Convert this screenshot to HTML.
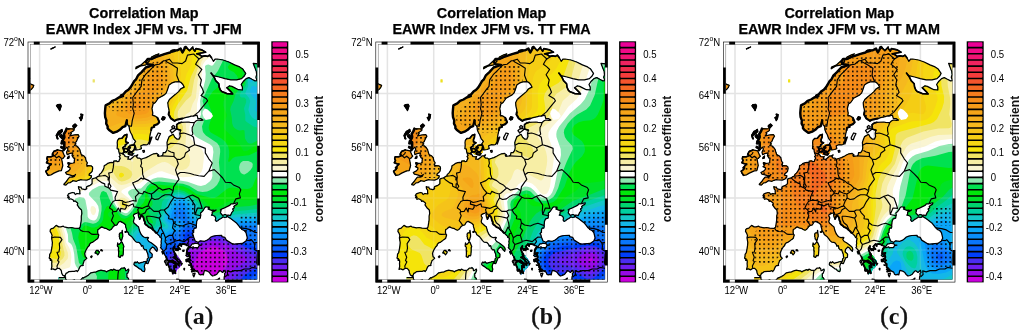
<!DOCTYPE html>
<html><head><meta charset="utf-8"><style>html,body{margin:0;padding:0;background:#fff;overflow:hidden}svg{display:block;will-change:transform}</style></head>
<body><svg width="1024" height="332" viewBox="0 0 1024 332">
<defs><clipPath id="fr"><rect x="28.5" y="42.5" width="230.6" height="239.1"/></clipPath><path id="land" d="M267.5 289.2l0-212.6-3.9-7.8-1.9-4.5-3.9-.4-4.6-.6 1.1 2.9 2 5.2 .4 3.3-.8 2.6 1.1 3.3-1.9 .3-3.1-1.6-3.1-1.7-2.7 1-2.7 2.6-2.3 3.3 1.2 2.6 0 2.9-3.9-.3-2.7-1.3-3.9-2-2.3-.6-2.7 1.9 3.9 3.9 1.9 2.3-5.8-.3-5-2-1.5-1.6-1.2-2.9-.4-3.3-3.1-3.2-1.5-3.3-3.1-4.2 2.3 2.6 5.8 1.3 5.8 1.6 5.8 1.3 5.8 0 5-1.3 2.7-2.6 1.4-2.6-2.9-4.3-3.1-2.2-5.1-2-5.8-2.9-5.7-2-5.8-1-2 0-1.9 2.3-1.9-3.6-2-2.6-1.9 1.3-2.7-.6-3.1 .6-1.9-1.6-3.1-1 8.9-1.6-3.9-2.3-5.8-1.3-1.1 2.6-2.7-3.6 .7-.5-3.4 3.5-3.1-3-.8-.7-3.1 5.6-1.9-3.9-3.1 1.6-4.7 .4-2.7 1.9-5 1.3-5.8 2-3.8 1.3-3.9 1.9-3.9 0-1.9 2.7 1.9 2.6 5.4 .6-7.3 2.6-4.2 4.6-3.5 3.2-2 4-1.9 1.9-1.9 3.3-1.6 2.6-2.3 2.6-2.7 1.9-2.3 2.7-2.7 1.3 2.3 .6-4.2 1.3-3.1 2-3.5 1.3-2.7 2.6-3.9 1.9-.4 3.9-.3 4 .3 3.9 1.2 3.2-.2 3.3 1.4 2.6 0 2 1.5 1.9 4.1 2.8 3.6-1.2 3.1-1.9 2.7-2.6 2.7-1 1.6-5.9 .8 4.6 1.1 1 .4 1 .4 3.2 1.1 2.6 1.2 2 1.4 3.9 2.3 2.8-1.6 2.4 1 1.6 1.1 3-.7 1.4 1.3 .1 2.5-.4 2.2-.8-.6-2.9 2.5-1.1 2.9 .1 1.5-.3 1.6-3 .4-4.2 .5-3 1-4.2 .4-2.3 2.7-.9-.4-1.4 3.5-1.3 1.9-1.9-.7-2-1.2-2.6-2.3-1.6-2.7-.9 .4-2-.8-4.7 1.1-4.5 2.2-1.5 2.1-3 .8-1.3 6.1-3.3 2-2 1.5-4.2 1.2-3.6 2.5-1.9 3.3-1.3 4.4-.2 1.6 .6 2.1 2.2 1.3 2.6-2.1 1-1.5 .9-2 2.6-3.4 3-2.4 1.9-3.4 3-1.6 3.2 .4 3.9 .8 3.3 0 2.4-.4 2.2 1.2 1.9 1.1 2 3.7 2.5 2.1-1.2 5.6-1.1 2.9-.9 4.6-1 1.2-.6 2.3 0 3.7-1 .9 3.3 3.1 .3 2 1.4-2 .2-3.1-.3-1.9 1-1.7 1.6-4.1-.3-1.9-.3-6.8 .3-2.7 .8-2.1 1.5 0 1.9 0 2.5 3.9 1.2-.8 3.2 .4 3.2-1.2 2.6-1.9 0-2.3-1.9-1.6-3-4 2.3-1.4 3.3-.8 2.6 .2 2.8 .2 2.4-.5 2.6-1.6 2.3-2.1 0-.4 2.3-1.2 1-3.6 .4-.4-.9 1-.5-1.8-1.5-3.1 .4-2.7 1.2-1.7 1-3.2 1.6-3 .9-2.1 .8-1.4-1.2-1.9 0-1.2-1.3 1.2-1.9-1.6 1-1.9 0-1.5 1.7-2.5 1.9-1.8-.7-.6 .3 1-2.6-1.1 .3-2.6-.3-.5-1.3-2.2-1.6 1.8-1.3-.8-3.3-.6-1.3 1.4-1 1.3-.9-.2-1 2.9-2-2.5-1 0-2.2 1-2.5 0-.8 .2-1.9-2.5 .9-2.5 3-2.7 .2-1.6 1.7-.4 2.3 .2 2.6-.3 3.5 1.5 .6 .2 2.1 .4 1.6 1.1 2.6-1.1 1 1.1 1.6-.8 1.5-.7 1.8-1.6 .3-.7-.9-2.8 .3 0 1.9-1.1-.3-.4-.3-2.3 .3-2.7 1-.4 .5-1.2 .8-1.3 .6-.4 2.3-.3 .9-.2 .6-1 1.8-.6 .8-.8 1.1-1.5 1.3-.4 1.4-.4 .3-1.6 .8-1.3 .9-.8 .2-1.9 .6-1.1 .6 .1 1 0 2.4 0 1-.9 .9-1.1 .8-2.7 1.1-.7 .4-.4 1.4 .5 .5-.6 .4-1.2 .5-2-.5-1.1-.2-.9-1.4 .1-.5-1.4 .2-1.3-.5 .4 2.1 1 1.3 0 2.3 .3 1.4-1.9-.1-1.2-.2-1.7 1-1.1-1.7-1.6-.3-2.1 .7-1.9 .6-1.1 2 1.4 .2-.7 .6 1.1 .7-1.6 .4 .9 .2 .5 1.3 1.7-.4 2.1 .9 1 1.6 1.2-.4 2.3 1.8 .4 1.1-.6 1 1.9 2.9 2.4 2.3 .4 3.4-.6 2.8 0 3.6-.4 2.9-.6 3.6-.3 1.1-.9 .7-.9 .3-3.9-.2-3-.7-2.7 .4-4.5-1-.8-.7-2.5 .7-2.1 0-2.5-1.5-2.1 2-.6 .7-1.9 .5-1.2 .9-.3 1.8 1.1 1.8 .9 2.4-.5 2.4 .2 1.1 .6 3.6-.3 3.3-.5 3.2-.7 3.6-1.2 1.6-.1 2.3-.4 1.4 .4 .6 1 .1-.3 1.7 1.3-.5 .3 1.9-.2 1.6 .2 3-.7 3.1 1.2-.5 .6-.1 2.3 .9 1.1-.9 1-.4 1.7-.2 1.5 1.3 .8 1.3 .2 1.8 1 2.3 1.7 1.1 1-.8 .7-1.9 1.1-.5 1.8-1.3 3.4-.2 2-.1 2.2-.6 .9 .8 1.2-1.7 1.2-2.8 1.2-1.3 1.2 0 1-.2-.3-1.4 .4-.8 .5-1.5 .3-1 1.3-1.2 1.4-1.2-.5-.8-1-.8-.6-3.1 .4-1.5 .8-1.9 .8-1.5 1.1-1.8 1.5-1.5 .1-1 1.4-1.6 2.1-.8 1.4-1 1.7-1.5 .8-.4 1.2-1.2 .3-1.3 .5-1.7-.7-.8-.4-1.7 0-1.3 .2-1.7 1.6-.8 .7-.8 1.6-1 1.5 .7 1.4 .6 1.9 .4 .8 .6 1.4 .7 .9 .3 1.3-.7 .6-.7 1-1.2 .4-.7 1-.9 .9-.6 1.1-.2 1-.4 1.7-2.8 1.7-.6 1.8 1 1.7 .9 1.6 1.5 .2 2.1 .8 2.3 0 1.8 1.7 1.5 .6 1.9 2.7 2 1.6 1.9 1.6 2.3 1.6 1.5 2.1 .2 1.2 .6 1.4 1.8 .4 1.5 1.5-.5 .6 2.7 1.4 1.5 1.4-.3 .7 2.4 .9 2.2 .2 2.4 .4 1-1.4 1.5 .3 1.2-.7 1.2-.3 1 .1 .9 1.5 .2 .8-2 1.1-2.9 .2-.9 1.9-.5 .1-1.2 .1-2-2.5-2.4 .4-2.3 2.4-2.4 1.8 1.1 1.1 1.7 1.5 1.6 .5-2.3-.6-1.6-1.5-1.6-2.5-2-1.7-1.2-2.3-1.2-1.4-2 1.1-1.8-.8-.3-2.3 .2-1.6-.6-1.1-.7-1.1-1.5-.7-.8-1.4-3.2-.3-1.5-.7-2.4-.4-.4-1.1-.7-1.2-1.3-1.3-.9-.7-.9-.4-1.4 1-3.5-1-1.8 .2-1.3 1.4-.8 .7-.3 1.9-.6 .6-.7 .9 .9-.1 .7-.6 .1-.2 .7 .3 1.3 .1 1 .8 1.3 .2 .7 1-2 .6-1.7 .5 0 1 1.1 .8 1.1 .6 3 .9 1.5-.2 1.2 .8 1.3 1.8 1.3 1.3 1.3 .7 .2 1 .4 1.3 .9 1.6 1.6 1 .6 1.5 2 1.7 1.3 1.2 1.1 1 1.2 .4 1.1 1.5 .8-.5 3.2 .2 2.1-.4 1.3 .3 2.1-.7 .5 .4 .6 1.3 1.3 1 1.5 .8 1.8 .2 .6 .5 1.5 1.4 2.1 .6 1.7 .7 1.9 1.3 .2 1.3 .3 2.5-.7 2.3 1.8-.3 1.4-3.3-2-1.2-.3-.1 .3-1.3 .6-1 1.5 .8 1.8 1.2 2.6 0 2.2 .2 .6 .9 .1 .6-1.5 1.1 2.2 .4 2.1 .3-2.4 .7-.4 1.2 2 .5 .4-.5-1.7-.8-2 .1-.9-.3-2.8 1.4 .8 .9 .7-.6-.2 .6-1.5-1.1-1.6-.4-.5 1.3-.5 1.1 .4 .3 .6 1.3 1.3 0-.4-.1-2-.1-.9-1.5-1.3 0-.7-1.2-.9-1.5-1.3-1.2-.5 1.2-.5 1.1-.6-.9-2 1.3 1.3-.4-1.6-1.1-1.3-.8-2-.4-1.3 0-1.1 1.4-2.3-.4 1.5 1.9 2.8 .4-1.5 1.4 1.5 .4-1.9 1.8 .7-1.5-1.6-.7-.8 2.3-2.7 1.1 .5 1.6-.6 3 .6 .6 .7 .2 .2 2.4 .8-2 2.6 0 1 .7-.7 1.2-1.7 1.6-1.2 1.6-2.4 1.7 0 1.2-.7 1.3 .3 1.4 .2 .3-1.3-2.9-1.3-1.2-3.1-.5-1.5-.6-2.1-.9-.5 .7-.3 .3-.8 .7-.2-.1-.8 .2-2.5 .9-1.3 1.2 .3 .5-1.3-.1-1.7 .3-2.3 0-1.2 .6-1.6 .7-1.3 2.4-.7 .2-1.6 .3-1.3-.1-.7-.2-1.6 1.3-1 .8-.9 1-1.3 1.1-1.9 1-.9 2.1 .1 1.4 0-1.2 .4 1.5 .6-1.5 1 3.5 1.3 1.5-.1 2.3 .4 .8-.6-1.9 1.3-2 .6 0 2.3-.7 1 1.1 0 2.2 1 .9 1.9-.4 2 1 1.3 1.5-.7 1.1-1.1 2.1-1.1 1.7-1.2 .4-.5 1.5 .7 1.9-.3 .4-1.7-.1-.3-1.4-.7-.8 0-1.9 1-2.3-2.6 .7-2.6-.7-.4 1.9-1.2 .4 0 5.4-2.6 1.9-1 1-1.3 2.1 0 3.1-.8 1.3-.2-.5 1.6-2 1-1.2 1 .5 1.3-1.6 1.3 .7 1.6-1.5 1.7-.7 1.6-.9 1.8-1.8-.5-1 0 .2 1.6 2.3 1.3 1.9 1.3 1 .9 3.9 3 2.6 3.4 .7 1 1.4 .7 .3 1.1 2.5 1 1.7 2 .9 3.6 .4 2.1-.6 1.1-.7 1.7-3.6 2.4-3 .2-5.2 .5-2-.4-3.5-2.1-2.4-1.5-1.5-2.7-2.9-.7-.2-1.4-5.3 .2-3 .6-2.4 .9-2.2 2-1.5 1.1-2.8 1.2-4.2-.5-2 1.5-.3 1.1 1.1 1.3 .4 .2 2 .2-1.6 .3-.9 .4-.7 1.5-.8 .3-1.9-.1-1.6 .3-.7-1-1.9 .7-.8 0-1.6 .3-1.1 1.3-.8 1-.2 1.9-.3 1.5 1.1-.1 2.3-.6-.9 1.8 .7 1.5 .2 1-.7 1.7 .9 1.4 .6 .2-2.5-1.8-.4 1.6-.4 .8 2 .8 .7 1.3 1 .9 0 2.1 .1 1.1 1.2 .8-1.1 1.6 2.7-.3-2.3 2.3 3.3-1 2.1 1 1.1 .5 .8 2.1 1.3 .7 1.3-.2 .7-.5 1 .7 .6-2.7 .5-1.8 2.7 .7 2.3 1.5 1.2 1.8 1.9 1.6 2-.5 2.3-1.3 1.5-2 1.3-1.3 1 0 1.9 1.5 1.6-1.3 .8-.8 .6 2.1-1.1 1.2 .3 2-.6 1.5-.1 2.2 .5 3.4 .4 6.5zM63.9 184.6l2 .5 2.3-2.2 1.9-.3 2.3-1.3 .4-.7 3.7 .7 2.1-1 2.3-.6 1.9 .3 4.1 .1 2.7-1.1 1.6-1.5 .3-1.6-2.5-.8 .4-1.3 1.4-1 1.3-1.5 .6-2.6-.2-1.8-1.5-1.1-3.1-.2-.8 .7-.4-1.6 .6-2-1-1.3-.7-2.6 0-.8-2-2.3-2.3-1.1-.8-2.3-.7-2.6-1.6-2.4-1.9-1.5-2-.4 1.7-1.5-1.3-1.1 1.6-1 1.5-3.5 1.3-2.1-.9-1.5-3.9 .2-4.6 1.1 1.7-2.4-.9-.9 3.5-2.3 .2-1.9-2.6 .3-5-.1-1.1 2.7-1.6 2.6 .4 3-1.5 3.5-.8 .7 2.3 1.3 0 4.6-.8 3.2 1.2-.6 2.3-2.6 1 1.9-1.4 3.3 .6 2.4 2.1-1.1 3.5-.7-.8 2.6 1.6 2.6 1.1 0-.4 2.7 0 1.9-1.1 .3-3.1 .7-1.9-.3 .7 2.6-1.3 .6 2.5 1.3 0 1.3-1.5 1.7-3.1 1.6 1.1 1.6 3.1 .7 2.7 1 2.3-.4 .8-1-1.2 2-1.9 .7-2.7 0-1.1 1.3-1.2 1.6-.8 1.3-2.7 2.9zM57.4 149.8l-1.2 .8-2.3 .7-1.6 2.9 1.6 1.3-3.1 1.3-3.5 0-.4 2 .8 1.6-1.2 2.3 2.4 1 2.3 .3-1.2 1.3-2.3 2.6 1.5 0-1.1 1.7-2.3 1.6 .7 1.6 1.6 2.6 3.1-.6 2.7-1.7 5-2.2 2.5-.2 1.4-5.2-.4-2.5-.8-4.2 1.2-.3 2.1-2.3-1-1.6-1.7-3.8-4.8-1zM24.1 93.6l3.1-1.6 2.3-1.3 2.4-2 1.1-1.3 .8-2.1-3.1-1.2-2.1-2.2 1.1-3.8-3.6 1.2-2-2.7zM59.7 130.8l-1.2 .6-2.3 3.9 1 3.6 .9 0-1.1-2.9 1.5-1.3 1.9-1 2-2.3-.4-1.9zM59.7 136l.7 1.3 2.4 1.9 1.1-1.6-2.3-2.9zM68.2 164l1.1 .3 1-.9-2.1-.8zM135.8 68.8l4.2-2.6 5.8-1.3 3.5-3.9-.8-2-3.9 2.7-3.8 3.5-4.7 2zM150.4 59.4l2-.4 3.8-1.9 2.7-3.3-3.4 1.3-3.9 2zM172.5 52.2l2.7-.7-.8-1.6-3.5 .7zM184 48.3l2 0 1.1-1-2.7-.3zM130.4 147.7l-1.6 1.3 .4 2 2.3 1 1.2-.7 1.1-1 .8-1.9 .2-2.8-1.4-.7-2.7 .5-2.5 2zM124 151.3l2.5 .8 1.3-1.1-.3-2-2.2-.6-1.7 .9zM128.4 153.9l1.2 .7 2.5 .5 1-1.5-1.2-.7-3.5-.3zM175.5 258.6l1.6 1.3 .8 1.3 1.9 2.2 1.2-1.3-1.6-2.2-2.3-1.7-1-1.6-1.9 .3zM162.8 254l.8-.7-.6-1.9-1.2 .3zM187.1 256.6l1.6-.3-1.2-2.3-1.7 1.3zM95.2 253.2l1-.3 .4 .4 1.1 1.5 1-1.1 .7-1.8-1.4-.8 .3-.8-1.9 .1-1.4 2.3zM122.1 230.8l-.2 1.8-1.5 .3-.7 .4-.5 1.1 .3 .9-.3 .9 .5 1.4 0 1.4 .6 .2 1 1.9 .6-1.5 .3-1.6 .6-1.6-.1-2-.3-1.9-.2-2.1zM120.3 243.2l-.8 .9-1.1 .5-.7-1.7-.3 2.4 .1 1.1 .5 .1 .7 1.6-.3 .7 .1 2.3 .5 0-.4 .5 0 3-.2 2 1.7 .8 .6-.8 .4-1.3 1.6 .6 .4-1.3 .3-4.1 0-2.9 .5-1-1-2.5-.7-1.7-.9-.5zM146.4 261.4l-1.6 .1-1.9 .6-2.8 .8-1.2 .4-1.4-1-.2-.6-1.5 1.2-.7-1-.9 1.1-.3 1.4 .7 1 1.9 1 1.7 1.4 1.5 1.2 1.3 .2 .7 1.2 1.6 1.1 1.1 .2 .6-2.5-.3-1.1-.4-1.7 .7-2.3 1-2.2zM58.9 289.2l69.5 0 .4-6.5-.2-3.9-.8-1.1-.8-.4-.1-3.7 .8-.4 1.1-2.6-.2-1.5-1.7 1.2-1.2 .3-.4-1.9-1.3-1.2 .1 .4-2.6 .2-1.8 1.9-1.1 .3-2.7 0-2.3-1.2-1 1.3-1.3-.8-3.1 1.2-1.8 1.1-.8-.8-3.8-.8-.7-.1-2.8 .7-.6 .2-2.3 1.1-1 0-3.4 .6-2.4 2.1-2.4 1.7-1.4 .5-1.3 1-.7-.4-2.7 3-1.3 1.3-1.4 .1-2.8-1.2-.1-1.1-3.7 1.2-3.4 .4-1.9-2.6 0-2-2 .8-.4-.1-4.2 0zM174.4 256.6l1.5 2.6-1.1 4.6-1.6 5.8 0 4.6 2.3-.6 1.6-4 2.3-1.9 1.2-2 1.1-3.9-2.3-3.2-2.3-3.3-2.7-1.3zM123.8 152.3l4.6 2.6 6.2-2 .4-7.8-4.6-.6-3.5 1.3-2.3 3.2z"/><clipPath id="ld"><use href="#land"/></clipPath><path id="coast" d="M263.6 68.8l-1.9-4.5-3.9-.4-4.6-.6 1.1 2.9 2 5.2 .4 3.3-.8 2.6 1.1 3.3-1.9 .3-3.1-1.6-3.1-1.7-2.7 1-2.7 2.6-2.3 3.3 1.2 2.6 0 2.9-3.9-.3-2.7-1.3-3.9-2-2.3-.6-2.7 1.9 3.9 3.9 1.9 2.3-5.8-.3-5-2-1.5-1.6-1.2-2.9-.4-3.3-3.1-3.2-1.5-3.3-3.1-4.2 2.3 2.6 5.8 1.3 5.8 1.6 5.8 1.3 5.8 0 5-1.3 2.7-2.6 1.4-2.6-2.9-4.3-3.1-2.2-5.1-2-5.8-2.9-5.7-2-5.8-1-2 0-1.9 2.3-1.9-3.6-2-2.6-1.9 1.3-2.7-.6-3.1 .6-1.9-1.6-3.1-1 8.9-1.6-3.9-2.3-5.8-1.3-1.1 2.6-2.7-3.6 .7-.5-3.4 3.5-3.1-3-.8-.7-3.1 5.6-1.9-3.9-3.1 1.6-4.7 .4-2.7 1.9-5 1.3-5.8 2-3.8 1.3-3.9 1.9-3.9 0-1.9 2.7 1.9 2.6 5.4 .6-7.3 2.6-4.2 4.6-3.5 3.2-2 4-1.9 1.9-1.9 3.3-1.6 2.6-2.3 2.6-2.7 1.9-2.3 2.7-2.7 1.3 2.3 .6-4.2 1.3-3.1 2-3.5 1.3-2.7 2.6-3.9 1.9-.4 3.9-.3 4 .3 3.9 1.2 3.2-.2 3.3 1.4 2.6 0 2 1.5 1.9 4.1 2.8 3.6-1.2 3.1-1.9 2.7-2.6 2.7-1 1.6-5.9 .8 4.6 1.1 1 .4 1 .4 3.2 1.1 2.6 1.2 2 1.4 3.9 2.3 2.8-1.6 2.4 1 1.6 1.1 3-.7 1.4 1.3 .1 2.5-.4 2.2-.8-.6-2.9 2.5-1.1 2.9 .1 1.5-.3 1.6-3 .4-4.2 .5-3 1-4.2 .4-2.3 2.7-.9-.4-1.4 3.5-1.3 1.9-1.9-.7-2-1.2-2.6-2.3-1.6-2.7-.9 .4-2-.8-4.7 1.1-4.5 2.2-1.5 2.1-3 .8-1.3 6.1-3.3 2-2 1.5-4.2 1.2-3.6 2.5-1.9 3.3-1.3 4.4-.2 1.6 .6 2.1 2.2 1.3 2.6-2.1 1-1.5 .9-2 2.6-3.4 3-2.4 1.9-3.4 3-1.6 3.2 .4 3.9 .8 3.3 0 2.4-.4 2.2 1.2 1.9 1.1 2 3.7 2.5 2.1-1.2 5.6-1.1 2.9-.9 4.6-1 1.2-.6 2.3 0 3.7-1 .9 3.3 3.1 .3 2 1.4-2 .2-3.1-.3-1.9 1-1.7 1.6-4.1-.3-1.9-.3-6.8 .3-2.7 .8-2.1 1.5 0 1.9 0 2.5 3.9 1.2-.8 3.2 .4 3.2-1.2 2.6-1.9 0-2.3-1.9-1.6-3-4 2.3-1.4 3.3-.8 2.6 .2 2.8 .2 2.4-.5 2.6-1.6 2.3-2.1 0-.4 2.3-1.2 1-3.6 .4-.4-.9 1-.5-1.8-1.5-3.1 .4-2.7 1.2-1.7 1-3.2 1.6-3 .9-2.1 .8-1.4-1.2-1.9 0-1.2-1.3 1.2-1.9-1.6 1-1.9 0-1.5 1.7-2.5 1.9-1.8-.7-.6 .3 1-2.6-1.1 .3-2.6-.3-.5-1.3-2.2-1.6 1.8-1.3-.8-3.3-.6-1.3 1.4-1 1.3-.9-.2-1 2.9-2-2.5-1 0-2.2 1-2.5 0-.8 .2-1.9-2.5 .9-2.5 3-2.7 .2-1.6 1.7-.4 2.3 .2 2.6-.3 3.5 1.5 .6 .2 2.1 .4 1.6 1.1 2.6-1.1 1 1.1 1.6-.8 1.5-.7 1.8-1.6 .3-.7-.9-2.8 .3 0 1.9-1.1-.3-.4-.3-2.3 .3-2.7 1-.4 .5-1.2 .8-1.3 .6-.4 2.3-.3 .9-.2 .6-1 1.8-.6 .8-.8 1.1-1.5 1.3-.4 1.4-.4 .3-1.6 .8-1.3 .9-.8 .2-1.9 .6-1.1 .6 .1 1 0 2.4 0 1-.9 .9-1.1 .8-2.7 1.1-.7 .4-.4 1.4 .5 .5-.6 .4-1.2 .5-2-.5-1.1-.2-.9-1.4 .1-.5-1.4 .2-1.3-.5 .4 2.1 1 1.3 0 2.3 .3 1.4-1.9-.1-1.2-.2-1.7 1-1.1-1.7-1.6-.3-2.1 .7-1.9 .6-1.1 2 1.4 .2-.7 .6 1.1 .7-1.6 .4 .9 .2 .5 1.3 1.7-.4 2.1 .9 1 1.6 1.2-.4 2.3 1.8 .4 1.1-.6 1 1.9 2.9 2.4 2.3 .4 3.4-.6 2.8 0 3.6-.4 2.9-.6 3.6-.3 1.1-.9 .7-.9 .3-3.9-.2-3-.7-2.7 .4-4.5-1-.8-.7-2.5 .7-2.1 0-2.5-1.5-2.1 2-.6 .7-1.9 .5-1.2 .9-.3 1.8 1.1 1.8 .9 2.4-.5 2.4 .2 1.1 .6 3.6-.3 3.3-.5 3.2-.7 3.6-1.2 1.6-.1 2.3-.4 1.4 .4 .6 1 .1-.3 1.7 1.3-.5 .3 1.9-.2 1.6 .2 3-.7 3.1 1.2-.5 .6-.1 2.3 .9 1.1-.9 1-.4 1.7-.2 1.5 1.3 .8 1.3 .2 1.8 1 2.3 1.7 1.1 1-.8 .7-1.9 1.1-.5 1.8-1.3 3.4-.2 2-.1 2.2-.6 .9 .8 1.2-1.7 1.2-2.8 1.2-1.3 1.2 0 1-.2-.3-1.4 .4-.8 .5-1.5 .3-1 1.3-1.2 1.4-1.2-.5-.8-1-.8-.6-3.1 .4-1.5 .8-1.9 .8-1.5 1.1-1.8 1.5-1.5 .1-1 1.4-1.6 2.1-.8 1.4-1 1.7-1.5 .8-.4 1.2-1.2 .3-1.3 .5-1.7-.7-.8-.4-1.7 0-1.3 .2-1.7 1.6-.8 .7-.8 1.6-1 1.5 .7 1.4 .6 1.9 .4 .8 .6 1.4 .7 .9 .3 1.3-.7 .6-.7 1-1.2 .4-.7 1-.9 .9-.6 1.1-.2 1-.4 1.7-2.8 1.7-.6 1.8 1 1.7 .9 1.6 1.5 .2 2.1 .8 2.3 0 1.8 1.7 1.5 .6 1.9 2.7 2 1.6 1.9 1.6 2.3 1.6 1.5 2.1 .2 1.2 .6 1.4 1.8 .4 1.5 1.5-.5 .6 2.7 1.4 1.5 1.4-.3 .7 2.4 .9 2.2 .2 2.4 .4 1-1.4 1.5 .3 1.2-.7 1.2-.3 1 .1 .9 1.5 .2 .8-2 1.1-2.9 .2-.9 1.9-.5 .1-1.2 .1-2-2.5-2.4 .4-2.3 2.4-2.4 1.8 1.1 1.1 1.7 1.5 1.6 .5-2.3-.6-1.6-1.5-1.6-2.5-2-1.7-1.2-2.3-1.2-1.4-2 1.1-1.8-.8-.3-2.3 .2-1.6-.6-1.1-.7-1.1-1.5-.7-.8-1.4-3.2-.3-1.5-.7-2.4-.4-.4-1.1-.7-1.2-1.3-1.3-.9-.7-.9-.4-1.4 1-3.5-1-1.8 .2-1.3 1.4-.8 .7-.3 1.9-.6 .6-.7 .9 .9-.1 .7-.6 .1-.2 .7 .3 1.3 .1 1 .8 1.3 .2 .7 1-2 .6-1.7 .5 0 1 1.1 .8 1.1 .6 3 .9 1.5-.2 1.2 .8 1.3 1.8 1.3 1.3 1.3 .7 .2 1 .4 1.3 .9 1.6 1.6 1 .6 1.5 2 1.7 1.3 1.2 1.1 1 1.2 .4 1.1 1.5 .8-.5 3.2 .2 2.1-.4 1.3 .3 2.1-.7 .5 .4 .6 1.3 1.3 1 1.5 .8 1.8 .2 .6 .5 1.5 1.4 2.1 .6 1.7 .7 1.9 1.3 .2 1.3 .3 2.5-.7 2.3 1.8-.3 1.4-3.3-2-1.2-.3-.1 .3-1.3 .6-1 1.5 .8 1.8 1.2 2.6 0 2.2 .2 .6 .9 .1 .6-1.5 1.1 2.2 .4 2.1 .3-2.4 .7-.4 1.2 2 .5 .4-.5-1.7-.8-2 .1-.9-.3-2.8 1.4 .8 .9 .7-.6-.2 .6-1.5-1.1-1.6-.4-.5 1.3-.5 1.1 .4 .3 .6 1.3 1.3 0-.4-.1-2-.1-.9-1.5-1.3 0-.7-1.2-.9-1.5-1.3-1.2-.5 1.2-.5 1.1-.6-.9-2 1.3 1.3-.4-1.6-1.1-1.3-.8-2-.4-1.3 0-1.1 1.4-2.3-.4 1.5 1.9 2.8 .4-1.5 1.4 1.5 .4-1.9 1.8 .7-1.5-1.6-.7-.8 2.3-2.7 1.1 .5 1.6-.6 3 .6 .6 .7 .2 .2 2.4 .8-2 2.6 0 1 .7-.7 1.2-1.7 1.6-1.2 1.6-2.4 1.7 0 1.2-.7 1.3 .3 1.4 .2 .3-1.3-2.9-1.3-1.2-3.1-.5-1.5-.6-2.1-.9-.5 .7-.3 .3-.8 .7-.2-.1-.8 .2-2.5 .9-1.3 1.2 .3 .5-1.3-.1-1.7 .3-2.3 0-1.2 .6-1.6 .7-1.3 2.4-.7 .2-1.6 .3-1.3-.1-.7-.2-1.6 1.3-1 .8-.9 1-1.3 1.1-1.9 1-.9 2.1 .1 1.4 0-1.2 .4 1.5 .6-1.5 1 3.5 1.3 1.5-.1 2.3 .4 .8-.6-1.9 1.3-2 .6 0 2.3-.7 1 1.1 0 2.2 1 .9 1.9-.4 2 1 1.3 1.5-.7 1.1-1.1 2.1-1.1 1.7-1.2 .4-.5 1.5 .7 1.9-.3 .4-1.7-.1-.3-1.4-.7-.8 0-1.9 1-2.3-2.6 .7-2.6-.7-.4 1.9-1.2 .4 0 5.4-2.6 1.9-1 1-1.3 2.1 0 3.1-.8 1.3-.2-.5 1.6-2 1-1.2 1 .5 1.3-1.6 1.3 .7 1.6-1.5 1.7-.7 1.6-.9 1.8-1.8-.5-1 0 .2 1.6 2.3 1.3 1.9 1.3 1 .9 3.9 3 2.6 3.4 .7 1 1.4 .7 .3 1.1 2.5 1 1.7 2 .9 3.6 .4 2.1-.6 1.1-.7 1.7-3.6 2.4-3 .2-5.2 .5-2-.4-3.5-2.1-2.4-1.5-1.5-2.7-2.9-.7-.2-1.4-5.3 .2-3 .6-2.4 .9-2.2 2-1.5 1.1-2.8 1.2-4.2-.5-2 1.5-.3 1.1 1.1 1.3 .4 .2 2 .2-1.6 .3-.9 .4-.7 1.5-.8 .3-1.9-.1-1.6 .3-.7-1-1.9 .7-.8 0-1.6 .3-1.1 1.3-.8 1-.2 1.9-.3 1.5 1.1-.1 2.3-.6-.9 1.8 .7 1.5 .2 1-.7 1.7 .9 1.4 .6 .2-2.5-1.8-.4 1.6-.4 .8 2 .8 .7 1.3 1 .9 0 2.1 .1 1.1 1.2 .8-1.1 1.6 2.7-.3-2.3 2.3 3.3-1 2.1 1 1.1 .5 .8 2.1 1.3 .7 1.3-.2 .7-.5 1 .7 .6-2.7 .5-1.8 2.7 .7 2.3 1.5 1.2 1.8 1.9 1.6 2-.5 2.3-1.3 1.5-2 1.3-1.3 1 0 1.9 1.5 1.6-1.3 .8-.8 .6 2.1-1.1 1.2 .3 2-.6 1.5-.1 2.2 .5 3.4M63.9 184.6l2 .5 2.3-2.2 1.9-.3 2.3-1.3 .4-.7 3.7 .7 2.1-1 2.3-.6 1.9 .3 4.1 .1 2.7-1.1 1.6-1.5 .3-1.6-2.5-.8 .4-1.3 1.4-1 1.3-1.5 .6-2.6-.2-1.8-1.5-1.1-3.1-.2-.8 .7-.4-1.6 .6-2-1-1.3-.7-2.6 0-.8-2-2.3-2.3-1.1-.8-2.3-.7-2.6-1.6-2.4-1.9-1.5-2-.4 1.7-1.5-1.3-1.1 1.6-1 1.5-3.5 1.3-2.1-.9-1.5-3.9 .2-4.6 1.1 1.7-2.4-.9-.9 3.5-2.3 .2-1.9-2.6 .3-5-.1-1.1 2.7-1.6 2.6 .4 3-1.5 3.5-.8 .7 2.3 1.3 0 4.6-.8 3.2 1.2-.6 2.3-2.6 1 1.9-1.4 3.3 .6 2.4 2.1-1.1 3.5-.7-.8 2.6 1.6 2.6 1.1 0-.4 2.7 0 1.9-1.1 .3-3.1 .7-1.9-.3 .7 2.6-1.3 .6 2.5 1.3 0 1.3-1.5 1.7-3.1 1.6 1.1 1.6 3.1 .7 2.7 1 2.3-.4 .8-1-1.2 2-1.9 .7-2.7 0-1.1 1.3-1.2 1.6-.8 1.3-2.7 2.9zM57.4 149.8l4.8 1 1.7 3.8 1 1.6-2.1 2.3-1.2 .3 .8 4.2 .4 2.5-1.4 5.2-2.5 .2-5 2.2-2.7 1.7-3.1 .6-1.6-2.6-.7-1.6 2.3-1.6 1.1-1.7-1.5 0 2.3-2.6 1.2-1.3-2.3-.3-2.4-1 1.2-2.3-.8-1.6 .4-2 3.5 0 3.1-1.3-1.6-1.3 1.6-2.9 2.3-.7 1.2-.8zM24.1 76.6l2 2.7 3.6-1.2-1.1 3.8 2.1 2.2 3.1 1.2-.8 2.1-1.1 1.3-2.4 2-2.3 1.3-3.1 1.6M51 48.9l1.7-.9 2.5-1-.5 .3-2.8 1.3zM57.4 104.7l3-.3 .8 1.6-1.5 4.6-.8-1.4-2.3-3.2zM80.9 114.1l1.9 .4-.7 3.9-1.2 2.3-.6-1.7-.9-1.3 1.9-1.3zM73 125.5l2.1-1.6 1.6 1.6-2 2.3-1.5-.6zM62 129.5l.4 1.9-2 2.3-1.9 1-1.5 1.3 1.1 2.9-.9 0-1-3.6 2.3-3.9 1.2-.6zM61.6 134.7l2.3 2.9-1.1 1.6-2.4-1.9-.7-1.3zM61.6 141.8l2.3 .7-1.1 1.3-1.6 0zM61.2 146.4l1.6 .7-.4 1.3-1.6-.7zM69.1 156.2l-.2 1.9-1.5 .4 .4-1.3zM68.2 162.6l2.1 .8-1 .9-1.1-.3zM135.8 68.8l4.2-2.6 5.8-1.3 3.5-3.9-.8-2-3.9 2.7-3.8 3.5-4.7 2zM151.6 57.1l3.9-2 3.4-1.3-2.7 3.3-3.8 1.9-2 .4zM170.9 50.6l3.5-.7 .8 1.6-2.7 .7zM184.4 47l2.7 .3-1.1 1-2 0zM155.8 137.6l2.4-4.6 2.3 .7-1.4 2.9-1.3 3.3-1.8-.7zM149.5 144.1l2.5-7.1-.8 .3-1.9 4.5zM142.7 150.6l1.6-.3 .2 1.7-1.2 .4zM128.2 147.4l2.5-2 2.7-.5 1.4 .7-.2 2.8-.8 1.9-1.1 1-1.2 .7-2.3-1-.4-2 1.6-1.3zM123.6 149.3l1.7-.9 2.2 .6 .3 2-1.3 1.1-2.5-.8zM128.4 152.6l3.5 .3 1.2 .7-1 1.5-2.5-.5-1.2-.7zM170.1 130.8l1.6-1.7 3.1-.6 1.3 1-2.5 1.9-1.9 1.6-.8-1.6zM171.7 126.9l1.5-1.4 1.6 1-.4 1.3-1.9 .4zM161.6 119l1.2-2.3 2.3 .7-.6 2-1.5 .6zM174.2 256.9l1.9-.3 1 1.6 2.3 1.7 1.6 2.2-1.2 1.3-1.9-2.2-.8-1.3-1.6-1.3zM161.8 251.7l1.2-.3 .6 1.9-.8 .7zM164.5 261.2l1.2-1.3 .6 2.2-1.2 .7zM165.7 263.8l1.2 .3-.4 1.3zM185.8 255.3l1.7-1.3 1.2 2.3-1.6 .3zM185.8 259.5l1.1-.3 0 2.6-.9-.3zM188.5 264.8l1.9 0-.6 .6-1.1 0zM182.7 250.4l1.5-.3-.3 1.3-1 0zM180.6 245.2l1.1-.2-.2 1.5-.7-.3zM192.9 273.6l2.2-.4-1.2 3.6-.8-1.3zM183.9 268.3l.7 0-.2 1.7-.5-.4zM181.3 263.4l1 0-1 1.7zM176.7 279.1l1.9 .2 1.2 1.1 .7-.1 2.5 .2 2.2 .2 1.5 .7 .8-.7-.4 2-10-1.3zM210.7 282l3.9-1.5 2.7-.8 2.3-1.6-2.3 4.6-5.4 1.9zM95 252.7l1.4-2.3 1.9-.1-.3 .8 1.4 .8-.7 1.8-1 1.1-1.1-1.5-.4-.4-1 .3zM100.6 250.1l1-.5 .9 1.3-1.7-.3zM90.6 256.9l.9-1.1 .6 .5-.8 1.3zM122.2 230.4l.2 2.1 .3 1.9 .1 2-.6 1.6-.3 1.6-.6 1.5-1-1.9-.6-.2 0-1.4-.5-1.4 .3-.9-.3-.9 .5-1.1 .7-.4 1.5-.3 .2-1.8zM121.3 241.9l.9 .5 .7 1.7 1 2.5-.5 1 0 2.9-.3 4.1-.4 1.3-1.6-.6-.4 1.3-.6 .8-1.7-.8 .2-2 0-3 .4-.5-.5 0-.1-2.3 .3-.7-.7-1.6-.5-.1-.1-1.1 .3-2.4 .7 1.7 1.1-.5 .8-.9zM146.4 261.4l-1.6 .1-1.9 .6-2.8 .8-1.2 .4-1.4-1-.2-.6-1.5 1.2-.7-1-.9 1.1-.3 1.4 .7 1 1.9 1 1.7 1.4 1.5 1.2 1.3 .2 .7 1.2 1.6 1.1 1.1 .2 .6-2.5-.3-1.1-.4-1.7 .7-2.3 1-2.2zM124.9 231.8l1.4-.4-.2 .9-1 0zM58.9 277.5l4.2 0 .4 .1 2-.8 0 2 1.9 2.6 3.4-.4 3.7-1.2 .1 1.1 2.8 1.2 1.4-.1 1.3-1.3 2.7-3 .7 .4 1.3-1 1.4-.5 2.4-1.7 2.4-2.1 3.4-.6 1 0 2.3-1.1 .6-.2 2.8-.7 .7 .1 3.8 .8 .8 .8 1.8-1.1 3.1-1.2 1.3 .8 1-1.3 2.3 1.2 2.7 0 1.1-.3 1.8-1.9 2.6-.2-.1-.4 1.3 1.2 .4 1.9 1.2-.3 1.7-1.2 .2 1.5-1.1 2.6-.8 .4 .1 3.7 .8 .4 .8 1.1 .2 3.9" fill="none" stroke="#000" stroke-width="1.25" stroke-linejoin="round"/><path id="bord" d="M128.8 125.9l2.7 .3 .8-5.9 1.9-7.1-1.5-4.6 .7-3.9-.7-7.2 5.8-7.8 2.7-3.3 .7-6.5 3.5-5.2 3.9-3.9 5.8-5.9 4.2-.6 4.3-3.6 1.7-.1M165.3 60.6l1.7 1.4 5.5 2.9 5 3.3-.8 7.1 2.5 6.4M165.3 60.6l4.1-1.4 3.1 3.8 4.6 0 5 .6 3.5-2.6 1.9-5.9 6.2-1.1 1.9 1.8 3.5 3.2-1.5 1.7M197.6 60.7l1.5-1.7 3.1-1.9 2.9-1.3M197.6 60.7l-2 3.6 3.5 2.6 2.7 2.6-3.5 5.2 3.1 5.2-1.1 5.2 1.9 3.3 1.5 3.9-2.7 3.3 5.4 3.2 1.2 2-5.8 7.1-3.1 4-5.4 4.2M194.3 122.6l-1 2.9-1.1 2 0 3.3 .7 3.2-1.3 1.7M180 133.6l3.7-.6 2.7 .7 5.2 2M191.6 135.7l1.9 1.6 1.2 7.5-4.5 2.3-1.5 .6M167.2 145.3l3.7-2.1 7.7 .6 3.9 1 6.2 2.9M188.7 147.7l.8 2.6-3.9 2.6-1.2 3.9-4.2 2.7-3.5-.4M168 150.6l2.9 1.4 3.1 .9 0 3.6 2.7 2.6M161.6 155.9l12.4 .6M176.7 159.1l1.6 4.9-1.6 3.3-1.2 2.6 1.6 4.9 1.9 4.5-2.3 3-3.1 4.5-.4 3.9M173.2 190.7l-3.8-2.2-2.7 .6-4.3 1-3.1-2-.6 0-3.2-3.2-3.9-2-2.7-2.3-5-2.2-.8 .9M143.1 179.3l.8-1.6-1.2-3.3-.4-6.5-1.7-1.6 1-2.9-.6-4.1M143.1 179.3l-1.9-1.3-3.1 2.6-3.9 1.7-1.5 .6 1.5 3.3 1.6 2.9 3.4 3.9M139.2 193l-1.5 1.3-2.3 2.3 .7 4.6-3-.7-4.3 1.3-3.5 .7-2.3-1.3M123 200.9l-3.8-.7-3.9 .3-.2-3.2 2.5-5.7-6.9-1.5-1.2-1.6M109.5 188.5l1.5-2.3-1.5-2.3-.4-3.9 .4-2.9-.8-4 3.5-.9 1-4.3 .5-4.5M119.2 152.9l3.2 .7M99.1 176.1l3.4-.3 2.7-.4 3.1 2-.3 2.6 1.1 0M95.8 177.8l2.5 2.5 3.9 2.6 2.5 1 .2 2.3 3.4 1.6 1.2 .7M108.3 187.8l0-3.9 1.2 0M115.3 200.5l-2.3 1-.4 .7-1.7 2.6-1.4 3.2 2.7 1.7 .8 1.9-.8 1.3 1.2 2.9-2 4.9 1.6 2 1.9 2.7M113 211.6l3.3-.1 2.1-3.5 1.9 3.9 .4-3.5 4.2 .9 1.4-1.9 0-2.3M123 201.2l-.4 2.9 3.7 1M126.3 205.1l2.1 1 4.7-2.3 .7 2.9 5.1 .9 3 .8 4.3-2 1.5 0 .4-1 1.6-4.2 2.1-3.3-.4-3.9-3.7-1-3.8-1.6-1.2 2.6-3.5-1M151.4 194l2.1-1.3 2.3-2 2.9-2.6M151.8 197.9l2.9 1.6 3.9-.6 3-2.3 3.5-1.9 4.3 0 1.9 .6 1.9-4.6M171.3 195.3l2.7 2-3.1 4.5-2.7 5.2-3.9 3-3.4 0-2 1.3-5 0-3.8-3.5-2-2.4M138.9 207.6l-1.2 2.1 .8 2.6 .4 1.3M138.5 214.2l3.4 0 3.1-1.3 1.6-3.2 3.5-1.9M146.6 216.2l3.1 0 3.8 .6 5.8 1.3 1.6-2.3-2-4.5M146.6 216.2l.4 3.2 1.5 3.3 3.1 2.6 2.3 5.2 3.5 2.6M159.3 218.1l1.4 4.6 .9 4.6-1.5 0-2.7 5.8M164.3 210l1.6 2.9 3.1 3.3-.4 2.6 4.2 .6 .8 3.3-1.1 5.2 2.3 2.6-2.3 4.6-3.5 .3-3.5 2.3-1.9-4.6-2-3.9-1.5-1.9M160.9 237.7l.7-3.9 2-.7M165.5 237.7l-.4 3.9 1.9 2.9-1.1 4.3-2.7 3.2M167 244.5l5.5-1.9 2.3-1M172.5 235.1l1.9 6.2M174.8 241.3l3.8-1 5.8 1.3 3.1-2.6 1.2 2.6-2.3 3.3M187.5 239l2.7-2 3.9 .2M173.6 222.7l3.1 2.3 5.8 1 3.9-1.7 3.8-1 6.2 2.3M174 197.3l2.7 .9 3.9 0 3.8 .4 4.3-2.3 2.7 3.6 3.5 5.2-.4 5.9 .4 3.5 5.8 1.3M188.7 196.3l3.8-1.3 6.2 3.2 1.6 4.3 1.9 5.9-4.6-.4-2.7 6.5M177.1 174.8l3.1-2.3 4.2 0 5.8 1 3.9 1.3 4.6 1 5.4 .6 4.7-5.2 5.4-1.6 4.6 4.2 3.9 4.2 2.7 4.3 5.4 .3 2.7 2.3 5.8 2.6 1.5 2.3-1.5 4.2 1.1 3.9-4.6 1-2.3 4.9M194.7 144.8l4.8 1.3 5.8 2.3 0 4.5 3.5 5.9 3.4 4.2-3.4 8.2M240.4 227.9l5.8 .7 4.7 1.3 4.2 2.6 2.7 0 3.1 1.3 1.9 3.9M246.4 240.3l3.7 .3 1.2-1 2.7 3.3 5.8-.6M251.3 239.6l2.7 3.3 .7 2.6-.4 3.9 4.7 2.6M225 277.1l2.7-2.6-.4-3.6 3.5 1 3.8-1.3 5.8 0 3.9-1.6 5.2 0 2.5-1.6 5 .9 2-.6-2.3-4.6 .7-9.1 1.6-2M51.6 237.9l3.1-.9 5.7 .4 1.6 2.2-2.7 4 .4 4.5-.8 3.9-1.9 .4 1.9 4.9-1.2 3.2 1.4 1.3-2.1 4.3 .4 2.4M79.1 228.1l1.4 2.1 2.7 1.3 5.4 .3 2.9 2.3 2 .3 4.6-.2M57.7 152l-.9 1.9-2.3 2 2.1 1.9 2.3-1.6 2.7 2.3M77.4 282.1l1.6 3.8M118.6 270.3l-.6 3.9-.4 7.2" fill="none" stroke="#000" stroke-width="1.15" stroke-linejoin="round"/><g id="rug" fill="none" stroke="#000" stroke-linejoin="round" stroke-linecap="round"><path d="M185.6 46.9l-3.1 5.6-1.9-3.9-3.1 1.6-4.7 .4-2.7 1.9-5 1.3-5.8 2-3.8 1.3-3.9 1.9-3.9 0-1.9 2.7 1.9 2.6 5.4 .6-7.3 2.6-4.2 4.6-3.5 3.2-2 4-1.9 1.9-1.9 3.3-1.6 2.6-2.3 2.6-2.7 1.9-2.3 2.7-2.7 1.3 2.3 .6-4.2 1.3-3.1 2-3.5 1.3-2.7 2.6-3.9 1.9-.4 3.9-.3 4 .3 3.9 1.2 3.2-.2 3.3 1.4 2.6 0 2 1.5 1.9 4.1 2.8 3.6-1.2 3.1-1.9 2.7-2.6 2.7-1 1.6-5.9" stroke-width="2.4"/><path d="M211.5 57.7l-2-2.6-1.9 1.3-2.7-.6-3.1 .6-1.9-1.6-3.1-1 8.9-1.6-3.9-2.3-5.8-1.3-1.1 2.6-2.7-3.6 .7-.5-3.4 3.5-3.1-3-.8-.7M181.5 122.3l-2.7 .8-2.1 1.5 0 1.9 0 2.5 3.9 1.2M122.4 153.6l1.8-1.3-.8-3.3-.6-1.3 1.4-1 1.3-.9-.2-1 2.9-2-2.5-1 0-2.2 1-2.5 0-.8 .2-1.9-2.5 .9-2.5 3-2.7 .2M226.9 87.7l3.9 3.9 1.9 2.3-5.8-.3-5-2-1.5-1.6-1.2-2.9-.4-3.3-3.1-3.2-1.5-3.3-3.1-4.2M48.1 175.4l-1.6-2.6-.7-1.6 2.3-1.6 1.1-1.7-1.5 0 2.3-2.6 1.2-1.3-2.3-.3-2.4-1 1.2-2.3-.8-1.6 .4-2 3.5 0 3.1-1.3-1.6-1.3 1.6-2.9 2.3-.7 1.2-.8M124.2 152.3l-.8-3.3-.6-1.3 1.4-1 1.3-.9-.2-1 2.9-2-2.5-1 0-2.2 1-2.5 0-.8" stroke-width="1.6"/><path d="M66.6 128.7l-1.1 2.7-1.6 2.6 .4 3-1.5 3.5-.8 .7 2.3 1.3 0 4.6-.8 3.2" stroke-width="2.6"/><path d="M139.6 219l1-2 .6-1.7 .5 0 1 1.1 .8 1.1 .6 3 .9 1.5-.2 1.2 .8 1.3 1.8 1.3 1.3 1.3 .7 .2 1 .4 1.3 .9 1.6 1.6 1 .6 1.5 2M166.1 256.9l.6 1.7 .7 1.9 1.3 .2 1.3 .3 2.5-.7 2.3 1.8-.3 1.4-3.3-2-1.2-.3-.1 .3-1.3 .6-1 1.5 .8 1.8 1.2 2.6 0 2.2 .2 .6 .9 .1 .6-1.5 1.1 2.2 .4 2.1 .3-2.4 .7-.4 1.2 2 .5 .4-.5-1.7-.8-2 .1-.9-.3-2.8 1.4 .8 .9 .7-.6-.2 .6-1.5-1.1-1.6-.4-.5 1.3-.5 1.1 .4 .3 .6 1.3 1.3 0-.4-.1-2-.1-.9-1.5-1.3 0-.7-1.2-.9-1.5-1.3-1.2-.5 1.2-.5 1.1-.6-.9-2 1.3 1.3-.4-1.6-1.1-1.3-.8-2-.4-1.3 0-1.1 1.4-2.3-.4 1.5 1.9 2.8 .4-1.5 1.4 1.5 .4-1.9 1.8 .7-1.5-1.6-.7-.8 2.3-2.7 1.1 .5 1.6-.6 3 .6 .6 .7M187.9 249.1l-.8 1-.2 1.9-.3 1.5 1.1-.1 2.3-.6-.9 1.8 .7 1.5 .2 1-.7 1.7 .9 1.4 .6 .2-2.5-1.8-.4 1.6-.4 .8 2 .8 .7 1.3 1 .9 0 2.1 .1 1.1 1.2 .8-1.1 1.6 2.7-.3-2.3 2.3 3.3-1" stroke-width="1.8"/><path d="M169 112.3l-.4 2.2 1.2 1.9 1.1 2 3.7 2.5 2.1-1.2 5.6-1.1M151.2 130.1l.4-2.3 2.7-.9-.4-1.4 3.5-1.3 1.9-1.9-.7-2-1.2-2.6" stroke-width="2.0"/><path d="M128.2 147.4l2.5-2 2.7-.5 1.4 .7-.2 2.8-.8 1.9-1.1 1-1.2 .7-2.3-1-.4-2 1.6-1.3-2.2-.3M123.6 149.3l1.7-.9 2.2 .6 .3 2-1.3 1.1-2.5-.8-.4-2" stroke-width="1.5"/><path d="M128.4 152.6l3.5 .3 1.2 .7-1 1.5-2.5-.5-1.2-.7 0-1.3" stroke-width="1.4"/><path d="M69.1 156.2l-.2 1.9-1.5 .4 .4-1.3zM68.2 162.6l2.1 .8-1 .9-1.1-.3zM161.6 119l1.2-2.3 2.3 .7-.6 2-1.5 .6zM57.4 104.7l3-.3 .8 1.6-1.5 4.6-.8-1.4-2.3-3.2zM80.9 114.1l1.9 .4-.7 3.9-1.2 2.3-.6-1.7-.9-1.3 1.9-1.3zM73 125.5l2.1-1.6 1.6 1.6-2 2.3-1.5-.6zM51 48.9l1.7-.9 2.5-1-.5 .3-2.8 1.3zM62 129.5l.4 1.9-2 2.3-1.9 1-1.5 1.3 1.1 2.9-.9 0-1-3.6 2.3-3.9 1.2-.6zM61.6 134.7l2.3 2.9-1.1 1.6-2.4-1.9-.7-1.3zM61.6 141.8l2.3 .7-1.1 1.3-1.6 0zM61.2 146.4l1.6 .7-.4 1.3-1.6-.7z" fill="#000" stroke-width="1"/></g><pattern id="dt" patternUnits="userSpaceOnUse" x="1.51" y="-0.28" width="4.43" height="4.43"><rect width="1.6" height="1.6" fill="#000"/></pattern></defs>
<rect width="1024" height="332" fill="#fff"/>
<g transform="translate(0.0 0)">
<path d="M39.6 41.7V282.4M85.9 41.7V282.4M132.3 41.7V282.4M178.6 41.7V282.4M225.0 41.7V282.4M27.7 93.6H259.9M27.7 145.8H259.9M27.7 197.9H259.9M27.7 250.1H259.9" stroke="#e4e4e4" stroke-width="1.5" fill="none"/>
<g clip-path="url(#fr)">
<g clip-path="url(#ld)">
<use href="#land" fill="#c800dc"/>
<path d="M261 59l0 223.5-42 0-1.5-1.5-9 0-.4-.4 3.4-1 3-1.6 6-5.2 5.4-6.8 1.6-3 .7-3-.9-4.5-3.8-5.1-4.5-2.8-6-1.3-4.5 1.2-7.5 4.3-3 2.6-2.2 4.1-1.7 7.5 .4 6 2.2 4.5 3.7 3-5.4 0-3-3-4.5 0 0-7.5-1.5-1.5-1.5 1.5 0 3-4.5 4.5 0 1.5-1.5 1.5-9 0-1.5-1.5 0-1.5-1.5-1.5-1.5 0 0-3-1.5-1.5 0-6-1.5-1.5 0-1.5-3-3-1.5 0-1.5 1.5 0 1.5-3 3 0 3-1.5 0-1.5 1.5 0 4.5-1.5 1.5 0 1.5-9 0-3-3-1.5 0-1.5 1.5 0 7.5-79.5 0 0-6-1.5-1.5-1.5 0-1.5-1.5-3 0 0-9-1.5-1.5 0-13.5 1.5-1.5 0-10.5-1.5-1.5 0-9 1.5-1.5 0-1.5 1.5 0 1.5-1.5 1.5 0 1.5-1.5 9 0 1.5 1.5 12 0 1.5-1.5 0-6-1.5-1.5 0-1.5-1.5-1.5 0-3-1.5-1.5-3 0-1.5-1.5-3 0-1.5-1.5 0-12-1.5-1.5-1.5 0 0-10.5-1.5-1.5-1.5 1.5-1.5 0-1.5 1.5-10.5 0-1.5-1.5 0-25.5 1.5-1.5 3 0 1.5-1.5 0-1.5 1.5-1.5 1.5 0 1.5-1.5 3 0 1.5-1.5-1.5-1.5-3 0 0-13.5 1.5-1.5 0-1.5 1.5 0 1.5-1.5 12 0 1.5-1.5 9 0 0 6 1.5 1.5 1.5 0 1.5 1.5 0 9-1.5 1.5 0 1.5 3 3 0 1.5 4.5 4.5 0 1.5 1.5 1.5 0 3 1.5 1.5 3 0 1.5 1.5 1.5 0 3-3 1.5 0 1.5-1.5 3 0 1.5-1.5 3 0 1.5-1.5-1.5-1.5 0-15-1.5-1.5-1.5 0-1.5-1.5-1.5 0-3-3 0-1.5-1.5-1.5 0-4.5-1.5-1.5 0-22.5 1.5 0 1.5-1.5 1.5 0 3-3 1.5 0 1.5-1.5 1.5 0 1.5-1.5 1.5 0 1.5-1.5 0-1.5 1.5 0 3-3 1.5 0 1.5-1.5 0-1.5 1.5-1.5 0-1.5 6-6 0-12 1.5-1.5 1.5 0 6-6 1.5 0 1.5-1.5 1.5 0 3-3 1.5 0 1.5-1.5 10.5 0 1.5-1.5 1.5 0 1.5-1.5 0-1.5 7.5 0 1.5-1.5 3 0 1.5-1.5 18 0 1.5 1.5 4.5 0 1.5 1.5 1.5 0 4.5 4.5 3 0 0 1.5 3 3 7.5 0 1.5 1.5 4.5 0 1.5 1.5 1.5 0 1.5 1.5 1.5 0 1.5 1.5 3 0 1.5 1.5 1.5 0 3 3 1.5-1.5 0-4.5zM198 234.5l1.5 1.5 3 0 1.5-1.5 1.5 0 3-3 18 0 1.5 1.5 1.5 0 0 1.5 1.5 1.5 1.5 0 1.5 1.5 1.5 0 1.5 1.5 1.5 0 1.5-1.5 0-1.5-1.5-1.5-1.5 0-1.5-1.5 0-1.5-4.5-4.5-1.5 0-1.5-1.5 0-1.5-1.5-1.5-1.5 0-3 3-10.5 0 0-3-3-3-1.5 0-1.5 1.5 0 1.5-1.5 1.5-1.5 0-1.5 1.5 0 7.5-1.5 0zM112.5 234.5l-7.5 0-1.5 1.5 0 6-1.5 1.5-1.5 0-1.5 1.5 1.5 1.5 3 0 0 12-1.5 1.5-9 0-1.5 1.5 0 1.5-3 3 1.5 1.5 1.5 0 1.5-1.5 12 0 1.5-1.5 9 0 1.5-1.5-1.5-1.5-1.5 0 0-9-1.5-1.5 0-10.5 1.5-1.5 0-3zM127.5 260l-1.5 1.5 1.5 1.5 1.5-1.5zM130.5 245l-1.5 1.5 0 4.5-1.5 1.5 0 6 1.5 1.5 1.5-1.5 0-1.5 10.5 0 1.5-1.5-4.5-4.5-1.5 0 0-1.5-3-3-1.5 0zM162 104l-1.5 1.5 0 1.5-3 3 1.5 1.5 1.5 0 1.5 1.5 1.5-1.5 0-6zM171 125l-1.5 0-1.5-1.5-1.5 0-1.5-1.5-1.5 1.5 0 3-1.5 1.5 0 1.5-1.5 0-4.5 4.5 0 1.5-1.5 1.5 0 9-1.5 1.5 1.5 1.5 3 0 1.5-1.5 1.5 0 1.5-1.5 0-9 1.5-1.5 0-1.5 3-3 1.5 0 1.5-1.5 1.5 0 1.5-1.5 0-1.5zM27 74l7.5 0 0 4.5 1.5 1.5 1.5 0 1.5 1.5 0 9-6 6-6 0z" fill="#960ae6"/>
<path d="M261 59l0 223.5-39.1 0 12.1-12.9 11.4-8.1 .9-1.5 .1-1.5-1.9-2.2-7.5-4-10.5-7.9-7-2.4-6.5-.8-4.5 .9-9 3.8-6.9 2.1-2.2 1.5-1.3 3-.3 9-2 6.8-.8-.8-1.5 1.5 0 3-4.5 4.5 0 1.5-1.5 1.5-9 0-1.5-1.5 0-1.5-1.5-1.5-1.5 0 0-3-1.5-1.5 0-6-1.5-1.5 0-1.5-3-3-1.5 0-1.5 1.5 0 1.5-3 3 0 3-1.5 0-1.5 1.5 0 4.5-1.5 1.5 0 1.5-9 0-3-3-1.5 0-1.5 1.5 0 7.5-79.5 0 0-6-1.5-1.5-1.5 0-1.5-1.5-3 0 0-9-1.5-1.5 0-13.5 1.5-1.5 0-10.5-1.5-1.5 0-9 1.5-1.5 0-1.5 1.5 0 1.5-1.5 1.5 0 1.5-1.5 9 0 1.5 1.5 12 0 1.5-1.5 0-6-1.5-1.5 0-1.5-1.5-1.5 0-3-1.5-1.5-3 0-1.5-1.5-3 0-1.5-1.5 0-12-1.5-1.5-1.5 0 0-10.5-1.5-1.5-1.5 1.5-1.5 0-1.5 1.5-10.5 0-1.5-1.5 0-25.5 1.5-1.5 3 0 1.5-1.5 0-1.5 1.5-1.5 1.5 0 1.5-1.5 3 0 1.5-1.5-1.5-1.5-3 0 0-13.5 1.5-1.5 0-1.5 1.5 0 1.5-1.5 12 0 1.5-1.5 9 0 0 6 1.5 1.5 1.5 0 1.5 1.5 0 9-1.5 1.5 0 1.5 3 3 0 1.5 4.5 4.5 0 1.5 1.5 1.5 0 3 1.5 1.5 3 0 1.5 1.5 1.5 0 3-3 1.5 0 1.5-1.5 3 0 1.5-1.5 3 0 1.5-1.5-1.5-1.5 0-15-1.5-1.5-1.5 0-1.5-1.5-1.5 0-3-3 0-1.5-1.5-1.5 0-4.5-1.5-1.5 0-22.5 1.5 0 1.5-1.5 1.5 0 3-3 1.5 0 1.5-1.5 1.5 0 1.5-1.5 1.5 0 1.5-1.5 0-1.5 1.5 0 3-3 1.5 0 1.5-1.5 0-1.5 1.5-1.5 0-1.5 6-6 0-12 1.5-1.5 1.5 0 6-6 1.5 0 1.5-1.5 1.5 0 3-3 1.5 0 1.5-1.5 10.5 0 1.5-1.5 1.5 0 1.5-1.5 0-1.5 7.5 0 1.5-1.5 3 0 1.5-1.5 18 0 1.5 1.5 4.5 0 1.5 1.5 1.5 0 4.5 4.5 3 0 0 1.5 3 3 7.5 0 1.5 1.5 4.5 0 1.5 1.5 1.5 0 1.5 1.5 1.5 0 1.5 1.5 3 0 1.5 1.5 1.5 0 3 3 1.5-1.5 0-4.5zM198 234.5l1.5 1.5 3 0 1.5-1.5 1.5 0 3-3 18 0 1.5 1.5 1.5 0 0 1.5 1.5 1.5 1.5 0 1.5 1.5 1.5 0 1.5 1.5 1.5 0 1.5-1.5 0-1.5-1.5-1.5-1.5 0-1.5-1.5 0-1.5-4.5-4.5-1.5 0-1.5-1.5 0-1.5-1.5-1.5-1.5 0-3 3-10.5 0 0-3-3-3-1.5 0-1.5 1.5 0 1.5-1.5 1.5-1.5 0-1.5 1.5 0 7.5-1.5 0zM112.5 234.5l-7.5 0-1.5 1.5 0 6-1.5 1.5-1.5 0-1.5 1.5 1.5 1.5 3 0 0 12-1.5 1.5-9 0-1.5 1.5 0 1.5-3 3 1.5 1.5 1.5 0 1.5-1.5 12 0 1.5-1.5 9 0 1.5-1.5-1.5-1.5-1.5 0 0-9-1.5-1.5 0-10.5 1.5-1.5 0-3zM127.5 260l-1.5 1.5 1.5 1.5 1.5-1.5zM130.5 245l-1.5 1.5 0 4.5-1.5 1.5 0 6 1.5 1.5 1.5-1.5 0-1.5 10.5 0 1.5-1.5-4.5-4.5-1.5 0 0-1.5-3-3-1.5 0zM162 104l-1.5 1.5 0 1.5-3 3 1.5 1.5 1.5 0 1.5 1.5 1.5-1.5 0-6zM171 125l-1.5 0-1.5-1.5-1.5 0-1.5-1.5-1.5 1.5 0 3-1.5 1.5 0 1.5-1.5 0-4.5 4.5 0 1.5-1.5 1.5 0 9-1.5 1.5 1.5 1.5 3 0 1.5-1.5 1.5 0 1.5-1.5 0-9 1.5-1.5 0-1.5 3-3 1.5 0 1.5-1.5 1.5 0 1.5-1.5 0-1.5zM27 74l7.5 0 0 4.5 1.5 1.5 1.5 0 1.5 1.5 0 9-6 6-6 0z" fill="#6e1ef0"/>
<path d="M261 59l0 223.5-30 0 4.7-6 4.4-4.5 14-9 1.9-3 .1-1.5-.8-1.5-1.7-1.5-13.6-7-10.5-7.5-6.1-2-8.9-1-6 .6-12 3.3-4.5 .2-3 .7-1.5 1-7.5 8.6-6 3.1-1.5 3 0 3 3.5 9 2.8 8.7-.3 .3-9 0-1.5-1.5 0-1.5-1.5-1.5-1.5 0 0-3-1.5-1.5 0-6-1.5-1.5 0-1.5-3-3-1.5 0-1.5 1.5 0 1.5-3 3 0 3-1.5 0-1.5 1.5 0 4.5-1.5 1.5 0 1.5-9 0-3-3-1.5 0-1.5 1.5 0 7.5-79.5 0 0-6-1.5-1.5-1.5 0-1.5-1.5-3 0 0-9-1.5-1.5 0-13.5 1.5-1.5 0-10.5-1.5-1.5 0-9 1.5-1.5 0-1.5 1.5 0 1.5-1.5 1.5 0 1.5-1.5 9 0 1.5 1.5 12 0 1.5-1.5 0-6-1.5-1.5 0-1.5-1.5-1.5 0-3-1.5-1.5-3 0-1.5-1.5-3 0-1.5-1.5 0-12-1.5-1.5-1.5 0 0-10.5-1.5-1.5-1.5 1.5-1.5 0-1.5 1.5-10.5 0-1.5-1.5 0-25.5 1.5-1.5 3 0 1.5-1.5 0-1.5 1.5-1.5 1.5 0 1.5-1.5 3 0 1.5-1.5-1.5-1.5-3 0 0-13.5 1.5-1.5 0-1.5 1.5 0 1.5-1.5 12 0 1.5-1.5 9 0 0 6 1.5 1.5 1.5 0 1.5 1.5 0 9-1.5 1.5 0 1.5 3 3 0 1.5 4.5 4.5 0 1.5 1.5 1.5 0 3 1.5 1.5 3 0 1.5 1.5 1.5 0 3-3 1.5 0 1.5-1.5 3 0 1.5-1.5 3 0 1.5-1.5-1.5-1.5 0-15-1.5-1.5-1.5 0-1.5-1.5-1.5 0-3-3 0-1.5-1.5-1.5 0-4.5-1.5-1.5 0-22.5 1.5 0 1.5-1.5 1.5 0 3-3 1.5 0 1.5-1.5 1.5 0 1.5-1.5 1.5 0 1.5-1.5 0-1.5 1.5 0 3-3 1.5 0 1.5-1.5 0-1.5 1.5-1.5 0-1.5 6-6 0-12 1.5-1.5 1.5 0 6-6 1.5 0 1.5-1.5 1.5 0 3-3 1.5 0 1.5-1.5 10.5 0 1.5-1.5 1.5 0 1.5-1.5 0-1.5 7.5 0 1.5-1.5 3 0 1.5-1.5 18 0 1.5 1.5 4.5 0 1.5 1.5 1.5 0 4.5 4.5 3 0 0 1.5 3 3 7.5 0 1.5 1.5 4.5 0 1.5 1.5 1.5 0 1.5 1.5 1.5 0 1.5 1.5 3 0 1.5 1.5 1.5 0 3 3 1.5-1.5 0-4.5zM198 234.5l1.5 1.5 3 0 1.5-1.5 1.5 0 3-3 18 0 1.5 1.5 1.5 0 0 1.5 1.5 1.5 1.5 0 1.5 1.5 1.5 0 1.5 1.5 1.5 0 1.5-1.5 0-1.5-1.5-1.5-1.5 0-1.5-1.5 0-1.5-4.5-4.5-1.5 0-1.5-1.5 0-1.5-1.5-1.5-1.5 0-3 3-10.5 0 0-3-3-3-1.5 0-1.5 1.5 0 1.5-1.5 1.5-1.5 0-1.5 1.5 0 7.5-1.5 0zM112.5 234.5l-7.5 0-1.5 1.5 0 6-1.5 1.5-1.5 0-1.5 1.5 1.5 1.5 3 0 0 12-1.5 1.5-9 0-1.5 1.5 0 1.5-3 3 1.5 1.5 1.5 0 1.5-1.5 12 0 1.5-1.5 9 0 1.5-1.5-1.5-1.5-1.5 0 0-9-1.5-1.5 0-10.5 1.5-1.5 0-3zM127.5 260l-1.5 1.5 1.5 1.5 1.5-1.5zM130.5 245l-1.5 1.5 0 4.5-1.5 1.5 0 6 1.5 1.5 1.5-1.5 0-1.5 10.5 0 1.5-1.5-4.5-4.5-1.5 0 0-1.5-3-3-1.5 0zM162 104l-1.5 1.5 0 1.5-3 3 1.5 1.5 1.5 0 1.5 1.5 1.5-1.5 0-6zM171 125l-1.5 0-1.5-1.5-1.5 0-1.5-1.5-1.5 1.5 0 3-1.5 1.5 0 1.5-1.5 0-4.5 4.5 0 1.5-1.5 1.5 0 9-1.5 1.5 1.5 1.5 3 0 1.5-1.5 1.5 0 1.5-1.5 0-9 1.5-1.5 0-1.5 3-3 1.5 0 1.5-1.5 1.5 0 1.5-1.5 0-1.5zM27 74l7.5 0 0 4.5 1.5 1.5 1.5 0 1.5 1.5 0 9-6 6-6 0z" fill="#4b2df0"/>
<path d="M261 59l0 196.8-3.7-3.3-13.3-6-10-7.4-6-2.5-6-1-7.5-.3-15 1.5-7.5 .1-3 .9-1.5 1.3-6 7.4-10.5 5.6-2.4 3.4-1.1 4.5 0 4.5 3.7 15-1.7 0-1.5-1.5 0-1.5-1.5-1.5-1.5 0 0-3-1.5-1.5 0-6-1.5-1.5 0-1.5-3-3-1.5 0-1.5 1.5 0 1.5-3 3 0 3-1.5 0-1.5 1.5 0 4.5-1.5 1.5 0 1.5-9 0-3-3-1.5 0-1.5 1.5 0 7.5-79.5 0 0-6-1.5-1.5-1.5 0-1.5-1.5-3 0 0-9-1.5-1.5 0-13.5 1.5-1.5 0-10.5-1.5-1.5 0-9 1.5-1.5 0-1.5 1.5 0 1.5-1.5 1.5 0 1.5-1.5 9 0 1.5 1.5 12 0 1.5-1.5 0-6-1.5-1.5 0-1.5-1.5-1.5 0-3-1.5-1.5-3 0-1.5-1.5-3 0-1.5-1.5 0-12-1.5-1.5-1.5 0 0-10.5-1.5-1.5-1.5 1.5-1.5 0-1.5 1.5-10.5 0-1.5-1.5 0-25.5 1.5-1.5 3 0 1.5-1.5 0-1.5 1.5-1.5 1.5 0 1.5-1.5 3 0 1.5-1.5-1.5-1.5-3 0 0-13.5 1.5-1.5 0-1.5 1.5 0 1.5-1.5 12 0 1.5-1.5 9 0 0 6 1.5 1.5 1.5 0 1.5 1.5 0 9-1.5 1.5 0 1.5 3 3 0 1.5 4.5 4.5 0 1.5 1.5 1.5 0 3 1.5 1.5 3 0 1.5 1.5 1.5 0 3-3 1.5 0 1.5-1.5 3 0 1.5-1.5 3 0 1.5-1.5-1.5-1.5 0-15-1.5-1.5-1.5 0-1.5-1.5-1.5 0-3-3 0-1.5-1.5-1.5 0-4.5-1.5-1.5 0-22.5 1.5 0 1.5-1.5 1.5 0 3-3 1.5 0 1.5-1.5 1.5 0 1.5-1.5 1.5 0 1.5-1.5 0-1.5 1.5 0 3-3 1.5 0 1.5-1.5 0-1.5 1.5-1.5 0-1.5 6-6 0-12 1.5-1.5 1.5 0 6-6 1.5 0 1.5-1.5 1.5 0 3-3 1.5 0 1.5-1.5 10.5 0 1.5-1.5 1.5 0 1.5-1.5 0-1.5 7.5 0 1.5-1.5 3 0 1.5-1.5 18 0 1.5 1.5 4.5 0 1.5 1.5 1.5 0 4.5 4.5 3 0 0 1.5 3 3 7.5 0 1.5 1.5 4.5 0 1.5 1.5 1.5 0 1.5 1.5 1.5 0 1.5 1.5 3 0 1.5 1.5 1.5 0 3 3 1.5-1.5 0-4.5zM198 234.5l1.5 1.5 3 0 1.5-1.5 1.5 0 3-3 18 0 1.5 1.5 1.5 0 0 1.5 1.5 1.5 1.5 0 1.5 1.5 1.5 0 1.5 1.5 1.5 0 1.5-1.5 0-1.5-1.5-1.5-1.5 0-1.5-1.5 0-1.5-4.5-4.5-1.5 0-1.5-1.5 0-1.5-1.5-1.5-1.5 0-3 3-10.5 0 0-3-3-3-1.5 0-1.5 1.5 0 1.5-1.5 1.5-1.5 0-1.5 1.5 0 7.5-1.5 0zM112.5 234.5l-7.5 0-1.5 1.5 0 6-1.5 1.5-1.5 0-1.5 1.5 1.5 1.5 3 0 0 12-1.5 1.5-9 0-1.5 1.5 0 1.5-3 3 1.5 1.5 1.5 0 1.5-1.5 12 0 1.5-1.5 9 0 1.5-1.5-1.5-1.5-1.5 0 0-9-1.5-1.5 0-10.5 1.5-1.5 0-3zM127.5 260l-1.5 1.5 1.5 1.5 1.5-1.5zM130.5 245l-1.5 1.5 0 4.5-1.5 1.5 0 6 1.5 1.5 1.5-1.5 0-1.5 10.5 0 1.5-1.5-4.5-4.5-1.5 0 0-1.5-3-3-1.5 0zM162 104l-1.5 1.5 0 1.5-3 3 1.5 1.5 1.5 0 1.5 1.5 1.5-1.5 0-6zM171 125l-1.5 0-1.5-1.5-1.5 0-1.5-1.5-1.5 1.5 0 3-1.5 1.5 0 1.5-1.5 0-4.5 4.5 0 1.5-1.5 1.5 0 9-1.5 1.5 1.5 1.5 3 0 1.5-1.5 1.5 0 1.5-1.5 0-9 1.5-1.5 0-1.5 3-3 1.5 0 1.5-1.5 1.5 0 1.5-1.5 0-1.5zM27 74l7.5 0 0 4.5 1.5 1.5 1.5 0 1.5 1.5 0 9-6 6-6 0zM261 263.8l0 18.7-22.4 0 5.9-7.5 12.6-7.5z" fill="#003efa"/>
<path d="M261 59l0 190.6-9-3.5-7.9-4.1-4.4-4.2 .3-1.8-1.5-1.5-1.5 0-1.5-1.5 0-1.5-4.5-4.5-1.5 0-1.5-1.5 0-1.5-1.5-1.5-1.5 0-3 3-10.5 0 0-3-3-3-1.5 0-1.5 1.5 0 1.5-1.5 1.5-1.5 0-1.5 1.5 0 7.5-3 0-9-1.6-3 .9-1.3 2.2-1.5 6-1.7 3-3 1.7-6 1.4-4.5 3.5-1.7 2.4-2 4.5-1.1 7.2-1.2-1.2 0-1.5-3-3-1.5 0-1.5 1.5 0 1.5-3 3 0 3-1.5 0-1.5 1.5 0 4.5-1.5 1.5 0 1.5-9 0-3-3-1.5 0-1.5 1.5 0 7.5-79.5 0 0-6-1.5-1.5-1.5 0-1.5-1.5-3 0 0-9-1.5-1.5 0-13.5 1.5-1.5 0-10.5-1.5-1.5 0-9 1.5-1.5 0-1.5 1.5 0 1.5-1.5 1.5 0 1.5-1.5 9 0 1.5 1.5 12 0 1.5-1.5 0-6-1.5-1.5 0-1.5-1.5-1.5 0-3-1.5-1.5-3 0-1.5-1.5-3 0-1.5-1.5 0-12-1.5-1.5-1.5 0 0-10.5-1.5-1.5-1.5 1.5-1.5 0-1.5 1.5-10.5 0-1.5-1.5 0-25.5 1.5-1.5 3 0 1.5-1.5 0-1.5 1.5-1.5 1.5 0 1.5-1.5 3 0 1.5-1.5-1.5-1.5-3 0 0-13.5 1.5-1.5 0-1.5 1.5 0 1.5-1.5 12 0 1.5-1.5 9 0 0 6 1.5 1.5 1.5 0 1.5 1.5 0 9-1.5 1.5 0 1.5 3 3 0 1.5 4.5 4.5 0 1.5 1.5 1.5 0 3 1.5 1.5 3 0 1.5 1.5 1.5 0 3-3 1.5 0 1.5-1.5 3 0 1.5-1.5 3 0 1.5-1.5-1.5-1.5 0-15-1.5-1.5-1.5 0-1.5-1.5-1.5 0-3-3 0-1.5-1.5-1.5 0-4.5-1.5-1.5 0-22.5 1.5 0 1.5-1.5 1.5 0 3-3 1.5 0 1.5-1.5 1.5 0 1.5-1.5 1.5 0 1.5-1.5 0-1.5 1.5 0 3-3 1.5 0 1.5-1.5 0-1.5 1.5-1.5 0-1.5 6-6 0-12 1.5-1.5 1.5 0 6-6 1.5 0 1.5-1.5 1.5 0 3-3 1.5 0 1.5-1.5 10.5 0 1.5-1.5 1.5 0 1.5-1.5 0-1.5 7.5 0 1.5-1.5 3 0 1.5-1.5 18 0 1.5 1.5 4.5 0 1.5 1.5 1.5 0 4.5 4.5 3 0 0 1.5 3 3 7.5 0 1.5 1.5 4.5 0 1.5 1.5 1.5 0 1.5 1.5 1.5 0 1.5 1.5 3 0 1.5 1.5 1.5 0 3 3 1.5-1.5 0-4.5zM112.5 234.5l-7.5 0-1.5 1.5 0 6-1.5 1.5-1.5 0-1.5 1.5 1.5 1.5 3 0 0 12-1.5 1.5-9 0-1.5 1.5 0 1.5-3 3 1.5 1.5 1.5 0 1.5-1.5 12 0 1.5-1.5 9 0 1.5-1.5-1.5-1.5-1.5 0 0-9-1.5-1.5 0-10.5 1.5-1.5 0-3zM127.5 260l-1.5 1.5 1.5 1.5 1.5-1.5zM130.5 245l-1.5 1.5 0 4.5-1.5 1.5 0 6 1.5 1.5 1.5-1.5 0-1.5 10.5 0 1.5-1.5-4.5-4.5-1.5 0 0-1.5-3-3-1.5 0zM162 104l-1.5 1.5 0 1.5-3 3 1.5 1.5 1.5 0 1.5 1.5 1.5-1.5 0-6zM171 125l-1.5 0-1.5-1.5-1.5 0-1.5-1.5-1.5 1.5 0 3-1.5 1.5 0 1.5-1.5 0-4.5 4.5 0 1.5-1.5 1.5 0 9-1.5 1.5 1.5 1.5 3 0 1.5-1.5 1.5 0 1.5-1.5 0-9 1.5-1.5 0-1.5 3-3 1.5 0 1.5-1.5 1.5 0 1.5-1.5 0-1.5zM27 74l7.5 0 0 4.5 1.5 1.5 1.5 0 1.5 1.5 0 9-6 6-6 0zM206.9 233.1l1.6-1.6 18 0 1.5 1.5 1.5 0 0 .5-10.5-.7zM261 271.6l0 10.9-14.2 0 5.7-6 4-2.7z" fill="#0a5cfa"/>
<path d="M261 59l0 185.2-4.5-.8-2.8-1.4-3.3-3-3.6-4.5-2.3-1.6-4-1.4-5.7-.7-3.8-3.8-1.5 0-1.5-1.5 0-1.5-1.5-1.5-1.5 0-3 3-10.5 0 0-3-3-3-1.5 0-1.5 1.5 0 1.5-1.5 1.5-1.5 0-1.5 1.5 0 4.8-10.5-3-3-.2-3 1.3-1.8 1.6-3.1 6-1.1 4.6-4.2-3.1-2.5 0-.8 1-1 5-7.2 9-1.7 3-1.3 3.8-.8-.8-1.5 0-1.5 1.5 0 1.5-3 3 0 3-1.5 0-1.5 1.5 0 4.5-1.5 1.5 0 1.5-9 0-3-3-1.5 0-1.5 1.5 0 7.5-79.5 0 0-6-1.5-1.5-1.5 0-1.5-1.5-3 0 0-9-1.5-1.5 0-13.5 1.5-1.5 0-10.5-1.5-1.5 0-9 1.5-1.5 0-1.5 1.5 0 1.5-1.5 1.5 0 1.5-1.5 9 0 1.5 1.5 12 0 1.5-1.5 0-6-1.5-1.5 0-1.5-1.5-1.5 0-3-1.5-1.5-3 0-1.5-1.5-3 0-1.5-1.5 0-12-1.5-1.5-1.5 0 0-10.5-1.5-1.5-1.5 1.5-1.5 0-1.5 1.5-10.5 0-1.5-1.5 0-25.5 1.5-1.5 3 0 1.5-1.5 0-1.5 1.5-1.5 1.5 0 1.5-1.5 3 0 1.5-1.5-1.5-1.5-3 0 0-13.5 1.5-1.5 0-1.5 1.5 0 1.5-1.5 12 0 1.5-1.5 9 0 0 6 1.5 1.5 1.5 0 1.5 1.5 0 9-1.5 1.5 0 1.5 3 3 0 1.5 4.5 4.5 0 1.5 1.5 1.5 0 3 1.5 1.5 3 0 1.5 1.5 1.5 0 3-3 1.5 0 1.5-1.5 3 0 1.5-1.5 3 0 1.5-1.5-1.5-1.5 0-15-1.5-1.5-1.5 0-1.5-1.5-1.5 0-3-3 0-1.5-1.5-1.5 0-4.5-1.5-1.5 0-22.5 1.5 0 1.5-1.5 1.5 0 3-3 1.5 0 1.5-1.5 1.5 0 1.5-1.5 1.5 0 1.5-1.5 0-1.5 1.5 0 3-3 1.5 0 1.5-1.5 0-1.5 1.5-1.5 0-1.5 6-6 0-12 1.5-1.5 1.5 0 6-6 1.5 0 1.5-1.5 1.5 0 3-3 1.5 0 1.5-1.5 10.5 0 1.5-1.5 1.5 0 1.5-1.5 0-1.5 7.5 0 1.5-1.5 3 0 1.5-1.5 18 0 1.5 1.5 4.5 0 1.5 1.5 1.5 0 4.5 4.5 3 0 0 1.5 3 3 7.5 0 1.5 1.5 4.5 0 1.5 1.5 1.5 0 1.5 1.5 1.5 0 1.5 1.5 3 0 1.5 1.5 1.5 0 3 3 1.5-1.5 0-4.5zM112.5 234.5l-7.5 0-1.5 1.5 0 6-1.5 1.5-1.5 0-1.5 1.5 1.5 1.5 3 0 0 12-1.5 1.5-9 0-1.5 1.5 0 1.5-3 3 1.5 1.5 1.5 0 1.5-1.5 12 0 1.5-1.5 9 0 1.5-1.5-1.5-1.5-1.5 0 0-9-1.5-1.5 0-10.5 1.5-1.5 0-3zM127.5 260l-1.5 1.5 1.5 1.5 1.5-1.5zM130.5 245l-1.5 1.5 0 4.5-1.5 1.5 0 6 1.5 1.5 1.5-1.5 0-1.5 10.5 0 1.5-1.5-4.5-4.5-1.5 0 0-1.5-3-3-1.5 0zM162 104l-1.5 1.5 0 1.5-3 3 1.5 1.5 1.5 0 1.5 1.5 1.5-1.5 0-6zM171 125l-1.5 0-1.5-1.5-1.5 0-1.5-1.5-1.5 1.5 0 3-1.5 1.5 0 1.5-1.5 0-4.5 4.5 0 1.5-1.5 1.5 0 9-1.5 1.5 1.5 1.5 3 0 1.5-1.5 1.5 0 1.5-1.5 0-9 1.5-1.5 0-1.5 3-3 1.5 0 1.5-1.5 1.5 0 1.5-1.5 0-1.5zM27 74l7.5 0 0 4.5 1.5 1.5 1.5 0 1.5 1.5 0 9-6 6-6 0zM261 280.9l0 1.6-2.1 0z" fill="#0a76fa"/>
<path d="M261 59l0 170.8-3-2.8-3-1.1-10.5 .1-13.2 1.3-1.8-.3-1.5-1.5 0-1.5-1.5-1.5-1.5 0-3 3-10.5 0 0-3-3-3-1.5 0-1.5 1.5 0 1.5-1.5 1.5-1.5 0-1.5 1.5 0 2-7.5-2.7-5.8-3.8-1.7-7.5-1.5-2.5-1.5-1-4.5-.2-1.5 .5-1.6 1.7-.6 3 .4 1.5 1.8 1.6 6.9 2.9 .8 1.5-.3 1.5-1.8 3-4.1 4.3-3 1.8-4.5 1.6-1.7 1.3-1 1.5-1.8 6.4-7.7 8.6-1.9 3-1.6 6.7-2.3 2.3 0 3-1.5 0-1.5 1.5 0 4.5-1.5 1.5 0 1.5-9 0-3-3-1.5 0-1.5 1.5 0 7.5-79.5 0 0-6-1.5-1.5-1.5 0-1.5-1.5-3 0 0-9-1.5-1.5 0-13.5 1.5-1.5 0-10.5-1.5-1.5 0-9 1.5-1.5 0-1.5 1.5 0 1.5-1.5 1.5 0 1.5-1.5 9 0 1.5 1.5 12 0 1.5-1.5 0-6-1.5-1.5 0-1.5-1.5-1.5 0-3-1.5-1.5-3 0-1.5-1.5-3 0-1.5-1.5 0-12-1.5-1.5-1.5 0 0-10.5-1.5-1.5-1.5 1.5-1.5 0-1.5 1.5-10.5 0-1.5-1.5 0-25.5 1.5-1.5 3 0 1.5-1.5 0-1.5 1.5-1.5 1.5 0 1.5-1.5 3 0 1.5-1.5-1.5-1.5-3 0 0-13.5 1.5-1.5 0-1.5 1.5 0 1.5-1.5 12 0 1.5-1.5 9 0 0 6 1.5 1.5 1.5 0 1.5 1.5 0 9-1.5 1.5 0 1.5 3 3 0 1.5 4.5 4.5 0 1.5 1.5 1.5 0 3 1.5 1.5 3 0 1.5 1.5 1.5 0 3-3 1.5 0 1.5-1.5 3 0 1.5-1.5 3 0 1.5-1.5-1.5-1.5 0-15-1.5-1.5-1.5 0-1.5-1.5-1.5 0-3-3 0-1.5-1.5-1.5 0-4.5-1.5-1.5 0-22.5 1.5 0 1.5-1.5 1.5 0 3-3 1.5 0 1.5-1.5 1.5 0 1.5-1.5 1.5 0 1.5-1.5 0-1.5 1.5 0 3-3 1.5 0 1.5-1.5 0-1.5 1.5-1.5 0-1.5 6-6 0-12 1.5-1.5 1.5 0 6-6 1.5 0 1.5-1.5 1.5 0 3-3 1.5 0 1.5-1.5 10.5 0 1.5-1.5 1.5 0 1.5-1.5 0-1.5 7.5 0 1.5-1.5 3 0 1.5-1.5 18 0 1.5 1.5 4.5 0 1.5 1.5 1.5 0 4.5 4.5 3 0 0 1.5 3 3 7.5 0 1.5 1.5 4.5 0 1.5 1.5 1.5 0 1.5 1.5 1.5 0 1.5 1.5 3 0 1.5 1.5 1.5 0 3 3 1.5-1.5 0-4.5zM112.5 234.5l-7.5 0-1.5 1.5 0 6-1.5 1.5-1.5 0-1.5 1.5 1.5 1.5 3 0 0 12-1.5 1.5-9 0-1.5 1.5 0 1.5-3 3 1.5 1.5 1.5 0 1.5-1.5 12 0 1.5-1.5 9 0 1.5-1.5-1.5-1.5-1.5 0 0-9-1.5-1.5 0-10.5 1.5-1.5 0-3zM127.5 260l-1.5 1.5 1.5 1.5 1.5-1.5zM130.5 245l-1.5 1.5 0 4.5-1.5 1.5 0 6 1.5 1.5 1.5-1.5 0-1.5 10.5 0 1.5-1.5-4.5-4.5-1.5 0 0-1.5-3-3-1.5 0zM162 104l-1.5 1.5 0 1.5-3 3 1.5 1.5 1.5 0 1.5 1.5 1.5-1.5 0-6zM171 125l-1.5 0-1.5-1.5-1.5 0-1.5-1.5-1.5 1.5 0 3-1.5 1.5 0 1.5-1.5 0-4.5 4.5 0 1.5-1.5 1.5 0 9-1.5 1.5 1.5 1.5 3 0 1.5-1.5 1.5 0 1.5-1.5 0-9 1.5-1.5 0-1.5 3-3 1.5 0 1.5-1.5 1.5 0 1.5-1.5 0-1.5zM27 74l7.5 0 0 4.5 1.5 1.5 1.5 0 1.5 1.5 0 9-6 6-6 0z" fill="#0a8efa"/>
<path d="M261 59l0 164-4.5-1.1-4.5-.1-24 2.9 0-.7-1.5-1.5-1.5 0-2.7 2.7-10.8 .3 0-3-3-3-1.5 0-1.5 1.5 0 1.5-1.5 1.5-1.5 0-1.5 .9-5.8-2.4-3.2-2.7-1.9-3.3-3.1-9-4-4.1-3-1.5-1.8 1.1-5.3 7.5-1.8 4.5-.3 3 1.7 2.1 7.5 3.4 .7 2-.8 1.5-8.9 5.3-4.3 3.7-1.1 1.5-1 4.5-.9 1.5-10.2 9-.9 1.5-.8 6-2.9 10.5-.9 6-8.5 0-3-3-1.5 0-1.5 1.5 0 7.5-79.5 0 0-6-1.5-1.5-1.5 0-1.5-1.5-3 0 0-9-1.5-1.5 0-13.5 1.5-1.5 0-10.5-1.5-1.5 0-9 1.5-1.5 0-1.5 1.5 0 1.5-1.5 1.5 0 1.5-1.5 9 0 1.5 1.5 12 0 1.5-1.5 0-6-1.5-1.5 0-1.5-1.5-1.5 0-3-1.5-1.5-3 0-1.5-1.5-3 0-1.5-1.5 0-12-1.5-1.5-1.5 0 0-10.5-1.5-1.5-1.5 1.5-1.5 0-1.5 1.5-10.5 0-1.5-1.5 0-25.5 1.5-1.5 3 0 1.5-1.5 0-1.5 1.5-1.5 1.5 0 1.5-1.5 3 0 1.5-1.5-1.5-1.5-3 0 0-13.5 1.5-1.5 0-1.5 1.5 0 1.5-1.5 12 0 1.5-1.5 9 0 0 6 1.5 1.5 1.5 0 1.5 1.5 0 9-1.5 1.5 0 1.5 3 3 0 1.5 4.5 4.5 0 1.5 1.5 1.5 0 3 1.5 1.5 3 0 1.5 1.5 1.5 0 3-3 1.5 0 1.5-1.5 3 0 1.5-1.5 3 0 1.5-1.5-1.5-1.5 0-15-1.5-1.5-1.5 0-1.5-1.5-1.5 0-3-3 0-1.5-1.5-1.5 0-4.5-1.5-1.5 0-22.5 1.5 0 1.5-1.5 1.5 0 3-3 1.5 0 1.5-1.5 1.5 0 1.5-1.5 1.5 0 1.5-1.5 0-1.5 1.5 0 3-3 1.5 0 1.5-1.5 0-1.5 1.5-1.5 0-1.5 6-6 0-12 1.5-1.5 1.5 0 6-6 1.5 0 1.5-1.5 1.5 0 3-3 1.5 0 1.5-1.5 10.5 0 1.5-1.5 1.5 0 1.5-1.5 0-1.5 7.5 0 1.5-1.5 3 0 1.5-1.5 18 0 1.5 1.5 4.5 0 1.5 1.5 1.5 0 4.5 4.5 3 0 0 1.5 3 3 7.5 0 1.5 1.5 4.5 0 1.5 1.5 1.5 0 1.5 1.5 1.5 0 1.5 1.5 3 0 1.5 1.5 1.5 0 3 3 1.5-1.5 0-4.5zM112.5 234.5l-7.5 0-1.5 1.5 0 6-1.5 1.5-1.5 0-1.5 1.5 1.5 1.5 3 0 0 12-1.5 1.5-9 0-1.5 1.5 0 1.5-3 3 1.5 1.5 1.5 0 1.5-1.5 12 0 1.5-1.5 9 0 1.5-1.5-1.5-1.5-1.5 0 0-9-1.5-1.5 0-10.5 1.5-1.5 0-3zM127.5 260l-1.5 1.5 1.5 1.5 1.5-1.5zM130.5 245l-1.5 1.5 0 4.5-1.5 1.5 0 6 1.5 1.5 1.5-1.5 0-1.5 10.5 0 1.5-1.5-4.5-4.5-1.5 0 0-1.5-3-3-1.5 0zM162 104l-1.5 1.5 0 1.5-3 3 1.5 1.5 1.5 0 1.5 1.5 1.5-1.5 0-6zM171 125l-1.5 0-1.5-1.5-1.5 0-1.5-1.5-1.5 1.5 0 3-1.5 1.5 0 1.5-1.5 0-4.5 4.5 0 1.5-1.5 1.5 0 9-1.5 1.5 1.5 1.5 3 0 1.5-1.5 1.5 0 1.5-1.5 0-9 1.5-1.5 0-1.5 3-3 1.5 0 1.5-1.5 1.5 0 1.5-1.5 0-1.5zM27 74l7.5 0 0 4.5 1.5 1.5 1.5 0 1.5 1.5 0 9-6 6-6 0z" fill="#0aa5f8"/>
<path d="M261 59l0 160.1-6-.4-7.5 .4-27 3.9-9 .7 0-1.2-3-3-1.5 0-1.5 1.5 0 1.5-.7 .7-2.3-.4-4.7-1.8-4.3-3.6-1.9-3.9-.4-6-1.7-3-6.5-5.1-2.7-.9-1.8 .1-2.5 1.4-2.4 3-6.7 15-.1 1.5 .7 1.5 4.9 4.5 0 1.5-.8 1.5-5.1 4.6-1.5 .4-.4-2-1.1-1.6-3-.1-2.1 1.7-1.2 3 1.4 6-.5 1.5-9.5 9-.8 3 0 4.5-4.4 10.5-1.1 7.5-2.8 0-3-3-1.5 0-1.5 1.5 0 7.5-79.5 0 0-6-1.5-1.5-1.5 0-1.5-1.5-3 0 0-9-1.5-1.5 0-13.5 1.5-1.5 0-10.5-1.5-1.5 0-9 1.5-1.5 0-1.5 1.5 0 1.5-1.5 1.5 0 1.5-1.5 9 0 1.5 1.5 12 0 1.5-1.5 0-6-1.5-1.5 0-1.5-1.5-1.5 0-3-1.5-1.5-3 0-1.5-1.5-3 0-1.5-1.5 0-12-1.5-1.5-1.5 0 0-10.5-1.5-1.5-1.5 1.5-1.5 0-1.5 1.5-10.5 0-1.5-1.5 0-25.5 1.5-1.5 3 0 1.5-1.5 0-1.5 1.5-1.5 1.5 0 1.5-1.5 3 0 1.5-1.5-1.5-1.5-3 0 0-13.5 1.5-1.5 0-1.5 1.5 0 1.5-1.5 12 0 1.5-1.5 9 0 0 6 1.5 1.5 1.5 0 1.5 1.5 0 9-1.5 1.5 0 1.5 3 3 0 1.5 4.5 4.5 0 1.5 1.5 1.5 0 3 1.5 1.5 3 0 1.5 1.5 1.5 0 3-3 1.5 0 1.5-1.5 3 0 1.5-1.5 3 0 1.5-1.5-1.5-1.5 0-15-1.5-1.5-1.5 0-1.5-1.5-1.5 0-3-3 0-1.5-1.5-1.5 0-4.5-1.5-1.5 0-22.5 1.5 0 1.5-1.5 1.5 0 3-3 1.5 0 1.5-1.5 1.5 0 1.5-1.5 1.5 0 1.5-1.5 0-1.5 1.5 0 3-3 1.5 0 1.5-1.5 0-1.5 1.5-1.5 0-1.5 6-6 0-12 1.5-1.5 1.5 0 6-6 1.5 0 1.5-1.5 1.5 0 3-3 1.5 0 1.5-1.5 10.5 0 1.5-1.5 1.5 0 1.5-1.5 0-1.5 7.5 0 1.5-1.5 3 0 1.5-1.5 18 0 1.5 1.5 4.5 0 1.5 1.5 1.5 0 4.5 4.5 3 0 0 1.5 3 3 7.5 0 1.5 1.5 4.5 0 1.5 1.5 1.5 0 1.5 1.5 1.5 0 1.5 1.5 3 0 1.5 1.5 1.5 0 3 3 1.5-1.5 0-4.5zM112.5 234.5l-7.5 0-1.5 1.5 0 6-1.5 1.5-1.5 0-1.5 1.5 1.5 1.5 3 0 0 12-1.5 1.5-9 0-1.5 1.5 0 1.5-3 3 1.5 1.5 1.5 0 1.5-1.5 12 0 1.5-1.5 9 0 1.5-1.5-1.5-1.5-1.5 0 0-9-1.5-1.5 0-10.5 1.5-1.5 0-3zM127.5 260l-1.5 1.5 1.5 1.5 1.5-1.5zM130.5 245l-1.5 1.5 0 4.5-1.5 1.5 0 6 1.5 1.5 1.5-1.5 0-1.5 10.5 0 1.5-1.5-4.5-4.5-1.5 0 0-1.5-3-3-1.5 0zM162 104l-1.5 1.5 0 1.5-3 3 1.5 1.5 1.5 0 1.5 1.5 1.5-1.5 0-6zM171 125l-1.5 0-1.5-1.5-1.5 0-1.5-1.5-1.5 1.5 0 3-1.5 1.5 0 1.5-1.5 0-4.5 4.5 0 1.5-1.5 1.5 0 9-1.5 1.5 1.5 1.5 3 0 1.5-1.5 1.5 0 1.5-1.5 0-9 1.5-1.5 0-1.5 3-3 1.5 0 1.5-1.5 1.5 0 1.5-1.5 0-1.5zM27 74l7.5 0 0 4.5 1.5 1.5 1.5 0 1.5 1.5 0 9-6 6-6 0z" fill="#14b7e8"/>
<path d="M261 59l0 29.3-7.5-2.4-1.5 .2-1.5 2.7-.6 3.2 1.3 3 4.2 4.5 .6 1.5 .1 3-1.1 4.5 .1 1.5 1.4 1.8 1.5 .8 3 .4 0 102.6-9 .3-12 1.2-24 4-5.7 .2-1.8-1.8-1.5 0-1.4 1.4-7.6-2.7-3.4-3.2-1.1-2.9 0-1.6 1.9-3-.2-1.5-1.3-1.5-10.6-7.5-3.3-.9-3 .4-3.4 2-2.4 3-3.6 9-3.1 6-.3 3 .7 1.5 3.5 4.5 0 1.5-1 1.5-.9 .5-4.5-.9-3 .2-2.6 1.7-3.4 3.3-3 1.7-9-2.7-3.4 .7-1.6 3-.3 4.5 .7 3 2.8 6 1.1 3.8-2.3-2.3-1.5 0 0-1.5-3-3-1.5 0-1.5-1.5-1.5 1.5 0 4.5-1.5 1.5 0 6 1.5 1.5 1.5-1.5 0-1.5 9.9 0-3.7 16.7-1.7-.2-1.5 1.5 0 7.5-79.5 0 0-6-1.5-1.5-1.5 0-1.5-1.5-3 0 0-9-1.5-1.5 0-13.5 1.5-1.5 0-10.5-1.5-1.5 0-9 1.5-1.5 0-1.5 1.5 0 1.5-1.5 1.5 0 1.5-1.5 9 0 1.5 1.5 12 0 1.5-1.5 0-6-1.5-1.5 0-1.5-1.5-1.5 0-3-1.5-1.5-3 0-1.5-1.5-3 0-1.5-1.5 0-12-1.5-1.5-1.5 0 0-10.5-1.5-1.5-1.5 1.5-1.5 0-1.5 1.5-10.5 0-1.5-1.5 0-25.5 1.5-1.5 3 0 1.5-1.5 0-1.5 1.5-1.5 1.5 0 1.5-1.5 3 0 1.5-1.5-1.5-1.5-3 0 0-13.5 1.5-1.5 0-1.5 1.5 0 1.5-1.5 12 0 1.5-1.5 9 0 0 6 1.5 1.5 1.5 0 1.5 1.5 0 9-1.5 1.5 0 1.5 3 3 0 1.5 4.5 4.5 0 1.5 1.5 1.5 0 3 1.5 1.5 3 0 1.5 1.5 1.5 0 3-3 1.5 0 1.5-1.5 3 0 1.5-1.5 3 0 1.5-1.5-1.5-1.5 0-15-1.5-1.5-1.5 0-1.5-1.5-1.5 0-3-3 0-1.5-1.5-1.5 0-4.5-1.5-1.5 0-22.5 1.5 0 1.5-1.5 1.5 0 3-3 1.5 0 1.5-1.5 1.5 0 1.5-1.5 1.5 0 1.5-1.5 0-1.5 1.5 0 3-3 1.5 0 1.5-1.5 0-1.5 1.5-1.5 0-1.5 6-6 0-12 1.5-1.5 1.5 0 6-6 1.5 0 1.5-1.5 1.5 0 3-3 1.5 0 1.5-1.5 10.5 0 1.5-1.5 1.5 0 1.5-1.5 0-1.5 7.5 0 1.5-1.5 3 0 1.5-1.5 18 0 1.5 1.5 4.5 0 1.5 1.5 1.5 0 4.5 4.5 3 0 0 1.5 3 3 7.5 0 1.5 1.5 4.5 0 1.5 1.5 1.5 0 1.5 1.5 1.5 0 1.5 1.5 3 0 1.5 1.5 1.5 0 3 3 1.5-1.5 0-4.5zM250.5 78.4l-.8 1.6 .8 2.2 1.5 .2 .5-2.4-.5-1.5zM112.5 234.5l-7.5 0-1.5 1.5 0 6-1.5 1.5-1.5 0-1.5 1.5 1.5 1.5 3 0 0 12-1.5 1.5-9 0-1.5 1.5 0 1.5-3 3 1.5 1.5 1.5 0 1.5-1.5 12 0 1.5-1.5 9 0 1.5-1.5-1.5-1.5-1.5 0 0-9-1.5-1.5 0-10.5 1.5-1.5 0-3zM127.5 260l-1.5 1.5 1.5 1.5 1.5-1.5zM162 104l-1.5 1.5 0 1.5-3 3 1.5 1.5 1.5 0 1.5 1.5 1.5-1.5 0-6zM171 125l-1.5 0-1.5-1.5-1.5 0-1.5-1.5-1.5 1.5 0 3-1.5 1.5 0 1.5-1.5 0-4.5 4.5 0 1.5-1.5 1.5 0 9-1.5 1.5 1.5 1.5 3 0 1.5-1.5 1.5 0 1.5-1.5 0-9 1.5-1.5 0-1.5 3-3 1.5 0 1.5-1.5 1.5 0 1.5-1.5 0-1.5zM27 74l7.5 0 0 4.5 1.5 1.5 1.5 0 1.5 1.5 0 9-6 6-6 0z" fill="#14c6c8"/>
<path d="M261 59l0 24.4-3-.2-1.5-.9-.4-.8 .1-4.5-1.2-1.9-1.5-.8-3 .4-1.5 1.3-1.1 2.5 .3 7.5-3 7.5 3.9 4.5 1.1 3-1.8 9 1.6 4.5 2 2.7 2.3 1.8 6.7 2.2 0 91-25.5 2.4-19.5 4-6 .2-4.5-.6-5-1.7-4-3.3-.6-2.7 2.1-2.8 0-1.7-2.2-3-8.5-6-4.3-2.3-3-.7-4.5 .6-4.1 2.4-2.8 3-1.6 3-2 7.5-3.6 6-.4 3 .5 1.5 3.5 3.4 .6 1.1-.6 1-1.5 .3-4.5-1.1-6 3.7-3 .9-10.5-1.9-3 1.2-3 3.4-1 3-.6 4.5 1.1 6-1 0-1.5-1.5-1.5 1.5 0 4.5-1.5 1.5 0 6 1.5 1.5 1.5-1.5 0-1.5 4.3 0-2.8 16.5 1.2 9-79.2 0 0-6-1.5-1.5-1.5 0-1.5-1.5-3 0 0-9-1.5-1.5 0-13.5 1.5-1.5 0-10.5-1.5-1.5 0-9 1.5-1.5 0-1.5 1.5 0 1.5-1.5 1.5 0 1.5-1.5 9 0 1.5 1.5 12 0 1.5-1.5 0-6-1.5-1.5 0-1.5-1.5-1.5 0-3-1.5-1.5-3 0-1.5-1.5-3 0-1.5-1.5 0-12-1.5-1.5-1.5 0 0-10.5-1.5-1.5-1.5 1.5-1.5 0-1.5 1.5-10.5 0-1.5-1.5 0-25.5 1.5-1.5 3 0 1.5-1.5 0-1.5 1.5-1.5 1.5 0 1.5-1.5 3 0 1.5-1.5-1.5-1.5-3 0 0-13.5 1.5-1.5 0-1.5 1.5 0 1.5-1.5 12 0 1.5-1.5 9 0 0 6 1.5 1.5 1.5 0 1.5 1.5 0 9-1.5 1.5 0 1.5 3 3 0 1.5 4.5 4.5 0 1.5 1.5 1.5 0 3 1.5 1.5 3 0 1.5 1.5 1.5 0 3-3 1.5 0 1.5-1.5 3 0 1.5-1.5 3 0 1.5-1.5-1.5-1.5 0-15-1.5-1.5-1.5 0-1.5-1.5-1.5 0-3-3 0-1.5-1.5-1.5 0-4.5-1.5-1.5 0-22.5 1.5 0 1.5-1.5 1.5 0 3-3 1.5 0 1.5-1.5 1.5 0 1.5-1.5 1.5 0 1.5-1.5 0-1.5 1.5 0 3-3 1.5 0 1.5-1.5 0-1.5 1.5-1.5 0-1.5 6-6 0-12 1.5-1.5 1.5 0 6-6 1.5 0 1.5-1.5 1.5 0 3-3 1.5 0 1.5-1.5 10.5 0 1.5-1.5 1.5 0 1.5-1.5 0-1.5 7.5 0 1.5-1.5 3 0 1.5-1.5 18 0 1.5 1.5 4.5 0 1.5 1.5 1.5 0 4.5 4.5 3 0 0 1.5 3 3 7.5 0 1.5 1.5 4.5 0 1.5 1.5 1.5 0 1.5 1.5 1.5 0 1.5 1.5 3 0 1.5 1.5 1.5 0 3 3 1.5-1.5 0-4.5zM112.5 234.5l-7.5 0-1.5 1.5 0 6-1.5 1.5-1.5 0-1.5 1.5 1.5 1.5 3 0 0 12-1.5 1.5-9 0-1.5 1.5 0 1.5-3 3 1.5 1.5 1.5 0 1.5-1.5 12 0 1.5-1.5 9 0 1.5-1.5-1.5-1.5-1.5 0 0-9-1.5-1.5 0-10.5 1.5-1.5 0-3zM127.5 260l-1.5 1.5 1.5 1.5 1.5-1.5zM162 104l-1.5 1.5 0 1.5-3 3 1.5 1.5 1.5 0 1.5 1.5 1.5-1.5 0-6zM171 125l-1.5 0-1.5-1.5-1.5 0-1.5-1.5-1.5 1.5 0 3-1.5 1.5 0 1.5-1.5 0-4.5 4.5 0 1.5-1.5 1.5 0 9-1.5 1.5 1.5 1.5 3 0 1.5-1.5 1.5 0 1.5-1.5 0-9 1.5-1.5 0-1.5 3-3 1.5 0 1.5-1.5 1.5 0 1.5-1.5 0-1.5zM27 74l7.5 0 0 4.5 1.5 1.5 1.5 0 1.5 1.5 0 9-6 6-6 0z" fill="#00d0a0"/>
<path d="M261 59l0 11.6-4.5-1.1-3 .3-3 1.2-3 3-1 3 .1 6-.6 2.8-1.5 2.5-3.5 3.7-1.4 3 .5 1.5 1.4 1 3 .1 1.7 1.9-.1 3-2.1 6 1.2 6 .1 6 1.4 1.5 6.8 4.4 7.5 2.6 0 79.3-16.5 2.3-10.5 .8-18 4.5-7.5 0-4.5-1.5-3.1-2.4-.1-4.5-.8-3-3.5-3.5-9-6.1-4.5-2.2-4.5-.8-4.5 .8-5.2 2.8-3.7 3-2.7 3-1.4 7.5-3.7 6-1.7 9-1.1 1.7-1.5 1-3 .4-7.5-2.1-4.5 .1-4.5 3.6-3 4.3-1.4 6 .4 7-.5 .5 0 4.5-1.5 1.5 0 6 1.5 1.5 1.4-1.4-1.9 13.4 .7 10.5-75.2 0 0-6-1.5-1.5-1.5 0-1.5-1.5-3 0 0-9-1.5-1.5 0-13.5 1.5-1.5 0-10.5-1.5-1.5 0-9 1.5-1.5 0-1.5 1.5 0 1.5-1.5 1.5 0 1.5-1.5 9 0 1.5 1.5 12 0 1.5-1.5 0-6-1.5-1.5 0-1.5-1.5-1.5 0-3-1.5-1.5-3 0-1.5-1.5-3 0-1.5-1.5 0-12-1.5-1.5-1.5 0 0-10.5-1.5-1.5-1.5 1.5-1.5 0-1.5 1.5-10.5 0-1.5-1.5 0-25.5 1.5-1.5 3 0 1.5-1.5 0-1.5 1.5-1.5 1.5 0 1.5-1.5 3 0 1.5-1.5-1.5-1.5-3 0 0-13.5 1.5-1.5 0-1.5 1.5 0 1.5-1.5 12 0 1.5-1.5 9 0 0 6 1.5 1.5 1.5 0 1.5 1.5 0 9-1.5 1.5 0 1.5 3 3 0 1.5 4.5 4.5 0 1.5 1.5 1.5 0 3 1.5 1.5 3 0 1.5 1.5 1.5 0 3-3 1.5 0 1.5-1.5 3 0 1.5-1.5 3 0 1.5-1.5-1.5-1.5 0-15-1.5-1.5-1.5 0-1.5-1.5-1.5 0-3-3 0-1.5-1.5-1.5 0-4.5-1.5-1.5 0-22.5 1.5 0 1.5-1.5 1.5 0 3-3 1.5 0 1.5-1.5 1.5 0 1.5-1.5 1.5 0 1.5-1.5 0-1.5 1.5 0 3-3 1.5 0 1.5-1.5 0-1.5 1.5-1.5 0-1.5 6-6 0-12 1.5-1.5 1.5 0 6-6 1.5 0 1.5-1.5 1.5 0 3-3 1.5 0 1.5-1.5 10.5 0 1.5-1.5 1.5 0 1.5-1.5 0-1.5 7.5 0 1.5-1.5 3 0 1.5-1.5 18 0 1.5 1.5 4.5 0 1.5 1.5 1.5 0 4.5 4.5 3 0 0 1.5 3 3 7.5 0 1.5 1.5 4.5 0 1.5 1.5 1.5 0 1.5 1.5 1.5 0 1.5 1.5 3 0 1.5 1.5 1.5 0 3 3 1.5-1.5 0-4.5zM112.5 234.5l-7.5 0-1.5 1.5 0 6-1.5 1.5-1.5 0-1.5 1.5 1.5 1.5 3 0 0 12-1.5 1.5-9 0-1.5 1.5 0 1.5-3 3 1.5 1.5 1.5 0 1.5-1.5 12 0 1.5-1.5 9 0 1.5-1.5-1.5-1.5-1.5 0 0-9-1.5-1.5 0-10.5 1.5-1.5 0-3zM127.5 260l-1.5 1.5 1.5 1.5 1.5-1.5zM162 104l-1.5 1.5 0 1.5-3 3 1.5 1.5 1.5 0 1.5 1.5 1.5-1.5 0-6zM171 125l-1.5 0-1.5-1.5-1.5 0-1.5-1.5-1.5 1.5 0 3-1.5 1.5 0 1.5-1.5 0-4.5 4.5 0 1.5-1.5 1.5 0 9-1.5 1.5 1.5 1.5 3 0 1.5-1.5 1.5 0 1.5-1.5 0-9 1.5-1.5 0-1.5 3-3 1.5 0 1.5-1.5 1.5 0 1.5-1.5 0-1.5zM27 74l7.5 0 0 4.5 1.5 1.5 1.5 0 1.5 1.5 0 9-6 6-6 0z" fill="#00d46e"/>
<path d="M261 59l0 3.1-4.5 1.3-4.5 2.1-3 2.2-3 3.5-1.4 4.3 .6 6-.6 3-1.6 2.2-4.8 3.8-2.5 3-2.1 7.5-2.9 6-.5 3 1.6 7.5 .4 6 1.1 3 1.2 1.5 2.5 1.8 3 .6 3-.3 1.5 .5 .5 7.9 2.5 4 1.5 .9 3 0 9-4.8 0 65.1-11.4 2.3-17.1 1.3-15 5.1-6 .7-3-.7-2.7-1.9-2.7-6-2.4-3-16.2-10.3-4.5-1.2-4.5 .1-4 .9-8 3-7.5-3.3-4.5 .2-3 2.4-.3 2.2 4.3 6 0 3-1 1.8-2.8 2.7-.6 1.5 2.6 7.5 2.3 3.4 0 1.7-1.5 .5-1.7-1.1-1.3-1.8-12 .1-2.4 1.7-5.5 7.5-1.3 3-1.1 9 .7 13.5-2.1 13.5 .3 13.5-71.1 0 0-6-1.5-1.5-1.5 0-1.5-1.5-3 0 0-9-1.5-1.5 0-13.5 1.5-1.5 0-10.5-1.5-1.5 0-9 1.5-1.5 0-1.5 1.5 0 1.5-1.5 1.5 0 1.5-1.5 9 0 1.5 1.5 12 0 1.5-1.5 0-6-1.5-1.5 0-1.5-1.5-1.5 0-3-1.5-1.5-3 0-1.5-1.5-3 0-1.5-1.5 0-12-1.5-1.5-1.5 0 0-10.5-1.5-1.5-1.5 1.5-1.5 0-1.5 1.5-10.5 0-1.5-1.5 0-25.5 1.5-1.5 3 0 1.5-1.5 0-1.5 1.5-1.5 1.5 0 1.5-1.5 3 0 1.5-1.5-1.5-1.5-3 0 0-13.5 1.5-1.5 0-1.5 1.5 0 1.5-1.5 12 0 1.5-1.5 9 0 0 6 1.5 1.5 1.5 0 1.5 1.5 0 9-1.5 1.5 0 1.5 3 3 0 1.5 4.5 4.5 0 1.5 1.5 1.5 0 3 1.5 1.5 3 0 1.5 1.5 1.5 0 3-3 1.5 0 1.5-1.5 3 0 1.5-1.5 3 0 1.5-1.5-1.5-1.5 0-15-1.5-1.5-1.5 0-1.5-1.5-1.5 0-3-3 0-1.5-1.5-1.5 0-4.5-1.5-1.5 0-22.5 1.5 0 1.5-1.5 1.5 0 3-3 1.5 0 1.5-1.5 1.5 0 1.5-1.5 1.5 0 1.5-1.5 0-1.5 1.5 0 3-3 1.5 0 1.5-1.5 0-1.5 1.5-1.5 0-1.5 6-6 0-12 1.5-1.5 1.5 0 6-6 1.5 0 1.5-1.5 1.5 0 3-3 1.5 0 1.5-1.5 10.5 0 1.5-1.5 1.5 0 1.5-1.5 0-1.5 7.5 0 1.5-1.5 3 0 1.5-1.5 18 0 1.5 1.5 4.5 0 1.5 1.5 1.5 0 4.5 4.5 3 0 0 1.5 3 3 7.5 0 1.5 1.5 4.5 0 1.5 1.5 1.5 0 1.5 1.5 1.5 0 1.5 1.5 3 0 1.5 1.5 1.5 0 3 3 1.5-1.5 0-4.5zM112.5 234.5l-7.5 0-1.5 1.5 0 6-1.5 1.5-1.5 0-1.5 1.5 1.5 1.5 3 0 0 12-1.5 1.5-9 0-1.5 1.5 0 1.5-3 3 1.5 1.5 1.5 0 1.5-1.5 12 0 1.5-1.5 9 0 1.5-1.5-1.5-1.5-1.5 0 0-9-1.5-1.5 0-10.5 1.5-1.5 0-3zM162 104l-1.5 1.5 0 1.5-3 3 1.5 1.5 1.5 0 1.5 1.5 1.5-1.5 0-6zM171 125l-1.5 0-1.5-1.5-1.5 0-1.5-1.5-1.5 1.5 0 3-1.5 1.5 0 1.5-1.5 0-4.5 4.5 0 1.5-1.5 1.5 0 9-1.5 1.5 1.5 1.5 3 0 1.5-1.5 1.5 0 1.5-1.5 0-9 1.5-1.5 0-1.5 3-3 1.5 0 1.5-1.5 1.5 0 1.5-1.5 0-1.5zM27 74l7.5 0 0 4.5 1.5 1.5 1.5 0 1.5 1.5 0 9-6 6-6 0z" fill="#00e128"/>
<path d="M244.5 62l2 2-3.6 5.5-.9 3 0 3 1.4 6-.3 1.5-1.6 1.8-7.4 4.2-3.9 3-6.7 9-.4 4.5 3.7 9-.3 2.3-2.7 6.7-.3 3 .4 1.5 2.3 3 9.3 8.5 4.3 5 3.2 6 1.5 .7 3-.5 7.5-4.9 6-1.8 0 53.2-4.5 1.9-4.5 .9-16.5 .1-4.5 .6-4.5 1.9-8.7 4.9-4.8 1.4-3-1.3-3.5-4.6-3.2-3-8.3-4.2-6-4.5-4.5-2.3-7.5-1.2-12 1.5-9-1.7-4.5 .9-3 2.6-1.3 2.9-.2 3 1.8 3 .2 1.5-.5 1.5-4.8 6-1.3 4.5-1.4 1.2-6 2-6.2 4.3-3.5 4.5-1.2 3-1.1 13.5 .3 10.5-3.4 16.5 .7 9-1.2 4.5-65.4 0 0-6-1.5-1.5-1.5 0-1.5-1.5-3 0 0-9-1.5-1.5 0-13.5 1.5-1.5 0-10.5-1.5-1.5 0-9 1.5-1.5 0-1.5 1.5 0 1.5-1.5 1.5 0 1.5-1.5 9 0 1.5 1.5 12 0 1.5-1.5 0-6-1.5-1.5 0-1.5-1.5-1.5 0-3-1.5-1.5-3 0-1.5-1.5-3 0-1.5-1.5 0-12-1.5-1.5-1.5 0 0-10.5-1.5-1.5-1.5 1.5-1.5 0-1.5 1.5-10.5 0-1.5-1.5 0-25.5 1.5-1.5 3 0 1.5-1.5 0-1.5 1.5-1.5 1.5 0 1.5-1.5 3 0 1.5-1.5-1.5-1.5-3 0 0-13.5 1.5-1.5 0-1.5 1.5 0 1.5-1.5 12 0 1.5-1.5 9 0 0 6 1.5 1.5 1.5 0 1.5 1.5 0 9-1.5 1.5 0 1.5 3 3 0 1.5 4.5 4.5 0 1.5 1.5 1.5 0 3 1.5 1.5 3 0 1.5 1.5 1.5 0 3-3 1.5 0 1.5-1.5 3 0 1.5-1.5 3 0 1.5-1.5-1.5-1.5 0-15-1.5-1.5-1.5 0-1.5-1.5-1.5 0-3-3 0-1.5-1.5-1.5 0-4.5-1.5-1.5 0-22.5 1.5 0 1.5-1.5 1.5 0 3-3 1.5 0 1.5-1.5 1.5 0 1.5-1.5 1.5 0 1.5-1.5 0-1.5 1.5 0 3-3 1.5 0 1.5-1.5 0-1.5 1.5-1.5 0-1.5 6-6 0-12 1.5-1.5 1.5 0 6-6 1.5 0 1.5-1.5 1.5 0 3-3 1.5 0 1.5-1.5 10.5 0 1.5-1.5 1.5 0 1.5-1.5 0-1.5 7.5 0 1.5-1.5 3 0 1.5-1.5 18 0 1.5 1.5 4.5 0 1.5 1.5 1.5 0 4.5 4.5 3 0 0 1.5 3 3 7.5 0 1.5 1.5 4.5 0 1.5 1.5 1.5 0 1.5 1.5 1.5 0 1.5 1.5 3 0 1.5 1.5zM112.5 234.5l-7.5 0-1.5 1.5 0 6-1.5 1.5-1.5 0-1.5 1.5 1.5 1.5 3 0 0 12-1.5 1.5-9 0-1.5 1.5 0 1.5-3 3 1.5 1.5 1.5 0 1.5-1.5 12 0 1.5-1.5 9 0 1.5-1.5-1.5-1.5-1.5 0 0-9-1.5-1.5 0-10.5 1.5-1.5 0-3zM111 211.1l-1.9 .9-1.1 1.5-.1 1.5 1.6 2.3 3 .7 1.7-1.5 .1-3-.8-1.5zM162 104l-1.5 1.5 0 1.5-3 3 1.5 1.5 1.5 0 1.5 1.5 1.5-1.5 0-6zM171 125l-1.5 0-1.5-1.5-1.5 0-1.5-1.5-1.5 1.5 0 3-1.5 1.5 0 1.5-1.5 0-4.5 4.5 0 1.5-1.5 1.5 0 9-1.5 1.5 1.5 1.5 3 0 1.5-1.5 1.5 0 1.5-1.5 0-9 1.5-1.5 0-1.5 3-3 1.5 0 1.5-1.5 1.5 0 1.5-1.5 0-1.5zM249 61.2l0-2.2 2.5 0zM27 74l7.5 0 0 4.5 1.5 1.5 1.5 0 1.5 1.5 0 9-6 6-6 0z" fill="#00e80a"/>
<path d="M237 59l1.5 1.6-3 1.8-6 2.2-1.6 1.9 .2 1.5 1.4 2 4.5 2.2 3 3.6 1.7 4.2-.6 1.5-4.1 1.4-9 1.2-6 2.2-6 5-4.7 6.7-.7 3 .2 1.5 3.2 7.5 1.1 4.5-.4 3-2.6 7.5-.4 3 .9 3 1.2 1.5 10.7 6 3.4 3 2.3 3 1.3 3 .7 4.5-.1 4.5-1.1 5 1.5 .2 3.3-3.7 2.7-1.2 13.5-1.5 9-4.4 3-.4 0 24.6-4.5 2.5-1 1.4-2.9 7.5-2.1 1.7-3 .8-6-.2-9-1.4-3 .3-3 1.5-9 7.3-3 1.4-3 .2-15-3.9-7.5-5.5-6-2.4-6-.8-10.5 .1-9-1-3 .3-4.5 1.9-2.4 2.7-2.5 6-.2 4.5-1.6 3-11.5 12-4.3 2.8-3 1-3-.7-3-3.4-2.3-4.2-2.2-2.1-4.5-2.4-1.5-.2-1.5 .7-2.7 5.5-.7 7.5-1.5 3-4.1 3.9-3 1.2-3-.1-5.3-2-1.3 0-.9 .6-5 6.9-.8 4.5 3.4 16.5 1.5 3 2.4 2.1 4.5 1 6-1 4.5-3 3-4.5 0 6.9-1.5 1.5-9 0-1.5 1.5 0 1.5-3 3 1.5 1.5 1.5 0 1.5-1.5 12 0 1.5-1.5 5.8 0-2.3 4.5-1.5 4.5-.7 9-53.8 0 0-6-1.5-1.5-1.5 0-1.5-1.5-3 0 0-9-1.5-1.5 0-13.5 1.5-1.5 0-10.5-1.5-1.5 0-9 1.5-1.5 0-1.5 1.5 0 1.5-1.5 1.5 0 1.5-1.5 9 0 1.5 1.5 12 0 1.5-1.5 0-6-1.5-1.5 0-1.5-1.5-1.5 0-3-1.5-1.5-3 0-1.5-1.5-3 0-1.5-1.5 0-12-1.5-1.5-1.5 0 0-10.5-1.5-1.5-1.5 1.5-1.5 0-1.5 1.5-10.5 0-1.5-1.5 0-25.5 1.5-1.5 3 0 1.5-1.5 0-1.5 1.5-1.5 1.5 0 1.5-1.5 3 0 1.5-1.5-1.5-1.5-3 0 0-13.5 1.5-1.5 0-1.5 1.5 0 1.5-1.5 12 0 1.5-1.5 9 0 0 6 1.5 1.5 1.5 0 1.5 1.5 0 9-1.5 1.5 0 1.5 3 3 0 1.5 4.5 4.5 0 1.5 1.5 1.5 0 3 1.5 1.5 3 0 1.5 1.5 1.5 0 3-3 1.5 0 1.5-1.5 3 0 1.5-1.5 3 0 1.5-1.5-1.5-1.5 0-15-1.5-1.5-1.5 0-1.5-1.5-1.5 0-3-3 0-1.5-1.5-1.5 0-4.5-1.5-1.5 0-22.5 1.5 0 1.5-1.5 1.5 0 3-3 1.5 0 1.5-1.5 1.5 0 1.5-1.5 1.5 0 1.5-1.5 0-1.5 1.5 0 3-3 1.5 0 1.5-1.5 0-1.5 1.5-1.5 0-1.5 6-6 0-12 1.5-1.5 1.5 0 6-6 1.5 0 1.5-1.5 1.5 0 3-3 1.5 0 1.5-1.5 10.5 0 1.5-1.5 1.5 0 1.5-1.5 0-1.5 7.5 0 1.5-1.5 3 0 1.5-1.5 18 0 1.5 1.5 4.5 0 1.5 1.5 1.5 0 4.5 4.5 3 0 0 1.5 3 3 7.5 0 1.5 1.5 4.5 0 1.5 1.5 1.5 0 1.5 1.5zM162 104l-1.5 1.5 0 1.5-3 3 1.5 1.5 1.5 0 1.5 1.5 1.5-1.5 0-6zM171 125l-1.5 0-1.5-1.5-1.5 0-1.5-1.5-1.5 1.5 0 3-1.5 1.5 0 1.5-1.5 0-4.5 4.5 0 1.5-1.5 1.5 0 9-1.5 1.5 1.5 1.5 3 0 1.5-1.5 1.5 0 1.5-1.5 0-9 1.5-1.5 0-1.5 3-3 1.5 0 1.5-1.5 1.5 0 1.5-1.5 0-1.5zM27 74l7.5 0 0 4.5 1.5 1.5 1.5 0 1.5 1.5 0 9-6 6-6 0zM114 236.6l1.7 .9 .2 4.5 1.9 9-.9 4.5-2.8 6-.1-9-1.5-1.5 0-10.5 1.5-1.5z" fill="#00e150"/>
<path d="M227.3 56l-4.2 4.5-5.2 10.5-5.9 7.5-8 18-1.4 4.5 2.3 9 .5 4.5-.8 4.5-2.6 7.5 .7 4.5 .6 1.5 2.6 3 11.2 7.5 2.1 3 .9 3 .1 3-1.3 10.5 1.4 13.5-.8 4.5-2.5 4.5-3.1 3-3.9 2.3-3 1.2-4.5 .5-4.5-.7-9-5.6-6-1.9-24-2.4-6 .9-3 1.5-2.9 2.7-3.2 6-5.2 6-1.4 4.5-2.6 4.5-4.7 6-2.5 1.9-1.5 .5-3-.9-3-2.1-9.5-11.4-4-8.9-3-1.5-1.5 .3-.9 1.1-1.4 4.5 1.9 9-.1 4.5-1.4 7.5-1.6 3-2.5 2.1-3 .7-7.5-1.9-1.8 .6-4.2 3.7-1.5 .5-3 .2-4.5-.6-.4 .7 1.9 6 1.1 6 3 7.5 2.9 16.5 2 1.8 9.4 4.2 5.2 4.5 1.4 3-.7 6-42.3 0 0-6-1.5-1.5-1.5 0-1.5-1.5-3 0 0-9-1.5-1.5 0-13.5 1.5-1.5 0-10.5-1.5-1.5 0-9 1.5-1.5 0-1.5 1.5 0 1.5-1.5 1.5 0 1.5-1.5 9 0 1.5 1.5 12 0 1.5-1.5 0-6-1.5-1.5 0-1.5-1.5-1.5 0-3-1.5-1.5-3 0-1.5-1.5-3 0-1.5-1.5 0-12-1.5-1.5-1.5 0 0-10.5-1.5-1.5-1.5 1.5-1.5 0-1.5 1.5-10.5 0-1.5-1.5 0-25.5 1.5-1.5 3 0 1.5-1.5 0-1.5 1.5-1.5 1.5 0 1.5-1.5 3 0 1.5-1.5-1.5-1.5-3 0 0-13.5 1.5-1.5 0-1.5 1.5 0 1.5-1.5 12 0 1.5-1.5 9 0 0 6 1.5 1.5 1.5 0 1.5 1.5 0 9-1.5 1.5 0 1.5 3 3 0 1.5 4.5 4.5 0 1.5 1.5 1.5 0 3 1.5 1.5 3 0 1.5 1.5 1.5 0 3-3 1.5 0 1.5-1.5 3 0 1.5-1.5 3 0 1.5-1.5-1.5-1.5 0-15-1.5-1.5-1.5 0-1.5-1.5-1.5 0-3-3 0-1.5-1.5-1.5 0-4.5-1.5-1.5 0-22.5 1.5 0 1.5-1.5 1.5 0 3-3 1.5 0 1.5-1.5 1.5 0 1.5-1.5 1.5 0 1.5-1.5 0-1.5 1.5 0 3-3 1.5 0 1.5-1.5 0-1.5 1.5-1.5 0-1.5 6-6 0-12 1.5-1.5 1.5 0 6-6 1.5 0 1.5-1.5 1.5 0 3-3 1.5 0 1.5-1.5 10.5 0 1.5-1.5 1.5 0 1.5-1.5 0-1.5 7.5 0 1.5-1.5 3 0 1.5-1.5 18 0 1.5 1.5 4.5 0 1.5 1.5 1.5 0 4.5 4.5 3 0 0 1.5 3 3 7.5 0 1.5 1.5zM162 104l-1.5 1.5 0 1.5-3 3 1.5 1.5 1.5 0 1.5 1.5 1.5-1.5 0-6zM171 125l-1.5 0-1.5-1.5-1.5 0-1.5-1.5-1.5 1.5 0 3-1.5 1.5 0 1.5-1.5 0-4.5 4.5 0 1.5-1.5 1.5 0 9-1.5 1.5 1.5 1.5 3 0 1.5-1.5 1.5 0 1.5-1.5 0-9 1.5-1.5 0-1.5 3-3 1.5 0 1.5-1.5 1.5 0 1.5-1.5 0-1.5zM27 74l7.5 0 0 4.5 1.5 1.5 1.5 0 1.5 1.5 0 9-6 6-6 0zM248.3 161l3.4 1.5 1.1 1.5-.3 3-2 3-3 2.8-3 1.6-1.5-.1-2.1-1.3-1.5-3-.3-3 .8-3 1-1.5 2.1-1.6z" fill="#8ce8af"/>
<path d="M220.2 54.5l-7.2 10.8-1.5 .5-3-1.2-1.5 .1-1.5 .8-.5 1 .7 7.5-.4 6-5.3 21 1 13.5-1.7 4.5-5.8 7.1-1 3.4 .4 3 2.1 3.4 3 2.2 12.1 6.4 1.8 1.5 .9 1.5 .6 4.5-1.5 12 .5 12-.8 3-1.6 2.2-4.5 3.6-4.5 1.2-3-.5-10.5-3.8-25.5-4.1-4.5-.1-4.5 1.2-5.4 3.3-6.6 6.5-9 .6-3.3 1.9-.6 1.5 .3 1.5 4.7 6 .6 3-.8 3-2.4 3.7-3 3.1-1.5 .5-1.5-.2-4.5-2.3-3.9-4.8-2.4-4.5-1.7-9-2.5-4.2-2.3-1.8-2.2-.8-3-.2-3 .6-6.6 3.4-3.1 3-.5 1.5 .5 1.5 6.7 7 2.2 3.5 .8 4.5-.8 4.5-1.1 3-1.1 1.5-1.5 1-1.5 .1-2.9-1.1-1.7-1.5-.8-1.5-.2-6-2-10.5-1.4-2.2-4.5-.7-4.1 1.4-.8 1.5 1.3 4.5 2.7 6 .8 4.5 2.1 3-2 1.9-3 0 0-4.9-1.5-1.5 0-1.5-1.5-1.5 0-3-1.5-1.5-3 0-1.5-1.5-3 0-1.5-1.5 0-12-1.5-1.5-1.5 0 0-10.5-1.5-1.5-1.5 1.5-1.5 0-1.5 1.5-10.5 0-1.5-1.5 0-25.5 1.5-1.5 3 0 1.5-1.5 0-1.5 1.5-1.5 1.5 0 1.5-1.5 3 0 1.5-1.5-1.5-1.5-3 0 0-13.5 1.5-1.5 0-1.5 1.5 0 1.5-1.5 12 0 1.5-1.5 9 0 0 6 1.5 1.5 1.5 0 1.5 1.5 0 9-1.5 1.5 0 1.5 3 3 0 1.5 4.5 4.5 0 1.5 1.5 1.5 0 3 1.5 1.5 3 0 1.5 1.5 1.5 0 3-3 1.5 0 1.5-1.5 3 0 1.5-1.5 3 0 1.5-1.5-1.5-1.5 0-15-1.5-1.5-1.5 0-1.5-1.5-1.5 0-3-3 0-1.5-1.5-1.5 0-4.5-1.5-1.5 0-22.5 1.5 0 1.5-1.5 1.5 0 3-3 1.5 0 1.5-1.5 1.5 0 1.5-1.5 1.5 0 1.5-1.5 0-1.5 1.5 0 3-3 1.5 0 1.5-1.5 0-1.5 1.5-1.5 0-1.5 6-6 0-12 1.5-1.5 1.5 0 6-6 1.5 0 1.5-1.5 1.5 0 3-3 1.5 0 1.5-1.5 10.5 0 1.5-1.5 1.5 0 1.5-1.5 0-1.5 7.5 0 1.5-1.5 3 0 1.5-1.5 18 0 1.5 1.5 4.5 0 1.5 1.5 1.5 0 4.5 4.5 3 0 0 1.5 3 3zM162 104l-1.5 1.5 0 1.5-3 3 1.5 1.5 1.5 0 1.5 1.5 1.5-1.5 0-6zM171 125l-1.5 0-1.5-1.5-1.5 0-1.5-1.5-1.5 1.5 0 3-1.5 1.5 0 1.5-1.5 0-4.5 4.5 0 1.5-1.5 1.5 0 9-1.5 1.5 1.5 1.5 3 0 1.5-1.5 1.5 0 1.5-1.5 0-9 1.5-1.5 0-1.5 3-3 1.5 0 1.5-1.5 1.5 0 1.5-1.5 0-1.5zM27 74l7.5 0 0 4.5 1.5 1.5 1.5 0 1.5 1.5 0 9-6 6-6 0zM46.5 224l1.5 0 1.5-1.5 1.5 0 1.5-1.5 9 0 1.5 1.5 2.8 0-.3 4.5 2.4 7.5 .4 7.5 2.3 1.5 1.2 1.5 1.2 3 1.2 6 .6 9 1.2 3 3.5 5.1 3.8 2.4 .9 1.5-.3 1.5-1.4 1-1.5 .1-13.5-3.5-4.5 1.5-9 5.4 0-4.5-1.5-1.5-1.5 0-1.5-1.5-3 0 0-9-1.5-1.5 0-13.5 1.5-1.5 0-10.5-1.5-1.5 0-9 1.5-1.5z" fill="#ffffff"/>
<path d="M214.5 50l.5 2-3.6 4-5.9 4.8-2.9 4.2-1.5 16.5-2.4 15-1.7 7.5-.2 10.5-5.8 7.5-1.5 4.5-.1 6 1.5 6 2.6 3.6 8.2 6.9 2.1 4.5 .1 4.5-1.2 10.5-1 3-2.2 2.8-6 2.3-10.5 .7-6-.9-15-5.1-3 .2-6 2.4-4.5 2.7-8.9 6.9-10.6 3-6 3-1.6 1.5 .1 1.5 7.5 6.1 1.5 2.1 .7 2.3-.4 3-1.8 3-1.5 1.5-3 .8-3-1-1.5-1.1-2.4-3.2-1.3-3-.3-4.5 1-3.9 1.1-2.1 0-1.5-5.6-6.3-4.5-3.1-4.5-.6-4.5 1.2-19.5 10-12 1.3-2.2 2-1.3 3 .5 6-1.5-1.5 0-12-1.5-1.5-1.5 0 0-10.5-1.5-1.5-1.5 1.5-1.5 0-1.5 1.5-10.5 0-1.5-1.5 0-25.5 1.5-1.5 3 0 1.5-1.5 0-1.5 1.5-1.5 1.5 0 1.5-1.5 3 0 1.5-1.5-1.5-1.5-3 0 0-13.5 1.5-1.5 0-1.5 1.5 0 1.5-1.5 12 0 1.5-1.5 9 0 0 6 1.5 1.5 1.5 0 1.5 1.5 0 9-1.5 1.5 0 1.5 3 3 0 1.5 4.5 4.5 0 1.5 1.5 1.5 0 3 1.5 1.5 3 0 1.5 1.5 1.5 0 3-3 1.5 0 1.5-1.5 3 0 1.5-1.5 3 0 1.5-1.5-1.5-1.5 0-15-1.5-1.5-1.5 0-1.5-1.5-1.5 0-3-3 0-1.5-1.5-1.5 0-4.5-1.5-1.5 0-22.5 1.5 0 1.5-1.5 1.5 0 3-3 1.5 0 1.5-1.5 1.5 0 1.5-1.5 1.5 0 1.5-1.5 0-1.5 1.5 0 3-3 1.5 0 1.5-1.5 0-1.5 1.5-1.5 0-1.5 6-6 0-12 1.5-1.5 1.5 0 6-6 1.5 0 1.5-1.5 1.5 0 3-3 1.5 0 1.5-1.5 10.5 0 1.5-1.5 1.5 0 1.5-1.5 0-1.5 7.5 0 1.5-1.5 3 0 1.5-1.5 18 0 1.5 1.5 4.5 0 1.5 1.5 1.5 0 4.5 4.5zM162 104l-1.5 1.5 0 1.5-3 3 1.5 1.5 1.5 0 1.5 1.5 1.5-1.5 0-6zM171 125l-1.5 0-1.5-1.5-1.5 0-1.5-1.5-1.5 1.5 0 3-1.5 1.5 0 1.5-1.5 0-4.5 4.5 0 1.5-1.5 1.5 0 9-1.5 1.5 1.5 1.5 3 0 1.5-1.5 1.5 0 1.5-1.5 0-9 1.5-1.5 0-1.5 3-3 1.5 0 1.5-1.5 1.5 0 1.5-1.5 0-1.5zM27 74l7.5 0 0 4.5 1.5 1.5 1.5 0 1.5 1.5 0 9-6 6-6 0zM91.5 206.3l1.5-.3 1.5 .7 1.6 2.3-.1 3-1.5 2.8-1.5 .4-1.5-1.5-1.1-3.2 .3-3zM61.5 221l.9 .9 .6 5.1 2.2 7.5 .8 7.7 3.4 5.8 1.5 4.5 .5 4.5-1 9-.9 1.5-6.5 2-12.5 5-1-1-3 0 0-9-1.5-1.5 0-13.5 1.5-1.5 0-10.5-1.5-1.5 0-9 1.5-1.5 0-1.5 1.5 0 1.5-1.5 1.5 0 1.5-1.5z" fill="#faf5d2"/>
<path d="M210.7 49.2l-6.7 8.4-2.6 4.4-4.1 21-1.4 15-3.3 6-2.3 7.5-4.5 3-.7 1.5 1.3 15-1.1 16.5 4.2 9 .7 4.5-1 4.5-2.5 3-3.6 1.5-3.1 0-3.9-1.5-8.1-5.5-3-.9-3 .2-4.5 1.9-11.8 7.3-10.6 9-9.1 3.7-4.5 .8-3-.8-7.5-6.5-3-1.3-3 0-4.5 1.4-12 7.2-7.5 3.4-4.5 1.1-9 1.2-4.5 2.3 0-2-1.5-1.5-1.5 0 0-10.5-1.5-1.5-1.5 1.5-1.5 0-1.5 1.5-10.5 0-1.5-1.5 0-25.5 1.5-1.5 3 0 1.5-1.5 0-1.5 1.5-1.5 1.5 0 1.5-1.5 3 0 1.5-1.5-1.5-1.5-3 0 0-13.5 1.5-1.5 0-1.5 1.5 0 1.5-1.5 12 0 1.5-1.5 9 0 0 6 1.5 1.5 1.5 0 1.5 1.5 0 9-1.5 1.5 0 1.5 3 3 0 1.5 4.5 4.5 0 1.5 1.5 1.5 0 3 1.5 1.5 3 0 1.5 1.5 1.5 0 3-3 1.5 0 1.5-1.5 3 0 1.5-1.5 3 0 1.5-1.5-1.5-1.5 0-15-1.5-1.5-1.5 0-1.5-1.5-1.5 0-3-3 0-1.5-1.5-1.5 0-4.5-1.5-1.5 0-22.5 1.5 0 1.5-1.5 1.5 0 3-3 1.5 0 1.5-1.5 1.5 0 1.5-1.5 1.5 0 1.5-1.5 0-1.5 1.5 0 3-3 1.5 0 1.5-1.5 0-1.5 1.5-1.5 0-1.5 6-6 0-12 1.5-1.5 1.5 0 6-6 1.5 0 1.5-1.5 1.5 0 3-3 1.5 0 1.5-1.5 10.5 0 1.5-1.5 1.5 0 1.5-1.5 0-1.5 7.5 0 1.5-1.5 3 0 1.5-1.5 18 0 1.5 1.5 4.5 0 1.5 1.5 1.5 0zM132 159.1l-1 .4 0 1.5 1 .7 1.4-.7-.6-1.5zM162 104l-1.5 1.5 0 1.5-3 3 1.5 1.5 1.5 0 1.5 1.5 1.5-1.5 0-6zM171 125l-1.5 0-1.5-1.5-1.5 0-1.5-1.5-1.5 1.5 0 3-1.5 1.5 0 1.5-1.5 0-4.5 4.5 0 1.5-1.5 1.5 0 9-1.5 1.5 1.5 1.5 3 0 1.5-1.5 1.5 0 1.5-1.5 0-9 1.5-1.5 0-1.5 3-3 1.5 0 1.5-1.5 1.5 0 1.5-1.5 0-1.5zM27 74l7.5 0 0 4.5 1.5 1.5 1.5 0 1.5 1.5 0 9-6 6-6 0zM120 198.1l1.5-.6 3 .5 3 2 1.7 3-.3 3-1.4 2.4-1.5 1.1-1.5 .3-3-.8-2.5-3-.9-4.5 .4-1.5zM59.2 221l3.8 13.5 1.9 10.5 2.9 7.5 .4 3-.4 3-3.8 4.5-4 2.7-13.5 3.4 0-4.6-1.5-1.5 0-13.5 1.5-1.5 0-10.5-1.5-1.5 0-9 1.5-1.5 0-1.5 1.5 0 1.5-1.5 1.5 0 1.5-1.5z" fill="#f7eea5"/>
<path d="M207.1 45.6l-6.1 11-1.6 3.9-1.6 7.5-3.7 12-2.6 15-1 1.5-4.5 4-6 7.4-2.1 3.6-.3 4.5 5.3 10.5 .3 6-1.4 4.5-1.8 2.8-7.5 7.3-6 3.3-16.5 5.2-1.5-.4-7.3-6.2-4.7-1.5-3-.1-4.5 .9-7 3.7-6.5 6.3-1.5 2.7-.3 3 .3 .8 1.5 .9 6 .2 3 .8 3.6 1.8 3.5 3 .8 3-1.5 3-1.9 1.5-4.5 2.1-3 .3-3-1.1-3.2-4.3-2.8-5-1.5-1.4-1.5-.1-3 .9-4.5 2.4-12.7 9.2-5.3 2.8-6 2-12 2-3.7 1.5-.8-.8-1.5 0 0-10.5-1.5-1.5-1.5 1.5-1.5 0-1.5 1.5-10.5 0-1.5-1.5 0-25.5 1.5-1.5 3 0 1.5-1.5 0-1.5 1.5-1.5 1.5 0 1.5-1.5 3 0 1.5-1.5-1.5-1.5-3 0 0-13.5 1.5-1.5 0-1.5 1.5 0 1.5-1.5 12 0 1.5-1.5 9 0 0 6 1.5 1.5 1.5 0 1.5 1.5 0 9-1.5 1.5 0 1.5 3 3 0 1.5 4.5 4.5 0 1.5 1.5 1.5 0 3 1.5 1.5 3 0 1.5 1.5 1.5 0 3-3 1.5 0 1.5-1.5 3 0 1.5-1.5 3 0 1.5-1.5-1.5-1.5 0-15-1.5-1.5-1.5 0-1.5-1.5-1.5 0-3-3 0-1.5-1.5-1.5 0-4.5-1.5-1.5 0-22.5 1.5 0 1.5-1.5 1.5 0 3-3 1.5 0 1.5-1.5 1.5 0 1.5-1.5 1.5 0 1.5-1.5 0-1.5 1.5 0 3-3 1.5 0 1.5-1.5 0-1.5 1.5-1.5 0-1.5 6-6 0-12 1.5-1.5 1.5 0 6-6 1.5 0 1.5-1.5 1.5 0 3-3 1.5 0 1.5-1.5 10.5 0 1.5-1.5 1.5 0 1.5-1.5 0-1.5 7.5 0 1.5-1.5 3 0 1.5-1.5 18 0 1.5 1.5 4.5 0 1.5 1.5zM162 104l-1.5 1.5 0 1.5-3 3 1.5 1.5 1.5 0 1.5 1.5 1.5-1.5 0-6zM171 125l-1.5 0-1.5-1.5-1.5 0-1.5-1.5-1.5 1.5 0 3-1.5 1.5 0 1.5-1.5 0-4.5 4.5 0 1.5-1.5 1.5 0 9-1.5 1.5 1.5 1.5 3 0 1.5-1.5 1.5 0 1.5-1.5 0-9 1.5-1.5 0-1.5 3-3 1.5 0 1.5-1.5 1.5 0 1.5-1.5 0-1.5zM27 74l7.5 0 0 4.5 1.5 1.5 1.5 0 1.5 1.5 0 9-6 6-6 0zM121.5 200.6l3-.1 1.5 .8 1.1 1.7 0 3-1.1 1.6-3 .8-1.5-.8-1.1-1.6-.4-3zM56 221l4.6 12 1.9 12 1.9 7.5 .1 3-1.5 3.1-4.5 3.5-3 .7-10.5 .1 0-13.4 1.5-1.5 0-10.5-1.5-1.5 0-9 1.5-1.5 0-1.5 1.5 0 1.5-1.5 1.5 0 1.5-1.5z" fill="#f0e464"/>
<path d="M202 44l-4.9 13.5-1.3 9-5 10.5-3.6 13.5-10.2 14.9-2.7 6.1-.4 4.5 .7 3 5.3 10.5-.1 1.5-1.5 3-2.8 2.8-4.5 2.7-4.5 1.8-4.5 .9 0-5.2 1.5-1.5 0-1.5 3-3 1.5 0 1.5-1.5 1.5 0 1.5-1.5 0-1.5-1.5-1.5-1.5 0-1.5-1.5-1.5 0-1.5-1.5-1.5 1.5 0 3-1.5 1.5 0 1.5-1.5 0-4.5 4.5 0 1.5-1.5 1.5 0 5.2-13.5-2.7-7.5 .2-4.5 1.6-6 3.4-6 4.2-4.5 4.2 0-14.6-1.5-1.5-1.5 0-1.5-1.5-1.5 0-3-3 0-1.5-1.5-1.5 0-4.5-1.5-1.5 0-22.5 1.5 0 1.5-1.5 1.5 0 3-3 1.5 0 1.5-1.5 1.5 0 1.5-1.5 1.5 0 1.5-1.5 0-1.5 1.5 0 3-3 1.5 0 1.5-1.5 0-1.5 1.5-1.5 0-1.5 6-6 0-12 1.5-1.5 1.5 0 6-6 1.5 0 1.5-1.5 1.5 0 3-3 1.5 0 1.5-1.5 10.5 0 1.5-1.5 1.5 0 1.5-1.5 0-1.5 7.5 0 1.5-1.5 3 0 1.5-1.5 18 0 1.5 1.5zM162 104l-1.5 1.5 0 1.5-3 3 1.5 1.5 1.5 0 1.5 1.5 1.5-1.5 0-6zM27 74l7.5 0 0 4.5 1.5 1.5 1.5 0 1.5 1.5 0 9-6 6-6 0zM79.5 123.5l0 6 1.5 1.5 1.5 0 1.5 1.5 0 9-1.5 1.5 0 1.5 3 3 0 1.5 4.5 4.5 0 1.5 1.5 1.5 0 3 1.5 1.5 3 0 1.5 1.5 1.5 0 3-3 1.5 0 1.5-1.5 3 0 1.7-1.5-7.4 10.5-10.8 10.5-4.5 3.5-7.5 3.2-13.5 2.5-6 2 0-9.7-1.5-1.5-1.5 1.5-1.5 0-1.5 1.5-10.5 0-1.5-1.5 0-25.5 1.5-1.5 3 0 1.5-1.5 0-1.5 1.5-1.5 1.5 0 1.5-1.5 3 0 1.5-1.5-1.5-1.5-3 0 0-13.5 1.5-1.5 0-1.5 1.5 0 1.5-1.5 12 0 1.5-1.5zM121.5 172.7l1.5 .5 1 1.3-.2 1.5-2.3 1.6-1.5-.3-.9-1.3 .1-1.5 .8-1.4zM123 203.2l1.5 .3 .6 1-.6 1.8-1.5 .3-.7-.6-.2-1.5zM52.4 221.1l6 11.9 .6 3 .2 9 1.6 7.5-.4 3-.9 1.5-1.8 1.5-2.2 .6-6-1.8-4.5-.6 0-7.2 1.5-1.5 0-10.5-1.5-1.5 0-9 1.5-1.5 0-1.5 1.5 0 1.5-1.5 1.5 0z" fill="#f5e40a"/>
<path d="M195.4 42.5l-.5 6-2.3 7.5-1.3 9-4.7 9-2.9 12-1.6 4.5-8.1 13.7-2.5 5.8-1 7.5 1.1 8.1-.6-.6-1.5 0-1.5-1.5-1.5 0-1.5-1.5-1.5 1.5 0 3-1.5 1.5 0 1.5-1.5 0-4.5 4.5 0 1.1-18-1.3-6 .5-7.5 4-12 8.7 0-8.5-1.5-1.5-1.5 0-1.5-1.5-1.5 0-3-3 0-1.5-1.5-1.5 0-4.5-1.5-1.5 0-22.5 1.5 0 1.5-1.5 1.5 0 3-3 1.5 0 1.5-1.5 1.5 0 1.5-1.5 1.5 0 1.5-1.5 0-1.5 1.5 0 3-3 1.5 0 1.5-1.5 0-1.5 1.5-1.5 0-1.5 6-6 0-12 1.5-1.5 1.5 0 6-6 1.5 0 1.5-1.5 1.5 0 3-3 1.5 0 1.5-1.5 10.5 0 1.5-1.5 1.5 0 1.5-1.5 0-1.5 7.5 0 1.5-1.5 3 0 1.5-1.5zM162 104l-1.5 1.5 0 1.5-3 3 1.5 1.5 1.5 0 1.5 1.5 1.5-1.5 0-6zM27 74l7.5 0 0 4.5 1.5 1.5 1.5 0 1.5 1.5 0 9-6 6-6 0zM79.5 123.5l0 6 1.5 1.5 1.5 0 1.5 1.5 0 9-1.5 1.5 0 1.5 3 3 0 1.5 4.5 4.5 0 1.5 1.5 1.5 0 3 1.5 1.5 3 0 1.5 1.5 1.5 0 3.4-3-5.2 7.5-7.5 9-4.2 3.6-4.5 2-21 4.4 0-7-1.5-1.5-1.5 1.5-1.5 0-1.5 1.5-10.5 0-1.5-1.5 0-25.5 1.5-1.5 3 0 1.5-1.5 0-1.5 1.5-1.5 1.5 0 1.5-1.5 3 0 1.5-1.5-1.5-1.5-3 0 0-13.5 1.5-1.5 0-1.5 1.5 0 1.5-1.5 12 0 1.5-1.5zM171.4 129.1l-1.1 1.9-2 1.5-4.8 1.9 3-3.4 1.5 0 1.5-1.5zM48.9 223.1l6.6 8.8 .8 4.1-1.4 3-4.9 3-3.5 4.6 0-9.1-1.5-1.5 0-9 1.5-1.5 0-1.5 1.5 0z" fill="#f5d714"/>
<path d="M180.9 42.5l-.8 6 .8 9-.9 7.5 1 9-1.6 12-2.2 6-7.8 15-3.8 15.6-.6-.6-1.5 1.5 0 2.6-3 2.2-6 1.6-21 0-3 .6-6 3.1-12 8.1 0-3.2-1.5-1.5-1.5 0-1.5-1.5-1.5 0-3-3 0-1.5-1.5-1.5 0-4.5-1.5-1.5 0-22.5 1.5 0 1.5-1.5 1.5 0 3-3 1.5 0 1.5-1.5 1.5 0 1.5-1.5 1.5 0 1.5-1.5 0-1.5 1.5 0 3-3 1.5 0 1.5-1.5 0-1.5 1.5-1.5 0-1.5 6-6 0-12 1.5-1.5 1.5 0 6-6 1.5 0 1.5-1.5 1.5 0 3-3 1.5 0 1.5-1.5 10.5 0 1.5-1.5 1.5 0 1.5-1.5 0-1.5 7.5 0 1.5-1.5 3 0 1.5-1.5zM162 104l-1.5 1.5 0 1.5-3 3 1.5 1.5 1.5 0 1.5 1.5 1.5-1.5 0-6zM27 74l7.5 0 0 4.5 1.5 1.5 1.5 0 1.5 1.5 0 9-6 6-6 0zM79.5 123.5l0 6 1.5 1.5 1.5 0 1.5 1.5 0 9-1.5 1.5 0 1.5 3 3 0 1.5 4.5 4.5 0 1.5 1.5 1.5 0 3 1.5 1.5 3 0 .5 .5-7.6 11.5-3.4 3.8-3 1.9-4.5 1.6-7.5 1.7-10.5 1.5 0-4.5-1.5-1.5-1.5 1.5-1.5 0-1.5 1.5-10.5 0-1.5-1.5 0-25.5 1.5-1.5 3 0 1.5-1.5 0-1.5 1.5-1.5 1.5 0 1.5-1.5 3 0 1.5-1.5-1.5-1.5-3 0 0-13.5 1.5-1.5 0-1.5 1.5 0 1.5-1.5 12 0 1.5-1.5zM45 227l5.3 6-.1 1.5-4.7 2-.5-.5z" fill="#f5cd14"/>
<path d="M170.6 45.5l4.4 15 1.9 13.5-.3 7.5-1.7 7.5-7.4 15-4.6 13.5-1.6 3-3.8 3.7-4.5 1.7-9 1-10.5 0-5.5 1.1-5 2.3-11.5 7.2-.5-.5-1.5 0-1.5-1.5-1.5 0-3-3 0-1.5-1.5-1.5 0-4.5-1.5-1.5 0-22.5 1.5 0 1.5-1.5 1.5 0 3-3 1.5 0 1.5-1.5 1.5 0 1.5-1.5 1.5 0 1.5-1.5 0-1.5 1.5 0 3-3 1.5 0 1.5-1.5 0-1.5 1.5-1.5 0-1.5 6-6 0-12 1.5-1.5 1.5 0 6-6 1.5 0 1.5-1.5 1.5 0 3-3 1.5 0 1.5-1.5 10.5 0 1.5-1.5 1.5 0 1.5-1.5 0-1.5zM162 104l-1.5 1.5 0 1.5-3 3 1.5 1.5 1.5 0 1.5 1.5 1.5-1.5 0-6zM27 74l7.5 0 0 4.5 1.5 1.5 1.5 0 1.5 1.5 0 9-6 6-6 0zM79.5 123.5l0 6 1.5 1.5 1.5 0 1.5 1.5 0 9-1.5 1.5 0 1.5 3 3 0 1.5 4.5 4.5 0 1.5 1.5 1.5 0 3 1.2 1.2-5.3 9.3-3.4 4.5-1.9 1.5-10.1 3.5-12 1.4 0-1.9-1.5-1.5-1.5 1.5-1.5 0-1.5 1.5-10.5 0-1.5-1.5 0-25.5 1.5-1.5 3 0 1.5-1.5 0-1.5 1.5-1.5 1.5 0 1.5-1.5 3 0 1.5-1.5-1.5-1.5-3 0 0-13.5 1.5-1.5 0-1.5 1.5 0 1.5-1.5 12 0 1.5-1.5z" fill="#f5c319"/>
<path d="M163.3 48.7l4.7 6.3 3 6.9 2.3 10.6 .3 7.5-.6 4.5-1.4 4.5-8.1 16.6-1.5-1.6-1.5 1.5 0 1.5-3 3 1.5 1.5 1.5 0 .7 .7-2.5 5.3-4.2 3.9-4.5 1.8-6 .8-13.5 .5-6 1.3-4.9 2.2-13.1 7.5-3-3 0-1.5-1.5-1.5 0-4.5-1.5-1.5 0-22.5 1.5 0 1.5-1.5 6 .6 3-.5 3-1.3 7.5-8.2 8.1-7.1 1.2-1.5 1.2-3.8 2.1-16.3 5.4-5.4 1.5 0 1.5-1.5 1.5 0 3-3 1.5 0 1.5-1.5 10.5 0zM27 74l7.5 0 0 4.5 1.5 1.5 1.5 0 1.5 1.5 0 9-6 6-6 0zM79.5 123.5l0 6 1.5 1.5 1.5 0 1.5 1.5 0 9-1.5 1.5 0 1.5 3 3 0 1.5 4.5 4.5 0 1.5 .8 .8-6.5 12.7-2.2 3-2.6 2.2-9 3.7-4.5 .7-6.9 0-.6-.6-.7 .7-5.3 .6-6 1.7-3 0-1.5-1.5 0-25.5 1.5-1.5 3 0 1.5-1.5 0-1.5 1.5-1.5 1.5 0 1.5-1.5 3 0 1.5-1.5-1.5-1.5-3 0 0-13.5 1.5-1.5 0-1.5 1.5 0 1.5-1.5 12 0 1.5-1.5z" fill="#f5b91e"/>
<path d="M162 56.5l4.5 5.2 2.1 4.8 1.7 7.5 .1 7.5-2.2 7.5-5.8 10.5-3.5 9.1-1.4 1.4 .7 .7-2.9 5.3-3.4 3-4.9 1.8-19.5 1-7.5 1.3-10.5 3.9-6.2 3.8-1.3-1.3 0-4.5-1.5-1.5 0-17 4.5 .8 3-.2 3-.8 4.5-2.3 3.5-3 7-8.4 7.8-6.6 2.3-3 1.3-3 4.5-16.5 2.1-3.9 3-3.4 3-1.9 4.5-.8 4.5 1.2zM27 74l7.5 0 0 4.5 1.5 1.5 1.5 0 1.5 1.5 0 9-6 6-6 0zM79.5 123.5l0 6 1.5 1.5 1.5 0 1.5 1.5 0 9-1.5 1.5 0 1.5 3 3 0 1.5 2.5 2.5-7.8 15.5-4.5 4.5-6.7 3-16.5 .3-10.5 2.4 0-23.7 1.5-1.5 3 0 1.5-1.5 0-1.5 1.5-1.5 1.5 0 1.5-1.5 3 0 1.5-1.5-1.5-1.5-3 0 0-13.5 1.5-1.5 0-1.5 1.5 0 1.5-1.5 12 0 1.5-1.5z" fill="#f5af1e"/>
<path d="M162 63.9l2.2 2.6 2.1 6 1 6-.4 4.5-1.9 4.8-7.2 11.7-3.3 10.5-2.5 4.5-2 1.8-3 1.3-7.5 1-12-.4-5.1-.7-4.9-1.5-1.4-1.5 .7-3 10.3-15 3.1-3 6.1-4.5 2.7-3 2.3-4.5 4.2-11.4 3-4.7 3-2.5 3-1.2 4.5 .4zM27 74l7.5 0 0 4.5 1.5 1.5 1.5 0 1.5 1.5 0 9-6 6-6 0zM79.5 123.5l0 6 1.5 1.5 1.5 0 1.5 1.5 0 9-1.5 1.5 0 1.5 2.3 2.3-9.3 17.2-3.5 3.4-4.5 2.2-4.5 .5-12 0-9 1.4 0-18 1.5-1.5 3 0 1.5-1.5 0-1.5 1.5-1.5 1.5 0 1.5-1.5 3 0 1.5-1.5-1.5-1.5-3 0 0-13.5 1.5-1.5 0-1.5 1.5 0 1.5-1.5 12 0 1.5-1.5z" fill="#f5a519"/>
<path d="M159 71.2l1.5 1.4 1.5 2.8 .9 6.1-2.4 4.9-9.1 10.1-.8 3-.2 7.5-1.9 5-3 2.1-7.5 1-6-.2-4.3-1.9-1.8-3 .2-3 1.8-4.5 2.6-4.2 3-2.4 7.5-3.8 2.1-1.6 1.8-3 3.6-10.2 3-4.3 2.7-2 1.8-.6zM27 74l7.5 0 0 4.5 1.5 1.5 1.5 0 1.5 1.5 0 9-6 6-6 0zM79.5 123.5l0 6 1.5 1.5 1.5 0 1.5 1.5 0 1.5-6 12.4-4.5 7.4-3 3.7-4.5 3.5-3.6 1.5-20.4 2.3 0-11.3 1.5-1.5 3 0 1.5-1.5 0-1.5 1.5-1.5 1.5 0 1.5-1.5 3 0 1.5-1.5-1.5-1.5-3 0 0-13.5 1.5-1.5 0-1.5 1.5 0 1.5-1.5 12 0 1.5-1.5z" fill="#f59b19"/>
<path d="M27 83.2l10.7 8.6-4.7 4.7-6 0zM136.4 104l1.6-.4 1.5 .7 .6 1.2-.5 1.5-1.6 .6-2-.6-.4-1.5zM75.7 123.5l.8 6-1.5 6-3.3 6-5.7 6.6-4.5 3.5-4.2 1.9-15.3 2.9 0-2.9 1.5-1.5 3 0 1.5-1.5 0-1.5 1.5-1.5 1.5 0 1.5-1.5 3 0 1.5-1.5-1.5-1.5-3 0 0-13.5 1.5-1.5 0-1.5 1.5 0 1.5-1.5 12 0 1.5-1.5z" fill="#f58c19"/>
<path d="M62.9 125l1.6 4.5-1.5 4.2-4.5 4.5-6 3.3 0-12 1.5-1.5 0-1.5 1.5 0 1.5-1.5z" fill="#f57d1e"/>
<path d="M155.8 59.5l12 3.6 1.2 15.6-3.6 7.3-3.6 8.4-4.8 6-3.6 6-7.3 3.7-21.6 1.2-14.5-.3-2-7 16.5-6 7.5-10 8-10 7-11 6.4-5.1zM63 127l17 3 4 20-2 14-10-2-6-12-4-10zM49 158l11-1 0 10-11 0zM171 200l25 0 1 22-1 17-20 0-3-17zM166 240l10-2 11-2 43 0 8-8 0-14 22 0 0 68-94 0z" fill="url(#dt)"/>
</g>
<path d="M205.7 120l5-1.1 2.3-2.8-1.5-2.9-2-2-1.9-1.8-2.7-.9-2.1 3-.4 2.3 1.3 3.6z" fill="#fff"/>
<rect x="92.6" y="79.2" width="2.3" height="3.3" rx=".6" fill="#ebe36a"/>
<g opacity=".12"><path d="M39.6 41.7V282.4M85.9 41.7V282.4M132.3 41.7V282.4M178.6 41.7V282.4M225.0 41.7V282.4M27.7 93.6H259.9M27.7 145.8H259.9M27.7 197.9H259.9M27.7 250.1H259.9" stroke="#e4e4e4" stroke-width="1.5" fill="none"/></g>
<use href="#coast"/><use href="#bord"/><use href="#rug"/>
</g>
<rect x="29.05" y="43.05" width="229.50" height="238.00" fill="none" stroke="#fff" stroke-width="2.7"/>
<path d="M33.8 41.7h5.9v2.7h-5.9zM62.7 41.7h23.3v2.7h-23.3zM109.2 41.7h23.4v2.7h-23.4zM155.3 41.7h23.4v2.7h-23.4zM201.7 41.7h23.5v2.7h-23.5zM242.3 41.7h17.6v2.7h-17.6zM27.7 279.7h6.6v2.7h-6.6zM39.5 279.7h23.5v2.7h-23.5zM86.0 279.7h23.0v2.7h-23.0zM132.6 279.7h23.2v2.7h-23.2zM179.0 279.7h22.8v2.7h-22.8zM225.0 279.7h17.5v2.7h-17.5zM27.7 67.5h2.7v26.2h-2.7zM27.7 120.0h2.7v25.8h-2.7zM27.7 172.0h2.7v26.4h-2.7zM27.7 224.7h2.7v25.3h-2.7zM27.7 265.6h2.7v16.8h-2.7zM257.2 41.7h2.7v25.8h-2.7zM257.2 93.7h2.7v26.3h-2.7zM257.2 145.8h2.7v26.2h-2.7zM257.2 198.4h2.7v26.3h-2.7zM257.2 250.0h2.7v15.6h-2.7z" fill="#000"/>
<rect x="28.00" y="42.00" width="231.60" height="240.10" fill="none" stroke="#000" stroke-width=".6"/>
<rect x="30.40" y="44.40" width="226.80" height="235.30" fill="none" stroke="#000" stroke-width=".5" stroke-opacity=".6"/>
<g font-family="Liberation Sans, sans-serif" font-size="10.4" fill="#000">
<text transform="translate(24.8 46.4) scale(0.923 1)" text-anchor="end">72<tspan font-size="7.4" dy="-5">o</tspan><tspan dy="5">N</tspan></text>
<text transform="translate(24.8 98.6) scale(0.923 1)" text-anchor="end">64<tspan font-size="7.4" dy="-5">o</tspan><tspan dy="5">N</tspan></text>
<text transform="translate(24.8 150.8) scale(0.923 1)" text-anchor="end">56<tspan font-size="7.4" dy="-5">o</tspan><tspan dy="5">N</tspan></text>
<text transform="translate(24.8 202.9) scale(0.923 1)" text-anchor="end">48<tspan font-size="7.4" dy="-5">o</tspan><tspan dy="5">N</tspan></text>
<text transform="translate(24.8 255.1) scale(0.923 1)" text-anchor="end">40<tspan font-size="7.4" dy="-5">o</tspan><tspan dy="5">N</tspan></text>
<text transform="translate(40.9 293.7) scale(0.923 1)" text-anchor="middle">12<tspan font-size="7.4" dy="-5">o</tspan><tspan dy="5">W</tspan></text>
<text transform="translate(87.2 293.7) scale(0.923 1)" text-anchor="middle">0<tspan font-size="7.4" dy="-5">o</tspan></text>
<text transform="translate(133.6 293.7) scale(0.923 1)" text-anchor="middle">12<tspan font-size="7.4" dy="-5">o</tspan><tspan dy="5">E</tspan></text>
<text transform="translate(179.9 293.7) scale(0.923 1)" text-anchor="middle">24<tspan font-size="7.4" dy="-5">o</tspan><tspan dy="5">E</tspan></text>
<text transform="translate(226.3 293.7) scale(0.923 1)" text-anchor="middle">36<tspan font-size="7.4" dy="-5">o</tspan><tspan dy="5">E</tspan></text>
<rect x="271.3" y="41.3" width="17.0" height="241.1" fill="#000"/>
<rect x="272.6" y="42.20" width="14.4" height="4.58" rx=".8" fill="#eb0096"/>
<rect x="272.6" y="48.38" width="14.4" height="4.58" rx=".8" fill="#f00a87"/>
<rect x="272.6" y="54.56" width="14.4" height="4.58" rx=".8" fill="#f01473"/>
<rect x="272.6" y="60.75" width="14.4" height="4.58" rx=".8" fill="#f0235f"/>
<rect x="272.6" y="66.93" width="14.4" height="4.58" rx=".8" fill="#f02d4b"/>
<rect x="272.6" y="73.11" width="14.4" height="4.58" rx=".8" fill="#f53c3c"/>
<rect x="272.6" y="79.29" width="14.4" height="4.58" rx=".8" fill="#f5552d"/>
<rect x="272.6" y="85.47" width="14.4" height="4.58" rx=".8" fill="#f56923"/>
<rect x="272.6" y="91.66" width="14.4" height="4.58" rx=".8" fill="#f57d1e"/>
<rect x="272.6" y="97.84" width="14.4" height="4.58" rx=".8" fill="#f58c19"/>
<rect x="272.6" y="104.02" width="14.4" height="4.58" rx=".8" fill="#f59b19"/>
<rect x="272.6" y="110.20" width="14.4" height="4.58" rx=".8" fill="#f5a519"/>
<rect x="272.6" y="116.38" width="14.4" height="4.58" rx=".8" fill="#f5af1e"/>
<rect x="272.6" y="122.57" width="14.4" height="4.58" rx=".8" fill="#f5b91e"/>
<rect x="272.6" y="128.75" width="14.4" height="4.58" rx=".8" fill="#f5c319"/>
<rect x="272.6" y="134.93" width="14.4" height="4.58" rx=".8" fill="#f5cd14"/>
<rect x="272.6" y="141.11" width="14.4" height="4.58" rx=".8" fill="#f5d714"/>
<rect x="272.6" y="147.29" width="14.4" height="4.58" rx=".8" fill="#f5e40a"/>
<rect x="272.6" y="153.48" width="14.4" height="4.58" rx=".8" fill="#f0e464"/>
<rect x="272.6" y="159.66" width="14.4" height="4.58" rx=".8" fill="#f7eea5"/>
<rect x="272.6" y="165.84" width="14.4" height="4.58" rx=".8" fill="#faf5d2"/>
<rect x="272.6" y="172.02" width="14.4" height="4.58" rx=".8" fill="#ffffff"/>
<rect x="272.6" y="178.21" width="14.4" height="4.58" rx=".8" fill="#8ce8af"/>
<rect x="272.6" y="184.39" width="14.4" height="4.58" rx=".8" fill="#00e150"/>
<rect x="272.6" y="190.57" width="14.4" height="4.58" rx=".8" fill="#00e80a"/>
<rect x="272.6" y="196.75" width="14.4" height="4.58" rx=".8" fill="#00e128"/>
<rect x="272.6" y="202.93" width="14.4" height="4.58" rx=".8" fill="#00d46e"/>
<rect x="272.6" y="209.12" width="14.4" height="4.58" rx=".8" fill="#00d0a0"/>
<rect x="272.6" y="215.30" width="14.4" height="4.58" rx=".8" fill="#14c6c8"/>
<rect x="272.6" y="221.48" width="14.4" height="4.58" rx=".8" fill="#14b7e8"/>
<rect x="272.6" y="227.66" width="14.4" height="4.58" rx=".8" fill="#0aa5f8"/>
<rect x="272.6" y="233.84" width="14.4" height="4.58" rx=".8" fill="#0a8efa"/>
<rect x="272.6" y="240.03" width="14.4" height="4.58" rx=".8" fill="#0a76fa"/>
<rect x="272.6" y="246.21" width="14.4" height="4.58" rx=".8" fill="#0a5cfa"/>
<rect x="272.6" y="252.39" width="14.4" height="4.58" rx=".8" fill="#003efa"/>
<rect x="272.6" y="258.57" width="14.4" height="4.58" rx=".8" fill="#4b2df0"/>
<rect x="272.6" y="264.75" width="14.4" height="4.58" rx=".8" fill="#6e1ef0"/>
<rect x="272.6" y="270.94" width="14.4" height="4.58" rx=".8" fill="#960ae6"/>
<rect x="272.6" y="277.12" width="14.4" height="4.58" rx=".8" fill="#c800dc"/>
<text transform="translate(295.4 57.6) scale(0.923 1)" text-anchor="start">0.5</text>
<text transform="translate(295.4 82.3) scale(0.923 1)" text-anchor="start">0.4</text>
<text transform="translate(295.4 107.0) scale(0.923 1)" text-anchor="start">0.3</text>
<text transform="translate(295.4 131.7) scale(0.923 1)" text-anchor="start">0.2</text>
<text transform="translate(295.4 156.4) scale(0.923 1)" text-anchor="start">0.1</text>
<text transform="translate(295.4 181.1) scale(0.923 1)" text-anchor="start">0</text>
<text transform="translate(290.4 205.8) scale(0.923 1)" text-anchor="start">-0.1</text>
<text transform="translate(290.4 230.5) scale(0.923 1)" text-anchor="start">-0.2</text>
<text transform="translate(290.4 255.2) scale(0.923 1)" text-anchor="start">-0.3</text>
<text transform="translate(290.4 279.9) scale(0.923 1)" text-anchor="start">-0.4</text>
<text transform="translate(323.3,159) rotate(-90)" font-size="12.1" font-weight="bold" text-anchor="middle" fill="#111">correlation coefficient</text>
</g>
<g font-family="Liberation Sans, sans-serif" font-size="14.4" font-weight="bold" text-anchor="middle" fill="#000" stroke="#000" stroke-width=".25"><text x="143.8" y="17.6">Correlation Map</text><text x="143.8" y="34">EAWR Index JFM vs. TT JFM</text></g>
<text x="198.7" y="323.5" font-family="Liberation Serif, serif" font-size="24" font-weight="bold" text-anchor="middle" fill="#111"><tspan font-weight="normal" font-size="25.5" stroke="#111" stroke-width=".45">(</tspan>a<tspan font-weight="normal" font-size="25.5" stroke="#111" stroke-width=".45">)</tspan></text>
</g>
<g transform="translate(347.8 0)">
<path d="M39.6 41.7V282.4M85.9 41.7V282.4M132.3 41.7V282.4M178.6 41.7V282.4M225.0 41.7V282.4M27.7 93.6H259.9M27.7 145.8H259.9M27.7 197.9H259.9M27.7 250.1H259.9" stroke="#e4e4e4" stroke-width="1.5" fill="none"/>
<g clip-path="url(#fr)">
<g clip-path="url(#ld)">
<use href="#land" fill="#c800dc"/>
<path d="M261 59l0 223.5-42 0-1.5-1.5-9 0-1.5-1.5-12 0-3-3-4.5 0 0-7.5-1.5-1.5-1.5 1.5 0 3-4.5 4.5 0 1.5-1.5 1.5-9 0-1.5-1.5 0-1.5-1.5-1.5-1.5 0 0-3-1.5-1.5 0-6-1.5-1.5 0-1.5-3-3-1.5 0-1.5 1.5 0 1.5-3 3 0 3-1.5 0-1.5 1.5 0 4.5-1.5 1.5 0 1.5-9 0-3-3-1.5 0-1.5 1.5 0 7.5-79.5 0 0-6-1.5-1.5-1.5 0-1.5-1.5-3 0 0-9-1.5-1.5 0-13.5 1.5-1.5 0-10.5-1.5-1.5 0-9 1.5-1.5 0-1.5 1.5 0 1.5-1.5 1.5 0 1.5-1.5 9 0 1.5 1.5 12 0 1.5-1.5 0-6-1.5-1.5 0-1.5-1.5-1.5 0-3-1.5-1.5-3 0-1.5-1.5-3 0-1.5-1.5 0-12-1.5-1.5-1.5 0 0-10.5-1.5-1.5-1.5 1.5-1.5 0-1.5 1.5-10.5 0-1.5-1.5 0-25.5 1.5-1.5 3 0 1.5-1.5 0-1.5 1.5-1.5 1.5 0 1.5-1.5 3 0 1.5-1.5-1.5-1.5-3 0 0-13.5 1.5-1.5 0-1.5 1.5 0 1.5-1.5 12 0 1.5-1.5 9 0 0 6 1.5 1.5 1.5 0 1.5 1.5 0 9-1.5 1.5 0 1.5 3 3 0 1.5 4.5 4.5 0 1.5 1.5 1.5 0 3 1.5 1.5 3 0 1.5 1.5 1.5 0 3-3 1.5 0 1.5-1.5 3 0 1.5-1.5 3 0 1.5-1.5-1.5-1.5 0-15-1.5-1.5-1.5 0-1.5-1.5-1.5 0-3-3 0-1.5-1.5-1.5 0-4.5-1.5-1.5 0-22.5 1.5 0 1.5-1.5 1.5 0 3-3 1.5 0 1.5-1.5 1.5 0 1.5-1.5 1.5 0 1.5-1.5 0-1.5 1.5 0 3-3 1.5 0 1.5-1.5 0-1.5 1.5-1.5 0-1.5 6-6 0-12 1.5-1.5 1.5 0 6-6 1.5 0 1.5-1.5 1.5 0 3-3 1.5 0 1.5-1.5 10.5 0 1.5-1.5 1.5 0 1.5-1.5 0-1.5 7.5 0 1.5-1.5 3 0 1.5-1.5 18 0 1.5 1.5 4.5 0 1.5 1.5 1.5 0 4.5 4.5 3 0 0 1.5 3 3 7.5 0 1.5 1.5 4.5 0 1.5 1.5 1.5 0 1.5 1.5 1.5 0 1.5 1.5 3 0 1.5 1.5 1.5 0 3 3 1.5-1.5 0-4.5zM198 234.5l1.5 1.5 3 0 1.5-1.5 1.5 0 3-3 18 0 1.5 1.5 1.5 0 0 1.5 1.5 1.5 1.5 0 1.5 1.5 1.5 0 1.5 1.5 1.5 0 1.5-1.5 0-1.5-1.5-1.5-1.5 0-1.5-1.5 0-1.5-4.5-4.5-1.5 0-1.5-1.5 0-1.5-1.5-1.5-1.5 0-3 3-10.5 0 0-3-3-3-1.5 0-1.5 1.5 0 1.5-1.5 1.5-1.5 0-1.5 1.5 0 7.5-1.5 0zM240.7 260l.8 1.2 1.5 .3 1.6-1.5-.2-1.5-1.4-.5-1.5 .4zM112.5 234.5l-7.5 0-1.5 1.5 0 6-1.5 1.5-1.5 0-1.5 1.5 1.5 1.5 3 0 0 12-1.5 1.5-9 0-1.5 1.5 0 1.5-3 3 1.5 1.5 1.5 0 1.5-1.5 12 0 1.5-1.5 9 0 1.5-1.5-1.5-1.5-1.5 0 0-9-1.5-1.5 0-10.5 1.5-1.5 0-3zM127.5 260l-1.5 1.5 1.5 1.5 1.5-1.5zM130.5 245l-1.5 1.5 0 4.5-1.5 1.5 0 6 1.5 1.5 1.5-1.5 0-1.5 10.5 0 1.5-1.5-4.5-4.5-1.5 0 0-1.5-3-3-1.5 0zM162 104l-1.5 1.5 0 1.5-3 3 1.5 1.5 1.5 0 1.5 1.5 1.5-1.5 0-6zM171 125l-1.5 0-1.5-1.5-1.5 0-1.5-1.5-1.5 1.5 0 3-1.5 1.5 0 1.5-1.5 0-4.5 4.5 0 1.5-1.5 1.5 0 9-1.5 1.5 1.5 1.5 3 0 1.5-1.5 1.5 0 1.5-1.5 0-9 1.5-1.5 0-1.5 3-3 1.5 0 1.5-1.5 1.5 0 1.5-1.5 0-1.5zM27 74l7.5 0 0 4.5 1.5 1.5 1.5 0 1.5 1.5 0 9-6 6-6 0z" fill="#960ae6"/>
<path d="M261 59l0 223.5-42 0-1.5-1.5-9 0-1.5-1.5-12 0-3-3-4.5 0 0-7.5-1.5-1.5-1.5 1.5 0 3-4.5 4.5 0 1.5-1.5 1.5-9 0-1.5-1.5 0-1.5-1.5-1.5-1.5 0 0-3-1.5-1.5 0-6-1.5-1.5 0-1.5-3-3-1.5 0-1.5 1.5 0 1.5-3 3 0 3-1.5 0-1.5 1.5 0 4.5-1.5 1.5 0 1.5-9 0-3-3-1.5 0-1.5 1.5 0 7.5-79.5 0 0-6-1.5-1.5-1.5 0-1.5-1.5-3 0 0-9-1.5-1.5 0-13.5 1.5-1.5 0-10.5-1.5-1.5 0-9 1.5-1.5 0-1.5 1.5 0 1.5-1.5 1.5 0 1.5-1.5 9 0 1.5 1.5 12 0 1.5-1.5 0-6-1.5-1.5 0-1.5-1.5-1.5 0-3-1.5-1.5-3 0-1.5-1.5-3 0-1.5-1.5 0-12-1.5-1.5-1.5 0 0-10.5-1.5-1.5-1.5 1.5-1.5 0-1.5 1.5-10.5 0-1.5-1.5 0-25.5 1.5-1.5 3 0 1.5-1.5 0-1.5 1.5-1.5 1.5 0 1.5-1.5 3 0 1.5-1.5-1.5-1.5-3 0 0-13.5 1.5-1.5 0-1.5 1.5 0 1.5-1.5 12 0 1.5-1.5 9 0 0 6 1.5 1.5 1.5 0 1.5 1.5 0 9-1.5 1.5 0 1.5 3 3 0 1.5 4.5 4.5 0 1.5 1.5 1.5 0 3 1.5 1.5 3 0 1.5 1.5 1.5 0 3-3 1.5 0 1.5-1.5 3 0 1.5-1.5 3 0 1.5-1.5-1.5-1.5 0-15-1.5-1.5-1.5 0-1.5-1.5-1.5 0-3-3 0-1.5-1.5-1.5 0-4.5-1.5-1.5 0-22.5 1.5 0 1.5-1.5 1.5 0 3-3 1.5 0 1.5-1.5 1.5 0 1.5-1.5 1.5 0 1.5-1.5 0-1.5 1.5 0 3-3 1.5 0 1.5-1.5 0-1.5 1.5-1.5 0-1.5 6-6 0-12 1.5-1.5 1.5 0 6-6 1.5 0 1.5-1.5 1.5 0 3-3 1.5 0 1.5-1.5 10.5 0 1.5-1.5 1.5 0 1.5-1.5 0-1.5 7.5 0 1.5-1.5 3 0 1.5-1.5 18 0 1.5 1.5 4.5 0 1.5 1.5 1.5 0 4.5 4.5 3 0 0 1.5 3 3 7.5 0 1.5 1.5 4.5 0 1.5 1.5 1.5 0 1.5 1.5 1.5 0 1.5 1.5 3 0 1.5 1.5 1.5 0 3 3 1.5-1.5 0-4.5zM198 234.5l1.5 1.5 3 0 1.5-1.5 1.5 0 3-3 18 0 1.5 1.5 1.5 0 0 1.5 1.5 1.5 1.5 0 1.5 1.5 1.5 0 1.5 1.5 1.5 0 1.5-1.5 0-1.5-1.5-1.5-1.5 0-1.5-1.5 0-1.5-4.5-4.5-1.5 0-1.5-1.5 0-1.5-1.5-1.5-1.5 0-3 3-10.5 0 0-3-3-3-1.5 0-1.5 1.5 0 1.5-1.5 1.5-1.5 0-1.5 1.5 0 7.5-1.5 0zM112.5 234.5l-7.5 0-1.5 1.5 0 6-1.5 1.5-1.5 0-1.5 1.5 1.5 1.5 3 0 0 12-1.5 1.5-9 0-1.5 1.5 0 1.5-3 3 1.5 1.5 1.5 0 1.5-1.5 12 0 1.5-1.5 9 0 1.5-1.5-1.5-1.5-1.5 0 0-9-1.5-1.5 0-10.5 1.5-1.5 0-3zM127.5 260l-1.5 1.5 1.5 1.5 1.5-1.5zM130.5 245l-1.5 1.5 0 4.5-1.5 1.5 0 6 1.5 1.5 1.5-1.5 0-1.5 10.5 0 1.5-1.5-4.5-4.5-1.5 0 0-1.5-3-3-1.5 0zM162 104l-1.5 1.5 0 1.5-3 3 1.5 1.5 1.5 0 1.5 1.5 1.5-1.5 0-6zM171 125l-1.5 0-1.5-1.5-1.5 0-1.5-1.5-1.5 1.5 0 3-1.5 1.5 0 1.5-1.5 0-4.5 4.5 0 1.5-1.5 1.5 0 9-1.5 1.5 1.5 1.5 3 0 1.5-1.5 1.5 0 1.5-1.5 0-9 1.5-1.5 0-1.5 3-3 1.5 0 1.5-1.5 1.5 0 1.5-1.5 0-1.5zM230 258.5l-.3 1.5 .4 1.5 2.6 3 4.3 3 4.5 1.5 3-.5 3-2 2.8-3.5 .9-3-.7-3-1.5-1.9-3-1.8-3-.6-3 .2-3.7 1.1-2.9 1.5zM27 74l7.5 0 0 4.5 1.5 1.5 1.5 0 1.5 1.5 0 9-6 6-6 0z" fill="#6e1ef0"/>
<path d="M261 59l0 223.5-42 0-1.5-1.5-9 0-1.5-1.5-12 0-3-3-4.5 0 0-7.5-1.5-1.5-1.5 1.5 0 3-4.5 4.5 0 1.5-1.5 1.5-9 0-1.5-1.5 0-1.5-1.5-1.5-1.5 0 0-3-1.5-1.5 0-6-1.5-1.5 0-1.5-3-3-1.5 0-1.5 1.5 0 1.5-3 3 0 3-1.5 0-1.5 1.5 0 4.5-1.5 1.5 0 1.5-9 0-3-3-1.5 0-1.5 1.5 0 7.5-79.5 0 0-6-1.5-1.5-1.5 0-1.5-1.5-3 0 0-9-1.5-1.5 0-13.5 1.5-1.5 0-10.5-1.5-1.5 0-9 1.5-1.5 0-1.5 1.5 0 1.5-1.5 1.5 0 1.5-1.5 9 0 1.5 1.5 12 0 1.5-1.5 0-6-1.5-1.5 0-1.5-1.5-1.5 0-3-1.5-1.5-3 0-1.5-1.5-3 0-1.5-1.5 0-12-1.5-1.5-1.5 0 0-10.5-1.5-1.5-1.5 1.5-1.5 0-1.5 1.5-10.5 0-1.5-1.5 0-25.5 1.5-1.5 3 0 1.5-1.5 0-1.5 1.5-1.5 1.5 0 1.5-1.5 3 0 1.5-1.5-1.5-1.5-3 0 0-13.5 1.5-1.5 0-1.5 1.5 0 1.5-1.5 12 0 1.5-1.5 9 0 0 6 1.5 1.5 1.5 0 1.5 1.5 0 9-1.5 1.5 0 1.5 3 3 0 1.5 4.5 4.5 0 1.5 1.5 1.5 0 3 1.5 1.5 3 0 1.5 1.5 1.5 0 3-3 1.5 0 1.5-1.5 3 0 1.5-1.5 3 0 1.5-1.5-1.5-1.5 0-15-1.5-1.5-1.5 0-1.5-1.5-1.5 0-3-3 0-1.5-1.5-1.5 0-4.5-1.5-1.5 0-22.5 1.5 0 1.5-1.5 1.5 0 3-3 1.5 0 1.5-1.5 1.5 0 1.5-1.5 1.5 0 1.5-1.5 0-1.5 1.5 0 3-3 1.5 0 1.5-1.5 0-1.5 1.5-1.5 0-1.5 6-6 0-12 1.5-1.5 1.5 0 6-6 1.5 0 1.5-1.5 1.5 0 3-3 1.5 0 1.5-1.5 10.5 0 1.5-1.5 1.5 0 1.5-1.5 0-1.5 7.5 0 1.5-1.5 3 0 1.5-1.5 18 0 1.5 1.5 4.5 0 1.5 1.5 1.5 0 4.5 4.5 3 0 0 1.5 3 3 7.5 0 1.5 1.5 4.5 0 1.5 1.5 1.5 0 1.5 1.5 1.5 0 1.5 1.5 3 0 1.5 1.5 1.5 0 3 3 1.5-1.5 0-4.5zM198 234.5l1.5 1.5 3 0 1.5-1.5 1.5 0 3-3 18 0 1.5 1.5 1.5 0 0 1.5 1.5 1.5 1.5 0 1.5 1.5 1.5 0 1.5 1.5 1.5 0 1.5-1.5 0-1.5-1.5-1.5-1.5 0-1.5-1.5 0-1.5-4.5-4.5-1.5 0-1.5-1.5 0-1.5-1.5-1.5-1.5 0-3 3-10.5 0 0-3-3-3-1.5 0-1.5 1.5 0 1.5-1.5 1.5-1.5 0-1.5 1.5 0 7.5-1.5 0zM112.5 234.5l-7.5 0-1.5 1.5 0 6-1.5 1.5-1.5 0-1.5 1.5 1.5 1.5 3 0 0 12-1.5 1.5-9 0-1.5 1.5 0 1.5-3 3 1.5 1.5 1.5 0 1.5-1.5 12 0 1.5-1.5 9 0 1.5-1.5-1.5-1.5-1.5 0 0-9-1.5-1.5 0-10.5 1.5-1.5 0-3zM127.5 260l-1.5 1.5 1.5 1.5 1.5-1.5zM130.5 245l-1.5 1.5 0 4.5-1.5 1.5 0 6 1.5 1.5 1.5-1.5 0-1.5 10.5 0 1.5-1.5-4.5-4.5-1.5 0 0-1.5-3-3-1.5 0zM162 104l-1.5 1.5 0 1.5-3 3 1.5 1.5 1.5 0 1.5 1.5 1.5-1.5 0-6zM171 125l-1.5 0-1.5-1.5-1.5 0-1.5-1.5-1.5 1.5 0 3-1.5 1.5 0 1.5-1.5 0-4.5 4.5 0 1.5-1.5 1.5 0 9-1.5 1.5 1.5 1.5 3 0 1.5-1.5 1.5 0 1.5-1.5 0-9 1.5-1.5 0-1.5 3-3 1.5 0 1.5-1.5 1.5 0 1.5-1.5 0-1.5zM256.1 258.5l-1.1-2.9-1.2-1.6-3.3-2.6-4.5-1.8-6-.4-6 1.3-19.6 6.5-3 1.5-1 1.5 0 1.5 1.1 1.6 3 1.4 10.5 2.3 4.5 1.8 9 4.9 4.5 .7 4.5-2.2 4.7-4.5 3-4.5zM27 74l7.5 0 0 4.5 1.5 1.5 1.5 0 1.5 1.5 0 9-6 6-6 0z" fill="#4b2df0"/>
<path d="M261 59l0 223.5-42 0-1.5-1.5-9 0-1.5-1.5-12 0-3-3-4.5 0 0-7.5-1.5-1.5-1.5 1.5 0 3-4.5 4.5 0 1.5-1.5 1.5-9 0-1.5-1.5 0-1.5-1.5-1.5-1.5 0 0-3-1.5-1.5 0-6-1.5-1.5 0-1.5-3-3-1.5 0-1.5 1.5 0 1.5-3 3 0 3-1.5 0-1.5 1.5 0 4.5-1.5 1.5 0 1.5-9 0-3-3-1.5 0-1.5 1.5 0 7.5-79.5 0 0-6-1.5-1.5-1.5 0-1.5-1.5-3 0 0-9-1.5-1.5 0-13.5 1.5-1.5 0-10.5-1.5-1.5 0-9 1.5-1.5 0-1.5 1.5 0 1.5-1.5 1.5 0 1.5-1.5 9 0 1.5 1.5 12 0 1.5-1.5 0-6-1.5-1.5 0-1.5-1.5-1.5 0-3-1.5-1.5-3 0-1.5-1.5-3 0-1.5-1.5 0-12-1.5-1.5-1.5 0 0-10.5-1.5-1.5-1.5 1.5-1.5 0-1.5 1.5-10.5 0-1.5-1.5 0-25.5 1.5-1.5 3 0 1.5-1.5 0-1.5 1.5-1.5 1.5 0 1.5-1.5 3 0 1.5-1.5-1.5-1.5-3 0 0-13.5 1.5-1.5 0-1.5 1.5 0 1.5-1.5 12 0 1.5-1.5 9 0 0 6 1.5 1.5 1.5 0 1.5 1.5 0 9-1.5 1.5 0 1.5 3 3 0 1.5 4.5 4.5 0 1.5 1.5 1.5 0 3 1.5 1.5 3 0 1.5 1.5 1.5 0 3-3 1.5 0 1.5-1.5 3 0 1.5-1.5 3 0 1.5-1.5-1.5-1.5 0-15-1.5-1.5-1.5 0-1.5-1.5-1.5 0-3-3 0-1.5-1.5-1.5 0-4.5-1.5-1.5 0-22.5 1.5 0 1.5-1.5 1.5 0 3-3 1.5 0 1.5-1.5 1.5 0 1.5-1.5 1.5 0 1.5-1.5 0-1.5 1.5 0 3-3 1.5 0 1.5-1.5 0-1.5 1.5-1.5 0-1.5 6-6 0-12 1.5-1.5 1.5 0 6-6 1.5 0 1.5-1.5 1.5 0 3-3 1.5 0 1.5-1.5 10.5 0 1.5-1.5 1.5 0 1.5-1.5 0-1.5 7.5 0 1.5-1.5 3 0 1.5-1.5 18 0 1.5 1.5 4.5 0 1.5 1.5 1.5 0 4.5 4.5 3 0 0 1.5 3 3 7.5 0 1.5 1.5 4.5 0 1.5 1.5 1.5 0 1.5 1.5 1.5 0 1.5 1.5 3 0 1.5 1.5 1.5 0 3 3 1.5-1.5 0-4.5zM198 234.5l1.5 1.5 3 0 1.5-1.5 1.5 0 3-3 18 0 1.5 1.5 1.5 0 0 1.5 1.5 1.5 1.5 0 1.5 1.5 1.5 0 1.5 1.5 1.5 0 1.5-1.5 0-1.5-1.5-1.5-1.5 0-1.5-1.5 0-1.5-4.5-4.5-1.5 0-1.5-1.5 0-1.5-1.5-1.5-1.5 0-3 3-10.5 0 0-3-3-3-1.5 0-1.5 1.5 0 1.5-1.5 1.5-1.5 0-1.5 1.5 0 7.5-1.5 0zM112.5 234.5l-7.5 0-1.5 1.5 0 6-1.5 1.5-1.5 0-1.5 1.5 1.5 1.5 3 0 0 12-1.5 1.5-9 0-1.5 1.5 0 1.5-3 3 1.5 1.5 1.5 0 1.5-1.5 12 0 1.5-1.5 9 0 1.5-1.5-1.5-1.5-1.5 0 0-9-1.5-1.5 0-10.5 1.5-1.5 0-3zM127.5 260l-1.5 1.5 1.5 1.5 1.5-1.5zM130.5 245l-1.5 1.5 0 4.5-1.5 1.5 0 6 1.5 1.5 1.5-1.5 0-1.5 10.5 0 1.5-1.5-4.5-4.5-1.5 0 0-1.5-3-3-1.5 0zM162 104l-1.5 1.5 0 1.5-3 3 1.5 1.5 1.5 0 1.5 1.5 1.5-1.5 0-6zM171 125l-1.5 0-1.5-1.5-1.5 0-1.5-1.5-1.5 1.5 0 3-1.5 1.5 0 1.5-1.5 0-4.5 4.5 0 1.5-1.5 1.5 0 9-1.5 1.5 1.5 1.5 3 0 1.5-1.5 1.5 0 1.5-1.5 0-9 1.5-1.5 0-1.5 3-3 1.5 0 1.5-1.5 1.5 0 1.5-1.5 0-1.5zM260.7 258.5l-1.5-4.5-4.9-4.5-6.8-3-7.5-.7-31.5 6.4-3.6 1.8-2.4 2-1.7 2.5-.5 3 .8 3 1.7 3 2.7 2.6 3 1.7 6 1 12-.2 3 1 7.5 4.4 4.5 .9 3-.5 3-1.4 8.2-8 4.2-6zM27 74l7.5 0 0 4.5 1.5 1.5 1.5 0 1.5 1.5 0 9-6 6-6 0z" fill="#003efa"/>
<path d="M261 59l0 190.1-4.1-2.6-7.9-3.6-6-1-4.5 .2-10.5 2.9-14.3 1.5-6.7 1.7-4.5 2.2-3 2.5-2.2 2.6-1.4 3 0 4.5 1.7 6 2.8 4.5 3.6 3.4 6 2.6 4.5 .5 10.5-.4 8 2.9-14 0-1.5-1.5-9 0-1.5-1.5-12 0-3-3-4.5 0 0-7.5-1.5-1.5-1.5 1.5 0 3-4.5 4.5 0 1.5-1.5 1.5-9 0-1.5-1.5 0-1.5-1.5-1.5-1.5 0 0-3-1.5-1.5 0-6-1.5-1.5 0-1.5-3-3-1.5 0-1.5 1.5 0 1.5-3 3 0 3-1.5 0-1.5 1.5 0 4.5-1.5 1.5 0 1.5-9 0-3-3-1.5 0-1.5 1.5 0 7.5-79.5 0 0-6-1.5-1.5-1.5 0-1.5-1.5-3 0 0-9-1.5-1.5 0-13.5 1.5-1.5 0-10.5-1.5-1.5 0-9 1.5-1.5 0-1.5 1.5 0 1.5-1.5 1.5 0 1.5-1.5 9 0 1.5 1.5 12 0 1.5-1.5 0-6-1.5-1.5 0-1.5-1.5-1.5 0-3-1.5-1.5-3 0-1.5-1.5-3 0-1.5-1.5 0-12-1.5-1.5-1.5 0 0-10.5-1.5-1.5-1.5 1.5-1.5 0-1.5 1.5-10.5 0-1.5-1.5 0-25.5 1.5-1.5 3 0 1.5-1.5 0-1.5 1.5-1.5 1.5 0 1.5-1.5 3 0 1.5-1.5-1.5-1.5-3 0 0-13.5 1.5-1.5 0-1.5 1.5 0 1.5-1.5 12 0 1.5-1.5 9 0 0 6 1.5 1.5 1.5 0 1.5 1.5 0 9-1.5 1.5 0 1.5 3 3 0 1.5 4.5 4.5 0 1.5 1.5 1.5 0 3 1.5 1.5 3 0 1.5 1.5 1.5 0 3-3 1.5 0 1.5-1.5 3 0 1.5-1.5 3 0 1.5-1.5-1.5-1.5 0-15-1.5-1.5-1.5 0-1.5-1.5-1.5 0-3-3 0-1.5-1.5-1.5 0-4.5-1.5-1.5 0-22.5 1.5 0 1.5-1.5 1.5 0 3-3 1.5 0 1.5-1.5 1.5 0 1.5-1.5 1.5 0 1.5-1.5 0-1.5 1.5 0 3-3 1.5 0 1.5-1.5 0-1.5 1.5-1.5 0-1.5 6-6 0-12 1.5-1.5 1.5 0 6-6 1.5 0 1.5-1.5 1.5 0 3-3 1.5 0 1.5-1.5 10.5 0 1.5-1.5 1.5 0 1.5-1.5 0-1.5 7.5 0 1.5-1.5 3 0 1.5-1.5 18 0 1.5 1.5 4.5 0 1.5 1.5 1.5 0 4.5 4.5 3 0 0 1.5 3 3 7.5 0 1.5 1.5 4.5 0 1.5 1.5 1.5 0 1.5 1.5 1.5 0 1.5 1.5 3 0 1.5 1.5 1.5 0 3 3 1.5-1.5 0-4.5zM198 234.5l1.5 1.5 3 0 1.5-1.5 1.5 0 3-3 18 0 1.5 1.5 1.5 0 0 1.5 1.5 1.5 1.5 0 1.5 1.5 1.5 0 1.5 1.5 1.5 0 1.5-1.5 0-1.5-1.5-1.5-1.5 0-1.5-1.5 0-1.5-4.5-4.5-1.5 0-1.5-1.5 0-1.5-1.5-1.5-1.5 0-3 3-10.5 0 0-3-3-3-1.5 0-1.5 1.5 0 1.5-1.5 1.5-1.5 0-1.5 1.5 0 7.5-1.5 0zM112.5 234.5l-7.5 0-1.5 1.5 0 6-1.5 1.5-1.5 0-1.5 1.5 1.5 1.5 3 0 0 12-1.5 1.5-9 0-1.5 1.5 0 1.5-3 3 1.5 1.5 1.5 0 1.5-1.5 12 0 1.5-1.5 9 0 1.5-1.5-1.5-1.5-1.5 0 0-9-1.5-1.5 0-10.5 1.5-1.5 0-3zM127.5 260l-1.5 1.5 1.5 1.5 1.5-1.5zM130.5 245l-1.5 1.5 0 4.5-1.5 1.5 0 6 1.5 1.5 1.5-1.5 0-1.5 10.5 0 1.5-1.5-4.5-4.5-1.5 0 0-1.5-3-3-1.5 0zM162 104l-1.5 1.5 0 1.5-3 3 1.5 1.5 1.5 0 1.5 1.5 1.5-1.5 0-6zM171 125l-1.5 0-1.5-1.5-1.5 0-1.5-1.5-1.5 1.5 0 3-1.5 1.5 0 1.5-1.5 0-4.5 4.5 0 1.5-1.5 1.5 0 9-1.5 1.5 1.5 1.5 3 0 1.5-1.5 1.5 0 1.5-1.5 0-9 1.5-1.5 0-1.5 3-3 1.5 0 1.5-1.5 1.5 0 1.5-1.5 0-1.5zM27 74l7.5 0 0 4.5 1.5 1.5 1.5 0 1.5 1.5 0 9-6 6-6 0zM261 269.5l0 13-13.9 0 4.2-3 5.2-6z" fill="#0a5cfa"/>
<path d="M261 59l0 183.6-12-5.9-4.5-.6-4.5 .6 0-.7-1.5-1.5-1.5 0-1.5-1.5 0-1.5-4.5-4.5-1.5 0-1.5-1.5 0-1.5-1.5-1.5-1.5 0-3 3-10.5 0 0-3-3-3-1.5 0-1.5 1.5 0 1.5-1.5 1.5-1.5 0-1.5 1.5 0 7.5-1.5 0-1.5 1.5 1.5 1.5 3 0 1.5-1.5 1.5 0 3-3 18 0 1.5 1.5 1.5 0 0 1.5 1.5 1.5 1.5 0 1.5 1.5 1.5 0 .5 .5-8 3.1-13.5 1.3-6 1.2-6 2.6-4.5 3.5-4.1 5.8-.9 3-.3 4.5 1.6 9 3.8 7.5-3.1 0-3-3-4.5 0 0-7.5-1.5-1.5-1.5 1.5 0 3-4.5 4.5 0 1.5-1.5 1.5-9 0-1.5-1.5 0-1.5-1.5-1.5-1.5 0 0-3-1.5-1.5 0-6-1.5-1.5 0-1.5-3-3-1.5 0-1.5 1.5 0 1.5-3 3 0 3-1.5 0-1.5 1.5 0 4.5-1.5 1.5 0 1.5-9 0-3-3-1.5 0-1.5 1.5 0 7.5-79.5 0 0-6-1.5-1.5-1.5 0-1.5-1.5-3 0 0-9-1.5-1.5 0-13.5 1.5-1.5 0-10.5-1.5-1.5 0-9 1.5-1.5 0-1.5 1.5 0 1.5-1.5 1.5 0 1.5-1.5 9 0 1.5 1.5 12 0 1.5-1.5 0-6-1.5-1.5 0-1.5-1.5-1.5 0-3-1.5-1.5-3 0-1.5-1.5-3 0-1.5-1.5 0-12-1.5-1.5-1.5 0 0-10.5-1.5-1.5-1.5 1.5-1.5 0-1.5 1.5-10.5 0-1.5-1.5 0-25.5 1.5-1.5 3 0 1.5-1.5 0-1.5 1.5-1.5 1.5 0 1.5-1.5 3 0 1.5-1.5-1.5-1.5-3 0 0-13.5 1.5-1.5 0-1.5 1.5 0 1.5-1.5 12 0 1.5-1.5 9 0 0 6 1.5 1.5 1.5 0 1.5 1.5 0 9-1.5 1.5 0 1.5 3 3 0 1.5 4.5 4.5 0 1.5 1.5 1.5 0 3 1.5 1.5 3 0 1.5 1.5 1.5 0 3-3 1.5 0 1.5-1.5 3 0 1.5-1.5 3 0 1.5-1.5-1.5-1.5 0-15-1.5-1.5-1.5 0-1.5-1.5-1.5 0-3-3 0-1.5-1.5-1.5 0-4.5-1.5-1.5 0-22.5 1.5 0 1.5-1.5 1.5 0 3-3 1.5 0 1.5-1.5 1.5 0 1.5-1.5 1.5 0 1.5-1.5 0-1.5 1.5 0 3-3 1.5 0 1.5-1.5 0-1.5 1.5-1.5 0-1.5 6-6 0-12 1.5-1.5 1.5 0 6-6 1.5 0 1.5-1.5 1.5 0 3-3 1.5 0 1.5-1.5 10.5 0 1.5-1.5 1.5 0 1.5-1.5 0-1.5 7.5 0 1.5-1.5 3 0 1.5-1.5 18 0 1.5 1.5 4.5 0 1.5 1.5 1.5 0 4.5 4.5 3 0 0 1.5 3 3 7.5 0 1.5 1.5 4.5 0 1.5 1.5 1.5 0 1.5 1.5 1.5 0 1.5 1.5 3 0 1.5 1.5 1.5 0 3 3 1.5-1.5 0-4.5zM112.5 234.5l-7.5 0-1.5 1.5 0 6-1.5 1.5-1.5 0-1.5 1.5 1.5 1.5 3 0 0 12-1.5 1.5-9 0-1.5 1.5 0 1.5-3 3 1.5 1.5 1.5 0 1.5-1.5 12 0 1.5-1.5 9 0 1.5-1.5-1.5-1.5-1.5 0 0-9-1.5-1.5 0-10.5 1.5-1.5 0-3zM127.5 260l-1.5 1.5 1.5 1.5 1.5-1.5zM130.5 245l-1.5 1.5 0 4.5-1.5 1.5 0 6 1.5 1.5 1.5-1.5 0-1.5 10.5 0 1.5-1.5-4.5-4.5-1.5 0 0-1.5-3-3-1.5 0zM162 104l-1.5 1.5 0 1.5-3 3 1.5 1.5 1.5 0 1.5 1.5 1.5-1.5 0-6zM171 125l-1.5 0-1.5-1.5-1.5 0-1.5-1.5-1.5 1.5 0 3-1.5 1.5 0 1.5-1.5 0-4.5 4.5 0 1.5-1.5 1.5 0 9-1.5 1.5 1.5 1.5 3 0 1.5-1.5 1.5 0 1.5-1.5 0-9 1.5-1.5 0-1.5 3-3 1.5 0 1.5-1.5 1.5 0 1.5-1.5 0-1.5zM27 74l7.5 0 0 4.5 1.5 1.5 1.5 0 1.5 1.5 0 9-6 6-6 0zM261 276.9l0 5.6-5.2 0z" fill="#0a76fa"/>
<path d="M261 59l0 170.1-3-2.1-3-1.3-7.5-.5-4.5 1.3-7.5 5-4.5-4.5-1.5 0-1.5-1.5 0-1.5-1.5-1.5-1.5 0-3 3-10.5 0 0-3-3-3-1.5 0-1.5 1.5 0 1.5-1.5 1.5-1.5 0-1.5 1.5 0 7.5-1.5 0-1.5 1.5 1.5 1.5 3 0 1.5-1.5 1.5 0 3-3 18 0 1.5 1.5 1.5 0 .3 1.8-4.8 1.8-12 1.9-6 1.6-6 2.9-4.5 3.9-4 5.6-2 6-.6 9 1.2 9-3.6 0 0-7.5-1.5-1.5-1.5 1.5 0 3-4.5 4.5 0 1.5-1.5 1.5-9 0-1.5-1.5 0-1.5-1.5-1.5-1.5 0 0-3-1.5-1.5 0-6-1.5-1.5 0-1.5-3-3-1.5 0-1.5 1.5 0 1.5-3 3 0 3-1.5 0-1.5 1.5 0 4.5-1.5 1.5 0 1.5-9 0-3-3-1.5 0-1.5 1.5 0 7.5-79.5 0 0-6-1.5-1.5-1.5 0-1.5-1.5-3 0 0-9-1.5-1.5 0-13.5 1.5-1.5 0-10.5-1.5-1.5 0-9 1.5-1.5 0-1.5 1.5 0 1.5-1.5 1.5 0 1.5-1.5 9 0 1.5 1.5 12 0 1.5-1.5 0-6-1.5-1.5 0-1.5-1.5-1.5 0-3-1.5-1.5-3 0-1.5-1.5-3 0-1.5-1.5 0-12-1.5-1.5-1.5 0 0-10.5-1.5-1.5-1.5 1.5-1.5 0-1.5 1.5-10.5 0-1.5-1.5 0-25.5 1.5-1.5 3 0 1.5-1.5 0-1.5 1.5-1.5 1.5 0 1.5-1.5 3 0 1.5-1.5-1.5-1.5-3 0 0-13.5 1.5-1.5 0-1.5 1.5 0 1.5-1.5 12 0 1.5-1.5 9 0 0 6 1.5 1.5 1.5 0 1.5 1.5 0 9-1.5 1.5 0 1.5 3 3 0 1.5 4.5 4.5 0 1.5 1.5 1.5 0 3 1.5 1.5 3 0 1.5 1.5 1.5 0 3-3 1.5 0 1.5-1.5 3 0 1.5-1.5 3 0 1.5-1.5-1.5-1.5 0-15-1.5-1.5-1.5 0-1.5-1.5-1.5 0-3-3 0-1.5-1.5-1.5 0-4.5-1.5-1.5 0-22.5 1.5 0 1.5-1.5 1.5 0 3-3 1.5 0 1.5-1.5 1.5 0 1.5-1.5 1.5 0 1.5-1.5 0-1.5 1.5 0 3-3 1.5 0 1.5-1.5 0-1.5 1.5-1.5 0-1.5 6-6 0-12 1.5-1.5 1.5 0 6-6 1.5 0 1.5-1.5 1.5 0 3-3 1.5 0 1.5-1.5 10.5 0 1.5-1.5 1.5 0 1.5-1.5 0-1.5 7.5 0 1.5-1.5 3 0 1.5-1.5 18 0 1.5 1.5 4.5 0 1.5 1.5 1.5 0 4.5 4.5 3 0 0 1.5 3 3 7.5 0 1.5 1.5 4.5 0 1.5 1.5 1.5 0 1.5 1.5 1.5 0 1.5 1.5 3 0 1.5 1.5 1.5 0 3 3 1.5-1.5 0-4.5zM112.5 234.5l-7.5 0-1.5 1.5 0 6-1.5 1.5-1.5 0-1.5 1.5 1.5 1.5 3 0 0 12-1.5 1.5-9 0-1.5 1.5 0 1.5-3 3 1.5 1.5 1.5 0 1.5-1.5 12 0 1.5-1.5 9 0 1.5-1.5-1.5-1.5-1.5 0 0-9-1.5-1.5 0-10.5 1.5-1.5 0-3zM127.5 260l-1.5 1.5 1.5 1.5 1.5-1.5zM130.5 245l-1.5 1.5 0 4.5-1.5 1.5 0 6 1.5 1.5 1.5-1.5 0-1.5 10.5 0 1.5-1.5-4.5-4.5-1.5 0 0-1.5-3-3-1.5 0zM162 104l-1.5 1.5 0 1.5-3 3 1.5 1.5 1.5 0 1.5 1.5 1.5-1.5 0-6zM171 125l-1.5 0-1.5-1.5-1.5 0-1.5-1.5-1.5 1.5 0 3-1.5 1.5 0 1.5-1.5 0-4.5 4.5 0 1.5-1.5 1.5 0 9-1.5 1.5 1.5 1.5 3 0 1.5-1.5 1.5 0 1.5-1.5 0-9 1.5-1.5 0-1.5 3-3 1.5 0 1.5-1.5 1.5 0 1.5-1.5 0-1.5zM27 74l7.5 0 0 4.5 1.5 1.5 1.5 0 1.5 1.5 0 9-6 6-6 0z" fill="#0a8efa"/>
<path d="M261 59l0 158-3-.4-4.5 .2-9 2.3-6 2.7-7.5 5.2-1.5 0-1.5-1.5 0-1.5-1.5-1.5-1.5 0-3 3-10.5 0 0-3-3-3-1.5 0-1.5 1.5 0 1.5-1.5 1.5-1.5 0-1.5 1.5 0 7.5-1.5 0-1.5 1.5 1.5 1.5 3 0 1.5-1.5 1.5 0 3-3 14.3 0-17.3 5-6 3.3-4 3.7-3.5 4.7-2.8 5.8-1.5 6-1 8.2-.7-.7-1.5 1.5 0 3-4.5 4.5 0 1.5-1.5 1.5-9 0-1.5-1.5 0-1.5-1.5-1.5-1.5 0 0-3-1.5-1.5 0-6-1.5-1.5 0-1.5-3-3-1.5 0-1.5 1.5 0 1.5-3 3 0 3-1.5 0-1.5 1.5 0 4.5-1.5 1.5 0 1.5-9 0-3-3-1.5 0-1.5 1.5 0 7.5-79.5 0 0-6-1.5-1.5-1.5 0-1.5-1.5-3 0 0-9-1.5-1.5 0-13.5 1.5-1.5 0-10.5-1.5-1.5 0-9 1.5-1.5 0-1.5 1.5 0 1.5-1.5 1.5 0 1.5-1.5 9 0 1.5 1.5 12 0 1.5-1.5 0-6-1.5-1.5 0-1.5-1.5-1.5 0-3-1.5-1.5-3 0-1.5-1.5-3 0-1.5-1.5 0-12-1.5-1.5-1.5 0 0-10.5-1.5-1.5-1.5 1.5-1.5 0-1.5 1.5-10.5 0-1.5-1.5 0-25.5 1.5-1.5 3 0 1.5-1.5 0-1.5 1.5-1.5 1.5 0 1.5-1.5 3 0 1.5-1.5-1.5-1.5-3 0 0-13.5 1.5-1.5 0-1.5 1.5 0 1.5-1.5 12 0 1.5-1.5 9 0 0 6 1.5 1.5 1.5 0 1.5 1.5 0 9-1.5 1.5 0 1.5 3 3 0 1.5 4.5 4.5 0 1.5 1.5 1.5 0 3 1.5 1.5 3 0 1.5 1.5 1.5 0 3-3 1.5 0 1.5-1.5 3 0 1.5-1.5 3 0 1.5-1.5-1.5-1.5 0-15-1.5-1.5-1.5 0-1.5-1.5-1.5 0-3-3 0-1.5-1.5-1.5 0-4.5-1.5-1.5 0-22.5 1.5 0 1.5-1.5 1.5 0 3-3 1.5 0 1.5-1.5 1.5 0 1.5-1.5 1.5 0 1.5-1.5 0-1.5 1.5 0 3-3 1.5 0 1.5-1.5 0-1.5 1.5-1.5 0-1.5 6-6 0-12 1.5-1.5 1.5 0 6-6 1.5 0 1.5-1.5 1.5 0 3-3 1.5 0 1.5-1.5 10.5 0 1.5-1.5 1.5 0 1.5-1.5 0-1.5 7.5 0 1.5-1.5 3 0 1.5-1.5 18 0 1.5 1.5 4.5 0 1.5 1.5 1.5 0 4.5 4.5 3 0 0 1.5 3 3 7.5 0 1.5 1.5 4.5 0 1.5 1.5 1.5 0 1.5 1.5 1.5 0 1.5 1.5 3 0 1.5 1.5 1.5 0 3 3 1.5-1.5 0-4.5zM112.5 234.5l-7.5 0-1.5 1.5 0 6-1.5 1.5-1.5 0-1.5 1.5 1.5 1.5 3 0 0 12-1.5 1.5-9 0-1.5 1.5 0 1.5-3 3 1.5 1.5 1.5 0 1.5-1.5 12 0 1.5-1.5 9 0 1.5-1.5-1.5-1.5-1.5 0 0-9-1.5-1.5 0-10.5 1.5-1.5 0-3zM127.5 260l-1.5 1.5 1.5 1.5 1.5-1.5zM130.5 245l-1.5 1.5 0 4.5-1.5 1.5 0 6 1.5 1.5 1.5-1.5 0-1.5 10.5 0 1.5-1.5-4.5-4.5-1.5 0 0-1.5-3-3-1.5 0zM162 104l-1.5 1.5 0 1.5-3 3 1.5 1.5 1.5 0 1.5 1.5 1.5-1.5 0-6zM171 125l-1.5 0-1.5-1.5-1.5 0-1.5-1.5-1.5 1.5 0 3-1.5 1.5 0 1.5-1.5 0-4.5 4.5 0 1.5-1.5 1.5 0 9-1.5 1.5 1.5 1.5 3 0 1.5-1.5 1.5 0 1.5-1.5 0-9 1.5-1.5 0-1.5 3-3 1.5 0 1.5-1.5 1.5 0 1.5-1.5 0-1.5zM27 74l7.5 0 0 4.5 1.5 1.5 1.5 0 1.5 1.5 0 9-6 6-6 0z" fill="#0aa5f8"/>
<path d="M261 59l0 150.8-7.1 .7-13.9 4.9-6 2.9-7 4.7-2-.5-3 3-10.5 0 0-3-3-3-1.5 0-1.5 1.5 0 1.5-1.5 1.5-1.5 0-1.5 1.5 0 7.5-1.5 0-1.5 1.5 1 1-5.5 5.4-4.5 7.2-2.7 7.4-3.7 18.4-2.6 2.6 0 1.5-1.5 1.5-9 0-1.5-1.5 0-1.5-1.5-1.5-1.5 0 0-3-1.5-1.5 0-6-1.5-1.5 0-1.5-3-3-1.5 0-1.5 1.5 0 1.5-3 3 0 3-1.5 0-1.5 1.5 0 4.5-1.5 1.5 0 1.5-9 0-3-3-1.5 0-1.5 1.5 0 7.5-79.5 0 0-6-1.5-1.5-1.5 0-1.5-1.5-3 0 0-9-1.5-1.5 0-13.5 1.5-1.5 0-10.5-1.5-1.5 0-9 1.5-1.5 0-1.5 1.5 0 1.5-1.5 1.5 0 1.5-1.5 9 0 1.5 1.5 12 0 1.5-1.5 0-6-1.5-1.5 0-1.5-1.5-1.5 0-3-1.5-1.5-3 0-1.5-1.5-3 0-1.5-1.5 0-12-1.5-1.5-1.5 0 0-10.5-1.5-1.5-1.5 1.5-1.5 0-1.5 1.5-10.5 0-1.5-1.5 0-25.5 1.5-1.5 3 0 1.5-1.5 0-1.5 1.5-1.5 1.5 0 1.5-1.5 3 0 1.5-1.5-1.5-1.5-3 0 0-13.5 1.5-1.5 0-1.5 1.5 0 1.5-1.5 12 0 1.5-1.5 9 0 0 6 1.5 1.5 1.5 0 1.5 1.5 0 9-1.5 1.5 0 1.5 3 3 0 1.5 4.5 4.5 0 1.5 1.5 1.5 0 3 1.5 1.5 3 0 1.5 1.5 1.5 0 3-3 1.5 0 1.5-1.5 3 0 1.5-1.5 3 0 1.5-1.5-1.5-1.5 0-15-1.5-1.5-1.5 0-1.5-1.5-1.5 0-3-3 0-1.5-1.5-1.5 0-4.5-1.5-1.5 0-22.5 1.5 0 1.5-1.5 1.5 0 3-3 1.5 0 1.5-1.5 1.5 0 1.5-1.5 1.5 0 1.5-1.5 0-1.5 1.5 0 3-3 1.5 0 1.5-1.5 0-1.5 1.5-1.5 0-1.5 6-6 0-12 1.5-1.5 1.5 0 6-6 1.5 0 1.5-1.5 1.5 0 3-3 1.5 0 1.5-1.5 10.5 0 1.5-1.5 1.5 0 1.5-1.5 0-1.5 7.5 0 1.5-1.5 3 0 1.5-1.5 18 0 1.5 1.5 4.5 0 1.5 1.5 1.5 0 4.5 4.5 3 0 0 1.5 3 3 7.5 0 1.5 1.5 4.5 0 1.5 1.5 1.5 0 1.5 1.5 1.5 0 1.5 1.5 3 0 1.5 1.5 1.5 0 3 3 1.5-1.5 0-4.5zM112.5 234.5l-7.5 0-1.5 1.5 0 6-1.5 1.5-1.5 0-1.5 1.5 1.5 1.5 3 0 0 12-1.5 1.5-9 0-1.5 1.5 0 1.5-3 3 1.5 1.5 1.5 0 1.5-1.5 12 0 1.5-1.5 9 0 1.5-1.5-1.5-1.5-1.5 0 0-9-1.5-1.5 0-10.5 1.5-1.5 0-3zM127.5 260l-1.5 1.5 1.5 1.5 1.5-1.5zM130.5 245l-1.5 1.5 0 4.5-1.5 1.5 0 6 1.5 1.5 1.5-1.5 0-1.5 10.5 0 1.5-1.5-4.5-4.5-1.5 0 0-1.5-3-3-1.5 0zM162 104l-1.5 1.5 0 1.5-3 3 1.5 1.5 1.5 0 1.5 1.5 1.5-1.5 0-6zM171 125l-1.5 0-1.5-1.5-1.5 0-1.5-1.5-1.5 1.5 0 3-1.5 1.5 0 1.5-1.5 0-4.5 4.5 0 1.5-1.5 1.5 0 9-1.5 1.5 1.5 1.5 3 0 1.5-1.5 1.5 0 1.5-1.5 0-9 1.5-1.5 0-1.5 3-3 1.5 0 1.5-1.5 1.5 0 1.5-1.5 0-1.5zM27 74l7.5 0 0 4.5 1.5 1.5 1.5 0 1.5 1.5 0 9-6 6-6 0z" fill="#14b7e8"/>
<path d="M261 59l0 145.3-8.6 1.7-18.4 6.6-4.5 2.3-10.5 6.9-7.5 3 0-2.3-3-3-1.5 0-1.5 1.5 0 1.5-1.5 1.5-1.5 0-1.5 1.5 0 3.5-4.5 3.2-3 3.1-3 4-3 5.4-3.1 7.8-7.5 27-7.4 0-1.5-1.5 0-1.5-1.5-1.5-1.5 0 0-3-1.5-1.5 0-6-1.5-1.5 0-1.5-3-3-1.5 0-1.5 1.5 0 1.5-3 3 0 3-1.5 0-1.5 1.5 0 4.5-1.5 1.5 0 1.5-9 0-3-3-1.5 0-1.5 1.5 0 7.5-79.5 0 0-6-1.5-1.5-1.5 0-1.5-1.5-3 0 0-9-1.5-1.5 0-13.5 1.5-1.5 0-10.5-1.5-1.5 0-9 1.5-1.5 0-1.5 1.5 0 1.5-1.5 1.5 0 1.5-1.5 9 0 1.5 1.5 12 0 1.5-1.5 0-6-1.5-1.5 0-1.5-1.5-1.5 0-3-1.5-1.5-3 0-1.5-1.5-3 0-1.5-1.5 0-12-1.5-1.5-1.5 0 0-10.5-1.5-1.5-1.5 1.5-1.5 0-1.5 1.5-10.5 0-1.5-1.5 0-25.5 1.5-1.5 3 0 1.5-1.5 0-1.5 1.5-1.5 1.5 0 1.5-1.5 3 0 1.5-1.5-1.5-1.5-3 0 0-13.5 1.5-1.5 0-1.5 1.5 0 1.5-1.5 12 0 1.5-1.5 9 0 0 6 1.5 1.5 1.5 0 1.5 1.5 0 9-1.5 1.5 0 1.5 3 3 0 1.5 4.5 4.5 0 1.5 1.5 1.5 0 3 1.5 1.5 3 0 1.5 1.5 1.5 0 3-3 1.5 0 1.5-1.5 3 0 1.5-1.5 3 0 1.5-1.5-1.5-1.5 0-15-1.5-1.5-1.5 0-1.5-1.5-1.5 0-3-3 0-1.5-1.5-1.5 0-4.5-1.5-1.5 0-22.5 1.5 0 1.5-1.5 1.5 0 3-3 1.5 0 1.5-1.5 1.5 0 1.5-1.5 1.5 0 1.5-1.5 0-1.5 1.5 0 3-3 1.5 0 1.5-1.5 0-1.5 1.5-1.5 0-1.5 6-6 0-12 1.5-1.5 1.5 0 6-6 1.5 0 1.5-1.5 1.5 0 3-3 1.5 0 1.5-1.5 10.5 0 1.5-1.5 1.5 0 1.5-1.5 0-1.5 7.5 0 1.5-1.5 3 0 1.5-1.5 18 0 1.5 1.5 4.5 0 1.5 1.5 1.5 0 4.5 4.5 3 0 0 1.5 3 3 7.5 0 1.5 1.5 4.5 0 1.5 1.5 1.5 0 1.5 1.5 1.5 0 1.5 1.5 3 0 1.5 1.5 1.5 0 3 3 1.5-1.5 0-4.5zM112.5 234.5l-7.5 0-1.5 1.5 0 6-1.5 1.5-1.5 0-1.5 1.5 1.5 1.5 3 0 0 12-1.5 1.5-9 0-1.5 1.5 0 1.5-3 3 1.5 1.5 1.5 0 1.5-1.5 12 0 1.5-1.5 9 0 1.5-1.5-1.5-1.5-1.5 0 0-9-1.5-1.5 0-10.5 1.5-1.5 0-3zM127.5 260l-1.5 1.5 1.5 1.5 1.5-1.5zM130.5 245l-1.5 1.5 0 4.5-1.5 1.5 0 6 1.5 1.5 1.5-1.5 0-1.5 10.5 0 1.5-1.5-4.5-4.5-1.5 0 0-1.5-3-3-1.5 0zM162 104l-1.5 1.5 0 1.5-3 3 1.5 1.5 1.5 0 1.5 1.5 1.5-1.5 0-6zM171 125l-1.5 0-1.5-1.5-1.5 0-1.5-1.5-1.5 1.5 0 3-1.5 1.5 0 1.5-1.5 0-4.5 4.5 0 1.5-1.5 1.5 0 9-1.5 1.5 1.5 1.5 3 0 1.5-1.5 1.5 0 1.5-1.5 0-9 1.5-1.5 0-1.5 3-3 1.5 0 1.5-1.5 1.5 0 1.5-1.5 0-1.5zM27 74l7.5 0 0 4.5 1.5 1.5 1.5 0 1.5 1.5 0 9-6 6-6 0z" fill="#14c6c8"/>
<path d="M261 59l0 140.1-7.5 1.9-23.4 8-13.9 9-6.9 2.3-.8-.8-1.5 0-1.5 1.8-6 2.1-4.5 3.5-4.5 5.2-3.9 6.9-4.5 10.5-2.3 9-9.1 21-1.2 0-1.5-1.5 0-1.5-1.5-1.5-1.5 0 0-3-1.5-1.5 0-6-1.5-1.5 0-1.5-3-3-1.5 0-1.5 1.5 0 1.5-3 3 0 3-1.5 0-1.5 1.5 0 4.5-1.5 1.5 0 1.5-9 0-3-3-1.5 0-1.5 1.5 0 7.5-79.5 0 0-6-1.5-1.5-1.5 0-1.5-1.5-3 0 0-9-1.5-1.5 0-13.5 1.5-1.5 0-10.5-1.5-1.5 0-9 1.5-1.5 0-1.5 1.5 0 1.5-1.5 1.5 0 1.5-1.5 9 0 1.5 1.5 12 0 1.5-1.5 0-6-1.5-1.5 0-1.5-1.5-1.5 0-3-1.5-1.5-3 0-1.5-1.5-3 0-1.5-1.5 0-12-1.5-1.5-1.5 0 0-10.5-1.5-1.5-1.5 1.5-1.5 0-1.5 1.5-10.5 0-1.5-1.5 0-25.5 1.5-1.5 3 0 1.5-1.5 0-1.5 1.5-1.5 1.5 0 1.5-1.5 3 0 1.5-1.5-1.5-1.5-3 0 0-13.5 1.5-1.5 0-1.5 1.5 0 1.5-1.5 12 0 1.5-1.5 9 0 0 6 1.5 1.5 1.5 0 1.5 1.5 0 9-1.5 1.5 0 1.5 3 3 0 1.5 4.5 4.5 0 1.5 1.5 1.5 0 3 1.5 1.5 3 0 1.5 1.5 1.5 0 3-3 1.5 0 1.5-1.5 3 0 1.5-1.5 3 0 1.5-1.5-1.5-1.5 0-15-1.5-1.5-1.5 0-1.5-1.5-1.5 0-3-3 0-1.5-1.5-1.5 0-4.5-1.5-1.5 0-22.5 1.5 0 1.5-1.5 1.5 0 3-3 1.5 0 1.5-1.5 1.5 0 1.5-1.5 1.5 0 1.5-1.5 0-1.5 1.5 0 3-3 1.5 0 1.5-1.5 0-1.5 1.5-1.5 0-1.5 6-6 0-12 1.5-1.5 1.5 0 6-6 1.5 0 1.5-1.5 1.5 0 3-3 1.5 0 1.5-1.5 10.5 0 1.5-1.5 1.5 0 1.5-1.5 0-1.5 7.5 0 1.5-1.5 3 0 1.5-1.5 18 0 1.5 1.5 4.5 0 1.5 1.5 1.5 0 4.5 4.5 3 0 0 1.5 3 3 7.5 0 1.5 1.5 4.5 0 1.5 1.5 1.5 0 1.5 1.5 1.5 0 1.5 1.5 3 0 1.5 1.5 1.5 0 3 3 1.5-1.5 0-4.5zM112.5 234.5l-7.5 0-1.5 1.5 0 6-1.5 1.5-1.5 0-1.5 1.5 1.5 1.5 3 0 0 12-1.5 1.5-9 0-1.5 1.5 0 1.5-3 3 1.5 1.5 1.5 0 1.5-1.5 12 0 1.5-1.5 9 0 1.5-1.5-1.5-1.5-1.5 0 0-9-1.5-1.5 0-10.5 1.5-1.5 0-3zM127.5 260l-1.5 1.5 1.5 1.5 1.5-1.5zM130.5 245l-1.5 1.5 0 4.5-1.5 1.5 0 6 1.5 1.5 1.5-1.5 0-1.5 10.5 0 1.5-1.5-4.5-4.5-1.5 0 0-1.5-3-3-1.5 0zM162 104l-1.5 1.5 0 1.5-3 3 1.5 1.5 1.5 0 1.5 1.5 1.5-1.5 0-6zM171 125l-1.5 0-1.5-1.5-1.5 0-1.5-1.5-1.5 1.5 0 3-1.5 1.5 0 1.5-1.5 0-4.5 4.5 0 1.5-1.5 1.5 0 9-1.5 1.5 1.5 1.5 3 0 1.5-1.5 1.5 0 1.5-1.5 0-9 1.5-1.5 0-1.5 3-3 1.5 0 1.5-1.5 1.5 0 1.5-1.5 0-1.5zM27 74l7.5 0 0 4.5 1.5 1.5 1.5 0 1.5 1.5 0 9-6 6-6 0z" fill="#00d0a0"/>
<path d="M261 59l0 134.6-33 11.4-4.5 2.5-7.5 5.6-3 1.4-4.5 1.1-10.5 .6-4.5 2.6-4.3 5.2-3.5 6-10.2 26.1-10.2 18.9-.3-3-1.5-1.5 0-6-1.5-1.5 0-1.5-3-3-1.5 0-1.5 1.5 0 1.5-3 3 0 3-1.5 0-1.5 1.5 0 4.5-1.5 1.5 0 1.5-9 0-3-3-1.5 0-1.5 1.5 0 7.5-79.5 0 0-6-1.5-1.5-1.5 0-1.5-1.5-3 0 0-9-1.5-1.5 0-13.5 1.5-1.5 0-10.5-1.5-1.5 0-9 1.5-1.5 0-1.5 1.5 0 1.5-1.5 1.5 0 1.5-1.5 9 0 1.5 1.5 12 0 1.5-1.5 0-6-1.5-1.5 0-1.5-1.5-1.5 0-3-1.5-1.5-3 0-1.5-1.5-3 0-1.5-1.5 0-12-1.5-1.5-1.5 0 0-10.5-1.5-1.5-1.5 1.5-1.5 0-1.5 1.5-10.5 0-1.5-1.5 0-25.5 1.5-1.5 3 0 1.5-1.5 0-1.5 1.5-1.5 1.5 0 1.5-1.5 3 0 1.5-1.5-1.5-1.5-3 0 0-13.5 1.5-1.5 0-1.5 1.5 0 1.5-1.5 12 0 1.5-1.5 9 0 0 6 1.5 1.5 1.5 0 1.5 1.5 0 9-1.5 1.5 0 1.5 3 3 0 1.5 4.5 4.5 0 1.5 1.5 1.5 0 3 1.5 1.5 3 0 1.5 1.5 1.5 0 3-3 1.5 0 1.5-1.5 3 0 1.5-1.5 3 0 1.5-1.5-1.5-1.5 0-15-1.5-1.5-1.5 0-1.5-1.5-1.5 0-3-3 0-1.5-1.5-1.5 0-4.5-1.5-1.5 0-22.5 1.5 0 1.5-1.5 1.5 0 3-3 1.5 0 1.5-1.5 1.5 0 1.5-1.5 1.5 0 1.5-1.5 0-1.5 1.5 0 3-3 1.5 0 1.5-1.5 0-1.5 1.5-1.5 0-1.5 6-6 0-12 1.5-1.5 1.5 0 6-6 1.5 0 1.5-1.5 1.5 0 3-3 1.5 0 1.5-1.5 10.5 0 1.5-1.5 1.5 0 1.5-1.5 0-1.5 7.5 0 1.5-1.5 3 0 1.5-1.5 18 0 1.5 1.5 4.5 0 1.5 1.5 1.5 0 4.5 4.5 3 0 0 1.5 3 3 7.5 0 1.5 1.5 4.5 0 1.5 1.5 1.5 0 1.5 1.5 1.5 0 1.5 1.5 3 0 1.5 1.5 1.5 0 3 3 1.5-1.5 0-4.5zM112.5 234.5l-7.5 0-1.5 1.5 0 6-1.5 1.5-1.5 0-1.5 1.5 1.5 1.5 3 0 0 12-1.5 1.5-9 0-1.5 1.5 0 1.5-3 3 1.5 1.5 1.5 0 1.5-1.5 12 0 1.5-1.5 9 0 1.5-1.5-1.5-1.5-1.5 0 0-9-1.5-1.5 0-10.5 1.5-1.5 0-3zM127.5 260l-1.5 1.5 1.5 1.5 1.5-1.5zM130.5 245l-1.5 1.5 0 4.5-1.5 1.5 0 6 1.5 1.5 1.5-1.5 0-1.5 10.5 0 1.5-1.5-4.5-4.5-1.5 0 0-1.5-3-3-1.5 0zM162 104l-1.5 1.5 0 1.5-3 3 1.5 1.5 1.5 0 1.5 1.5 1.5-1.5 0-6zM171 125l-1.5 0-1.5-1.5-1.5 0-1.5-1.5-1.5 1.5 0 3-1.5 1.5 0 1.5-1.5 0-4.5 4.5 0 1.5-1.5 1.5 0 9-1.5 1.5 1.5 1.5 3 0 1.5-1.5 1.5 0 1.5-1.5 0-9 1.5-1.5 0-1.5 3-3 1.5 0 1.5-1.5 1.5 0 1.5-1.5 0-1.5zM27 74l7.5 0 0 4.5 1.5 1.5 1.5 0 1.5 1.5 0 9-6 6-6 0z" fill="#00d46e"/>
<path d="M261 59l0 128.1-17.1 6.9-18.9 6.9-13.5 9.3-6 .7-10.5-.7-3 1-3.6 2.3-3.9 4.5-2.8 4.5-7.7 17.6-12 22 0-.6-3-3-1.5 0-1.5 1.5 0 1.5-3 3 0 3-1.5 0-1.5 1.5 0 4.5-2.7 3-7.8 0-3-3-1.5 0-1.5 1.5 0 7.5-79.5 0 0-6-1.5-1.5-1.5 0-1.5-1.5-3 0 0-9-1.5-1.5 0-13.5 1.5-1.5 0-10.5-1.5-1.5 0-9 1.5-1.5 0-1.5 1.5 0 1.5-1.5 1.5 0 1.5-1.5 9 0 1.5 1.5 12 0 1.5-1.5 0-6-1.5-1.5 0-1.5-1.5-1.5 0-3-1.5-1.5-3 0-1.5-1.5-3 0-1.5-1.5 0-12-1.5-1.5-1.5 0 0-10.5-1.5-1.5-1.5 1.5-1.5 0-1.5 1.5-10.5 0-1.5-1.5 0-25.5 1.5-1.5 3 0 1.5-1.5 0-1.5 1.5-1.5 1.5 0 1.5-1.5 3 0 1.5-1.5-1.5-1.5-3 0 0-13.5 1.5-1.5 0-1.5 1.5 0 1.5-1.5 12 0 1.5-1.5 9 0 0 6 1.5 1.5 1.5 0 1.5 1.5 0 9-1.5 1.5 0 1.5 3 3 0 1.5 4.5 4.5 0 1.5 1.5 1.5 0 3 1.5 1.5 3 0 1.5 1.5 1.5 0 3-3 1.5 0 1.5-1.5 3 0 1.5-1.5 3 0 1.5-1.5-1.5-1.5 0-15-1.5-1.5-1.5 0-1.5-1.5-1.5 0-3-3 0-1.5-1.5-1.5 0-4.5-1.5-1.5 0-22.5 1.5 0 1.5-1.5 1.5 0 3-3 1.5 0 1.5-1.5 1.5 0 1.5-1.5 1.5 0 1.5-1.5 0-1.5 1.5 0 3-3 1.5 0 1.5-1.5 0-1.5 1.5-1.5 0-1.5 6-6 0-12 1.5-1.5 1.5 0 6-6 1.5 0 1.5-1.5 1.5 0 3-3 1.5 0 1.5-1.5 10.5 0 1.5-1.5 1.5 0 1.5-1.5 0-1.5 7.5 0 1.5-1.5 3 0 1.5-1.5 18 0 1.5 1.5 4.5 0 1.5 1.5 1.5 0 4.5 4.5 3 0 0 1.5 3 3 7.5 0 1.5 1.5 4.5 0 1.5 1.5 1.5 0 1.5 1.5 1.5 0 1.5 1.5 3 0 1.5 1.5 1.5 0 3 3 1.5-1.5 0-4.5zM112.5 234.5l-7.5 0-1.5 1.5 0 6-1.5 1.5-1.5 0-1.5 1.5 1.5 1.5 3 0 0 12-1.5 1.5-9 0-1.5 1.5 0 1.5-3 3 1.5 1.5 1.5 0 1.5-1.5 12 0 1.5-1.5 9 0 1.5-1.5-1.5-1.5-1.5 0 0-9-1.5-1.5 0-10.5 1.5-1.5 0-3zM127.5 260l-1.5 1.5 1.5 1.5 1.5-1.5zM130.5 245l-1.5 1.5 0 4.5-1.5 1.5 0 6 1.5 1.5 1.5-1.5 0-1.5 10.5 0 1.5-1.5-4.5-4.5-1.5 0 0-1.5-3-3-1.5 0zM162 104l-1.5 1.5 0 1.5-3 3 1.5 1.5 1.5 0 1.5 1.5 1.5-1.5 0-6zM171 125l-1.5 0-1.5-1.5-1.5 0-1.5-1.5-1.5 1.5 0 3-1.5 1.5 0 1.5-1.5 0-4.5 4.5 0 1.5-1.5 1.5 0 9-1.5 1.5 1.5 1.5 3 0 1.5-1.5 1.5 0 1.5-1.5 0-9 1.5-1.5 0-1.5 3-3 1.5 0 1.5-1.5 1.5 0 1.5-1.5 0-1.5zM27 74l7.5 0 0 4.5 1.5 1.5 1.5 0 1.5 1.5 0 9-6 6-6 0z" fill="#00e128"/>
<path d="M261 59l0 118.8-4.5 2.5-3 .9-6 1.1-10.5 .9-3 1.1-5.9 6.7-9.1 5.4-7.5 7.4-4.5 2.2-4.5 .6-16.5-.3-3-1.4-3.8-4.9-2.2-1-4.5 .8-2.7 1.7-1 1.5-.1 1.5 .8 2.6 3.6 6.4 .1 4.5-1.4 4.5-8.4 18-4 10.5-4.9 8.6-4.4 4.9-12.5 10.1-1.1-1.1-1.5 0-1.5 1.5 0 7.5-79.5 0 0-6-1.5-1.5-1.5 0-1.5-1.5-3 0 0-9-1.5-1.5 0-13.5 1.5-1.5 0-10.5-1.5-1.5 0-9 1.5-1.5 0-1.5 1.5 0 1.5-1.5 1.5 0 1.5-1.5 9 0 1.5 1.5 12 0 1.5-1.5 0-6-1.5-1.5 0-1.5-1.5-1.5 0-3-1.5-1.5-3 0-1.5-1.5-3 0-1.5-1.5 0-12-1.5-1.5-1.5 0 0-10.5-1.5-1.5-1.5 1.5-1.5 0-1.5 1.5-10.5 0-1.5-1.5 0-25.5 1.5-1.5 3 0 1.5-1.5 0-1.5 1.5-1.5 1.5 0 1.5-1.5 3 0 1.5-1.5-1.5-1.5-3 0 0-13.5 1.5-1.5 0-1.5 1.5 0 1.5-1.5 12 0 1.5-1.5 9 0 0 6 1.5 1.5 1.5 0 1.5 1.5 0 9-1.5 1.5 0 1.5 3 3 0 1.5 4.5 4.5 0 1.5 1.5 1.5 0 3 1.5 1.5 3 0 1.5 1.5 1.5 0 3-3 1.5 0 1.5-1.5 3 0 1.5-1.5 3 0 1.5-1.5-1.5-1.5 0-15-1.5-1.5-1.5 0-1.5-1.5-1.5 0-3-3 0-1.5-1.5-1.5 0-4.5-1.5-1.5 0-22.5 1.5 0 1.5-1.5 1.5 0 3-3 1.5 0 1.5-1.5 1.5 0 1.5-1.5 1.5 0 1.5-1.5 0-1.5 1.5 0 3-3 1.5 0 1.5-1.5 0-1.5 1.5-1.5 0-1.5 6-6 0-12 1.5-1.5 1.5 0 6-6 1.5 0 1.5-1.5 1.5 0 3-3 1.5 0 1.5-1.5 10.5 0 1.5-1.5 1.5 0 1.5-1.5 0-1.5 7.5 0 1.5-1.5 3 0 1.5-1.5 18 0 1.5 1.5 4.5 0 1.5 1.5 1.5 0 4.5 4.5 3 0 0 1.5 3 3 7.5 0 1.5 1.5 4.5 0 1.5 1.5 1.5 0 1.5 1.5 1.5 0 1.5 1.5 3 0 1.5 1.5 1.5 0 3 3 1.5-1.5 0-4.5zM112.5 234.5l-7.5 0-1.5 1.5 0 6-1.5 1.5-1.5 0-1.5 1.5 1.5 1.5 3 0 0 12-1.5 1.5-9 0-1.5 1.5 0 1.5-3 3 1.5 1.5 1.5 0 1.5-1.5 12 0 1.5-1.5 9 0 1.5-1.5-1.5-1.5-1.5 0 0-9-1.5-1.5 0-10.5 1.5-1.5 0-3zM127.5 260l-1.5 1.5 1.5 1.5 1.5-1.5zM130.5 245l-1.5 1.5 0 4.5-1.5 1.5 0 6 1.5 1.5 1.5-1.5 0-1.5 10.5 0 1.5-1.5-4.5-4.5-1.5 0 0-1.5-3-3-1.5 0zM162 104l-1.5 1.5 0 1.5-3 3 1.5 1.5 1.5 0 1.5 1.5 1.5-1.5 0-6zM171 125l-1.5 0-1.5-1.5-1.5 0-1.5-1.5-1.5 1.5 0 3-1.5 1.5 0 1.5-1.5 0-4.5 4.5 0 1.5-1.5 1.5 0 9-1.5 1.5 1.5 1.5 3 0 1.5-1.5 1.5 0 1.5-1.5 0-9 1.5-1.5 0-1.5 3-3 1.5 0 1.5-1.5 1.5 0 1.5-1.5 0-1.5zM27 74l7.5 0 0 4.5 1.5 1.5 1.5 0 1.5 1.5 0 9-6 6-6 0z" fill="#00e80a"/>
<path d="M261 59l0 13.2-3.6 6.3-1.5 4.5-.1 16.5-1.9 6-3.9 9-2.1 3-1.9 1.5-3 1.2-7.5 .9-4.5 1.2-4.2 2.7-2.2 3-.6 3 1.1 3 1.4 1.6 7.5 5.5 2.3 3.4 .9 4.5-.4 3-2.6 4.5-6.2 5.5-3 4.2-4.2 8.3-4 12-8.3 13.2-3 2.2-3 1.1-4.5 .6-6-.5-4.5-1.9-6-6.2-1.5-1-1.5-.2-4.5 1.4-6.6 4.8-1.1 1.5-.8 3 1.7 9-.6 6-10.6 26.2-3 5.5-4.5 6.2-16.1 16.1-1.9 4.3-1.1 4.7-75.4 0 0-6-1.5-1.5-1.5 0-1.5-1.5-3 0 0-9-1.5-1.5 0-13.5 1.5-1.5 0-10.5-1.5-1.5 0-9 1.5-1.5 0-1.5 1.5 0 1.5-1.5 1.5 0 1.5-1.5 9 0 1.5 1.5 12 0 1.5-1.5 0-6-1.5-1.5 0-1.5-1.5-1.5 0-3-1.5-1.5-3 0-1.5-1.5-3 0-1.5-1.5 0-12-1.5-1.5-1.5 0 0-10.5-1.5-1.5-1.5 1.5-1.5 0-1.5 1.5-10.5 0-1.5-1.5 0-25.5 1.5-1.5 3 0 1.5-1.5 0-1.5 1.5-1.5 1.5 0 1.5-1.5 3 0 1.5-1.5-1.5-1.5-3 0 0-13.5 1.5-1.5 0-1.5 1.5 0 1.5-1.5 12 0 1.5-1.5 9 0 0 6 1.5 1.5 1.5 0 1.5 1.5 0 9-1.5 1.5 0 1.5 3 3 0 1.5 4.5 4.5 0 1.5 1.5 1.5 0 3 1.5 1.5 3 0 1.5 1.5 1.5 0 3-3 1.5 0 1.5-1.5 3 0 1.5-1.5 3 0 1.5-1.5-1.5-1.5 0-15-1.5-1.5-1.5 0-1.5-1.5-1.5 0-3-3 0-1.5-1.5-1.5 0-4.5-1.5-1.5 0-22.5 1.5 0 1.5-1.5 1.5 0 3-3 1.5 0 1.5-1.5 1.5 0 1.5-1.5 1.5 0 1.5-1.5 0-1.5 1.5 0 3-3 1.5 0 1.5-1.5 0-1.5 1.5-1.5 0-1.5 6-6 0-12 1.5-1.5 1.5 0 6-6 1.5 0 1.5-1.5 1.5 0 3-3 1.5 0 1.5-1.5 10.5 0 1.5-1.5 1.5 0 1.5-1.5 0-1.5 7.5 0 1.5-1.5 3 0 1.5-1.5 18 0 1.5 1.5 4.5 0 1.5 1.5 1.5 0 4.5 4.5 3 0 0 1.5 3 3 7.5 0 1.5 1.5 4.5 0 1.5 1.5 1.5 0 1.5 1.5 1.5 0 1.5 1.5 3 0 1.5 1.5 1.5 0 3 3 1.5-1.5 0-4.5zM112.5 234.5l-7.5 0-1.5 1.5 0 6-1.5 1.5-1.5 0-1.5 1.5 1.5 1.5 3 0 0 12-1.5 1.5-9 0-1.5 1.5 0 1.5-3 3 1.5 1.5 1.5 0 1.5-1.5 12 0 1.5-1.5 9 0 1.5-1.5-1.5-1.5-1.5 0 0-9-1.5-1.5 0-10.5 1.5-1.5 0-3zM127.5 260l-1.5 1.5 1.5 1.5 1.5-1.5zM130.5 245l-1.5 1.5 0 4.5-1.5 1.5 0 6 1.5 1.5 1.5-1.5 0-1.5 10.5 0 1.5-1.5-4.5-4.5-1.5 0 0-1.5-3-3-1.5 0zM162 104l-1.5 1.5 0 1.5-3 3 1.5 1.5 1.5 0 1.5 1.5 1.5-1.5 0-6zM171 125l-1.5 0-1.5-1.5-1.5 0-1.5-1.5-1.5 1.5 0 3-1.5 1.5 0 1.5-1.5 0-4.5 4.5 0 1.5-1.5 1.5 0 9-1.5 1.5 1.5 1.5 3 0 1.5-1.5 1.5 0 1.5-1.5 0-9 1.5-1.5 0-1.5 3-3 1.5 0 1.5-1.5 1.5 0 1.5-1.5 0-1.5zM27 74l7.5 0 0 4.5 1.5 1.5 1.5 0 1.5 1.5 0 9-6 6-6 0z" fill="#00e150"/>
<path d="M260.4 59l-8.6 16.5-1.9 6-3 13.5-4.6 10.5-3.8 4.1-9 4.9-4.5 3.5-5 5.5-3.5 6-.5 3 1.1 4.5 1.9 3.1 5.5 5.9 .5 3-6 12.4-3 7.6-5.6 19-2.8 6-2.1 3.1-4.5 3-3 .6-4.5-.3-4.5-2.3-6-6.3-1.5-.9-3-.7-4.5 1.4-9.9 8.4-1 1.5-.6 3 1 7.5-.5 6-3.9 10.5-4.6 10.4-4.5 7.9-19.5 23.9-2.4 4.3-2.6 7.5-71.5 0 0-6-1.5-1.5-1.5 0-1.5-1.5-3 0 0-9-1.5-1.5 0-13.5 1.5-1.5 0-10.5-1.5-1.5 0-9 1.5-1.5 0-1.5 1.5 0 1.5-1.5 1.5 0 1.5-1.5 9 0 1.5 1.5 12 0 1.5-1.5 0-6-1.5-1.5 0-1.5-1.5-1.5 0-3-1.5-1.5-3 0-1.5-1.5-3 0-1.5-1.5 0-12-1.5-1.5-1.5 0 0-10.5-1.5-1.5-1.5 1.5-1.5 0-1.5 1.5-10.5 0-1.5-1.5 0-25.5 1.5-1.5 3 0 1.5-1.5 0-1.5 1.5-1.5 1.5 0 1.5-1.5 3 0 1.5-1.5-1.5-1.5-3 0 0-13.5 1.5-1.5 0-1.5 1.5 0 1.5-1.5 12 0 1.5-1.5 9 0 0 6 1.5 1.5 1.5 0 1.5 1.5 0 9-1.5 1.5 0 1.5 3 3 0 1.5 4.5 4.5 0 1.5 1.5 1.5 0 3 1.5 1.5 3 0 1.5 1.5 1.5 0 3-3 1.5 0 1.5-1.5 3 0 1.5-1.5 3 0 1.5-1.5-1.5-1.5 0-15-1.5-1.5-1.5 0-1.5-1.5-1.5 0-3-3 0-1.5-1.5-1.5 0-4.5-1.5-1.5 0-22.5 1.5 0 1.5-1.5 1.5 0 3-3 1.5 0 1.5-1.5 1.5 0 1.5-1.5 1.5 0 1.5-1.5 0-1.5 1.5 0 3-3 1.5 0 1.5-1.5 0-1.5 1.5-1.5 0-1.5 6-6 0-12 1.5-1.5 1.5 0 6-6 1.5 0 1.5-1.5 1.5 0 3-3 1.5 0 1.5-1.5 10.5 0 1.5-1.5 1.5 0 1.5-1.5 0-1.5 7.5 0 1.5-1.5 3 0 1.5-1.5 18 0 1.5 1.5 4.5 0 1.5 1.5 1.5 0 4.5 4.5 3 0 0 1.5 3 3 7.5 0 1.5 1.5 4.5 0 1.5 1.5 1.5 0 1.5 1.5 1.5 0 1.5 1.5 3 0 1.5 1.5 1.5 0 3 3 1.5-1.5 0-4.5zM112.5 234.5l-7.5 0-1.5 1.5 0 6-1.5 1.5-1.5 0-1.5 1.5 1.5 1.5 3 0 0 12-1.5 1.5-9 0-1.5 1.5 0 1.5-3 3 1.5 1.5 1.5 0 1.5-1.5 12 0 1.5-1.5 9 0 1.5-1.5-1.5-1.5-1.5 0 0-9-1.5-1.5 0-10.5 1.5-1.5 0-3zM127.5 260l-1.5 1.5 1.5 1.5 1.5-1.5zM130.5 245l-1.5 1.5 0 4.5-1.5 1.5 0 6 1.5 1.5 1.5-1.5 0-1.5 10.5 0 1.5-1.5-4.5-4.5-1.5 0 0-1.5-3-3-1.5 0zM162 104l-1.5 1.5 0 1.5-3 3 1.5 1.5 1.5 0 1.5 1.5 1.5-1.5 0-6zM171 125l-1.5 0-1.5-1.5-1.5 0-1.5-1.5-1.5 1.5 0 3-1.5 1.5 0 1.5-1.5 0-4.5 4.5 0 1.5-1.5 1.5 0 9-1.5 1.5 1.5 1.5 3 0 1.5-1.5 1.5 0 1.5-1.5 0-9 1.5-1.5 0-1.5 3-3 1.5 0 1.5-1.5 1.5 0 1.5-1.5 0-1.5zM27 74l7.5 0 0 4.5 1.5 1.5 1.5 0 1.5 1.5 0 9-6 6-6 0z" fill="#8ce8af"/>
<path d="M252.5 59l-5.7 13.5-5.7 18-4.1 8.7-3.9 4.8-11.1 9.6-10.7 12.9-2.3 4.5-.5 3 .2 3 4.2 12 .3 6-6.6 31.5-2.2 6-1.9 2.8-2.2 1.7-2.3 .8-4.5-.4-2.9-1.9-4.6-5.3-3-2.4-3-1.1-3-.1-4.5 1.9-6.9 7-4.8 3-1.4 3 1 12-1.1 6-4.4 10.5-6.4 11.3-6.7 6.7-2.9 3.9-.9-.9-1.5 0 0-1.5-3-3-1.5 0-1.5-1.5-1.5 1.5 0 4.5-1.5 1.5 0 6 1.5 1.5 1.5-1.5 0-1.5 5.7 0-9.7 15-4.6 10.5-67.9 0 0-6-1.5-1.5-1.5 0-1.5-1.5-3 0 0-9-1.5-1.5 0-13.5 1.5-1.5 0-10.5-1.5-1.5 0-9 1.5-1.5 0-1.5 1.5 0 1.5-1.5 1.5 0 1.5-1.5 9 0 1.5 1.5 12 0 1.5-1.5 0-6-1.5-1.5 0-1.5-1.5-1.5 0-3-1.5-1.5-3 0-1.5-1.5-3 0-1.5-1.5 0-12-1.5-1.5-1.5 0 0-10.5-1.5-1.5-1.5 1.5-1.5 0-1.5 1.5-10.5 0-1.5-1.5 0-25.5 1.5-1.5 3 0 1.5-1.5 0-1.5 1.5-1.5 1.5 0 1.5-1.5 3 0 1.5-1.5-1.5-1.5-3 0 0-13.5 1.5-1.5 0-1.5 1.5 0 1.5-1.5 12 0 1.5-1.5 9 0 0 6 1.5 1.5 1.5 0 1.5 1.5 0 9-1.5 1.5 0 1.5 3 3 0 1.5 4.5 4.5 0 1.5 1.5 1.5 0 3 1.5 1.5 3 0 1.5 1.5 1.5 0 3-3 1.5 0 1.5-1.5 3 0 1.5-1.5 3 0 1.5-1.5-1.5-1.5 0-15-1.5-1.5-1.5 0-1.5-1.5-1.5 0-3-3 0-1.5-1.5-1.5 0-4.5-1.5-1.5 0-22.5 1.5 0 1.5-1.5 1.5 0 3-3 1.5 0 1.5-1.5 1.5 0 1.5-1.5 1.5 0 1.5-1.5 0-1.5 1.5 0 3-3 1.5 0 1.5-1.5 0-1.5 1.5-1.5 0-1.5 6-6 0-12 1.5-1.5 1.5 0 6-6 1.5 0 1.5-1.5 1.5 0 3-3 1.5 0 1.5-1.5 10.5 0 1.5-1.5 1.5 0 1.5-1.5 0-1.5 7.5 0 1.5-1.5 3 0 1.5-1.5 18 0 1.5 1.5 4.5 0 1.5 1.5 1.5 0 4.5 4.5 3 0 0 1.5 3 3 7.5 0 1.5 1.5 4.5 0 1.5 1.5 1.5 0 1.5 1.5 1.5 0 1.5 1.5 3 0 1.5 1.5 1.5 0 3 3 1.5-1.5 0-4.5zM112.5 234.5l-7.5 0-1.5 1.5 0 6-1.5 1.5-1.5 0-1.5 1.5 1.5 1.5 3 0 0 12-1.5 1.5-9 0-1.5 1.5 0 1.5-3 3 1.5 1.5 1.5 0 1.5-1.5 12 0 1.5-1.5 9 0 1.5-1.5-1.5-1.5-1.5 0 0-9-1.5-1.5 0-10.5 1.5-1.5 0-3zM127.5 260l-1.5 1.5 1.5 1.5 1.5-1.5zM162 104l-1.5 1.5 0 1.5-3 3 1.5 1.5 1.5 0 1.5 1.5 1.5-1.5 0-6zM171 125l-1.5 0-1.5-1.5-1.5 0-1.5-1.5-1.5 1.5 0 3-1.5 1.5 0 1.5-1.5 0-4.5 4.5 0 1.5-1.5 1.5 0 9-1.5 1.5 1.5 1.5 3 0 1.5-1.5 1.5 0 1.5-1.5 0-9 1.5-1.5 0-1.5 3-3 1.5 0 1.5-1.5 1.5 0 1.5-1.5 0-1.5zM27 74l7.5 0 0 4.5 1.5 1.5 1.5 0 1.5 1.5 0 9-6 6-6 0z" fill="#ffffff"/>
<path d="M244 62l-8.1 24-4.9 10.3-2.6 3.2-7.9 7.2-6.4 9.3-10.7 12-2.7 4.5-.1 4.5 4.5 12 .9 4.5 .2 4.5-4 28.5-1.2 4.1-1.5 2.4-1.5 1.3-3 .2-2.6-2-4.7-6-3.2-2.7-3-1.4-4.5-.8-3 .6-3 1.7-7.5 9.2-4.5 .5-1.5 .8-1.4 2.6-.3 3 1.7 13.5-.7 4.5-1.6 4.5-3 6-3.7 5.6-4.5 4.8-6.3 4.6-2.7 4.5-1.5-1.5-1.5 0-1.5-1.5-1.5 1.5 0 4.5-1.5 1.5 0 6 1.5 1.5 1.5-1.5 0-1.5 1.7 0-14 25.5-64.2 0 0-6-1.5-1.5-1.5 0-1.5-1.5-3 0 0-9-1.5-1.5 0-13.5 1.5-1.5 0-10.5-1.5-1.5 0-9 1.5-1.5 0-1.5 1.5 0 1.5-1.5 1.5 0 1.5-1.5 9 0 1.5 1.5 12 0 1.5-1.5 0-6-1.5-1.5 0-1.5-1.5-1.5 0-3-1.5-1.5-3 0-1.5-1.5-3 0-1.5-1.5 0-12-1.5-1.5-1.5 0 0-10.5-1.5-1.5-1.5 1.5-1.5 0-1.5 1.5-10.5 0-1.5-1.5 0-25.5 1.5-1.5 3 0 1.5-1.5 0-1.5 1.5-1.5 1.5 0 1.5-1.5 3 0 1.5-1.5-1.5-1.5-3 0 0-13.5 1.5-1.5 0-1.5 1.5 0 1.5-1.5 12 0 1.5-1.5 9 0 0 6 1.5 1.5 1.5 0 1.5 1.5 0 9-1.5 1.5 0 1.5 3 3 0 1.5 4.5 4.5 0 1.5 1.5 1.5 0 3 1.5 1.5 3 0 1.5 1.5 1.5 0 3-3 1.5 0 1.5-1.5 3 0 1.5-1.5 3 0 1.5-1.5-1.5-1.5 0-15-1.5-1.5-1.5 0-1.5-1.5-1.5 0-3-3 0-1.5-1.5-1.5 0-4.5-1.5-1.5 0-22.5 1.5 0 1.5-1.5 1.5 0 3-3 1.5 0 1.5-1.5 1.5 0 1.5-1.5 1.5 0 1.5-1.5 0-1.5 1.5 0 3-3 1.5 0 1.5-1.5 0-1.5 1.5-1.5 0-1.5 6-6 0-12 1.5-1.5 1.5 0 6-6 1.5 0 1.5-1.5 1.5 0 3-3 1.5 0 1.5-1.5 10.5 0 1.5-1.5 1.5 0 1.5-1.5 0-1.5 7.5 0 1.5-1.5 3 0 1.5-1.5 18 0 1.5 1.5 4.5 0 1.5 1.5 1.5 0 4.5 4.5 3 0 0 1.5 3 3 7.5 0 1.5 1.5 4.5 0 1.5 1.5 1.5 0 1.5 1.5 1.5 0 1.5 1.5 3 0 1.5 1.5zM112.5 234.5l-7.5 0-1.5 1.5 0 6-1.5 1.5-1.5 0-1.5 1.5 1.5 1.5 3 0 0 12-1.5 1.5-9 0-1.5 1.5 0 1.5-3 3 1.5 1.5 1.5 0 1.5-1.5 12 0 1.5-1.5 9 0 1.5-1.5-1.5-1.5-1.5 0 0-9-1.5-1.5 0-10.5 1.5-1.5 0-3zM127.5 260l-1.5 1.5 1.5 1.5 1.5-1.5zM162 104l-1.5 1.5 0 1.5-3 3 1.5 1.5 1.5 0 1.5 1.5 1.5-1.5 0-6zM171 125l-1.5 0-1.5-1.5-1.5 0-1.5-1.5-1.5 1.5 0 3-1.5 1.5 0 1.5-1.5 0-4.5 4.5 0 1.5-1.5 1.5 0 9-1.5 1.5 1.5 1.5 3 0 1.5-1.5 1.5 0 1.5-1.5 0-9 1.5-1.5 0-1.5 3-3 1.5 0 1.5-1.5 1.5 0 1.5-1.5 0-1.5zM27 74l7.5 0 0 4.5 1.5 1.5 1.5 0 1.5 1.5 0 9-6 6-6 0z" fill="#faf5d2"/>
<path d="M237 59l-6.9 22.5-3.6 7.9-3 3.9-8.6 7.7-4.2 10.5-2.9 4.5-5.3 5.5-10.4 8-2.5 3-.4 1.5 .7 3 6.6 10 1.8 5 .9 4.5 .2 4.5-.5 4.5-2.4 10.9-1.1 2.6-1.9 1.6-1.5-.4-21-10.8-1.5-.4-2.2 1-1.1 1.5-2.8 7.5-7.4 8.7-1.5 3.6-2 8.7 2 9 .4 4.5-.9 4.5-1.7 4.5-2.7 4.5-4.1 5-3 2.5-9 5.8-1.5 1.7-1 3.5-.5-.5-1.5 1.5 0 4.5-1.5 1.5 0 6 .6 .6-2.1 2.4 .6 .6-12.4 20.4-60.2 0 0-6-1.5-1.5-1.5 0-1.5-1.5-3 0 0-9-1.5-1.5 0-13.5 1.5-1.5 0-10.5-1.5-1.5 0-9 1.5-1.5 0-1.5 1.5 0 1.5-1.5 1.5 0 1.5-1.5 9 0 1.5 1.5 12 0 1.5-1.5 0-6-1.5-1.5 0-1.5-1.5-1.5 0-3-1.5-1.5-3 0-1.5-1.5-3 0-1.5-1.5 0-12-1.5-1.5-1.5 0 0-10.5-1.5-1.5-1.5 1.5-1.5 0-1.5 1.5-10.5 0-1.5-1.5 0-25.5 1.5-1.5 3 0 1.5-1.5 0-1.5 1.5-1.5 1.5 0 1.5-1.5 3 0 1.5-1.5-1.5-1.5-3 0 0-13.5 1.5-1.5 0-1.5 1.5 0 1.5-1.5 12 0 1.5-1.5 9 0 0 6 1.5 1.5 1.5 0 1.5 1.5 0 9-1.5 1.5 0 1.5 3 3 0 1.5 4.5 4.5 0 1.5 1.5 1.5 0 3 1.5 1.5 3 0 1.5 1.5 1.5 0 3-3 1.5 0 1.5-1.5 3 0 1.5-1.5 3 0 1.5-1.5-1.5-1.5 0-15-1.5-1.5-1.5 0-1.5-1.5-1.5 0-3-3 0-1.5-1.5-1.5 0-4.5-1.5-1.5 0-22.5 1.5 0 1.5-1.5 1.5 0 3-3 1.5 0 1.5-1.5 1.5 0 1.5-1.5 1.5 0 1.5-1.5 0-1.5 1.5 0 3-3 1.5 0 1.5-1.5 0-1.5 1.5-1.5 0-1.5 6-6 0-12 1.5-1.5 1.5 0 6-6 1.5 0 1.5-1.5 1.5 0 3-3 1.5 0 1.5-1.5 10.5 0 1.5-1.5 1.5 0 1.5-1.5 0-1.5 7.5 0 1.5-1.5 3 0 1.5-1.5 18 0 1.5 1.5 4.5 0 1.5 1.5 1.5 0 4.5 4.5 3 0 0 1.5 3 3 7.5 0 1.5 1.5 4.5 0 1.5 1.5 1.5 0 1.5 1.5zM112.5 234.5l-7.5 0-1.5 1.5 0 6-1.5 1.5-1.5 0-1.5 1.5 1.5 1.5 3 0 0 12-1.5 1.5-9 0-1.5 1.5 0 1.5-3 3 1.5 1.5 1.5 0 1.5-1.5 12 0 1.5-1.5 9 0 1.5-1.5-1.5-1.5-1.5 0 0-9-1.5-1.5 0-10.5 1.5-1.5 0-3zM162 104l-1.5 1.5 0 1.5-3 3 1.5 1.5 1.5 0 1.5 1.5 1.5-1.5 0-6zM171 125l-1.5 0-1.5-1.5-1.5 0-1.5-1.5-1.5 1.5 0 3-1.5 1.5 0 1.5-1.5 0-4.5 4.5 0 1.5-1.5 1.5 0 9-1.5 1.5 1.5 1.5 3 0 1.5-1.5 1.5 0 1.5-1.5 0-9 1.5-1.5 0-1.5 3-3 1.5 0 1.5-1.5 1.5 0 1.5-1.5 0-1.5zM27 74l7.5 0 0 4.5 1.5 1.5 1.5 0 1.5 1.5 0 9-6 6-6 0z" fill="#f7eea5"/>
<path d="M230.4 56l-3.6 9-3.1 12-2.5 6-3.7 4.7-9 6.4-2.8 3.9-1.5 12-2 4.5-2.4 3-3.3 2.7-15 7.4-2.5 1.9-1 1.5-.9 4.5 .5 3 1.9 3 4 4.5 1.6 3 1.2 4.5-.5 3-1.3 1.4-3 .2-12-4.6-7.5-.3-4.5 .7-4.5 1.5-3 1.7-2.2 2.4-.7 3 3.3 6 .4 6-1 3-4.3 4.5-1.6 3 .8 1.5 4.6 3 1.5 3-.2 3-1.6 4.5 3.3 10.5 .1 3-.9 4.2-2.2 4.8-3.8 5-4.5 3.7-9 5.5-3 3.3-1.3 3.5-1.2 10.5-1.7 6-3.3 6-11.9 16.5-55.6 0 0-6-1.5-1.5-1.5 0-1.5-1.5-3 0 0-9-1.5-1.5 0-13.5 1.5-1.5 0-10.5-1.5-1.5 0-9 1.5-1.5 0-1.5 1.5 0 1.5-1.5 1.5 0 1.5-1.5 9 0 1.5 1.5 12 0 1.5-1.5 0-6-1.5-1.5 0-1.5-1.5-1.5 0-3-1.5-1.5-3 0-1.5-1.5-3 0-1.5-1.5 0-12-1.5-1.5-1.5 0 0-10.5-1.5-1.5-1.5 1.5-1.5 0-1.5 1.5-10.5 0-1.5-1.5 0-25.5 1.5-1.5 3 0 1.5-1.5 0-1.5 1.5-1.5 1.5 0 1.5-1.5 3 0 1.5-1.5-1.5-1.5-3 0 0-13.5 1.5-1.5 0-1.5 1.5 0 1.5-1.5 12 0 1.5-1.5 9 0 0 6 1.5 1.5 1.5 0 1.5 1.5 0 9-1.5 1.5 0 1.5 3 3 0 1.5 4.5 4.5 0 1.5 1.5 1.5 0 3 1.5 1.5 3 0 1.5 1.5 1.5 0 3-3 1.5 0 1.5-1.5 3 0 1.5-1.5 3 0 1.5-1.5-1.5-1.5 0-15-1.5-1.5-1.5 0-1.5-1.5-1.5 0-3-3 0-1.5-1.5-1.5 0-4.5-1.5-1.5 0-22.5 1.5 0 1.5-1.5 1.5 0 3-3 1.5 0 1.5-1.5 1.5 0 1.5-1.5 1.5 0 1.5-1.5 0-1.5 1.5 0 3-3 1.5 0 1.5-1.5 0-1.5 1.5-1.5 0-1.5 6-6 0-12 1.5-1.5 1.5 0 6-6 1.5 0 1.5-1.5 1.5 0 3-3 1.5 0 1.5-1.5 10.5 0 1.5-1.5 1.5 0 1.5-1.5 0-1.5 7.5 0 1.5-1.5 3 0 1.5-1.5 18 0 1.5 1.5 4.5 0 1.5 1.5 1.5 0 4.5 4.5 3 0 0 1.5 3 3 7.5 0 1.5 1.5zM112.5 234.5l-7.5 0-1.5 1.5 0 6-1.5 1.5-1.5 0-1.5 1.5 1.5 1.5 3 0 0 12-1.5 1.5-9 0-1.5 1.5 0 1.5-3 3 1.5 1.5 1.5 0 1.5-1.5 12 0 1.5-1.5 9 0 1.5-1.5-1.5-1.5-1.5 0 0-9-1.5-1.5 0-10.5 1.5-1.5 0-3zM162 104l-1.5 1.5 0 1.5-3 3 1.5 1.5 1.5 0 1.5 1.5 1.5-1.5 0-6zM171 125l-1.5 0-1.5-1.5-1.5 0-1.5-1.5-1.5 1.5 0 3-1.5 1.5 0 1.5-1.5 0-4.5 4.5 0 1.5-1.5 1.5 0 9-1.5 1.5 1.5 1.5 3 0 1.5-1.5 1.5 0 1.5-1.5 0-9 1.5-1.5 0-1.5 3-3 1.5 0 1.5-1.5 1.5 0 1.5-1.5 0-1.5zM27 74l7.5 0 0 4.5 1.5 1.5 1.5 0 1.5 1.5 0 9-6 6-6 0z" fill="#f0e464"/>
<path d="M223.3 54.5l-7.3 20.5-2.4 5-3 3-9.6 5.5-2 2-1.9 3-1.1 4.5 1.4 9 0 3-.8 3-1.1 1.5-4 3-11.5 6-4.1 3-2.6 3-6.5 10.5-4.8 3.9 0-6.9 1.5-1.5 0-1.5 3-3 1.5 0 1.5-1.5 1.5 0 1.5-1.5 0-1.5-1.5-1.5-1.5 0-1.5-1.5-1.5 0-1.5-1.5-1.5 1.5 0 3-1.5 1.5 0 1.5-1.5 0-4.5 4.5 0 1.5-1.5 1.5 0 9-1.5 1.5 .9 .9-3.9 2.5-3 2.9-1.9 2.7-1.1 3-.2 3 1.5 10.5-.6 3-2.8 6-.6 3 1.2 3.2 4.7 4.3 .7 1.5-2.3 6 4.4 10.5-.7 6-2.3 4.7-3.6 4.3-3.9 3-9 5.1-4 3.9-1.5 3-.7 3-1.3 13.5-1.8 4.5-2.7 4.1-15.4 16.9-32.1 0-1.8-7.5-1.7-.9-3 .8-2.9 1.6-7.6 6 0-6-1.5-1.5-1.5 0-1.5-1.5-3 0 0-9-1.5-1.5 0-13.5 1.5-1.5 0-10.5-1.5-1.5 0-9 1.5-1.5 0-1.5 1.5 0 1.5-1.5 1.5 0 1.5-1.5 9 0 1.5 1.5 12 0 1.5-1.5 0-6-1.5-1.5 0-1.5-1.5-1.5 0-3-1.5-1.5-3 0-1.5-1.5-3 0-1.5-1.5 0-12-1.5-1.5-1.5 0 0-10.5-1.5-1.5-1.5 1.5-1.5 0-1.5 1.5-10.5 0-1.5-1.5 0-25.5 1.5-1.5 3 0 1.5-1.5 0-1.5 1.5-1.5 1.5 0 1.5-1.5 3 0 1.5-1.5-1.5-1.5-3 0 0-13.5 1.5-1.5 0-1.5 1.5 0 1.5-1.5 12 0 1.5-1.5 9 0 0 6 1.5 1.5 1.5 0 1.5 1.5 0 9-1.5 1.5 0 1.5 3 3 0 1.5 4.5 4.5 0 1.5 1.5 1.5 0 3 1.5 1.5 3 0 1.5 1.5 1.5 0 3-3 1.5 0 1.5-1.5 3 0 1.5-1.5 3 0 1.5-1.5-1.5-1.5 0-15-1.5-1.5-1.5 0-1.5-1.5-1.5 0-3-3 0-1.5-1.5-1.5 0-4.5-1.5-1.5 0-22.5 1.5 0 1.5-1.5 1.5 0 3-3 1.5 0 1.5-1.5 1.5 0 1.5-1.5 1.5 0 1.5-1.5 0-1.5 1.5 0 3-3 1.5 0 1.5-1.5 0-1.5 1.5-1.5 0-1.5 6-6 0-12 1.5-1.5 1.5 0 6-6 1.5 0 1.5-1.5 1.5 0 3-3 1.5 0 1.5-1.5 10.5 0 1.5-1.5 1.5 0 1.5-1.5 0-1.5 7.5 0 1.5-1.5 3 0 1.5-1.5 18 0 1.5 1.5 4.5 0 1.5 1.5 1.5 0 4.5 4.5 3 0 0 1.5 3 3zM63 236.4l-2 2.6-.8 3 .3 3 1.7 3 2.3 1.7 7.5 3.4 1.7 2.4 2.4 7.5 1.9 2.3 1.5 .6 3 .1 4.5-1.9 2.2-2.6 .9-3-.6-4.5-1.9-3-2.1-1.8-9-4.8-4.5-5.8-3-2.6-3-.7zM112.5 234.5l-7.5 0-1.5 1.5 0 6-1.5 1.5-1.5 0-1.5 1.5 1.5 1.5 3 0 0 12-1.5 1.5-9 0-1.5 1.5 0 1.5-3 3 1.5 1.5 1.5 0 1.5-1.5 12 0 1.5-1.5 9 0 1.5-1.5-1.5-1.5-1.5 0 0-9-1.5-1.5 0-10.5 1.5-1.5 0-3zM162 104l-1.5 1.5 0 1.5-3 3 1.5 1.5 1.5 0 1.5 1.5 1.5-1.5 0-6zM27 74l7.5 0 0 4.5 1.5 1.5 1.5 0 1.5 1.5 0 9-6 6-6 0z" fill="#f5e40a"/>
<path d="M214.5 50l0 1.5 1.5 1.5-3.9 9-3.6 6.6-4.5 5.1-9 6.2-3.3 4.6-1.8 7.5 .5 15-1.3 4.5-4.3 4.5-9.3 6-4 3.5-2-.5-1.5-1.5-1.5 0-1.5-1.5-1.5 1.5 0 3-1.5 1.5 0 1.5-1.5 0-4.5 4.5 0 1.5-1.5 1.5 0 5-7.5 6-3 3.7-1.5 2.8-1.4 6.5 .7 12-2.3 12 .7 3 3.4 6 .2 7.5 3.8 9-.4 4.5-2.1 4.5-4 4.5-13.4 7.5-4.8 4.5-2.1 6-.8 15-1.1 3-1.9 2.8-1.5-1.3-1.5 0 0-9-1.5-1.5 0-10.5 1.5-1.5 0-3-1.5-1.5-7.5 0-1.5 1.5 0 6-1.5 1.5-1.5 0-1.5 1.5 1.5 1.5 3 0 0 12-1.5 1.5-6.2 0-.2-4.5-1.1-4.5-1.5-3.2-2.1-2.8-3.9-3.2-8.5-4.3-3.5-4.8-3-2.8-3-1.6-4.5-1.1-3 .4-2 .9-2.5 2.2-1.5 2.3-1.1 3-1.1 7.5-2 7.5-1.8 3.3-4.5 5.9 0-10.7 1.5-1.5 0-10.5-1.5-1.5 0-9 1.5-1.5 0-1.5 1.5 0 1.5-1.5 1.5 0 1.5-1.5 9 0 1.5 1.5 12 0 1.5-1.5 0-6-1.5-1.5 0-1.5-1.5-1.5 0-3-1.5-1.5-3 0-1.5-1.5-3 0-1.5-1.5 0-12-1.5-1.5-1.5 0 0-10.5-1.5-1.5-1.5 1.5-1.5 0-1.5 1.5-10.5 0-1.5-1.5 0-25.5 1.5-1.5 3 0 1.5-1.5 0-1.5 1.5-1.5 1.5 0 1.5-1.5 3 0 1.5-1.5-1.5-1.5-3 0 0-13.5 1.5-1.5 0-1.5 1.5 0 1.5-1.5 12 0 1.5-1.5 9 0 0 6 1.5 1.5 1.5 0 1.5 1.5 0 9-1.5 1.5 0 1.5 3 3 0 1.5 4.5 4.5 0 1.5 1.5 1.5 0 3 1.5 1.5 3 0 1.5 1.5 1.5 0 3-3 1.5 0 1.5-1.5 3 0 1.5-1.5 3 0 1.5-1.5-1.5-1.5 0-15-1.5-1.5-1.5 0-1.5-1.5-1.5 0-3-3 0-1.5-1.5-1.5 0-4.5-1.5-1.5 0-22.5 1.5 0 1.5-1.5 1.5 0 3-3 1.5 0 1.5-1.5 1.5 0 1.5-1.5 1.5 0 1.5-1.5 0-1.5 1.5 0 3-3 1.5 0 1.5-1.5 0-1.5 1.5-1.5 0-1.5 6-6 0-12 1.5-1.5 1.5 0 6-6 1.5 0 1.5-1.5 1.5 0 3-3 1.5 0 1.5-1.5 10.5 0 1.5-1.5 1.5 0 1.5-1.5 0-1.5 7.5 0 1.5-1.5 3 0 1.5-1.5 18 0 1.5 1.5 4.5 0 1.5 1.5 1.5 0 4.5 4.5zM162 104l-1.5 1.5 0 1.5-3 3 1.5 1.5 1.5 0 1.5 1.5 1.5-1.5 0-6zM27 74l7.5 0 0 4.5 1.5 1.5 1.5 0 1.5 1.5 0 9-6 6-6 0zM166.7 131l-3.2 3.7 0-.7zM115.4 264.5l-5.9 5.1-9 6.5-6 1.7-3-.2-1.9-1.1-.3-1.5 5.2-9 10.5 0 1.5-1.5z" fill="#f5d714"/>
<path d="M204 44l1.5 1.5 1.5 0 2.5 2.5-2.7 6.5-2.8 4.3-3 3.4-3 2.5-9 5.7-1.6 2.1-1.9 4.5-1.5 7.5 .3 21-.7 3-1.5 3-2.7 3-11.3 9.1-1.6-.1-1.5-1.5-1.5 1.5 0 3-1.5 1.5 0 1.5-1.5 0-4.5 4.5 0 1.2-10.5 8.3-3 3.7-2.5 4.8-1.5 6 .5 15-1.2 12 .6 3 2.6 6 1 7.5 3 9-.1 3-1.9 4.5-3.5 3.9-4.5 2.8-11.9 5.3-3.1 2-2.3 2.5-1.3 3-.4 3 .5 15-.8 3-1.7 1.8 0-7.8-1.5-1.5 0-10.5 1.5-1.5 0-3-1.5-1.5-7.5 0-1.5 1.5 0 6-1.5 1.5-1.5 0-.9 .9-3.6-5.9-10.9-11.5-9.4-5.2 .8-.8 0-6-1.5-1.5 0-1.5-1.5-1.5 0-3-1.5-1.5-3 0-3-3.7-3 .7 0-12-1.5-1.5-1.5 0 0-10.5-1.5-1.5-1.5 1.5-1.5 0-1.5 1.5-10.5 0-1.5-1.5 0-25.5 1.5-1.5 3 0 1.5-1.5 0-1.5 1.5-1.5 1.5 0 1.5-1.5 3 0 1.5-1.5-1.5-1.5-3 0 0-13.5 1.5-1.5 0-1.5 1.5 0 1.5-1.5 12 0 1.5-1.5 9 0 0 6 1.5 1.5 1.5 0 1.5 1.5 0 9-1.5 1.5 0 1.5 3 3 0 1.5 4.5 4.5 0 1.5 1.5 1.5 0 3 1.5 1.5 3 0 1.5 1.5 1.5 0 3-3 1.5 0 1.5-1.5 3 0 1.5-1.5 3 0 1.5-1.5-1.5-1.5 0-15-1.5-1.5-1.5 0-1.5-1.5-1.5 0-3-3 0-1.5-1.5-1.5 0-4.5-1.5-1.5 0-22.5 1.5 0 1.5-1.5 1.5 0 3-3 1.5 0 1.5-1.5 1.5 0 1.5-1.5 1.5 0 1.5-1.5 0-1.5 1.5 0 3-3 1.5 0 1.5-1.5 0-1.5 1.5-1.5 0-1.5 6-6 0-12 1.5-1.5 1.5 0 6-6 1.5 0 1.5-1.5 1.5 0 3-3 1.5 0 1.5-1.5 10.5 0 1.5-1.5 1.5 0 1.5-1.5 0-1.5 7.5 0 1.5-1.5 3 0 1.5-1.5 18 0 1.5 1.5zM162 104l-1.5 1.5 0 1.5-3 3 1.5 1.5 1.5 0 1.5 1.5 1.5-1.5 0-6zM27 74l7.5 0 0 4.5 1.5 1.5 1.5 0 1.5 1.5 0 9-6 6-6 0zM100.1 246.1l3.4 .4 0 12-.5 .5z" fill="#f5cd14"/>
<path d="M201 44l-1.5 4.5-1.8 3-2.7 2.4-9 5.5-3 3.3-1.5 2.7-2.2 16.1 0 19.5-.8 4.5-1.5 3.6-3.2 3.9-15.8 15-15.5 11.8-3 4-3.1 6.7-1.1 6 1.1 18-.4 10.5 2.9 9 1.3 7.5 2.1 7.5 0 4.5-1.3 3-3 3.4-6 3.4-7.5 2.4-9 1.6-7.5 2.1-3 .1-3-.7-9-4.1-8.3-6.7-1-1.5-.1-1.5 1.4-3 3.5-5.1 3-2.6 7-4.3 2-2.1 1.2-2.4 .8-4.5-.8-12-1.2-2.4-1.5-.7-1.5 .1-1.5 .9-6.8 8.1-6.7 4-6 1.7-9 0-4.5 .8-1.5-2-1.5 0 0-10.5-1.5-1.5-1.5 1.5-1.5 0-1.5 1.5-10.5 0-1.5-1.5 0-25.5 1.5-1.5 3 0 1.5-1.5 0-1.5 1.5-1.5 1.5 0 1.5-1.5 3 0 1.5-1.5-1.5-1.5-3 0 0-13.5 1.5-1.5 0-1.5 1.5 0 1.5-1.5 12 0 1.5-1.5 9 0 0 6 1.5 1.5 1.5 0 1.5 1.5 0 9-1.5 1.5 0 1.5 3 3 0 1.5 4.5 4.5 0 1.5 1.5 1.5 0 3 1.5 1.5 3 0 1.5 1.5 1.5 0 3-3 1.5 0 1.5-1.5 3 0 1.5-1.5 3 0 1.5-1.5-1.5-1.5 0-15-1.5-1.5-1.5 0-1.5-1.5-1.5 0-3-3 0-1.5-1.5-1.5 0-4.5-1.5-1.5 0-22.5 1.5 0 1.5-1.5 1.5 0 3-3 1.5 0 1.5-1.5 1.5 0 1.5-1.5 1.5 0 1.5-1.5 0-1.5 1.5 0 3-3 1.5 0 1.5-1.5 0-1.5 1.5-1.5 0-1.5 6-6 0-12 1.5-1.5 1.5 0 6-6 1.5 0 1.5-1.5 1.5 0 3-3 1.5 0 1.5-1.5 10.5 0 1.5-1.5 1.5 0 1.5-1.5 0-1.5 7.5 0 1.5-1.5 3 0 1.5-1.5 18 0 1.5 1.5zM162 104l-1.5 1.5 0 1.5-3 3 1.5 1.5 1.5 0 1.5 1.5 1.5-1.5 0-6zM27 74l7.5 0 0 4.5 1.5 1.5 1.5 0 1.5 1.5 0 9-6 6-6 0z" fill="#f5c319"/>
<path d="M183.7 42.5l-3.7 7.5-3 11.2-2.1 35.3-1.6 7.5-2.3 4.5-7.8 9-8.7 8.1-6 4.1-8.7 4.3-3.3 2.4-2.4 3.6-2.1 6-3 3-1.5 .7-1.5-.2-4.5-2.6-3-1.1-2.2 .2-1.4 1.5-.2 1.5 .6 1.5 1.7 1.5 4.5 1.8 6 1.1 3 3.5 1.2 2.6 .5 7.5 1.7 7.5 0 9 3.1 9 3.1 15-.4 4.5-3.2 4.5-3 2-4.5 1.7-4.5 .9-4.5 .1-9.8-1.7-12.7-3.3-3-1.5-.7-1.2 .4-1.5 1.6-1.5 2.8-1.5 4.9-1.4 3-2.8 3.7-10.8-.1-3-3.2-9-1.9-9-1.5-3.2-3-2.5-3-.1-3 1.5-3 3.2-4.5 6.6-3 2.6-4.5 2.1-4.5 1.1-15 1.2 0-8-1.5-1.5-1.5 1.5-1.5 0-1.5 1.5-10.5 0-1.5-1.5 0-25.5 1.5-1.5 3 0 1.5-1.5 0-1.5 1.5-1.5 1.5 0 1.5-1.5 3 0 1.5-1.5-1.5-1.5-3 0 0-13.5 1.5-1.5 0-1.5 1.5 0 1.5-1.5 12 0 1.5-1.5 9 0 0 6 1.5 1.5 1.5 0 1.5 1.5 0 9-1.5 1.5 0 1.5 3 3 0 1.5 4.5 4.5 0 1.5 1.5 1.5 0 3 1.5 1.5 3 0 1.5 1.5 1.5 0 3-3 1.5 0 1.5-1.5 3 0 1.5-1.5 3 0 1.5-1.5-1.5-1.5 0-15-1.5-1.5-1.5 0-1.5-1.5-1.5 0-3-3 0-1.5-1.5-1.5 0-4.5-1.5-1.5 0-22.5 1.5 0 1.5-1.5 1.5 0 3-3 1.5 0 1.5-1.5 1.5 0 1.5-1.5 1.5 0 1.5-1.5 0-1.5 1.5 0 3-3 1.5 0 1.5-1.5 0-1.5 1.5-1.5 0-1.5 6-6 0-12 1.5-1.5 1.5 0 6-6 1.5 0 1.5-1.5 1.5 0 3-3 1.5 0 1.5-1.5 10.5 0 1.5-1.5 1.5 0 1.5-1.5 0-1.5 7.5 0 1.5-1.5 3 0 1.5-1.5zM162 104l-1.5 1.5 0 1.5-3 3 1.5 1.5 1.5 0 1.5 1.5 1.5-1.5 0-6zM27 74l7.5 0 0 4.5 1.5 1.5 1.5 0 1.5 1.5 0 9-6 6-6 0z" fill="#f5b91e"/>
<path d="M168.1 45.5l2.3 6 1.5 7.5 .8 12-.2 10.5-.7 7.5-1.6 7.5-2.1 6-4.6 7.7 0-4.7-1.5-1.5-1.5 1.5 0 1.5-3 3 1.5 1.5 1.5 0 1.1 1.1-7.1 7.6-7.5 5-6 2-9 1.4-2 .9-7.6 6-9.9 3.2-1.5-1.7-1.5 0-1.5-1.5-1.5 0-3-3 0-1.5-1.5-1.5 0-4.5-1.5-1.5 0-19.7 6 .8 3-.5 3-1.4 4.5-3.8 6.5-8.4 9.1-7.5 3.2-6 6.5-21 1.7-1.5 1.5 0 3-3 1.5 0 1.5-1.5 10.5 0 1.5-1.5 1.5 0 1.5-1.5 0-1.5zM27 74l7.5 0 0 4.5 1.5 1.5 1.5 0 1.5 1.5 0 9-6 6-6 0zM79.5 123.5l0 6 1.5 1.5 1.5 0 1.5 1.5 0 9-1.5 1.5 0 1.5 3 3 0 1.5 4.5 4.5 0 1.5 1.5 1.5 0 3 1.5 1.5 .6 0-4.5 6-4.9 9-1.7 1.9-3 1.8-9 2.6-10.5-.3 0-3-1.5-1.5-1.5 1.5-1.5 0-1.5 1.5-10.5 0-1.5-1.5 0-25.5 1.5-1.5 3 0 1.5-1.5 0-1.5 1.5-1.5 1.5 0 1.5-1.5 3 0 1.5-1.5-1.5-1.5-3 0 0-13.5 1.5-1.5 0-1.5 1.5 0 1.5-1.5 12 0 1.5-1.5zM114 165l3-.4 4.5 1.9 7.5 6.8 2.1 4.2 .5 9 3.4 7.8 2.5 11.7 .3 4.5-.9 3-1.9 2.5-3 2-3 1-6 .6-6-1.6-4.1-3-1.3-3-.1-3 .8-4.5 4.8-10.5-.7-3-5.3-7.5-1.5-4.5-.1-5 1.2-5.5 1.8-2.7z" fill="#f5af1e"/>
<path d="M163.5 56.9l3 3.6 1.7 4.5 .9 10.5-.3 9-1.6 6-2.2 5.5-6 11-4.5 6.6-4.5 4.4-4.5 2.5-6 1.5-13.5 1.5-3.5 1.5-5.5 4.4-1.5 .7-7.5 .2-4.5 1.2-1.5-2 0-4.5-1.5-1.5 0-5.4 3 .7 4.5-.2 4.5-1.6 3-2.4 7.8-15.1 2.7-4.2 3-3 6.3-4.8 2.8-3 6.9-13.5 7.1-12 2.4-2.4 3-1.3 3 .1zM27 74l7.5 0 0 4.5 1.5 1.5 1.5 0 1.5 1.5 0 9-6 6-6 0zM79.5 123.5l0 6 1.5 1.5 1.5 0 1.5 1.5 0 9-1.5 1.5 0 1.5 3 3 0 1.5 3.5 3.5-8.7 17.5-2 3-4.8 3.4-3 1.1-3 .4-6-1.4-13.5-5.2-6-1.1 0-16.7 1.5-1.5 3 0 1.5-1.5 0-1.5 1.5-1.5 1.5 0 1.5-1.5 3 0 1.5-1.5-1.5-1.5-3 0 0-13.5 1.5-1.5 0-1.5 1.5 0 1.5-1.5 12 0 1.5-1.5zM115.5 178l4.5-.8 3 .9 1.5 1.2 1.3 4.2-.2 3-.9 1.5-1.7-.6-7.3-6.9-1-1.5zM130.5 193.4l1.5 .7 3 10.4 .6 4.5-.6 2.7-2.9 3.3-3.1 1.3-4.5 .3-3-.7-3.7-2.4-1.7-3-.3-3 1-4.5 3.2-4.6 3-2.6 1.5-.8 4.5-.3z" fill="#f5a519"/>
<path d="M162 66.7l1.5 2.8 1.6 10.5-.2 3-2.9 6.1-9.1 10.4-2.9 8.7-1.5 2.8-3 2.8-6 2.1-6 .2-4.3-1.6-1.9-3-.3-3 1.2-6 2.2-4.5 1.6-1.6 8.3-4.4 2.2-1.8 1.7-2.7 4.3-9.9 6-8.3 3-2.5 1.5-.6 1.5-.1zM27 74l7.5 0 0 4.5 1.5 1.5 1.5 0 1.5 1.5 0 9-6 6-6 0zM79.5 123.5l0 6 1.5 1.5 1.5 0 1.5 1.5 0 6.9-2.6 8.1-3.4 7.3-4.5 7.2-3 3.2-3 1.3-3-.3-12-6.6-4.5-1.5-6-1.1 0-3.5 1.5-1.5 3 0 1.5-1.5 0-1.5 1.5-1.5 1.5 0 1.5-1.5 3 0 1.5-1.5-1.5-1.5-3 0 0-13.5 1.5-1.5 0-1.5 1.5 0 1.5-1.5 12 0 1.5-1.5zM121.5 202.4l1.5-1.3 3-.9 3 .4 1.5 1 1.5 2.3 .9 3.6-.9 3.7-1.5 1.3-3 .9-3-.3-2.2-1.1-1.5-1.5-1.1-3 .5-3z" fill="#f59b19"/>
<path d="M27 81.2l7.4 13.9-1.4 1.4-6 0zM54 126.5l1.5 0 1.5-1.5 6.6 0 4.1 4.5 2 4.5 .6 4.5-.7 4.5-2.1 3.4-3 1.1-3-.2-5.4-1.9 .9-.9-1.5-1.5-3 0 0-13.5 1.5-1.5zM126 205.5l1.7 .5-.2 1.6-1.6-.1-.3-1.5z" fill="#f58c19"/>
<path d="M151.6 66l21.7 0 1.7 18.2-4.1 6-2.5 10.8-4.8 12.1-2.4 6-.3 7.3-10.6 6.3-16.8 0-16.9-6.3-8.6-6.3 2-10.1 5.4-2.9 7.3-6.1 12-6 2.4-4.8 4.8-6 2.4-6.1zM62 128l20 0 10 32 0 18-17 0-7-18-6-15zM190 242l40-4 6-13 0-15 24 0 0 72-70 0z" fill="url(#dt)"/>
</g>
<path d="M205.7 120l5-1.1 2.3-2.8-1.5-2.9-2-2-1.9-1.8-2.7-.9-2.1 3-.4 2.3 1.3 3.6z" fill="#fff"/>
<rect x="92.6" y="79.2" width="2.3" height="3.3" rx=".6" fill="#ede020"/>
<g opacity=".12"><path d="M39.6 41.7V282.4M85.9 41.7V282.4M132.3 41.7V282.4M178.6 41.7V282.4M225.0 41.7V282.4M27.7 93.6H259.9M27.7 145.8H259.9M27.7 197.9H259.9M27.7 250.1H259.9" stroke="#e4e4e4" stroke-width="1.5" fill="none"/></g>
<use href="#coast"/><use href="#bord"/><use href="#rug"/>
</g>
<rect x="29.05" y="43.05" width="229.50" height="238.00" fill="none" stroke="#fff" stroke-width="2.7"/>
<path d="M33.8 41.7h5.9v2.7h-5.9zM62.7 41.7h23.3v2.7h-23.3zM109.2 41.7h23.4v2.7h-23.4zM155.3 41.7h23.4v2.7h-23.4zM201.7 41.7h23.5v2.7h-23.5zM242.3 41.7h17.6v2.7h-17.6zM27.7 279.7h6.6v2.7h-6.6zM39.5 279.7h23.5v2.7h-23.5zM86.0 279.7h23.0v2.7h-23.0zM132.6 279.7h23.2v2.7h-23.2zM179.0 279.7h22.8v2.7h-22.8zM225.0 279.7h17.5v2.7h-17.5zM27.7 67.5h2.7v26.2h-2.7zM27.7 120.0h2.7v25.8h-2.7zM27.7 172.0h2.7v26.4h-2.7zM27.7 224.7h2.7v25.3h-2.7zM27.7 265.6h2.7v16.8h-2.7zM257.2 41.7h2.7v25.8h-2.7zM257.2 93.7h2.7v26.3h-2.7zM257.2 145.8h2.7v26.2h-2.7zM257.2 198.4h2.7v26.3h-2.7zM257.2 250.0h2.7v15.6h-2.7z" fill="#000"/>
<rect x="28.00" y="42.00" width="231.60" height="240.10" fill="none" stroke="#000" stroke-width=".6"/>
<rect x="30.40" y="44.40" width="226.80" height="235.30" fill="none" stroke="#000" stroke-width=".5" stroke-opacity=".6"/>
<g font-family="Liberation Sans, sans-serif" font-size="10.4" fill="#000">
<text transform="translate(24.8 46.4) scale(0.923 1)" text-anchor="end">72<tspan font-size="7.4" dy="-5">o</tspan><tspan dy="5">N</tspan></text>
<text transform="translate(24.8 98.6) scale(0.923 1)" text-anchor="end">64<tspan font-size="7.4" dy="-5">o</tspan><tspan dy="5">N</tspan></text>
<text transform="translate(24.8 150.8) scale(0.923 1)" text-anchor="end">56<tspan font-size="7.4" dy="-5">o</tspan><tspan dy="5">N</tspan></text>
<text transform="translate(24.8 202.9) scale(0.923 1)" text-anchor="end">48<tspan font-size="7.4" dy="-5">o</tspan><tspan dy="5">N</tspan></text>
<text transform="translate(24.8 255.1) scale(0.923 1)" text-anchor="end">40<tspan font-size="7.4" dy="-5">o</tspan><tspan dy="5">N</tspan></text>
<text transform="translate(40.9 293.7) scale(0.923 1)" text-anchor="middle">12<tspan font-size="7.4" dy="-5">o</tspan><tspan dy="5">W</tspan></text>
<text transform="translate(87.2 293.7) scale(0.923 1)" text-anchor="middle">0<tspan font-size="7.4" dy="-5">o</tspan></text>
<text transform="translate(133.6 293.7) scale(0.923 1)" text-anchor="middle">12<tspan font-size="7.4" dy="-5">o</tspan><tspan dy="5">E</tspan></text>
<text transform="translate(179.9 293.7) scale(0.923 1)" text-anchor="middle">24<tspan font-size="7.4" dy="-5">o</tspan><tspan dy="5">E</tspan></text>
<text transform="translate(226.3 293.7) scale(0.923 1)" text-anchor="middle">36<tspan font-size="7.4" dy="-5">o</tspan><tspan dy="5">E</tspan></text>
<rect x="271.3" y="41.3" width="17.0" height="241.1" fill="#000"/>
<rect x="272.6" y="42.20" width="14.4" height="4.58" rx=".8" fill="#eb0096"/>
<rect x="272.6" y="48.38" width="14.4" height="4.58" rx=".8" fill="#f00a87"/>
<rect x="272.6" y="54.56" width="14.4" height="4.58" rx=".8" fill="#f01473"/>
<rect x="272.6" y="60.75" width="14.4" height="4.58" rx=".8" fill="#f0235f"/>
<rect x="272.6" y="66.93" width="14.4" height="4.58" rx=".8" fill="#f02d4b"/>
<rect x="272.6" y="73.11" width="14.4" height="4.58" rx=".8" fill="#f53c3c"/>
<rect x="272.6" y="79.29" width="14.4" height="4.58" rx=".8" fill="#f5552d"/>
<rect x="272.6" y="85.47" width="14.4" height="4.58" rx=".8" fill="#f56923"/>
<rect x="272.6" y="91.66" width="14.4" height="4.58" rx=".8" fill="#f57d1e"/>
<rect x="272.6" y="97.84" width="14.4" height="4.58" rx=".8" fill="#f58c19"/>
<rect x="272.6" y="104.02" width="14.4" height="4.58" rx=".8" fill="#f59b19"/>
<rect x="272.6" y="110.20" width="14.4" height="4.58" rx=".8" fill="#f5a519"/>
<rect x="272.6" y="116.38" width="14.4" height="4.58" rx=".8" fill="#f5af1e"/>
<rect x="272.6" y="122.57" width="14.4" height="4.58" rx=".8" fill="#f5b91e"/>
<rect x="272.6" y="128.75" width="14.4" height="4.58" rx=".8" fill="#f5c319"/>
<rect x="272.6" y="134.93" width="14.4" height="4.58" rx=".8" fill="#f5cd14"/>
<rect x="272.6" y="141.11" width="14.4" height="4.58" rx=".8" fill="#f5d714"/>
<rect x="272.6" y="147.29" width="14.4" height="4.58" rx=".8" fill="#f5e40a"/>
<rect x="272.6" y="153.48" width="14.4" height="4.58" rx=".8" fill="#f0e464"/>
<rect x="272.6" y="159.66" width="14.4" height="4.58" rx=".8" fill="#f7eea5"/>
<rect x="272.6" y="165.84" width="14.4" height="4.58" rx=".8" fill="#faf5d2"/>
<rect x="272.6" y="172.02" width="14.4" height="4.58" rx=".8" fill="#ffffff"/>
<rect x="272.6" y="178.21" width="14.4" height="4.58" rx=".8" fill="#8ce8af"/>
<rect x="272.6" y="184.39" width="14.4" height="4.58" rx=".8" fill="#00e150"/>
<rect x="272.6" y="190.57" width="14.4" height="4.58" rx=".8" fill="#00e80a"/>
<rect x="272.6" y="196.75" width="14.4" height="4.58" rx=".8" fill="#00e128"/>
<rect x="272.6" y="202.93" width="14.4" height="4.58" rx=".8" fill="#00d46e"/>
<rect x="272.6" y="209.12" width="14.4" height="4.58" rx=".8" fill="#00d0a0"/>
<rect x="272.6" y="215.30" width="14.4" height="4.58" rx=".8" fill="#14c6c8"/>
<rect x="272.6" y="221.48" width="14.4" height="4.58" rx=".8" fill="#14b7e8"/>
<rect x="272.6" y="227.66" width="14.4" height="4.58" rx=".8" fill="#0aa5f8"/>
<rect x="272.6" y="233.84" width="14.4" height="4.58" rx=".8" fill="#0a8efa"/>
<rect x="272.6" y="240.03" width="14.4" height="4.58" rx=".8" fill="#0a76fa"/>
<rect x="272.6" y="246.21" width="14.4" height="4.58" rx=".8" fill="#0a5cfa"/>
<rect x="272.6" y="252.39" width="14.4" height="4.58" rx=".8" fill="#003efa"/>
<rect x="272.6" y="258.57" width="14.4" height="4.58" rx=".8" fill="#4b2df0"/>
<rect x="272.6" y="264.75" width="14.4" height="4.58" rx=".8" fill="#6e1ef0"/>
<rect x="272.6" y="270.94" width="14.4" height="4.58" rx=".8" fill="#960ae6"/>
<rect x="272.6" y="277.12" width="14.4" height="4.58" rx=".8" fill="#c800dc"/>
<text transform="translate(295.4 57.6) scale(0.923 1)" text-anchor="start">0.5</text>
<text transform="translate(295.4 82.3) scale(0.923 1)" text-anchor="start">0.4</text>
<text transform="translate(295.4 107.0) scale(0.923 1)" text-anchor="start">0.3</text>
<text transform="translate(295.4 131.7) scale(0.923 1)" text-anchor="start">0.2</text>
<text transform="translate(295.4 156.4) scale(0.923 1)" text-anchor="start">0.1</text>
<text transform="translate(295.4 181.1) scale(0.923 1)" text-anchor="start">0</text>
<text transform="translate(290.4 205.8) scale(0.923 1)" text-anchor="start">-0.1</text>
<text transform="translate(290.4 230.5) scale(0.923 1)" text-anchor="start">-0.2</text>
<text transform="translate(290.4 255.2) scale(0.923 1)" text-anchor="start">-0.3</text>
<text transform="translate(290.4 279.9) scale(0.923 1)" text-anchor="start">-0.4</text>
<text transform="translate(323.3,159) rotate(-90)" font-size="12.1" font-weight="bold" text-anchor="middle" fill="#111">correlation coefficient</text>
</g>
<g font-family="Liberation Sans, sans-serif" font-size="14.4" font-weight="bold" text-anchor="middle" fill="#000" stroke="#000" stroke-width=".25"><text x="143.8" y="17.6">Correlation Map</text><text x="143.8" y="34">EAWR Index JFM vs. TT FMA</text></g>
<text x="198.7" y="323.5" font-family="Liberation Serif, serif" font-size="24" font-weight="bold" text-anchor="middle" fill="#111"><tspan font-weight="normal" font-size="25.5" stroke="#111" stroke-width=".45">(</tspan>b<tspan font-weight="normal" font-size="25.5" stroke="#111" stroke-width=".45">)</tspan></text>
</g>
<g transform="translate(695.4 0)">
<path d="M39.6 41.7V282.4M85.9 41.7V282.4M132.3 41.7V282.4M178.6 41.7V282.4M225.0 41.7V282.4M27.7 93.6H259.9M27.7 145.8H259.9M27.7 197.9H259.9M27.7 250.1H259.9" stroke="#e4e4e4" stroke-width="1.5" fill="none"/>
<g clip-path="url(#fr)">
<g clip-path="url(#ld)">
<use href="#land" fill="#0a5cfa"/>
<path d="M261 59l0 223.5-42 0-1.5-1.5-9 0-1.5-1.5-12 0-3-3-4.5 0 0-7.5-1.5-1.5-1.5 1.5 0 3-4.5 4.5 0 1.5-1.5 1.5-9 0-1.5-1.5 0-1.5-1.5-1.5-1.5 0 0-3-1.5-1.5 0-6-1.5-1.5 0-1.5-3-3-1.5 0-1.5 1.5 0 1.5-3 3 0 3-1.5 0-1.5 1.5 0 4.5-1.5 1.5 0 1.5-9 0-3-3-1.5 0-1.5 1.5 0 7.5-79.5 0 0-6-1.5-1.5-1.5 0-1.5-1.5-3 0 0-9-1.5-1.5 0-13.5 1.5-1.5 0-10.5-1.5-1.5 0-9 1.5-1.5 0-1.5 1.5 0 1.5-1.5 1.5 0 1.5-1.5 9 0 1.5 1.5 12 0 1.5-1.5 0-6-1.5-1.5 0-1.5-1.5-1.5 0-3-1.5-1.5-3 0-1.5-1.5-3 0-1.5-1.5 0-12-1.5-1.5-1.5 0 0-10.5-1.5-1.5-1.5 1.5-1.5 0-1.5 1.5-10.5 0-1.5-1.5 0-25.5 1.5-1.5 3 0 1.5-1.5 0-1.5 1.5-1.5 1.5 0 1.5-1.5 3 0 1.5-1.5-1.5-1.5-3 0 0-13.5 1.5-1.5 0-1.5 1.5 0 1.5-1.5 12 0 1.5-1.5 9 0 0 6 1.5 1.5 1.5 0 1.5 1.5 0 9-1.5 1.5 0 1.5 3 3 0 1.5 4.5 4.5 0 1.5 1.5 1.5 0 3 1.5 1.5 3 0 1.5 1.5 1.5 0 3-3 1.5 0 1.5-1.5 3 0 1.5-1.5 3 0 1.5-1.5-1.5-1.5 0-15-1.5-1.5-1.5 0-1.5-1.5-1.5 0-3-3 0-1.5-1.5-1.5 0-4.5-1.5-1.5 0-22.5 1.5 0 1.5-1.5 1.5 0 3-3 1.5 0 1.5-1.5 1.5 0 1.5-1.5 1.5 0 1.5-1.5 0-1.5 1.5 0 3-3 1.5 0 1.5-1.5 0-1.5 1.5-1.5 0-1.5 6-6 0-12 1.5-1.5 1.5 0 6-6 1.5 0 1.5-1.5 1.5 0 3-3 1.5 0 1.5-1.5 10.5 0 1.5-1.5 1.5 0 1.5-1.5 0-1.5 7.5 0 1.5-1.5 3 0 1.5-1.5 18 0 1.5 1.5 4.5 0 1.5 1.5 1.5 0 4.5 4.5 3 0 0 1.5 3 3 7.5 0 1.5 1.5 4.5 0 1.5 1.5 1.5 0 1.5 1.5 1.5 0 1.5 1.5 3 0 1.5 1.5 1.5 0 3 3 1.5-1.5 0-4.5zM198 234.5l1.5 1.5 3 0 1.5-1.5 1.5 0 3-3 18 0 1.5 1.5 1.5 0 0 1.5 1.5 1.5 1.5 0 1.5 1.5 1.5 0 1.5 1.5 1.5 0 1.5-1.5 0-1.5-1.5-1.5-1.5 0-1.5-1.5 0-1.5-4.5-4.5-1.5 0-1.5-1.5 0-1.5-1.5-1.5-1.5 0-3 3-10.5 0 0-3-3-3-1.5 0-1.5 1.5 0 1.5-1.5 1.5-1.5 0-1.5 1.5 0 7.5-1.5 0zM243 253.4l-1.8 2.1 .3 2.4 1.5 1.6 1.5 .5 1.5-.3 1.7-1.2 .5-1.5-.4-1.5-1.8-1.7zM112.5 234.5l-7.5 0-1.5 1.5 0 6-1.5 1.5-1.5 0-1.5 1.5 1.5 1.5 3 0 0 12-1.5 1.5-9 0-1.5 1.5 0 1.5-3 3 1.5 1.5 1.5 0 1.5-1.5 12 0 1.5-1.5 9 0 1.5-1.5-1.5-1.5-1.5 0 0-9-1.5-1.5 0-10.5 1.5-1.5 0-3zM127.5 260l-1.5 1.5 1.5 1.5 1.5-1.5zM130.5 245l-1.5 1.5 0 4.5-1.5 1.5 0 6 1.5 1.5 1.5-1.5 0-1.5 10.5 0 1.5-1.5-4.5-4.5-1.5 0 0-1.5-3-3-1.5 0zM162 104l-1.5 1.5 0 1.5-3 3 1.5 1.5 1.5 0 1.5 1.5 1.5-1.5 0-6zM171 125l-1.5 0-1.5-1.5-1.5 0-1.5-1.5-1.5 1.5 0 3-1.5 1.5 0 1.5-1.5 0-4.5 4.5 0 1.5-1.5 1.5 0 9-1.5 1.5 1.5 1.5 3 0 1.5-1.5 1.5 0 1.5-1.5 0-9 1.5-1.5 0-1.5 3-3 1.5 0 1.5-1.5 1.5 0 1.5-1.5 0-1.5zM27 74l7.5 0 0 4.5 1.5 1.5 1.5 0 1.5 1.5 0 9-6 6-6 0z" fill="#0a76fa"/>
<path d="M261 59l0 223.5-42 0-1.5-1.5-9 0-1.5-1.5-12 0-3-3-4.5 0 0-7.5-1.5-1.5-1.5 1.5 0 3-4.5 4.5 0 1.5-1.5 1.5-9 0-1.5-1.5 0-1.5-1.5-1.5-1.5 0 0-3-1.5-1.5 0-6-1.5-1.5 0-1.5-3-3-1.5 0-1.5 1.5 0 1.5-3 3 0 3-1.5 0-1.5 1.5 0 4.5-1.5 1.5 0 1.5-9 0-3-3-1.5 0-1.5 1.5 0 7.5-79.5 0 0-6-1.5-1.5-1.5 0-1.5-1.5-3 0 0-9-1.5-1.5 0-13.5 1.5-1.5 0-10.5-1.5-1.5 0-9 1.5-1.5 0-1.5 1.5 0 1.5-1.5 1.5 0 1.5-1.5 9 0 1.5 1.5 12 0 1.5-1.5 0-6-1.5-1.5 0-1.5-1.5-1.5 0-3-1.5-1.5-3 0-1.5-1.5-3 0-1.5-1.5 0-12-1.5-1.5-1.5 0 0-10.5-1.5-1.5-1.5 1.5-1.5 0-1.5 1.5-10.5 0-1.5-1.5 0-25.5 1.5-1.5 3 0 1.5-1.5 0-1.5 1.5-1.5 1.5 0 1.5-1.5 3 0 1.5-1.5-1.5-1.5-3 0 0-13.5 1.5-1.5 0-1.5 1.5 0 1.5-1.5 12 0 1.5-1.5 9 0 0 6 1.5 1.5 1.5 0 1.5 1.5 0 9-1.5 1.5 0 1.5 3 3 0 1.5 4.5 4.5 0 1.5 1.5 1.5 0 3 1.5 1.5 3 0 1.5 1.5 1.5 0 3-3 1.5 0 1.5-1.5 3 0 1.5-1.5 3 0 1.5-1.5-1.5-1.5 0-15-1.5-1.5-1.5 0-1.5-1.5-1.5 0-3-3 0-1.5-1.5-1.5 0-4.5-1.5-1.5 0-22.5 1.5 0 1.5-1.5 1.5 0 3-3 1.5 0 1.5-1.5 1.5 0 1.5-1.5 1.5 0 1.5-1.5 0-1.5 1.5 0 3-3 1.5 0 1.5-1.5 0-1.5 1.5-1.5 0-1.5 6-6 0-12 1.5-1.5 1.5 0 6-6 1.5 0 1.5-1.5 1.5 0 3-3 1.5 0 1.5-1.5 10.5 0 1.5-1.5 1.5 0 1.5-1.5 0-1.5 7.5 0 1.5-1.5 3 0 1.5-1.5 18 0 1.5 1.5 4.5 0 1.5 1.5 1.5 0 4.5 4.5 3 0 0 1.5 3 3 7.5 0 1.5 1.5 4.5 0 1.5 1.5 1.5 0 1.5 1.5 1.5 0 1.5 1.5 3 0 1.5 1.5 1.5 0 3 3 1.5-1.5 0-4.5zM198 234.5l1.5 1.5 3 0 1.5-1.5 1.5 0 3-3 18 0 1.5 1.5 1.5 0 0 1.5 1.5 1.5 1.5 0 1.5 1.5 1.5 0 1.5 1.5 1.5 0 1.5-1.5 0-1.5-1.5-1.5-1.5 0-1.5-1.5 0-1.5-4.5-4.5-1.5 0-1.5-1.5 0-1.5-1.5-1.5-1.5 0-3 3-10.5 0 0-3-3-3-1.5 0-1.5 1.5 0 1.5-1.5 1.5-1.5 0-1.5 1.5 0 7.5-1.5 0zM112.5 234.5l-7.5 0-1.5 1.5 0 6-1.5 1.5-1.5 0-1.5 1.5 1.5 1.5 3 0 0 12-1.5 1.5-9 0-1.5 1.5 0 1.5-3 3 1.5 1.5 1.5 0 1.5-1.5 12 0 1.5-1.5 9 0 1.5-1.5-1.5-1.5-1.5 0 0-9-1.5-1.5 0-10.5 1.5-1.5 0-3zM127.5 260l-1.5 1.5 1.5 1.5 1.5-1.5zM130.5 245l-1.5 1.5 0 4.5-1.5 1.5 0 6 1.5 1.5 1.5-1.5 0-1.5 10.5 0 1.5-1.5-4.5-4.5-1.5 0 0-1.5-3-3-1.5 0zM162 104l-1.5 1.5 0 1.5-3 3 1.5 1.5 1.5 0 1.5 1.5 1.5-1.5 0-6zM171 125l-1.5 0-1.5-1.5-1.5 0-1.5-1.5-1.5 1.5 0 3-1.5 1.5 0 1.5-1.5 0-4.5 4.5 0 1.5-1.5 1.5 0 9-1.5 1.5 1.5 1.5 3 0 1.5-1.5 1.5 0 1.5-1.5 0-9 1.5-1.5 0-1.5 3-3 1.5 0 1.5-1.5 1.5 0 1.5-1.5 0-1.5zM237 245.9l-1.6 3.6-.3 6 1.3 4.5 2.3 3 2.8 1.6 4.5 .5 3-.7 3-1.4 3-2.8 .9-1.7-.4-3-2-3-3-2.8-4.5-3.2-4.5-1.9-3 .1zM27 74l7.5 0 0 4.5 1.5 1.5 1.5 0 1.5 1.5 0 9-6 6-6 0z" fill="#0a8efa"/>
<path d="M261 59l0 195.5-2.2-3.5-6.8-6-2.5-3-2.2-4.5-1.3-6.2-1.5-2.2-1.5-.2-1.5 .5-6 3.6 0-1.5-4.5-4.5-1.5 0-1.5-1.5 0-1.5-1.5-1.5-1.5 0-3 3-10.5 0 0-3-3-3-1.5 0-1.5 1.5 0 1.5-1.5 1.5-1.5 0-1.5 1.5 0 7.5-1.5 0-1.5 1.5 1.5 1.5 3 0 1.5-1.5 1.5 0 3-3 18 0 1.5 1.5 1.5 0 0 1.5 1.5 1.5 .9 0-2.4 4.2-.1 3.3 1.9 13.5 2.7 7.1 1.5 1.9 3 2.3 3 .9 4.5 .1 4.5-1.1 4.8-2.2 3.9-3 1.8-2.8 0 22.3-42 0-1.5-1.5-9 0-1.5-1.5-12 0-3-3-4.5 0 0-7.5-1.5-1.5-1.5 1.5 0 3-4.5 4.5 0 1.5-1.5 1.5-9 0-1.5-1.5 0-1.5-1.5-1.5-1.5 0 0-3-1.5-1.5 0-6-1.5-1.5 0-1.5-3-3-1.5 0-1.5 1.5 0 1.5-3 3 0 3-1.5 0-1.5 1.5 0 4.5-1.5 1.5 0 1.5-9 0-3-3-1.5 0-1.5 1.5 0 7.5-79.5 0 0-6-1.5-1.5-1.5 0-1.5-1.5-3 0 0-9-1.5-1.5 0-13.5 1.5-1.5 0-10.5-1.5-1.5 0-9 1.5-1.5 0-1.5 1.5 0 1.5-1.5 1.5 0 1.5-1.5 9 0 1.5 1.5 12 0 1.5-1.5 0-6-1.5-1.5 0-1.5-1.5-1.5 0-3-1.5-1.5-3 0-1.5-1.5-3 0-1.5-1.5 0-12-1.5-1.5-1.5 0 0-10.5-1.5-1.5-1.5 1.5-1.5 0-1.5 1.5-10.5 0-1.5-1.5 0-25.5 1.5-1.5 3 0 1.5-1.5 0-1.5 1.5-1.5 1.5 0 1.5-1.5 3 0 1.5-1.5-1.5-1.5-3 0 0-13.5 1.5-1.5 0-1.5 1.5 0 1.5-1.5 12 0 1.5-1.5 9 0 0 6 1.5 1.5 1.5 0 1.5 1.5 0 9-1.5 1.5 0 1.5 3 3 0 1.5 4.5 4.5 0 1.5 1.5 1.5 0 3 1.5 1.5 3 0 1.5 1.5 1.5 0 3-3 1.5 0 1.5-1.5 3 0 1.5-1.5 3 0 1.5-1.5-1.5-1.5 0-15-1.5-1.5-1.5 0-1.5-1.5-1.5 0-3-3 0-1.5-1.5-1.5 0-4.5-1.5-1.5 0-22.5 1.5 0 1.5-1.5 1.5 0 3-3 1.5 0 1.5-1.5 1.5 0 1.5-1.5 1.5 0 1.5-1.5 0-1.5 1.5 0 3-3 1.5 0 1.5-1.5 0-1.5 1.5-1.5 0-1.5 6-6 0-12 1.5-1.5 1.5 0 6-6 1.5 0 1.5-1.5 1.5 0 3-3 1.5 0 1.5-1.5 10.5 0 1.5-1.5 1.5 0 1.5-1.5 0-1.5 7.5 0 1.5-1.5 3 0 1.5-1.5 18 0 1.5 1.5 4.5 0 1.5 1.5 1.5 0 4.5 4.5 3 0 0 1.5 3 3 7.5 0 1.5 1.5 4.5 0 1.5 1.5 1.5 0 1.5 1.5 1.5 0 1.5 1.5 3 0 1.5 1.5 1.5 0 3 3 1.5-1.5 0-4.5zM112.5 234.5l-7.5 0-1.5 1.5 0 6-1.5 1.5-1.5 0-1.5 1.5 1.5 1.5 3 0 0 12-1.5 1.5-9 0-1.5 1.5 0 1.5-3 3 1.5 1.5 1.5 0 1.5-1.5 12 0 1.5-1.5 9 0 1.5-1.5-1.5-1.5-1.5 0 0-9-1.5-1.5 0-10.5 1.5-1.5 0-3zM127.5 260l-1.5 1.5 1.5 1.5 1.5-1.5zM130.5 245l-1.5 1.5 0 4.5-1.5 1.5 0 6 1.5 1.5 1.5-1.5 0-1.5 10.5 0 1.5-1.5-4.5-4.5-1.5 0 0-1.5-3-3-1.5 0zM162 104l-1.5 1.5 0 1.5-3 3 1.5 1.5 1.5 0 1.5 1.5 1.5-1.5 0-6zM171 125l-1.5 0-1.5-1.5-1.5 0-1.5-1.5-1.5 1.5 0 3-1.5 1.5 0 1.5-1.5 0-4.5 4.5 0 1.5-1.5 1.5 0 9-1.5 1.5 1.5 1.5 3 0 1.5-1.5 1.5 0 1.5-1.5 0-9 1.5-1.5 0-1.5 3-3 1.5 0 1.5-1.5 1.5 0 1.5-1.5 0-1.5zM27 74l7.5 0 0 4.5 1.5 1.5 1.5 0 1.5 1.5 0 9-6 6-6 0z" fill="#0aa5f8"/>
<path d="M261 59l0 186.6-4.5-3.1-1.2-2-.4-3 1.2-7.5-.2-4.5-1.4-3-1.8-1.5-2.2-.9-3-.1-4.5 1.2-10.9 6.9-1.1-1.1-1.5 0-1.5-1.5 0-1.5-1.5-1.5-1.5 0-3 3-10.5 0 0-3-3-3-1.5 0-1.5 1.5 0 1.5-1.5 1.5-1.5 0-1.5 1.5 0 7.5-1.5 0-1.5 1.5 1.5 1.5 3 0 1.5-1.5 1.5 0 3-3 18 0 .3 .3-3.1 4.2-.4 3 3.3 10.5 2.3 12 2.1 6 1.5 2.6 1.8 1.9 2.7 1.6 6 .5 7.5-1.6 10.5-4.8 0 14.8-42 0-1.5-1.5-9 0-2-1.5-.3-10.5-.8-6-1.4-1.8-3-.7-3 1.6-3.1 3.9-2.1 4.5-1.4 6-3.9 0 0-7.5-1.5-1.5-1.5 1.5 0 3-4.5 4.5 0 1.5-1.5 1.5-9 0-1.5-1.5 0-1.5-1.5-1.5-1.5 0 0-3-1.5-1.5 0-6-1.5-1.5 0-1.5-3-3-1.5 0-1.5 1.5 0 1.5-3 3 0 3-1.5 0-1.5 1.5 0 4.5-1.5 1.5 0 1.5-9 0-3-3-1.5 0-1.5 1.5 0 7.5-79.5 0 0-6-1.5-1.5-1.5 0-1.5-1.5-3 0 0-9-1.5-1.5 0-13.5 1.5-1.5 0-10.5-1.5-1.5 0-9 1.5-1.5 0-1.5 1.5 0 1.5-1.5 1.5 0 1.5-1.5 9 0 1.5 1.5 12 0 1.5-1.5 0-6-1.5-1.5 0-1.5-1.5-1.5 0-3-1.5-1.5-3 0-1.5-1.5-3 0-1.5-1.5 0-12-1.5-1.5-1.5 0 0-10.5-1.5-1.5-1.5 1.5-1.5 0-1.5 1.5-10.5 0-1.5-1.5 0-25.5 1.5-1.5 3 0 1.5-1.5 0-1.5 1.5-1.5 1.5 0 1.5-1.5 3 0 1.5-1.5-1.5-1.5-3 0 0-13.5 1.5-1.5 0-1.5 1.5 0 1.5-1.5 12 0 1.5-1.5 9 0 0 6 1.5 1.5 1.5 0 1.5 1.5 0 9-1.5 1.5 0 1.5 3 3 0 1.5 4.5 4.5 0 1.5 1.5 1.5 0 3 1.5 1.5 3 0 1.5 1.5 1.5 0 3-3 1.5 0 1.5-1.5 3 0 1.5-1.5 3 0 1.5-1.5-1.5-1.5 0-15-1.5-1.5-1.5 0-1.5-1.5-1.5 0-3-3 0-1.5-1.5-1.5 0-4.5-1.5-1.5 0-22.5 1.5 0 1.5-1.5 1.5 0 3-3 1.5 0 1.5-1.5 1.5 0 1.5-1.5 1.5 0 1.5-1.5 0-1.5 1.5 0 3-3 1.5 0 1.5-1.5 0-1.5 1.5-1.5 0-1.5 6-6 0-12 1.5-1.5 1.5 0 6-6 1.5 0 1.5-1.5 1.5 0 3-3 1.5 0 1.5-1.5 10.5 0 1.5-1.5 1.5 0 1.5-1.5 0-1.5 7.5 0 1.5-1.5 3 0 1.5-1.5 18 0 1.5 1.5 4.5 0 1.5 1.5 1.5 0 4.5 4.5 3 0 0 1.5 3 3 7.5 0 1.5 1.5 4.5 0 1.5 1.5 1.5 0 1.5 1.5 1.5 0 1.5 1.5 3 0 1.5 1.5 1.5 0 3 3 1.5-1.5 0-4.5zM112.5 234.5l-7.5 0-1.5 1.5 0 6-1.5 1.5-1.5 0-1.5 1.5 1.5 1.5 3 0 0 12-1.5 1.5-9 0-1.5 1.5 0 1.5-3 3 1.5 1.5 1.5 0 1.5-1.5 12 0 1.5-1.5 9 0 1.5-1.5-1.5-1.5-1.5 0 0-9-1.5-1.5 0-10.5 1.5-1.5 0-3zM127.5 260l-1.5 1.5 1.5 1.5 1.5-1.5zM130.5 245l-1.5 1.5 0 4.5-1.5 1.5 0 6 1.5 1.5 1.5-1.5 0-1.5 10.5 0 1.5-1.5-4.5-4.5-1.5 0 0-1.5-3-3-1.5 0zM162 104l-1.5 1.5 0 1.5-3 3 1.5 1.5 1.5 0 1.5 1.5 1.5-1.5 0-6zM171 125l-1.5 0-1.5-1.5-1.5 0-1.5-1.5-1.5 1.5 0 3-1.5 1.5 0 1.5-1.5 0-4.5 4.5 0 1.5-1.5 1.5 0 9-1.5 1.5 1.5 1.5 3 0 1.5-1.5 1.5 0 1.5-1.5 0-9 1.5-1.5 0-1.5 3-3 1.5 0 1.5-1.5 1.5 0 1.5-1.5 0-1.5zM27 74l7.5 0 0 4.5 1.5 1.5 1.5 0 1.5 1.5 0 9-6 6-6 0z" fill="#14b7e8"/>
<path d="M261 59l0 153.2-6-.4-7.5 1.8-19.5 11.7 0-1.3-1.5-1.5-1.5 0-3 3-10.5 0 0-3-3-3-1.5 0-1.5 1.5 0 1.5-1.5 1.5-1.5 0-1.5 1.5 0 7.5-1.5 0-1.5 1.5 1.5 1.5 3 0 1.5-1.5 1.5 0 3-3 8.3 0-5.3 3.4-9 2.4-4.5 3.1-1.3 3.1 1.3 7.5-.9 3-10.2 14.4-.9-.9-1.5 1.5 0 3-4.5 4.5 0 1.5-1.5 1.5-9 0-1.5-1.5 0-1.5-1.5-1.5-1.5 0 0-3-1.5-1.5 0-6-1.5-1.5 0-1.5-3-3-1.5 0-1.5 1.5 0 1.5-3 3 0 3-1.5 0-1.5 1.5 0 4.5-1.5 1.5 0 1.5-9 0-3-3-1.5 0-1.5 1.5 0 7.5-79.5 0 0-6-1.5-1.5-1.5 0-1.5-1.5-3 0 0-9-1.5-1.5 0-13.5 1.5-1.5 0-10.5-1.5-1.5 0-9 1.5-1.5 0-1.5 1.5 0 1.5-1.5 1.5 0 1.5-1.5 9 0 1.5 1.5 12 0 1.5-1.5 0-6-1.5-1.5 0-1.5-1.5-1.5 0-3-1.5-1.5-3 0-1.5-1.5-3 0-1.5-1.5 0-12-1.5-1.5-1.5 0 0-10.5-1.5-1.5-1.5 1.5-1.5 0-1.5 1.5-10.5 0-1.5-1.5 0-25.5 1.5-1.5 3 0 1.5-1.5 0-1.5 1.5-1.5 1.5 0 1.5-1.5 3 0 1.5-1.5-1.5-1.5-3 0 0-13.5 1.5-1.5 0-1.5 1.5 0 1.5-1.5 12 0 1.5-1.5 9 0 0 6 1.5 1.5 1.5 0 1.5 1.5 0 9-1.5 1.5 0 1.5 3 3 0 1.5 4.5 4.5 0 1.5 1.5 1.5 0 3 1.5 1.5 3 0 1.5 1.5 1.5 0 3-3 1.5 0 1.5-1.5 3 0 1.5-1.5 3 0 1.5-1.5-1.5-1.5 0-15-1.5-1.5-1.5 0-1.5-1.5-1.5 0-3-3 0-1.5-1.5-1.5 0-4.5-1.5-1.5 0-22.5 1.5 0 1.5-1.5 1.5 0 3-3 1.5 0 1.5-1.5 1.5 0 1.5-1.5 1.5 0 1.5-1.5 0-1.5 1.5 0 3-3 1.5 0 1.5-1.5 0-1.5 1.5-1.5 0-1.5 6-6 0-12 1.5-1.5 1.5 0 6-6 1.5 0 1.5-1.5 1.5 0 3-3 1.5 0 1.5-1.5 10.5 0 1.5-1.5 1.5 0 1.5-1.5 0-1.5 7.5 0 1.5-1.5 3 0 1.5-1.5 18 0 1.5 1.5 4.5 0 1.5 1.5 1.5 0 4.5 4.5 3 0 0 1.5 3 3 7.5 0 1.5 1.5 4.5 0 1.5 1.5 1.5 0 1.5 1.5 1.5 0 1.5 1.5 3 0 1.5 1.5 1.5 0 3 3 1.5-1.5 0-4.5zM112.5 234.5l-7.5 0-1.5 1.5 0 6-1.5 1.5-1.5 0-1.5 1.5 1.5 1.5 3 0 0 12-1.5 1.5-9 0-1.5 1.5 0 1.5-3 3 1.5 1.5 1.5 0 1.5-1.5 12 0 1.5-1.5 9 0 1.5-1.5-1.5-1.5-1.5 0 0-9-1.5-1.5 0-10.5 1.5-1.5 0-3zM127.5 260l-1.5 1.5 1.5 1.5 1.5-1.5zM130.5 245l-1.5 1.5 0 4.5-1.5 1.5 0 6 1.5 1.5 1.5-1.5 0-1.5 10.5 0 1.5-1.5-4.5-4.5-1.5 0 0-1.5-3-3-1.5 0zM162 104l-1.5 1.5 0 1.5-3 3 1.5 1.5 1.5 0 1.5 1.5 1.5-1.5 0-6zM171 125l-1.5 0-1.5-1.5-1.5 0-1.5-1.5-1.5 1.5 0 3-1.5 1.5 0 1.5-1.5 0-4.5 4.5 0 1.5-1.5 1.5 0 9-1.5 1.5 1.5 1.5 3 0 1.5-1.5 1.5 0 1.5-1.5 0-9 1.5-1.5 0-1.5 3-3 1.5 0 1.5-1.5 1.5 0 1.5-1.5 0-1.5zM27 74l7.5 0 0 4.5 1.5 1.5 1.5 0 1.5 1.5 0 9-6 6-6 0zM211.5 239.8l3 .3 4.5 3 3 3.9 1.8 4 .9 4.5 1.6 15-1.1 9-1.7 1.5-4.5-1.6-4.5-4.2-3-5.1-3.8-8.6-6.1-9 .3-3 3.1-4.5 3.5-3.8zM261 273.5l0 9-22.2 0 7.2-2.4 10.5-5.1z" fill="#14c6c8"/>
<path d="M261 59l0 143-4.5 1.6-10.5 5.2-10.5 8-4.5 2.9-15.5 5.8-4 0 0-3-3-3-1.5 0-1.5 1.5 0 1.5-1.5 1.5-1.5 0-1.5 1.5 0 6.9-1.5 .6-1.5 1.5 .3 .3-4 5.7-1.9 10.5-1.1 3-9.5 13.5-6 12-6.3 0-1.5-1.5 0-1.5-1.5-1.5-1.5 0 0-3-1.5-1.5 0-6-1.5-1.5 0-1.5-3-3-1.5 0-1.5 1.5 0 1.5-3 3 0 3-1.5 0-1.5 1.5 0 4.5-1.5 1.5 0 1.5-9 0-3-3-1.5 0-1.5 1.5 0 7.5-79.5 0 0-6-1.5-1.5-1.5 0-1.5-1.5-3 0 0-9-1.5-1.5 0-13.5 1.5-1.5 0-10.5-1.5-1.5 0-9 1.5-1.5 0-1.5 1.5 0 1.5-1.5 1.5 0 1.5-1.5 9 0 1.5 1.5 12 0 1.5-1.5 0-6-1.5-1.5 0-1.5-1.5-1.5 0-3-1.5-1.5-3 0-1.5-1.5-3 0-1.5-1.5 0-12-1.5-1.5-1.5 0 0-10.5-1.5-1.5-1.5 1.5-1.5 0-1.5 1.5-10.5 0-1.5-1.5 0-25.5 1.5-1.5 3 0 1.5-1.5 0-1.5 1.5-1.5 1.5 0 1.5-1.5 3 0 1.5-1.5-1.5-1.5-3 0 0-13.5 1.5-1.5 0-1.5 1.5 0 1.5-1.5 12 0 1.5-1.5 9 0 0 6 1.5 1.5 1.5 0 1.5 1.5 0 9-1.5 1.5 0 1.5 3 3 0 1.5 4.5 4.5 0 1.5 1.5 1.5 0 3 1.5 1.5 3 0 1.5 1.5 1.5 0 3-3 1.5 0 1.5-1.5 3 0 1.5-1.5 3 0 1.5-1.5-1.5-1.5 0-15-1.5-1.5-1.5 0-1.5-1.5-1.5 0-3-3 0-1.5-1.5-1.5 0-4.5-1.5-1.5 0-22.5 1.5 0 1.5-1.5 1.5 0 3-3 1.5 0 1.5-1.5 1.5 0 1.5-1.5 1.5 0 1.5-1.5 0-1.5 1.5 0 3-3 1.5 0 1.5-1.5 0-1.5 1.5-1.5 0-1.5 6-6 0-12 1.5-1.5 1.5 0 6-6 1.5 0 1.5-1.5 1.5 0 3-3 1.5 0 1.5-1.5 10.5 0 1.5-1.5 1.5 0 1.5-1.5 0-1.5 7.5 0 1.5-1.5 3 0 1.5-1.5 18 0 1.5 1.5 4.5 0 1.5 1.5 1.5 0 4.5 4.5 3 0 0 1.5 3 3 7.5 0 1.5 1.5 4.5 0 1.5 1.5 1.5 0 1.5 1.5 1.5 0 1.5 1.5 3 0 1.5 1.5 1.5 0 3 3 1.5-1.5 0-4.5zM112.5 234.5l-7.5 0-1.5 1.5 0 6-1.5 1.5-1.5 0-1.5 1.5 1.5 1.5 3 0 0 12-1.5 1.5-9 0-1.5 1.5 0 1.5-3 3 1.5 1.5 1.5 0 1.5-1.5 12 0 1.5-1.5 9 0 1.5-1.5-1.5-1.5-1.5 0 0-9-1.5-1.5 0-10.5 1.5-1.5 0-3zM127.5 260l-1.5 1.5 1.5 1.5 1.5-1.5zM130.5 245l-1.5 1.5 0 4.5-1.5 1.5 0 6 1.5 1.5 1.5-1.5 0-1.5 10.5 0 1.5-1.5-4.5-4.5-1.5 0 0-1.5-3-3-1.5 0zM162 104l-1.5 1.5 0 1.5-3 3 1.5 1.5 1.5 0 1.5 1.5 1.5-1.5 0-6zM171 125l-1.5 0-1.5-1.5-1.5 0-1.5-1.5-1.5 1.5 0 3-1.5 1.5 0 1.5-1.5 0-4.5 4.5 0 1.5-1.5 1.5 0 9-1.5 1.5 1.5 1.5 3 0 1.5-1.5 1.5 0 1.5-1.5 0-9 1.5-1.5 0-1.5 3-3 1.5 0 1.5-1.5 1.5 0 1.5-1.5 0-1.5zM27 74l7.5 0 0 4.5 1.5 1.5 1.5 0 1.5 1.5 0 9-6 6-6 0zM211.5 246.8l3-.5 3 1.1 2.1 2.1 1.5 3 .9 4.5-.2 6-1.3 4.5-1.5 .9-3-.9-3-2.7-3-3.9-2-3.9-.8-3 .4-3 2.1-3z" fill="#00d0a0"/>
<path d="M261 59l0 134.4-4.5 1.9-6 5.2-9 6.4-7.5 7-4.5 2.8-13.5 3.6-4.7 2-2.8-2.8-1.5 0-1.5 1.5 0 1.5-1.5 1.5-1.5 0-1.5 1.5 0 2.7-3 2.5-3 3.8-3 6-1.9 7.5-1.7 4.5-2.4 3.6-8.4 9.9-7.7 13.5-1.9-1.5 0-1.5-1.5-1.5-1.5 0 0-3-1.5-1.5 0-6-1.5-1.5 0-1.5-3-3-1.5 0-1.5 1.5 0 1.5-3 3 0 3-1.5 0-1.5 1.5 0 4.5-1.5 1.5 0 1.5-9 0-3-3-1.5 0-1.5 1.5 0 7.5-79.5 0 0-6-1.5-1.5-1.5 0-1.5-1.5-3 0 0-9-1.5-1.5 0-13.5 1.5-1.5 0-10.5-1.5-1.5 0-9 1.5-1.5 0-1.5 1.5 0 1.5-1.5 1.5 0 1.5-1.5 9 0 1.5 1.5 12 0 1.5-1.5 0-6-1.5-1.5 0-1.5-1.5-1.5 0-3-1.5-1.5-3 0-1.5-1.5-3 0-1.5-1.5 0-12-1.5-1.5-1.5 0 0-10.5-1.5-1.5-1.5 1.5-1.5 0-1.5 1.5-10.5 0-1.5-1.5 0-25.5 1.5-1.5 3 0 1.5-1.5 0-1.5 1.5-1.5 1.5 0 1.5-1.5 3 0 1.5-1.5-1.5-1.5-3 0 0-13.5 1.5-1.5 0-1.5 1.5 0 1.5-1.5 12 0 1.5-1.5 9 0 0 6 1.5 1.5 1.5 0 1.5 1.5 0 9-1.5 1.5 0 1.5 3 3 0 1.5 4.5 4.5 0 1.5 1.5 1.5 0 3 1.5 1.5 3 0 1.5 1.5 1.5 0 3-3 1.5 0 1.5-1.5 3 0 1.5-1.5 3 0 1.5-1.5-1.5-1.5 0-15-1.5-1.5-1.5 0-1.5-1.5-1.5 0-3-3 0-1.5-1.5-1.5 0-4.5-1.5-1.5 0-22.5 1.5 0 1.5-1.5 1.5 0 3-3 1.5 0 1.5-1.5 1.5 0 1.5-1.5 1.5 0 1.5-1.5 0-1.5 1.5 0 3-3 1.5 0 1.5-1.5 0-1.5 1.5-1.5 0-1.5 6-6 0-12 1.5-1.5 1.5 0 6-6 1.5 0 1.5-1.5 1.5 0 3-3 1.5 0 1.5-1.5 10.5 0 1.5-1.5 1.5 0 1.5-1.5 0-1.5 7.5 0 1.5-1.5 3 0 1.5-1.5 18 0 1.5 1.5 4.5 0 1.5 1.5 1.5 0 4.5 4.5 3 0 0 1.5 3 3 7.5 0 1.5 1.5 4.5 0 1.5 1.5 1.5 0 1.5 1.5 1.5 0 1.5 1.5 3 0 1.5 1.5 1.5 0 3 3 1.5-1.5 0-4.5zM112.5 234.5l-7.5 0-1.5 1.5 0 6-1.5 1.5-1.5 0-1.5 1.5 1.5 1.5 3 0 0 12-1.5 1.5-9 0-1.5 1.5 0 1.5-3 3 1.5 1.5 1.5 0 1.5-1.5 12 0 1.5-1.5 9 0 1.5-1.5-1.5-1.5-1.5 0 0-9-1.5-1.5 0-10.5 1.5-1.5 0-3zM127.5 260l-1.5 1.5 1.5 1.5 1.5-1.5zM130.5 245l-1.5 1.5 0 4.5-1.5 1.5 0 6 1.5 1.5 1.5-1.5 0-1.5 10.5 0 1.5-1.5-4.5-4.5-1.5 0 0-1.5-3-3-1.5 0zM162 104l-1.5 1.5 0 1.5-3 3 1.5 1.5 1.5 0 1.5 1.5 1.5-1.5 0-6zM171 125l-1.5 0-1.5-1.5-1.5 0-1.5-1.5-1.5 1.5 0 3-1.5 1.5 0 1.5-1.5 0-4.5 4.5 0 1.5-1.5 1.5 0 9-1.5 1.5 1.5 1.5 3 0 1.5-1.5 1.5 0 1.5-1.5 0-9 1.5-1.5 0-1.5 3-3 1.5 0 1.5-1.5 1.5 0 1.5-1.5 0-1.5zM27 74l7.5 0 0 4.5 1.5 1.5 1.5 0 1.5 1.5 0 9-6 6-6 0zM214.5 250.8l1.5 .6 1.1 1.1 1.1 3-.2 3-.8 1.5-1.2 .8-3-.8-1.5-1.5-.5-1.5 0-3 .5-1.4 1.5-1.4z" fill="#00d46e"/>
<path d="M261 59l0 127.1-4.5 1.8-3 2-6.2 7.1-8.8 6.8-7.6 8.2-4.4 2-9 1-3 .8-5.9 3.8-1.6-.1-1.5 1.5 0 .7-7.6 5.3-2.9 3.3-3 5.2-3.7 11-2.3 4.9-3 3.8-9.4 9.3-6.5 11.1-.6-.6-1.5 0 0-3-1.5-1.5 0-6-1.5-1.5 0-1.5-3-3-1.5 0-1.5 1.5 0 1.5-3 3 0 3-1.5 0-1.5 1.5 0 4.5-1.5 1.5 0 1.5-9 0-3-3-1.5 0-1.5 1.5 0 7.5-79.5 0 0-6-1.5-1.5-1.5 0-1.5-1.5-3 0 0-9-1.5-1.5 0-13.5 1.5-1.5 0-10.5-1.5-1.5 0-9 1.5-1.5 0-1.5 1.5 0 1.5-1.5 1.5 0 1.5-1.5 9 0 1.5 1.5 12 0 1.5-1.5 0-6-1.5-1.5 0-1.5-1.5-1.5 0-3-1.5-1.5-3 0-1.5-1.5-3 0-1.5-1.5 0-12-1.5-1.5-1.5 0 0-10.5-1.5-1.5-1.5 1.5-1.5 0-1.5 1.5-10.5 0-1.5-1.5 0-25.5 1.5-1.5 3 0 1.5-1.5 0-1.5 1.5-1.5 1.5 0 1.5-1.5 3 0 1.5-1.5-1.5-1.5-3 0 0-13.5 1.5-1.5 0-1.5 1.5 0 1.5-1.5 12 0 1.5-1.5 9 0 0 6 1.5 1.5 1.5 0 1.5 1.5 0 9-1.5 1.5 0 1.5 3 3 0 1.5 4.5 4.5 0 1.5 1.5 1.5 0 3 1.5 1.5 3 0 1.5 1.5 1.5 0 3-3 1.5 0 1.5-1.5 3 0 1.5-1.5 3 0 1.5-1.5-1.5-1.5 0-15-1.5-1.5-1.5 0-1.5-1.5-1.5 0-3-3 0-1.5-1.5-1.5 0-4.5-1.5-1.5 0-22.5 1.5 0 1.5-1.5 1.5 0 3-3 1.5 0 1.5-1.5 1.5 0 1.5-1.5 1.5 0 1.5-1.5 0-1.5 1.5 0 3-3 1.5 0 1.5-1.5 0-1.5 1.5-1.5 0-1.5 6-6 0-12 1.5-1.5 1.5 0 6-6 1.5 0 1.5-1.5 1.5 0 3-3 1.5 0 1.5-1.5 10.5 0 1.5-1.5 1.5 0 1.5-1.5 0-1.5 7.5 0 1.5-1.5 3 0 1.5-1.5 18 0 1.5 1.5 4.5 0 1.5 1.5 1.5 0 4.5 4.5 3 0 0 1.5 3 3 7.5 0 1.5 1.5 4.5 0 1.5 1.5 1.5 0 1.5 1.5 1.5 0 1.5 1.5 3 0 1.5 1.5 1.5 0 3 3 1.5-1.5 0-4.5zM112.5 234.5l-7.5 0-1.5 1.5 0 6-1.5 1.5-1.5 0-1.5 1.5 1.5 1.5 3 0 0 12-1.5 1.5-9 0-1.5 1.5 0 1.5-3 3 1.5 1.5 1.5 0 1.5-1.5 12 0 1.5-1.5 9 0 1.5-1.5-1.5-1.5-1.5 0 0-9-1.5-1.5 0-10.5 1.5-1.5 0-3zM127.5 260l-1.5 1.5 1.5 1.5 1.5-1.5zM130.5 245l-1.5 1.5 0 4.5-1.5 1.5 0 6 1.5 1.5 1.5-1.5 0-1.5 10.5 0 1.5-1.5-4.5-4.5-1.5 0 0-1.5-3-3-1.5 0zM162 104l-1.5 1.5 0 1.5-3 3 1.5 1.5 1.5 0 1.5 1.5 1.5-1.5 0-6zM171 125l-1.5 0-1.5-1.5-1.5 0-1.5-1.5-1.5 1.5 0 3-1.5 1.5 0 1.5-1.5 0-4.5 4.5 0 1.5-1.5 1.5 0 9-1.5 1.5 1.5 1.5 3 0 1.5-1.5 1.5 0 1.5-1.5 0-9 1.5-1.5 0-1.5 3-3 1.5 0 1.5-1.5 1.5 0 1.5-1.5 0-1.5zM27 74l7.5 0 0 4.5 1.5 1.5 1.5 0 1.5 1.5 0 9-6 6-6 0z" fill="#00e128"/>
<path d="M261 59l0 119.1-12 3.7-2.5 1.7-1.1 1.5-2.4 6.5-1.5 1.6-7.5 3.9-1.5 2.1-2.9 6.9-1.6 2.2-3 1-7.5-.2-4.5 1.5-7.6 7.5-9.5 7.5-2.4 3-2.5 4.5-4.2 12-2.3 4.6-3 3.5-11.8 9.9-5.1 8.6-1.1-1.1 0-6-1.5-1.5 0-1.5-3-3-1.5 0-1.5 1.5 0 1.5-3 3 0 3-1.5 0-1.5 1.5 0 4.5-1.5 1.5 0 1.5-9 0-3-3-1.5 0-1.5 1.5 0 7.1-.7 .4-78.8 0 0-6-1.5-1.5-1.5 0-1.5-1.5-3 0 0-9-1.5-1.5 0-13.5 1.5-1.5 0-10.5-1.5-1.5 0-9 1.5-1.5 0-1.5 1.5 0 1.5-1.5 1.5 0 1.5-1.5 9 0 1.5 1.5 12 0 1.5-1.5 0-6-1.5-1.5 0-1.5-1.5-1.5 0-3-1.5-1.5-3 0-1.5-1.5-3 0-1.5-1.5 0-12-1.5-1.5-1.5 0 0-10.5-1.5-1.5-1.5 1.5-1.5 0-1.5 1.5-10.5 0-1.5-1.5 0-25.5 1.5-1.5 3 0 1.5-1.5 0-1.5 1.5-1.5 1.5 0 1.5-1.5 3 0 1.5-1.5-1.5-1.5-3 0 0-13.5 1.5-1.5 0-1.5 1.5 0 1.5-1.5 12 0 1.5-1.5 9 0 0 6 1.5 1.5 1.5 0 1.5 1.5 0 9-1.5 1.5 0 1.5 3 3 0 1.5 4.5 4.5 0 1.5 1.5 1.5 0 3 1.5 1.5 3 0 1.5 1.5 1.5 0 3-3 1.5 0 1.5-1.5 3 0 1.5-1.5 3 0 1.5-1.5-1.5-1.5 0-15-1.5-1.5-1.5 0-1.5-1.5-1.5 0-3-3 0-1.5-1.5-1.5 0-4.5-1.5-1.5 0-22.5 1.5 0 1.5-1.5 1.5 0 3-3 1.5 0 1.5-1.5 1.5 0 1.5-1.5 1.5 0 1.5-1.5 0-1.5 1.5 0 3-3 1.5 0 1.5-1.5 0-1.5 1.5-1.5 0-1.5 6-6 0-12 1.5-1.5 1.5 0 6-6 1.5 0 1.5-1.5 1.5 0 3-3 1.5 0 1.5-1.5 10.5 0 1.5-1.5 1.5 0 1.5-1.5 0-1.5 7.5 0 1.5-1.5 3 0 1.5-1.5 18 0 1.5 1.5 4.5 0 1.5 1.5 1.5 0 4.5 4.5 3 0 0 1.5 3 3 7.5 0 1.5 1.5 4.5 0 1.5 1.5 1.5 0 1.5 1.5 1.5 0 1.5 1.5 3 0 1.5 1.5 1.5 0 3 3 1.5-1.5 0-4.5zM112.5 234.5l-7.5 0-1.5 1.5 0 6-1.5 1.5-1.5 0-1.5 1.5 1.5 1.5 3 0 0 12-1.5 1.5-9 0-1.5 1.5 0 1.5-3 3 1.5 1.5 1.5 0 1.5-1.5 12 0 1.5-1.5 9 0 1.5-1.5-1.5-1.5-1.5 0 0-9-1.5-1.5 0-10.5 1.5-1.5 0-3zM127.5 260l-1.5 1.5 1.5 1.5 1.5-1.5zM130.5 245l-1.5 1.5 0 4.5-1.5 1.5 0 6 1.5 1.5 1.5-1.5 0-1.5 10.5 0 1.5-1.5-4.5-4.5-1.5 0 0-1.5-3-3-1.5 0zM162 104l-1.5 1.5 0 1.5-3 3 1.5 1.5 1.5 0 1.5 1.5 1.5-1.5 0-6zM171 125l-1.5 0-1.5-1.5-1.5 0-1.5-1.5-1.5 1.5 0 3-1.5 1.5 0 1.5-1.5 0-4.5 4.5 0 1.5-1.5 1.5 0 9-1.5 1.5 1.5 1.5 3 0 1.5-1.5 1.5 0 1.5-1.5 0-9 1.5-1.5 0-1.5 3-3 1.5 0 1.5-1.5 1.5 0 1.5-1.5 0-1.5zM27 74l7.5 0 0 4.5 1.5 1.5 1.5 0 1.5 1.5 0 9-6 6-6 0z" fill="#00e80a"/>
<path d="M261 59l0 107.6-4.5 1.1-3 .2-21-2.5-3 .6-3 1.8-1.8 2.2-1.9 4.5-5.7 24-12.6 16.5-9.5 8.2-3 3.7-3 6.1-3.5 10.5-2.5 4.7-4.5 4.4-11.1 7.4-3.9 5.3 0-.8-1.5-1.5 0-1.5-3-3-1.5 0-1.5 1.5 0 1.5-3 3 0 3-1.5 0-1.5 1.5 0 4.5-1.5 2.1-9.5 .4-2.5-2.5-1.5 0-1.5 1.5 0 1.7-3 1.6-4.3 4.2-72.2 0 0-6-1.5-1.5-1.5 0-1.5-1.5-3 0 0-9-1.5-1.5 0-13.5 1.5-1.5 0-10.5-1.5-1.5 0-9 1.5-1.5 0-1.5 1.5 0 1.5-1.5 1.5 0 1.5-1.5 9 0 1.5 1.5 12 0 1.5-1.5 0-6-1.5-1.5 0-1.5-1.5-1.5 0-3-1.5-1.5-3 0-1.5-1.5-3 0-1.5-1.5 0-12-1.5-1.5-1.5 0 0-10.5-1.5-1.5-1.5 1.5-1.5 0-1.5 1.5-10.5 0-1.5-1.5 0-25.5 1.5-1.5 3 0 1.5-1.5 0-1.5 1.5-1.5 1.5 0 1.5-1.5 3 0 1.5-1.5-1.5-1.5-3 0 0-13.5 1.5-1.5 0-1.5 1.5 0 1.5-1.5 12 0 1.5-1.5 9 0 0 6 1.5 1.5 1.5 0 1.5 1.5 0 9-1.5 1.5 0 1.5 3 3 0 1.5 4.5 4.5 0 1.5 1.5 1.5 0 3 1.5 1.5 3 0 1.5 1.5 1.5 0 3-3 1.5 0 1.5-1.5 3 0 1.5-1.5 3 0 1.5-1.5-1.5-1.5 0-15-1.5-1.5-1.5 0-1.5-1.5-1.5 0-3-3 0-1.5-1.5-1.5 0-4.5-1.5-1.5 0-22.5 1.5 0 1.5-1.5 1.5 0 3-3 1.5 0 1.5-1.5 1.5 0 1.5-1.5 1.5 0 1.5-1.5 0-1.5 1.5 0 3-3 1.5 0 1.5-1.5 0-1.5 1.5-1.5 0-1.5 6-6 0-12 1.5-1.5 1.5 0 6-6 1.5 0 1.5-1.5 1.5 0 3-3 1.5 0 1.5-1.5 10.5 0 1.5-1.5 1.5 0 1.5-1.5 0-1.5 7.5 0 1.5-1.5 3 0 1.5-1.5 18 0 1.5 1.5 4.5 0 1.5 1.5 1.5 0 4.5 4.5 3 0 0 1.5 3 3 7.5 0 1.5 1.5 4.5 0 1.5 1.5 1.5 0 1.5 1.5 1.5 0 1.5 1.5 3 0 1.5 1.5 1.5 0 3 3 1.5-1.5 0-4.5zM112.5 234.5l-7.5 0-1.5 1.5 0 6-1.5 1.5-1.5 0-1.5 1.5 1.5 1.5 3 0 0 12-1.5 1.5-9 0-1.5 1.5 0 1.5-3 3 1.5 1.5 1.5 0 1.5-1.5 12 0 1.5-1.5 9 0 1.5-1.5-1.5-1.5-1.5 0 0-9-1.5-1.5 0-10.5 1.5-1.5 0-3zM127.5 260l-1.5 1.5 1.5 1.5 1.5-1.5zM130.5 245l-1.5 1.5 0 4.5-1.5 1.5 0 6 1.5 1.5 1.5-1.5 0-1.5 10.5 0 1.5-1.5-4.5-4.5-1.5 0 0-1.5-3-3-1.5 0zM162 104l-1.5 1.5 0 1.5-3 3 1.5 1.5 1.5 0 1.5 1.5 1.5-1.5 0-6zM171 125l-1.5 0-1.5-1.5-1.5 0-1.5-1.5-1.5 1.5 0 3-1.5 1.5 0 1.5-1.5 0-4.5 4.5 0 1.5-1.5 1.5 0 9-1.5 1.5 1.5 1.5 3 0 1.5-1.5 1.5 0 1.5-1.5 0-9 1.5-1.5 0-1.5 3-3 1.5 0 1.5-1.5 1.5 0 1.5-1.5 0-1.5zM27 74l7.5 0 0 4.5 1.5 1.5 1.5 0 1.5 1.5 0 9-6 6-6 0z" fill="#00e150"/>
<path d="M261 59l0 92.5-7.5 .5-13.5 3.7-13.5 2.6-5.8 2.7-3.1 3-1.6 3.1-1.5 5.3-4.3 23.1-3.8 10.5-4.1 7.5-8.8 8.1-3.1 3.9-2.8 6-3.3 10.5-2.8 5-4.5 3.9-12 7-3 3.6-3-3-1.5 0-1.5 1.5 0 1.5-3 3 0 3-1.5 0-1.5 1.5 0 2.7-4.5 .8-13.5 .9-4.9 3.1-5.6 6-67.5 0 0-6-1.5-1.5-1.5 0-1.5-1.5-3 0 0-9-1.5-1.5 0-13.5 1.5-1.5 0-10.5-1.5-1.5 0-9 1.5-1.5 0-1.5 1.5 0 1.5-1.5 1.5 0 1.5-1.5 9 0 1.5 1.5 12 0 1.5-1.5 0-6-1.5-1.5 0-1.5-1.5-1.5 0-3-1.5-1.5-3 0-1.5-1.5-3 0-1.5-1.5 0-12-1.5-1.5-1.5 0 0-10.5-1.5-1.5-1.5 1.5-1.5 0-1.5 1.5-10.5 0-1.5-1.5 0-25.5 1.5-1.5 3 0 1.5-1.5 0-1.5 1.5-1.5 1.5 0 1.5-1.5 3 0 1.5-1.5-1.5-1.5-3 0 0-13.5 1.5-1.5 0-1.5 1.5 0 1.5-1.5 12 0 1.5-1.5 9 0 0 6 1.5 1.5 1.5 0 1.5 1.5 0 9-1.5 1.5 0 1.5 3 3 0 1.5 4.5 4.5 0 1.5 1.5 1.5 0 3 1.5 1.5 3 0 1.5 1.5 1.5 0 3-3 1.5 0 1.5-1.5 3 0 1.5-1.5 3 0 1.5-1.5-1.5-1.5 0-15-1.5-1.5-1.5 0-1.5-1.5-1.5 0-3-3 0-1.5-1.5-1.5 0-4.5-1.5-1.5 0-22.5 1.5 0 1.5-1.5 1.5 0 3-3 1.5 0 1.5-1.5 1.5 0 1.5-1.5 1.5 0 1.5-1.5 0-1.5 1.5 0 3-3 1.5 0 1.5-1.5 0-1.5 1.5-1.5 0-1.5 6-6 0-12 1.5-1.5 1.5 0 6-6 1.5 0 1.5-1.5 1.5 0 3-3 1.5 0 1.5-1.5 10.5 0 1.5-1.5 1.5 0 1.5-1.5 0-1.5 7.5 0 1.5-1.5 3 0 1.5-1.5 18 0 1.5 1.5 4.5 0 1.5 1.5 1.5 0 4.5 4.5 3 0 0 1.5 3 3 7.5 0 1.5 1.5 4.5 0 1.5 1.5 1.5 0 1.5 1.5 1.5 0 1.5 1.5 3 0 1.5 1.5 1.5 0 3 3 1.5-1.5 0-4.5zM112.5 234.5l-7.5 0-1.5 1.5 0 6-1.5 1.5-1.5 0-1.5 1.5 1.5 1.5 3 0 0 12-1.5 1.5-9 0-1.5 1.5 0 1.5-3 3 1.5 1.5 1.5 0 1.5-1.5 12 0 1.5-1.5 9 0 1.5-1.5-1.5-1.5-1.5 0 0-9-1.5-1.5 0-10.5 1.5-1.5 0-3zM127.5 260l-1.5 1.5 1.5 1.5 1.5-1.5zM130.5 245l-1.5 1.5 0 4.5-1.5 1.5 0 6 1.5 1.5 1.5-1.5 0-1.5 10.5 0 1.5-1.5-4.5-4.5-1.5 0 0-1.5-3-3-1.5 0zM162 104l-1.5 1.5 0 1.5-3 3 1.5 1.5 1.5 0 1.5 1.5 1.5-1.5 0-6zM171 125l-1.5 0-1.5-1.5-1.5 0-1.5-1.5-1.5 1.5 0 3-1.5 1.5 0 1.5-1.5 0-4.5 4.5 0 1.5-1.5 1.5 0 9-1.5 1.5 1.5 1.5 3 0 1.5-1.5 1.5 0 1.5-1.5 0-9 1.5-1.5 0-1.5 3-3 1.5 0 1.5-1.5 1.5 0 1.5-1.5 0-1.5zM27 74l7.5 0 0 4.5 1.5 1.5 1.5 0 1.5 1.5 0 9-6 6-6 0z" fill="#8ce8af"/>
<path d="M261 59l0 84.7-7.5 .4-9.4 1.9-11.6 5.1-12 3.4-3.6 2-3.2 3-2.5 4.5-6.3 22.5-1 6-.6 10.5-1.5 6-2.8 4.5-7 6.3-3.2 4.2-2.7 6-3.6 12-2.5 3.7-4.5 3.5-11.4 6.3-4 4.1-1.1-1.1-1.5 0-1.5 1.5 0 1.5-3 3 0 2.5-6 2.3-12 .8-4.5 1-6.2 3.9-7.3 7.5-63 0 0-6-1.5-1.5-1.5 0-1.5-1.5-3 0 0-9-1.5-1.5 0-13.5 1.5-1.5 0-10.5-1.5-1.5 0-9 1.5-1.5 0-1.5 1.5 0 1.5-1.5 1.5 0 1.5-1.5 9 0 1.5 1.5 12 0 1.5-1.5 0-6-1.5-1.5 0-1.5-1.5-1.5 0-3-1.5-1.5-3 0-1.5-1.5-3 0-1.5-1.5 0-12-1.5-1.5-1.5 0 0-10.5-1.5-1.5-1.5 1.5-1.5 0-1.5 1.5-10.5 0-1.5-1.5 0-25.5 1.5-1.5 3 0 1.5-1.5 0-1.5 1.5-1.5 1.5 0 1.5-1.5 3 0 1.5-1.5-1.5-1.5-3 0 0-13.5 1.5-1.5 0-1.5 1.5 0 1.5-1.5 12 0 1.5-1.5 9 0 0 6 1.5 1.5 1.5 0 1.5 1.5 0 9-1.5 1.5 0 1.5 3 3 0 1.5 4.5 4.5 0 1.5 1.5 1.5 0 3 1.5 1.5 3 0 1.5 1.5 1.5 0 3-3 1.5 0 1.5-1.5 3 0 1.5-1.5 3 0 1.5-1.5-1.5-1.5 0-15-1.5-1.5-1.5 0-1.5-1.5-1.5 0-3-3 0-1.5-1.5-1.5 0-4.5-1.5-1.5 0-22.5 1.5 0 1.5-1.5 1.5 0 3-3 1.5 0 1.5-1.5 1.5 0 1.5-1.5 1.5 0 1.5-1.5 0-1.5 1.5 0 3-3 1.5 0 1.5-1.5 0-1.5 1.5-1.5 0-1.5 6-6 0-12 1.5-1.5 1.5 0 6-6 1.5 0 1.5-1.5 1.5 0 3-3 1.5 0 1.5-1.5 10.5 0 1.5-1.5 1.5 0 1.5-1.5 0-1.5 7.5 0 1.5-1.5 3 0 1.5-1.5 18 0 1.5 1.5 4.5 0 1.5 1.5 1.5 0 4.5 4.5 3 0 0 1.5 3 3 7.5 0 1.5 1.5 4.5 0 1.5 1.5 1.5 0 1.5 1.5 1.5 0 1.5 1.5 3 0 1.5 1.5 1.5 0 3 3 1.5-1.5 0-4.5zM112.5 234.5l-7.5 0-1.5 1.5 0 6-1.5 1.5-1.5 0-1.5 1.5 1.5 1.5 3 0 0 12-1.5 1.5-9 0-1.5 1.5 0 1.5-3 3 1.5 1.5 1.5 0 1.5-1.5 12 0 1.5-1.5 9 0 1.5-1.5-1.5-1.5-1.5 0 0-9-1.5-1.5 0-10.5 1.5-1.5 0-3zM127.5 260l-1.5 1.5 1.5 1.5 1.5-1.5zM130.5 245l-1.5 1.5 0 4.5-1.5 1.5 0 6 1.5 1.5 1.5-1.5 0-1.5 10.5 0 1.5-1.5-4.5-4.5-1.5 0 0-1.5-3-3-1.5 0zM162 104l-1.5 1.5 0 1.5-3 3 1.5 1.5 1.5 0 1.5 1.5 1.5-1.5 0-6zM171 125l-1.5 0-1.5-1.5-1.5 0-1.5-1.5-1.5 1.5 0 3-1.5 1.5 0 1.5-1.5 0-4.5 4.5 0 1.5-1.5 1.5 0 9-1.5 1.5 1.5 1.5 3 0 1.5-1.5 1.5 0 1.5-1.5 0-9 1.5-1.5 0-1.5 3-3 1.5 0 1.5-1.5 1.5 0 1.5-1.5 0-1.5zM27 74l7.5 0 0 4.5 1.5 1.5 1.5 0 1.5 1.5 0 9-6 6-6 0z" fill="#ffffff"/>
<path d="M261 59l0 79.4-15 1.7-6 1.4-10.5 5.1-12 3.2-3 1.8-3 3.2-3.4 6.2-10.2 27-.7 4.5 1.9 10.5-.5 6-1.8 3-6.3 5.6-3.5 4.9-2.6 6-3.3 12-1.8 3-3.8 3.1-13.2 7.4-6.3 6 0 .8-4.5 3.8-6 2.2-12 1-4.5 1.2-7.2 4.5-9.4 9-58.4 0 0-6-1.5-1.5-1.5 0-1.5-1.5-3 0 0-9-1.5-1.5 0-13.5 1.5-1.5 0-10.5-1.5-1.5 0-9 1.5-1.5 0-1.5 1.5 0 1.5-1.5 1.5 0 1.5-1.5 9 0 1.5 1.5 12 0 1.5-1.5 0-6-1.5-1.5 0-1.5-1.5-1.5 0-3-1.5-1.5-3 0-1.5-1.5-3 0-1.5-1.5 0-12-1.5-1.5-1.5 0 0-10.5-1.5-1.5-1.5 1.5-1.5 0-1.5 1.5-10.5 0-1.5-1.5 0-25.5 1.5-1.5 3 0 1.5-1.5 0-1.5 1.5-1.5 1.5 0 1.5-1.5 3 0 1.5-1.5-1.5-1.5-3 0 0-13.5 1.5-1.5 0-1.5 1.5 0 1.5-1.5 12 0 1.5-1.5 9 0 0 6 1.5 1.5 1.5 0 1.5 1.5 0 9-1.5 1.5 0 1.5 3 3 0 1.5 4.5 4.5 0 1.5 1.5 1.5 0 3 1.5 1.5 3 0 1.5 1.5 1.5 0 3-3 1.5 0 1.5-1.5 3 0 1.5-1.5 3 0 1.5-1.5-1.5-1.5 0-15-1.5-1.5-1.5 0-1.5-1.5-1.5 0-3-3 0-1.5-1.5-1.5 0-4.5-1.5-1.5 0-22.5 1.5 0 1.5-1.5 1.5 0 3-3 1.5 0 1.5-1.5 1.5 0 1.5-1.5 1.5 0 1.5-1.5 0-1.5 1.5 0 3-3 1.5 0 1.5-1.5 0-1.5 1.5-1.5 0-1.5 6-6 0-12 1.5-1.5 1.5 0 6-6 1.5 0 1.5-1.5 1.5 0 3-3 1.5 0 1.5-1.5 10.5 0 1.5-1.5 1.5 0 1.5-1.5 0-1.5 7.5 0 1.5-1.5 3 0 1.5-1.5 18 0 1.5 1.5 4.5 0 1.5 1.5 1.5 0 4.5 4.5 3 0 0 1.5 3 3 7.5 0 1.5 1.5 4.5 0 1.5 1.5 1.5 0 1.5 1.5 1.5 0 1.5 1.5 3 0 1.5 1.5 1.5 0 3 3 1.5-1.5 0-4.5zM112.5 234.5l-7.5 0-1.5 1.5 0 6-1.5 1.5-1.5 0-1.5 1.5 1.5 1.5 3 0 0 12-1.5 1.5-9 0-1.5 1.5 0 1.5-3 3 1.5 1.5 1.5 0 1.5-1.5 12 0 1.5-1.5 9 0 1.5-1.5-1.5-1.5-1.5 0 0-9-1.5-1.5 0-10.5 1.5-1.5 0-3zM127.5 260l-1.5 1.5 1.5 1.5 1.5-1.5zM130.5 245l-1.5 1.5 0 4.5-1.5 1.5 0 6 1.5 1.5 1.5-1.5 0-1.5 10.5 0 1.5-1.5-4.5-4.5-1.5 0 0-1.5-3-3-1.5 0zM162 104l-1.5 1.5 0 1.5-3 3 1.5 1.5 1.5 0 1.5 1.5 1.5-1.5 0-6zM171 125l-1.5 0-1.5-1.5-1.5 0-1.5-1.5-1.5 1.5 0 3-1.5 1.5 0 1.5-1.5 0-4.5 4.5 0 1.5-1.5 1.5 0 9-1.5 1.5 1.5 1.5 3 0 1.5-1.5 1.5 0 1.5-1.5 0-9 1.5-1.5 0-1.5 3-3 1.5 0 1.5-1.5 1.5 0 1.5-1.5 0-1.5zM27 74l7.5 0 0 4.5 1.5 1.5 1.5 0 1.5 1.5 0 9-6 6-6 0z" fill="#faf5d2"/>
<path d="M261 59l0 18.5-1.6 5.5 1.6 9.5 0 40.3-4.5 1.7-13.5 .6-7.5 1.6-9 3.5-10.5 3.2-3 1.8-2.3 2.3-3.7 6.5-5.7 14.5-7.6 13.5-1.8 4.5-.8 4.5 .1 3 3.3 10.5 .2 3-.4 1.5-5.7 6-3 4.5-2.6 6.4-3.7 13.1-1.7 3-3.6 2.8-12 6.7-9 8.9-3 2.2-6 1.8-12 1.1-5.7 2-7 4.5-12 10.5-53.3 0 0-6-1.5-1.5-1.5 0-1.5-1.5-3 0 0-9-1.5-1.5 0-13.5 1.5-1.5 0-10.5-1.5-1.5 0-9 1.5-1.5 0-1.5 1.5 0 1.5-1.5 1.5 0 1.5-1.5 9 0 1.5 1.5 12 0 1.5-1.5 0-6-1.5-1.5 0-1.5-1.5-1.5 0-3-1.5-1.5-3 0-1.5-1.5-3 0-1.5-1.5 0-12-1.5-1.5-1.5 0 0-10.5-1.5-1.5-1.5 1.5-1.5 0-1.5 1.5-10.5 0-1.5-1.5 0-25.5 1.5-1.5 3 0 1.5-1.5 0-1.5 1.5-1.5 1.5 0 1.5-1.5 3 0 1.5-1.5-1.5-1.5-3 0 0-13.5 1.5-1.5 0-1.5 1.5 0 1.5-1.5 12 0 1.5-1.5 9 0 0 6 1.5 1.5 1.5 0 1.5 1.5 0 9-1.5 1.5 0 1.5 3 3 0 1.5 4.5 4.5 0 1.5 1.5 1.5 0 3 1.5 1.5 3 0 1.5 1.5 1.5 0 3-3 1.5 0 1.5-1.5 3 0 1.5-1.5 3 0 1.5-1.5-1.5-1.5 0-15-1.5-1.5-1.5 0-1.5-1.5-1.5 0-3-3 0-1.5-1.5-1.5 0-4.5-1.5-1.5 0-22.5 1.5 0 1.5-1.5 1.5 0 3-3 1.5 0 1.5-1.5 1.5 0 1.5-1.5 1.5 0 1.5-1.5 0-1.5 1.5 0 3-3 1.5 0 1.5-1.5 0-1.5 1.5-1.5 0-1.5 6-6 0-12 1.5-1.5 1.5 0 6-6 1.5 0 1.5-1.5 1.5 0 3-3 1.5 0 1.5-1.5 10.5 0 1.5-1.5 1.5 0 1.5-1.5 0-1.5 7.5 0 1.5-1.5 3 0 1.5-1.5 18 0 1.5 1.5 4.5 0 1.5 1.5 1.5 0 4.5 4.5 3 0 0 1.5 3 3 7.5 0 1.5 1.5 4.5 0 1.5 1.5 1.5 0 1.5 1.5 1.5 0 1.5 1.5 3 0 1.5 1.5 1.5 0 3 3 1.5-1.5 0-4.5zM112.5 234.5l-7.5 0-1.5 1.5 0 6-1.5 1.5-1.5 0-1.5 1.5 1.5 1.5 3 0 0 12-1.5 1.5-9 0-1.5 1.5 0 1.5-3 3 1.5 1.5 1.5 0 1.5-1.5 12 0 1.5-1.5 9 0 1.5-1.5-1.5-1.5-1.5 0 0-9-1.5-1.5 0-10.5 1.5-1.5 0-3zM127.5 260l-1.5 1.5 1.5 1.5 1.5-1.5zM130.5 245l-1.5 1.5 0 4.5-1.5 1.5 0 6 1.5 1.5 1.5-1.5 0-1.5 10.5 0 1.5-1.5-4.5-4.5-1.5 0 0-1.5-3-3-1.5 0zM162 104l-1.5 1.5 0 1.5-3 3 1.5 1.5 1.5 0 1.5 1.5 1.5-1.5 0-6zM171 125l-1.5 0-1.5-1.5-1.5 0-1.5-1.5-1.5 1.5 0 3-1.5 1.5 0 1.5-1.5 0-4.5 4.5 0 1.5-1.5 1.5 0 9-1.5 1.5 1.5 1.5 3 0 1.5-1.5 1.5 0 1.5-1.5 0-9 1.5-1.5 0-1.5 3-3 1.5 0 1.5-1.5 1.5 0 1.5-1.5 0-1.5zM27 74l7.5 0 0 4.5 1.5 1.5 1.5 0 1.5 1.5 0 9-6 6-6 0z" fill="#f7eea5"/>
<path d="M261 59l0 2-7.5 14.7-1.4 5.8 .3 4.5 2.3 12 .2 6-1 10.5 2.4 9-.3 3-1 1.3-1.5 .4-10.5 .4-15 2.8-16.5 6.4-3 2.1-1.3 1.6-1.7 3.5-6.1 19-9.7 13.5-2.8 6-1.7 9 .3 4.5 1.5 7.5-.2 3-4.5 12-4.5 16.5-2.5 4.5-2.8 2.2-12 7.1-11 10.2-4 1.6-13.5 1.3-6 1.8-9.5 5.8-15.2 12-47.3 0 0-6-1.5-1.5-1.5 0-1.5-1.5-3 0 0-9-1.5-1.5 0-13.5 1.5-1.5 0-10.5-1.5-1.5 0-9 1.5-1.5 0-1.5 1.5 0 1.5-1.5 1.5 0 1.5-1.5 9 0 1.5 1.5 12 0 1.5-1.5 0-6-1.5-1.5 0-1.5-1.5-1.5 0-3-1.5-1.5-3 0-1.5-1.5-3 0-1.5-1.5 0-12-1.5-1.5-1.5 0 0-10.5-1.5-1.5-1.5 1.5-1.5 0-1.5 1.5-10.5 0-1.5-1.5 0-25.5 1.5-1.5 3 0 1.5-1.5 0-1.5 1.5-1.5 1.5 0 1.5-1.5 3 0 1.5-1.5-1.5-1.5-3 0 0-13.5 1.5-1.5 0-1.5 1.5 0 1.5-1.5 12 0 1.5-1.5 9 0 0 6 1.5 1.5 1.5 0 1.5 1.5 0 9-1.5 1.5 0 1.5 3 3 0 1.5 4.5 4.5 0 1.5 1.5 1.5 0 3 1.5 1.5 3 0 1.5 1.5 1.5 0 3-3 1.5 0 1.5-1.5 3 0 1.5-1.5 3 0 1.5-1.5-1.5-1.5 0-15-1.5-1.5-1.5 0-1.5-1.5-1.5 0-3-3 0-1.5-1.5-1.5 0-4.5-1.5-1.5 0-22.5 1.5 0 1.5-1.5 1.5 0 3-3 1.5 0 1.5-1.5 1.5 0 1.5-1.5 1.5 0 1.5-1.5 0-1.5 1.5 0 3-3 1.5 0 1.5-1.5 0-1.5 1.5-1.5 0-1.5 6-6 0-12 1.5-1.5 1.5 0 6-6 1.5 0 1.5-1.5 1.5 0 3-3 1.5 0 1.5-1.5 10.5 0 1.5-1.5 1.5 0 1.5-1.5 0-1.5 7.5 0 1.5-1.5 3 0 1.5-1.5 18 0 1.5 1.5 4.5 0 1.5 1.5 1.5 0 4.5 4.5 3 0 0 1.5 3 3 7.5 0 1.5 1.5 4.5 0 1.5 1.5 1.5 0 1.5 1.5 1.5 0 1.5 1.5 3 0 1.5 1.5 1.5 0 3 3 1.5-1.5 0-4.5zM112.5 234.5l-7.5 0-1.5 1.5 0 6-1.5 1.5-1.5 0-1.5 1.5 1.5 1.5 3 0 0 12-1.5 1.5-9 0-1.5 1.5 0 1.5-3 3 1.5 1.5 1.5 0 1.5-1.5 12 0 1.5-1.5 9 0 1.5-1.5-1.5-1.5-1.5 0 0-9-1.5-1.5 0-10.5 1.5-1.5 0-3zM127.5 260l-1.5 1.5 1.5 1.5 1.5-1.5zM130.5 245l-1.5 1.5 0 4.5-1.5 1.5 0 6 1.5 1.5 1.5-1.5 0-1.5 10.5 0 1.5-1.5-4.5-4.5-1.5 0 0-1.5-3-3-1.5 0zM162 104l-1.5 1.5 0 1.5-3 3 1.5 1.5 1.5 0 1.5 1.5 1.5-1.5 0-6zM171 125l-1.5 0-1.5-1.5-1.5 0-1.5-1.5-1.5 1.5 0 3-1.5 1.5 0 1.5-1.5 0-4.5 4.5 0 1.5-1.5 1.5 0 9-1.5 1.5 1.5 1.5 3 0 1.5-1.5 1.5 0 1.5-1.5 0-9 1.5-1.5 0-1.5 3-3 1.5 0 1.5-1.5 1.5 0 1.5-1.5 0-1.5zM27 74l7.5 0 0 4.5 1.5 1.5 1.5 0 1.5 1.5 0 9-6 6-6 0z" fill="#f0e464"/>
<path d="M253.3 59l-6.3 15-1.3 6 .4 6 2.6 10.5-.2 6-1.8 6-5.1 10.5-3.1 2.9-3 1.6-30 8.1-3 1.2-1.4 1.2-.8 1.5-.8 13.5-3 11.9-1.5 2.5-7.8 8.1-2.7 4.4-1.8 4.6-2.7 13.5 .4 12-1.3 13.5-3.1 13.5-1.2 3-2.3 3-12 7.9-12 10.8-6 1.7-14.2 1.4-.8-.8-1.4 1.6-13 7.4-19.9 13.5-39.2 0 0-6-1.5-1.5-1.5 0-1.5-1.5-3 0 0-9-1.5-1.5 0-13.5 1.5-1.5 0-10.5-1.5-1.5 0-9 1.5-1.5 0-1.5 1.5 0 1.5-1.5 1.5 0 1.5-1.5 9 0 1.5 1.5 12 0 1.5-1.5 0-6-1.5-1.5 0-1.5-1.5-1.5 0-3-1.5-1.5-3 0-1.5-1.5-3 0-1.5-1.5 0-12-1.5-1.5-1.5 0 0-10.5-1.5-1.5-1.5 1.5-1.5 0-1.5 1.5-10.5 0-1.5-1.5 0-25.5 1.5-1.5 3 0 1.5-1.5 0-1.5 1.5-1.5 1.5 0 1.5-1.5 3 0 1.5-1.5-1.5-1.5-3 0 0-13.5 1.5-1.5 0-1.5 1.5 0 1.5-1.5 12 0 1.5-1.5 9 0 0 6 1.5 1.5 1.5 0 1.5 1.5 0 9-1.5 1.5 0 1.5 3 3 0 1.5 4.5 4.5 0 1.5 1.5 1.5 0 3 1.5 1.5 3 0 1.5 1.5 1.5 0 3-3 1.5 0 1.5-1.5 3 0 1.5-1.5 3 0 1.5-1.5-1.5-1.5 0-15-1.5-1.5-1.5 0-1.5-1.5-1.5 0-3-3 0-1.5-1.5-1.5 0-4.5-1.5-1.5 0-22.5 1.5 0 1.5-1.5 1.5 0 3-3 1.5 0 1.5-1.5 1.5 0 1.5-1.5 1.5 0 1.5-1.5 0-1.5 1.5 0 3-3 1.5 0 1.5-1.5 0-1.5 1.5-1.5 0-1.5 6-6 0-12 1.5-1.5 1.5 0 6-6 1.5 0 1.5-1.5 1.5 0 3-3 1.5 0 1.5-1.5 10.5 0 1.5-1.5 1.5 0 1.5-1.5 0-1.5 7.5 0 1.5-1.5 3 0 1.5-1.5 18 0 1.5 1.5 4.5 0 1.5 1.5 1.5 0 4.5 4.5 3 0 0 1.5 3 3 7.5 0 1.5 1.5 4.5 0 1.5 1.5 1.5 0 1.5 1.5 1.5 0 1.5 1.5 3 0 1.5 1.5 1.5 0 3 3 1.5-1.5 0-4.5zM112.5 234.5l-7.5 0-1.5 1.5 0 6-1.5 1.5-1.5 0-1.5 1.5 1.5 1.5 3 0 0 12-1.5 1.5-9 0-1.5 1.5 0 1.5-3 3 1.5 1.5 1.5 0 1.5-1.5 12 0 1.5-1.5 9 0 1.5-1.5-1.5-1.5-1.5 0 0-9-1.5-1.5 0-10.5 1.5-1.5 0-3zM130.5 245l-1.5 1.5 0 4.5-1.5 1.5 0 6 1.5 1.5 1.5-1.5 0-1.5 10.5 0 1.5-1.5-4.5-4.5-1.5 0 0-1.5-3-3-1.5 0zM162 104l-1.5 1.5 0 1.5-3 3 1.5 1.5 1.5 0 1.5 1.5 1.5-1.5 0-6zM171 125l-1.5 0-1.5-1.5-1.5 0-1.5-1.5-1.5 1.5 0 3-1.5 1.5 0 1.5-1.5 0-4.5 4.5 0 1.5-1.5 1.5 0 9-1.5 1.5 1.5 1.5 3 0 1.5-1.5 1.5 0 1.5-1.5 0-9 1.5-1.5 0-1.5 3-3 1.5 0 1.5-1.5 1.5 0 1.5-1.5 0-1.5zM27 74l7.5 0 0 4.5 1.5 1.5 1.5 0 1.5 1.5 0 9-6 6-6 0z" fill="#f5e40a"/>
<path d="M241.5 60.5l1.7 1.5-4.9 10.5-.8 7.5 .9 6 3.6 10.5 .2 3-2.3 7.5-3.4 7.5-2.6 3-2.9 1.9-4.5 1.3-9 .6-4.5 1-15 5.5-2.7 1.7-1 1.5-.9 4.5 1.6 10.5-1.3 7.5-3.1 6-4.9 4.5-2.7 3.8-3.6 9.7-2.7 12-1 7.5 .4 18-.5 7.5-1.6 7.6-3.1 5.9-2.9 2.7-10.5 7.4-9 8.1-4.5 2-2.7 .5 1.2-1.2-4.5-4.5-1.5 0 0-1.5-3-3-1.5 0-1.5-1.5-1.5 1.5 0 4.5-1.5 1.5 0 5.1-4.5 1.5-6.1 3.8-1.4-1.4-1.5 0 0-9-1.5-1.5 0-10.5 1.5-1.5 0-3-1.5-1.5-7.5 0-1.5 1.5 0 6-1.5 1.5-1.5 0-1.5 1.5 1.5 1.5 3 0 0 12-1.5 1.5-9 0-1.5 1.5 0 1.5-3 3 1.5 1.5 1.5 0 1.5-1.5 12 0 1.5-1.5 7.3 0-31.3 18-28.5 0 0-6-1.5-1.5-1.5 0-1.5-1.5-3 0 0-9-1.5-1.5 0-13.5 1.5-1.5 0-10.5-1.5-1.5 0-9 1.5-1.5 0-1.5 1.5 0 1.5-1.5 1.5 0 1.5-1.5 9 0 1.5 1.5 12 0 1.5-1.5 0-6-1.5-1.5 0-1.5-1.5-1.5 0-3-1.5-1.5-3 0-1.5-1.5-3 0-1.5-1.5 0-12-1.5-1.5-1.5 0 0-10.5-1.5-1.5-1.5 1.5-1.5 0-1.5 1.5-10.5 0-1.5-1.5 0-25.5 1.5-1.5 3 0 1.5-1.5 0-1.5 1.5-1.5 1.5 0 1.5-1.5 3 0 1.5-1.5-1.5-1.5-3 0 0-13.5 1.5-1.5 0-1.5 1.5 0 1.5-1.5 12 0 1.5-1.5 9 0 0 6 1.5 1.5 1.5 0 1.5 1.5 0 9-1.5 1.5 0 1.5 3 3 0 1.5 4.5 4.5 0 1.5 1.5 1.5 0 3 1.5 1.5 3 0 1.5 1.5 1.5 0 3-3 1.5 0 1.5-1.5 3 0 1.5-1.5 3 0 1.5-1.5-1.5-1.5 0-15-1.5-1.5-1.5 0-1.5-1.5-1.5 0-3-3 0-1.5-1.5-1.5 0-4.5-1.5-1.5 0-22.5 1.5 0 1.5-1.5 1.5 0 3-3 1.5 0 1.5-1.5 1.5 0 1.5-1.5 1.5 0 1.5-1.5 0-1.5 1.5 0 3-3 1.5 0 1.5-1.5 0-1.5 1.5-1.5 0-1.5 6-6 0-12 1.5-1.5 1.5 0 6-6 1.5 0 1.5-1.5 1.5 0 3-3 1.5 0 1.5-1.5 10.5 0 1.5-1.5 1.5 0 1.5-1.5 0-1.5 7.5 0 1.5-1.5 3 0 1.5-1.5 18 0 1.5 1.5 4.5 0 1.5 1.5 1.5 0 4.5 4.5 3 0 0 1.5 3 3 7.5 0 1.5 1.5 4.5 0 1.5 1.5 1.5 0 1.5 1.5 1.5 0 1.5 1.5zM162 104l-1.5 1.5 0 1.5-3 3 1.5 1.5 1.5 0 1.5 1.5 1.5-1.5 0-6zM171 125l-1.5 0-1.5-1.5-1.5 0-1.5-1.5-1.5 1.5 0 3-1.5 1.5 0 1.5-1.5 0-4.5 4.5 0 1.5-1.5 1.5 0 9-1.5 1.5 1.5 1.5 3 0 1.5-1.5 1.5 0 1.5-1.5 0-9 1.5-1.5 0-1.5 3-3 1.5 0 1.5-1.5 1.5 0 1.5-1.5 0-1.5zM27 74l7.5 0 0 4.5 1.5 1.5 1.5 0 1.5 1.5 0 9-6 6-6 0z" fill="#f5d714"/>
<path d="M231 56l1.6 1.5-4.2 7.5-.7 4.5 .2 27 2.6 9 .1 3-.7 3-1.9 2.4-1.5 .4-9-1.5-4.5 .7-8.7 7-11 6-3.7 4.5-.9 4.5 1.1 10.5-.7 4.5-2.5 4.5-6.8 7.5-7.7 31.5-.6 6 1.1 21-1.4 7.5-2.2 4.5-2.8 3-17.7 14.3-3.8 2.2-4.2 1-2.5-2.5-1.5 0 0-1.5-3-3-1.5 0-1.5-1.5-1.5 1.5 0 4.5-1.5 2.1-6-1.6-1.3-2-1.2-4.5-2-2.5-1.5-.5-2.3 1.5-.7 1.2 0-4.2 1.5-1.5 0-3-1.5-1.5-7.5 0-1.5 1.5 0 6-1.5 1.5-1.5 0-1.5 1.5 1.5 1.5 3 0 0 12-1.5 1.5-9 0-1.5 1.5 0 1.5-3 3 1.5 1.5 1.5 0 1.5-1.5 6.9 0-14.4 7.2-10.5 6.8-5.1 2.5-15.9 0 0-6-1.5-1.5-1.5 0-1.5-1.5-3 0 0-9-1.5-1.5 0-13.5 1.5-1.5 0-10.5-1.5-1.5 0-9 1.5-1.5 0-1.5 1.5 0 1.5-1.5 1.5 0 1.5-1.5 9 0 1.5 1.5 12 0 1.5-1.5 0-6-1.5-1.5 0-1.5-1.5-1.5 0-3-1.5-1.5-3 0-1.5-1.5-3 0-1.5-1.5 0-12-1.5-1.5-1.5 0 0-10.5-1.5-1.5-1.5 1.5-1.5 0-1.5 1.5-10.5 0-1.5-1.5 0-25.5 1.5-1.5 3 0 1.5-1.5 0-1.5 1.5-1.5 1.5 0 1.5-1.5 3 0 1.5-1.5-1.5-1.5-3 0 0-13.5 1.5-1.5 0-1.5 1.5 0 1.5-1.5 12 0 1.5-1.5 9 0 0 6 1.5 1.5 1.5 0 1.5 1.5 0 9-1.5 1.5 0 1.5 3 3 0 1.5 4.5 4.5 0 1.5 1.5 1.5 0 3 1.5 1.5 3 0 1.5 1.5 1.5 0 3-3 1.5 0 1.5-1.5 3 0 1.5-1.5 3 0 1.5-1.5-1.5-1.5 0-15-1.5-1.5-1.5 0-1.5-1.5-1.5 0-3-3 0-1.5-1.5-1.5 0-4.5-1.5-1.5 0-22.5 1.5 0 1.5-1.5 1.5 0 3-3 1.5 0 1.5-1.5 1.5 0 1.5-1.5 1.5 0 1.5-1.5 0-1.5 1.5 0 3-3 1.5 0 1.5-1.5 0-1.5 1.5-1.5 0-1.5 6-6 0-12 1.5-1.5 1.5 0 6-6 1.5 0 1.5-1.5 1.5 0 3-3 1.5 0 1.5-1.5 10.5 0 1.5-1.5 1.5 0 1.5-1.5 0-1.5 7.5 0 1.5-1.5 3 0 1.5-1.5 18 0 1.5 1.5 4.5 0 1.5 1.5 1.5 0 4.5 4.5 3 0 0 1.5 3 3 7.5 0 1.5 1.5zM162 104l-1.5 1.5 0 1.5-3 3 1.5 1.5 1.5 0 1.5 1.5 1.5-1.5 0-6zM171 125l-1.5 0-1.5-1.5-1.5 0-1.5-1.5-1.5 1.5 0 3-1.5 1.5 0 1.5-1.5 0-4.5 4.5 0 1.5-1.5 1.5 0 9-1.5 1.5 1.5 1.5 3 0 1.5-1.5 1.5 0 1.5-1.5 0-9 1.5-1.5 0-1.5 3-3 1.5 0 1.5-1.5 1.5 0 1.5-1.5 0-1.5zM27 74l7.5 0 0 4.5 1.5 1.5 1.5 0 1.5 1.5 0 9-6 6-6 0zM112.5 248.8l1.5 1.9 2.8 1.8 .9 1.5-.9 3-2.8 1.9 0-6.4-1.5-1.5z" fill="#f5cd14"/>
<path d="M225 54.5l-3 10.5-3 19.7-2.7 8.8-2.6 6-10.5 16.5-3.3 3-7.9 4.6-3.7 2.9-2.6 3-1.3 3-.4 3 .9 7.5-.2 4.5-1.7 3.9-4.5 5.6-2.3 4-1.2 4.5-2.5 15-4.7 15-.4 6 1.4 12 .2 7.5-.9 6-2.5 4.5-2.9 3-15.7 12.7-4.5 2.2-6 .8 0-.7-3-3-1.5 0-1.5-1.5-1.5 1.5 0 2-9-8.3-3-1.3-3 0 0-2.9-1.5-1.5-7.5 0-1.5 1.5 0 6-1.5 1.5-1.5 0-1.5 1.5 1.5 1.5 3 0 0 4.4-2.8 4.6-5.4 4.5-2.3 0-1.5 1.5 0 .7-9 4.9-10.5 6.8-4.5 1.9-4.5 .6-6-.8-5.6-2.1-4.9-3.2 0-5.8-1.5-1.5 0-13.5 1.5-1.5 0-10.5-1.5-1.5 0-9 1.5-1.5 0-1.5 1.5 0 1.5-1.5 1.5 0 1.5-1.5 9 0 1.5 1.5 12 0 1.5-1.5 0-6-1.5-1.5 0-1.5-1.5-1.5 0-3-1.5-1.5-3 0-1.5-1.5-3 0-1.5-1.5 0-12-1.5-1.5-1.5 0 0-10.5-1.5-1.5-1.5 1.5-1.5 0-1.5 1.5-10.5 0-1.5-1.5 0-25.5 1.5-1.5 3 0 1.5-1.5 0-1.5 1.5-1.5 1.5 0 1.5-1.5 3 0 1.5-1.5-1.5-1.5-3 0 0-13.5 1.5-1.5 0-1.5 1.5 0 1.5-1.5 12 0 1.5-1.5 9 0 0 6 1.5 1.5 1.5 0 1.5 1.5 0 9-1.5 1.5 0 1.5 3 3 0 1.5 4.5 4.5 0 1.5 1.5 1.5 0 3 1.5 1.5 3 0 1.5 1.5 1.5 0 3-3 1.5 0 1.5-1.5 3 0 1.5-1.5 3 0 1.5-1.5-1.5-1.5 0-15-1.5-1.5-1.5 0-1.5-1.5-1.5 0-3-3 0-1.5-1.5-1.5 0-4.5-1.5-1.5 0-22.5 1.5 0 1.5-1.5 1.5 0 3-3 1.5 0 1.5-1.5 1.5 0 1.5-1.5 1.5 0 1.5-1.5 0-1.5 1.5 0 3-3 1.5 0 1.5-1.5 0-1.5 1.5-1.5 0-1.5 6-6 0-12 1.5-1.5 1.5 0 6-6 1.5 0 1.5-1.5 1.5 0 3-3 1.5 0 1.5-1.5 10.5 0 1.5-1.5 1.5 0 1.5-1.5 0-1.5 7.5 0 1.5-1.5 3 0 1.5-1.5 18 0 1.5 1.5 4.5 0 1.5 1.5 1.5 0 4.5 4.5 3 0 0 1.5 3 3zM162 104l-1.5 1.5 0 1.5-3 3 1.5 1.5 1.5 0 1.5 1.5 1.5-1.5 0-6zM171 125l-1.5 0-1.5-1.5-1.5 0-1.5-1.5-1.5 1.5 0 3-1.5 1.5 0 1.5-1.5 0-4.5 4.5 0 1.5-1.5 1.5 0 9-1.5 1.5 1.5 1.5 3 0 1.5-1.5 1.5 0 1.5-1.5 0-9 1.5-1.5 0-1.5 3-3 1.5 0 1.5-1.5 1.5 0 1.5-1.5 0-1.5zM27 74l7.5 0 0 4.5 1.5 1.5 1.5 0 1.5 1.5 0 9-6 6-6 0z" fill="#f5c319"/>
<path d="M214.5 50l0 1.5 3 3 1.1 0-2.8 15-2 7.5-2.3 6-8.4 15-1 9-1 4.5-2.9 4.5-13.6 9-3.2 3-1.8 3-.6 4.5 1 10.5-7.2 13.5-1 4.5-1.8 15-1.4 4.5-4 9-1.3 4.5-.4 6 1.1 7.5 .7 10.5-.6 4.5-1.5 3-4.3 4.5-11.3 9.7-4.5 2.5-4.5 1-4.5-.3-3-1.2-7.1-5.7-3.4-1.8-3-.8-3-.1-1.5-1.8-7.5 0-1.5 1.5 0 5.6-1.8 1.9-1.2 0-1.5 1.5 .8 .8-3.4 3.7-6.4 5.2-15 8.5-6 2.4-3 .5-3-.2-3-1-3-1.7-3-2.7-2.7-3.5-4.8-9 0-10.5-1.5-1.5 0-9 1.5-1.5 0-1.5 1.5 0 1.5-1.5 1.5 0 1.5-1.5 9 0 1.5 1.5 12 0 1.5-1.5 0-6-1.5-1.5 0-1.5-1.5-1.5 0-3-1.5-1.5-3 0-1.5-1.5-3 0-1.5-1.5 0-12-1.5-1.5-1.5 0 0-10.5-1.5-1.5-1.5 1.5-1.5 0-1.5 1.5-10.5 0-1.5-1.5 0-25.5 1.5-1.5 3 0 1.5-1.5 0-1.5 1.5-1.5 1.5 0 1.5-1.5 3 0 1.5-1.5-1.5-1.5-3 0 0-13.5 1.5-1.5 0-1.5 1.5 0 1.5-1.5 12 0 1.5-1.5 9 0 0 6 1.5 1.5 1.5 0 1.5 1.5 0 9-1.5 1.5 0 1.5 3 3 0 1.5 4.5 4.5 0 1.5 1.5 1.5 0 3 1.5 1.5 3 0 1.5 1.5 1.5 0 3-3 1.5 0 1.5-1.5 3 0 1.5-1.5 3 0 1.5-1.5-1.5-1.5 0-15-1.5-1.5-1.5 0-1.5-1.5-1.5 0-3-3 0-1.5-1.5-1.5 0-4.5-1.5-1.5 0-22.5 1.5 0 1.5-1.5 1.5 0 3-3 1.5 0 1.5-1.5 1.5 0 1.5-1.5 1.5 0 1.5-1.5 0-1.5 1.5 0 3-3 1.5 0 1.5-1.5 0-1.5 1.5-1.5 0-1.5 6-6 0-12 1.5-1.5 1.5 0 6-6 1.5 0 1.5-1.5 1.5 0 3-3 1.5 0 1.5-1.5 10.5 0 1.5-1.5 1.5 0 1.5-1.5 0-1.5 7.5 0 1.5-1.5 3 0 1.5-1.5 18 0 1.5 1.5 4.5 0 1.5 1.5 1.5 0 4.5 4.5zM162 104l-1.5 1.5 0 1.5-3 3 1.5 1.5 1.5 0 1.5 1.5 1.5-1.5 0-6zM171 125l-1.5 0-1.5-1.5-1.5 0-1.5-1.5-1.5 1.5 0 3-1.5 1.5 0 1.5-1.5 0-4.5 4.5 0 1.5-1.5 1.5 0 9-1.5 1.5 1.5 1.5 3 0 1.5-1.5 1.5 0 1.5-1.5 0-9 1.5-1.5 0-1.5 3-3 1.5 0 1.5-1.5 1.5 0 1.5-1.5 0-1.5zM27 74l7.5 0 0 4.5 1.5 1.5 1.5 0 1.5 1.5 0 9-6 6-6 0z" fill="#f5b91e"/>
<path d="M207 45.5l4.5 4.5 1 0-1.1 12-1.2 6-4.3 10.5-8.8 13.5-2.1 4.5-.2 3 1.7 9-1.1 4.5-1.9 1.9-15.1 10.1-2.8 3-1.6 3-.9 4.5-.2 10.5-3.2 9-1.2 6-1.4 18-7.5 15-2.9 10.5-.4 6 1.5 10.5-.4 3-2.4 4.5-8.4 9-4.1 2.8-3 1.1-3 .5-3-.4-9.6-5.5-5.4-1.8-4.5-.3-9 .6-1.5 1.5 0 1.2-13.5 10.3-10.5 5.9-6 2.2-4.5 .7-4.5-.9-3-1.7-3.9-4.2-5-9-7.3-10.5-.3-3 1.5-1.5 0-1.5 1.5 0 1.5-1.5 1.5 0 1.5-1.5 9 0 1.5 1.5 12 0 1.5-1.5 0-6-1.5-1.5 0-1.5-1.5-1.5 0-3-1.5-1.5-3 0-1.5-1.5-3 0-1.5-1.5 0-12-1.5-1.5-1.5 0 0-10.5-1.5-1.5-1.5 1.5-1.5 0-1.5 1.5-10.5 0-1.5-1.5 0-25.5 1.5-1.5 3 0 1.5-1.5 0-1.5 1.5-1.5 1.5 0 1.5-1.5 3 0 1.5-1.5-1.5-1.5-3 0 0-13.5 1.5-1.5 0-1.5 1.5 0 1.5-1.5 12 0 1.5-1.5 9 0 0 6 1.5 1.5 1.5 0 1.5 1.5 0 9-1.5 1.5 0 1.5 3 3 0 1.5 4.5 4.5 0 1.5 1.5 1.5 0 3 1.5 1.5 3 0 1.5 1.5 1.5 0 3-3 1.5 0 1.5-1.5 3 0 1.5-1.5 3 0 1.5-1.5-1.5-1.5 0-15-1.5-1.5-1.5 0-1.5-1.5-1.5 0-3-3 0-1.5-1.5-1.5 0-4.5-1.5-1.5 0-22.5 1.5 0 1.5-1.5 1.5 0 3-3 1.5 0 1.5-1.5 1.5 0 1.5-1.5 1.5 0 1.5-1.5 0-1.5 1.5 0 3-3 1.5 0 1.5-1.5 0-1.5 1.5-1.5 0-1.5 6-6 0-12 1.5-1.5 1.5 0 6-6 1.5 0 1.5-1.5 1.5 0 3-3 1.5 0 1.5-1.5 10.5 0 1.5-1.5 1.5 0 1.5-1.5 0-1.5 7.5 0 1.5-1.5 3 0 1.5-1.5 18 0 1.5 1.5 4.5 0 1.5 1.5zM162 104l-1.5 1.5 0 1.5-3 3 1.5 1.5 1.5 0 1.5 1.5 1.5-1.5 0-6zM171 125l-1.5 0-1.5-1.5-1.5 0-1.5-1.5-1.5 1.5 0 3-1.5 1.5 0 1.5-1.5 0-4.5 4.5 0 1.5-1.5 1.5 0 9-1.5 1.5 1.5 1.5 3 0 1.5-1.5 1.5 0 1.5-1.5 0-9 1.5-1.5 0-1.5 3-3 1.5 0 1.5-1.5 1.5 0 1.5-1.5 0-1.5zM27 74l7.5 0 0 4.5 1.5 1.5 1.5 0 1.5 1.5 0 9-6 6-6 0z" fill="#f5af1e"/>
<path d="M203.9 44l.8 10.5-1.2 10.5-3.2 9-8.3 14.8-2 4.7-.8 6 .7 9-1 3-4.6 4.5-9.9 6-3.8 3-1.1 0-1.5-1.5-1.5 0-1.5-1.5-1.5 1.5 0 3-1.5 1.5 0 1.5-1.5 0-4.5 4.5 0 1.5-1.5 1.5 0 9-1.5 1.5 1.5 1.5 3 0 1.5-1.5 1.5 0 1.5-1.5 0-9 1.5-1.5 0-1.5 2.8-2.8-.9 2.8-.5 4.5-.9 21 .2 16.5-.7 3.3-7.3 11.7-7.7 17-.5 2.5 1.3 10.5-1.1 4.5-2.2 4.5-4.4 4.5-5.1 2-4.5-.5-12-4-6-.5-6 .6-9.8 3.9-12.7 7.9-7.5 3.5-4.5 1.1-3 .2-3-.7-3-1.6-3-3-4.6-7.4-3.2-6-3-7.5 1.8-1.5 9 0 1.5 1.5 12 0 1.5-1.5 0-6-1.5-1.5 0-1.5-1.5-1.5 0-3-1.5-1.5-3 0-1.5-1.5-3 0-1.5-1.5 0-12-1.5-1.5-1.5 0 0-10.5-1.5-1.5-1.5 1.5-1.5 0-1.5 1.5-10.5 0-1.5-1.5 0-25.5 1.5-1.5 3 0 1.5-1.5 0-1.5 1.5-1.5 1.5 0 1.5-1.5 3 0 1.5-1.5-1.5-1.5-3 0 0-13.5 1.5-1.5 0-1.5 1.5 0 1.5-1.5 12 0 1.5-1.5 9 0 0 6 1.5 1.5 1.5 0 1.5 1.5 0 9-1.5 1.5 0 1.5 3 3 0 1.5 4.5 4.5 0 1.5 1.5 1.5 0 3 1.5 1.5 3 0 1.5 1.5 1.5 0 3-3 1.5 0 1.5-1.5 3 0 1.5-1.5 3 0 1.5-1.5-1.5-1.5 0-15-1.5-1.5-1.5 0-1.5-1.5-1.5 0-3-3 0-1.5-1.5-1.5 0-4.5-1.5-1.5 0-22.5 1.5 0 1.5-1.5 1.5 0 3-3 1.5 0 1.5-1.5 1.5 0 1.5-1.5 1.5 0 1.5-1.5 0-1.5 1.5 0 3-3 1.5 0 1.5-1.5 0-1.5 1.5-1.5 0-1.5 6-6 0-12 1.5-1.5 1.5 0 6-6 1.5 0 1.5-1.5 1.5 0 3-3 1.5 0 1.5-1.5 10.5 0 1.5-1.5 1.5 0 1.5-1.5 0-1.5 7.5 0 1.5-1.5 3 0 1.5-1.5 18 0 1.5 1.5zM162 104l-1.5 1.5 0 1.5-3 3 1.5 1.5 1.5 0 1.5 1.5 1.5-1.5 0-6zM27 74l7.5 0 0 4.5 1.5 1.5 1.5 0 1.5 1.5 0 9-6 6-6 0z" fill="#f5a519"/>
<path d="M187.5 46.3l4.3 3.7 1.6 3 .8 4.5 .1 6-2.4 10.5-8.4 19.5-.9 4.5-.4 7.5-.7 3.7-1.3 2.3-1.7 1.6-12 5.2-8.2 5.2-4.9 4.5-1.5 3 .3 4.5 2.3 8 0 2.5-1.5 1.5 1.5 1.5 1.3 0 2.5 16.5 .6 9-.8 3-6.1 10.5-6.5 14.7-1.4 6.3-.4 10.5-2 6-2.4 3-4.3 2.3-4.5 .2-12-1.8-10.5-.2-14.5 4-17 7.7-4.5 .5-3-.6-1.5-.9-3-3-3.2-5.2-1.8-4.5-1-6 3 0 1.5 1.5 12 0 1.5-1.5 0-6-1.5-1.5 0-1.5-1.5-1.5 0-3-1.5-1.5-3 0-1.5-1.5-3 0-1.5-1.5 1.2-6-1.2-3.7 0-2.3-1.5-1.5-.8 0-.7-1.1 0-9.4-1.5-1.5-1.5 1.5-1 0-.8-6-.6-13.5-2-6-3.2-5.9 1.6-.1 1.5-1.5 3 0 1.5-1.5-1.5-1.5-3 0 0-13.5 1.5-1.5 0-1.5 1.5 0 1.5-1.5 12 0 1.5-1.5 9 0 0 6 1.5 1.5 1.5 0 1.5 1.5 0 9-1.5 1.5 0 1.5 3 3 0 1.5 4.5 4.5 0 1.5 1.5 1.5 0 3 1.5 1.5 3 0 1.5 1.5 1.5 0 3-3 1.5 0 1.5-1.5 3 0 1.5-1.5 3 0 1.5-1.5-1.5-1.5 0-15-1.5-1.5-1.5 0-1.5-1.5-1.5 0-3-3 0-1.5-1.5-1.5 0-4.5-1.5-1.5 0-13.1 4.5 1.2 4.5 .1 3-1.1 3-3.3 7.5-18.1 4.6-7.7 .7-2.3 3.7-3.7 0-12 1.5-1.5 1.5 0 6-6 1.5 0 1.5-1.5 1.5 0 3-3 1.5 0 1.5-1.5 10.5 0 1.5-1.5 1.5 0 1.5-1.5 0-1.5 7.5 0 1.5-1.5 3 0 1.5-1.5 .8 0zM162 104l-1.5 1.5 0 1.5-3 3 1.5 1.5 1.5 0 1.5 1.5 1.5-1.5 0-6zM27 74l7.5 0 0 4.5 1.5 1.5 1.5 0 1.5 1.5 0 9-6 6-6 0z" fill="#f59b19"/>
<path d="M180 66.1l1.1 1.9 .7 3-.8 7.5-2.5 6.6-4.5 6.7-3 2.7-6.9 3.5-3.8 7.5-2.7 3-3.1 2.4-6 2.9-9 3-3 .4-3-1-1.5-2.3-.8-3.9-.3-6 .6-4.5 1.3-3 3.5-4.5 10.7-8.8 1.2-1.7 .7-4.5-.9-10.5 .7-1.5 1.3-.9 3-.3 10.5 2.1 10.5-1.8 3 .4zM34.5 74l0 4.5 1.1 1.1-4.1 4.1-4.5 1.7 0-11.4zM69.9 128l3.6-1.2 6 0 0 2.7 1.5 1.5 1.5 0 1.5 1.5 0 9-1.5 1.5 0 1.5 3 3 0 1.5 4.5 4.5 0 1.5 1.5 1.5 0 3 1.5 1.5 3 0 1.5 1.5 1.5 0 3-3 1.5 0 1.5-1.5 3 0 1.5-1.5 3 0 1.5-1.5-1.5-1.5 0-15-1.5-1.5-1.5 0-1.5-1.5-1.5 0-3-3-.4-1.9 7.9 .1 13.5-2.2 4.5 0 4.5 2.8 6 7.5 3.3 5.7 2.3 6 3.8 15 .6 6-2.9 12-4.8 13.5-2.3 20.5-1.5 3.7-3 3.4-3 1.4-3 .4-12-.4-9-1.1-9 1.1-13.5-.3-3 .8-6 2.9-3 .5-3-.9-2-2-.5-1.5 .4-3 6.6 0 1.5-1.5 0-5.4 4.5-2.4 2.7-2.7 1.1-3 .5-4.5-.4-6-1.8-4.5-2.8-3-9.8-8.2-1.9-2.3-1.2-3-.3-4.5 1-15-.8-22.5 .4-3z" fill="#f58c19"/>
<path d="M87.2 150.7l2.8 2.8 0 1.5 1.5 1.5 0 3 1.5 1.5 3 0 1.5 1.5 1.5 0 3-3 1.5 0 1.5-1.5 3 0 1.5-1.5 3 0 1.5-1.5-1.5-1.5 0-5.1 13.5-.2 3 1 1.5 1.6 4.1 10.2 4.4 7.5 1 3 .5 4.5-1.5 7.5-4.8 10.5 2.5 12 0 6-1.7 4.6-3 3.1-3 1.3-4.5 .3-4.5-.5-3.7-1.3-2.1-1.5-3.6-4.5-5.6-5-3-3.8-2.7-4.7-1.7-4.5-1.6-12-1.1-3-1.9-1.9-8.7-5.6-2.2-3-1.2-3-.5-4.5 1-4.5 2.6-4.4z" fill="#f57d1e"/>
<path d="M115.5 162.1l3 .9 10.5 9.5 1.8 2 1.2 3-1.5 3.4-5.9 5.6-2.4 3-2.2 4.1-1.5 .9-2.3-.5-1.1-1.5-.3-1.5 1.1-13.5-3.4-10.5 .6-3zM126 205l1.5-.3 1.5 .6 2.1 2.2 .8 1.5-.1 1.5-1.3 1.7-3 .4-1.5-1-1.1-4.1z" fill="#f56923"/>
<path d="M133.1 71.5l21.1-12.6 42.2-6.4 6.3 14.8-2.1 38-6.3 14.8-19 2.1-12.7 16.8-16.9 6.4-16.8-4.2-21.1-14.8-2.1-16.9 18.9-21.1zM66 135l10 0 4 15 13 10 0 20-27 0-2-30zM50 156l13 0 0 14-13 0zM100 160l12-12 8-3 30 10 6 15-1 20-5 10-10 10-5 15-7 13-13-8-10-8-17 10-2 23-11 10-15-3-4-22 6-12 13 0-3-18-10-15 23-9 10-8 3-10zM238 208l17 0 0 18-15 0zM232 243l28 0 0 24-28 0z" fill="url(#dt)"/>
</g>
<path d="M205.7 120l5-1.1 2.3-2.8-1.5-2.9-2-2-1.9-1.8-2.7-.9-2.1 3-.4 2.3 1.3 3.6z" fill="#fff"/>
<rect x="92.6" y="79.2" width="2.3" height="3.3" rx=".6" fill="#f0e31a"/>
<g opacity=".12"><path d="M39.6 41.7V282.4M85.9 41.7V282.4M132.3 41.7V282.4M178.6 41.7V282.4M225.0 41.7V282.4M27.7 93.6H259.9M27.7 145.8H259.9M27.7 197.9H259.9M27.7 250.1H259.9" stroke="#e4e4e4" stroke-width="1.5" fill="none"/></g>
<use href="#coast"/><use href="#bord"/><use href="#rug"/>
</g>
<rect x="29.05" y="43.05" width="229.50" height="238.00" fill="none" stroke="#fff" stroke-width="2.7"/>
<path d="M33.8 41.7h5.9v2.7h-5.9zM62.7 41.7h23.3v2.7h-23.3zM109.2 41.7h23.4v2.7h-23.4zM155.3 41.7h23.4v2.7h-23.4zM201.7 41.7h23.5v2.7h-23.5zM242.3 41.7h17.6v2.7h-17.6zM27.7 279.7h6.6v2.7h-6.6zM39.5 279.7h23.5v2.7h-23.5zM86.0 279.7h23.0v2.7h-23.0zM132.6 279.7h23.2v2.7h-23.2zM179.0 279.7h22.8v2.7h-22.8zM225.0 279.7h17.5v2.7h-17.5zM27.7 67.5h2.7v26.2h-2.7zM27.7 120.0h2.7v25.8h-2.7zM27.7 172.0h2.7v26.4h-2.7zM27.7 224.7h2.7v25.3h-2.7zM27.7 265.6h2.7v16.8h-2.7zM257.2 41.7h2.7v25.8h-2.7zM257.2 93.7h2.7v26.3h-2.7zM257.2 145.8h2.7v26.2h-2.7zM257.2 198.4h2.7v26.3h-2.7zM257.2 250.0h2.7v15.6h-2.7z" fill="#000"/>
<rect x="28.00" y="42.00" width="231.60" height="240.10" fill="none" stroke="#000" stroke-width=".6"/>
<rect x="30.40" y="44.40" width="226.80" height="235.30" fill="none" stroke="#000" stroke-width=".5" stroke-opacity=".6"/>
<g font-family="Liberation Sans, sans-serif" font-size="10.4" fill="#000">
<text transform="translate(24.8 46.4) scale(0.923 1)" text-anchor="end">72<tspan font-size="7.4" dy="-5">o</tspan><tspan dy="5">N</tspan></text>
<text transform="translate(24.8 98.6) scale(0.923 1)" text-anchor="end">64<tspan font-size="7.4" dy="-5">o</tspan><tspan dy="5">N</tspan></text>
<text transform="translate(24.8 150.8) scale(0.923 1)" text-anchor="end">56<tspan font-size="7.4" dy="-5">o</tspan><tspan dy="5">N</tspan></text>
<text transform="translate(24.8 202.9) scale(0.923 1)" text-anchor="end">48<tspan font-size="7.4" dy="-5">o</tspan><tspan dy="5">N</tspan></text>
<text transform="translate(24.8 255.1) scale(0.923 1)" text-anchor="end">40<tspan font-size="7.4" dy="-5">o</tspan><tspan dy="5">N</tspan></text>
<text transform="translate(40.9 293.7) scale(0.923 1)" text-anchor="middle">12<tspan font-size="7.4" dy="-5">o</tspan><tspan dy="5">W</tspan></text>
<text transform="translate(87.2 293.7) scale(0.923 1)" text-anchor="middle">0<tspan font-size="7.4" dy="-5">o</tspan></text>
<text transform="translate(133.6 293.7) scale(0.923 1)" text-anchor="middle">12<tspan font-size="7.4" dy="-5">o</tspan><tspan dy="5">E</tspan></text>
<text transform="translate(179.9 293.7) scale(0.923 1)" text-anchor="middle">24<tspan font-size="7.4" dy="-5">o</tspan><tspan dy="5">E</tspan></text>
<text transform="translate(226.3 293.7) scale(0.923 1)" text-anchor="middle">36<tspan font-size="7.4" dy="-5">o</tspan><tspan dy="5">E</tspan></text>
<rect x="271.3" y="41.3" width="17.0" height="241.1" fill="#000"/>
<rect x="272.6" y="42.20" width="14.4" height="4.58" rx=".8" fill="#eb0096"/>
<rect x="272.6" y="48.38" width="14.4" height="4.58" rx=".8" fill="#f00a87"/>
<rect x="272.6" y="54.56" width="14.4" height="4.58" rx=".8" fill="#f01473"/>
<rect x="272.6" y="60.75" width="14.4" height="4.58" rx=".8" fill="#f0235f"/>
<rect x="272.6" y="66.93" width="14.4" height="4.58" rx=".8" fill="#f02d4b"/>
<rect x="272.6" y="73.11" width="14.4" height="4.58" rx=".8" fill="#f53c3c"/>
<rect x="272.6" y="79.29" width="14.4" height="4.58" rx=".8" fill="#f5552d"/>
<rect x="272.6" y="85.47" width="14.4" height="4.58" rx=".8" fill="#f56923"/>
<rect x="272.6" y="91.66" width="14.4" height="4.58" rx=".8" fill="#f57d1e"/>
<rect x="272.6" y="97.84" width="14.4" height="4.58" rx=".8" fill="#f58c19"/>
<rect x="272.6" y="104.02" width="14.4" height="4.58" rx=".8" fill="#f59b19"/>
<rect x="272.6" y="110.20" width="14.4" height="4.58" rx=".8" fill="#f5a519"/>
<rect x="272.6" y="116.38" width="14.4" height="4.58" rx=".8" fill="#f5af1e"/>
<rect x="272.6" y="122.57" width="14.4" height="4.58" rx=".8" fill="#f5b91e"/>
<rect x="272.6" y="128.75" width="14.4" height="4.58" rx=".8" fill="#f5c319"/>
<rect x="272.6" y="134.93" width="14.4" height="4.58" rx=".8" fill="#f5cd14"/>
<rect x="272.6" y="141.11" width="14.4" height="4.58" rx=".8" fill="#f5d714"/>
<rect x="272.6" y="147.29" width="14.4" height="4.58" rx=".8" fill="#f5e40a"/>
<rect x="272.6" y="153.48" width="14.4" height="4.58" rx=".8" fill="#f0e464"/>
<rect x="272.6" y="159.66" width="14.4" height="4.58" rx=".8" fill="#f7eea5"/>
<rect x="272.6" y="165.84" width="14.4" height="4.58" rx=".8" fill="#faf5d2"/>
<rect x="272.6" y="172.02" width="14.4" height="4.58" rx=".8" fill="#ffffff"/>
<rect x="272.6" y="178.21" width="14.4" height="4.58" rx=".8" fill="#8ce8af"/>
<rect x="272.6" y="184.39" width="14.4" height="4.58" rx=".8" fill="#00e150"/>
<rect x="272.6" y="190.57" width="14.4" height="4.58" rx=".8" fill="#00e80a"/>
<rect x="272.6" y="196.75" width="14.4" height="4.58" rx=".8" fill="#00e128"/>
<rect x="272.6" y="202.93" width="14.4" height="4.58" rx=".8" fill="#00d46e"/>
<rect x="272.6" y="209.12" width="14.4" height="4.58" rx=".8" fill="#00d0a0"/>
<rect x="272.6" y="215.30" width="14.4" height="4.58" rx=".8" fill="#14c6c8"/>
<rect x="272.6" y="221.48" width="14.4" height="4.58" rx=".8" fill="#14b7e8"/>
<rect x="272.6" y="227.66" width="14.4" height="4.58" rx=".8" fill="#0aa5f8"/>
<rect x="272.6" y="233.84" width="14.4" height="4.58" rx=".8" fill="#0a8efa"/>
<rect x="272.6" y="240.03" width="14.4" height="4.58" rx=".8" fill="#0a76fa"/>
<rect x="272.6" y="246.21" width="14.4" height="4.58" rx=".8" fill="#0a5cfa"/>
<rect x="272.6" y="252.39" width="14.4" height="4.58" rx=".8" fill="#003efa"/>
<rect x="272.6" y="258.57" width="14.4" height="4.58" rx=".8" fill="#4b2df0"/>
<rect x="272.6" y="264.75" width="14.4" height="4.58" rx=".8" fill="#6e1ef0"/>
<rect x="272.6" y="270.94" width="14.4" height="4.58" rx=".8" fill="#960ae6"/>
<rect x="272.6" y="277.12" width="14.4" height="4.58" rx=".8" fill="#c800dc"/>
<text transform="translate(295.4 57.6) scale(0.923 1)" text-anchor="start">0.5</text>
<text transform="translate(295.4 82.3) scale(0.923 1)" text-anchor="start">0.4</text>
<text transform="translate(295.4 107.0) scale(0.923 1)" text-anchor="start">0.3</text>
<text transform="translate(295.4 131.7) scale(0.923 1)" text-anchor="start">0.2</text>
<text transform="translate(295.4 156.4) scale(0.923 1)" text-anchor="start">0.1</text>
<text transform="translate(295.4 181.1) scale(0.923 1)" text-anchor="start">0</text>
<text transform="translate(290.4 205.8) scale(0.923 1)" text-anchor="start">-0.1</text>
<text transform="translate(290.4 230.5) scale(0.923 1)" text-anchor="start">-0.2</text>
<text transform="translate(290.4 255.2) scale(0.923 1)" text-anchor="start">-0.3</text>
<text transform="translate(290.4 279.9) scale(0.923 1)" text-anchor="start">-0.4</text>
<text transform="translate(323.3,159) rotate(-90)" font-size="12.1" font-weight="bold" text-anchor="middle" fill="#111">correlation coefficient</text>
</g>
<g font-family="Liberation Sans, sans-serif" font-size="14.4" font-weight="bold" text-anchor="middle" fill="#000" stroke="#000" stroke-width=".25"><text x="143.8" y="17.6">Correlation Map</text><text x="143.8" y="34">EAWR Index JFM vs. TT MAM</text></g>
<text x="198.7" y="323.5" font-family="Liberation Serif, serif" font-size="24" font-weight="bold" text-anchor="middle" fill="#111"><tspan font-weight="normal" font-size="25.5" stroke="#111" stroke-width=".45">(</tspan>c<tspan font-weight="normal" font-size="25.5" stroke="#111" stroke-width=".45">)</tspan></text>
</g>
</svg></body></html>
